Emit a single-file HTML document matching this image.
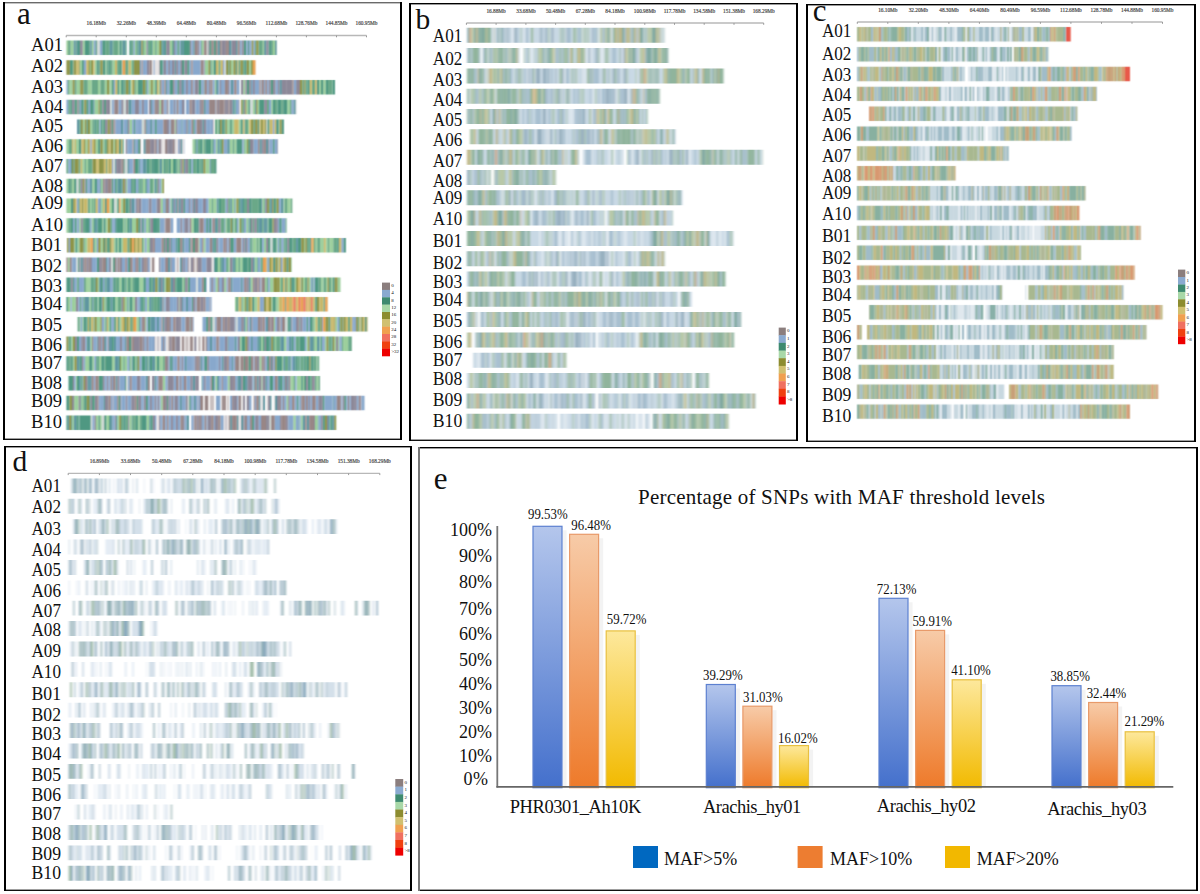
<!DOCTYPE html>
<html><head><meta charset="utf-8"><style>
html,body{margin:0;padding:0;background:#fff;width:1200px;height:894px;overflow:hidden}
svg{display:block}
text{font-family:"Liberation Serif",serif;fill:#111}
</style></head><body>
<svg width="1200" height="894" viewBox="0 0 1200 894">
<rect width="1200" height="894" fill="#fff"/>
<defs><filter id="bl" x="-1%" y="-5%" width="102%" height="110%"><feConvolveMatrix order="3 3" kernelMatrix="0.02 0.06 0.02 0.2 0.4 0.2 0.02 0.06 0.02" preserveAlpha="false"/></filter><filter id="bl2" x="-1%" y="-5%" width="102%" height="110%"><feGaussianBlur stdDeviation="0.85 0.3"/></filter><filter id="bl4" x="-1%" y="-5%" width="102%" height="110%"><feConvolveMatrix order="3 3" kernelMatrix="0.02 0.06 0.02 0.2 0.4 0.2 0.02 0.06 0.02" preserveAlpha="false"/></filter><filter id="bl3" x="-1%" y="-5%" width="102%" height="110%"><feGaussianBlur stdDeviation="0.8 0.3"/></filter><linearGradient id="gb" x1="0" y1="0" x2="0" y2="1"><stop offset="0" stop-color="#b4c6ec"/><stop offset="1" stop-color="#4470cc"/></linearGradient><linearGradient id="go" x1="0" y1="0" x2="0" y2="1"><stop offset="0" stop-color="#f7cba8"/><stop offset="1" stop-color="#ee7a2a"/></linearGradient><linearGradient id="gy" x1="0" y1="0" x2="0" y2="1"><stop offset="0" stop-color="#fde89c"/><stop offset="1" stop-color="#f2ba00"/></linearGradient></defs><g filter="url(#bl)"><path fill="#9ccf9c" d="M66.4 40.5h1.7v14.5h-1.7zM70.6 40.5h1.8v14.5h-1.8zM72.4 40.5h1.3v14.5h-1.3zM82.7 40.5h2v14.5h-2zM91.9 40.5h1.8v14.5h-1.8zM118.3 40.5h1.1v14.5h-1.1zM134.9 40.5h1.2v14.5h-1.2zM144 40.5h2.4v14.5h-2.4zM152.6 40.5h1.1v14.5h-1.1zM153.7 40.5h1.4v14.5h-1.4zM156.7 40.5h2.5v14.5h-2.5zM169.8 40.5h2.4v14.5h-2.4zM201.7 40.5h2.1v14.5h-2.1zM262.8 40.5h1.2v14.5h-1.2zM273 40.5h2v14.5h-2zM79.9 60.2h2v14.5h-2zM90 60.2h1v14.5h-1zM94.6 60.2h2.1v14.5h-2.1zM105.3 60.2h1.2v14.5h-1.2zM112.5 60.2h2.5v14.5h-2.5zM130.9 60.2h1.1v14.5h-1.1zM205 60.2h1.8v14.5h-1.8zM206.8 60.2h1.6v14.5h-1.6zM211.6 60.2h2v14.5h-2zM231.1 60.2h2.3v14.5h-2.3zM249.1 60.2h1.9v14.5h-1.9zM69.2 80h1.5v14.5h-1.5zM70.8 80h1.8v14.5h-1.8zM76.7 80h1.3v14.5h-1.3zM78 80h2.2v14.5h-2.2zM87.8 80h2v14.5h-2zM89.8 80h2v14.5h-2zM98 80h2.3v14.5h-2.3zM104.8 80h2.2v14.5h-2.2zM109.2 80h1.5v14.5h-1.5zM110.8 80h1v14.5h-1zM119.3 80h1.9v14.5h-1.9zM130.4 80h1.4v14.5h-1.4zM135.9 80h1.9v14.5h-1.9zM148.2 80h1.3v14.5h-1.3zM149.5 80h1.3v14.5h-1.3zM152.8 80h2.5v14.5h-2.5zM158.7 80h1.3v14.5h-1.3zM214.7 80h1.4v14.5h-1.4zM243.3 80h2v14.5h-2zM319.2 80h1.8v14.5h-1.8zM323.2 80h2.5v14.5h-2.5zM94.6 99.7h1.5v14.5h-1.5zM96.1 99.7h2.3v14.5h-2.3zM159.2 99.7h1.7v14.5h-1.7zM246.5 99.7h1.9v14.5h-1.9zM252.7 99.7h2.3v14.5h-2.3zM257.7 99.7h1.4v14.5h-1.4zM271.1 99.7h1.6v14.5h-1.6zM287.3 99.7h2.5v14.5h-2.5zM82.9 119.5h1.8v14.5h-1.8zM90.1 119.5h2.2v14.5h-2.2zM129.6 119.5h2.5v14.5h-2.5zM174.7 119.5h1.1v14.5h-1.1zM217.3 119.5h1.4v14.5h-1.4zM226.9 119.5h1v14.5h-1zM228 119.5h1.7v14.5h-1.7zM232.2 119.5h1.9v14.5h-1.9zM238.7 119.5h2v14.5h-2zM248.1 119.5h1.1v14.5h-1.1zM278.6 119.5h1.1v14.5h-1.1zM66.4 139.2h2.4v14.5h-2.4zM73.4 139.2h1.3v14.5h-1.3zM76 139.2h1.3v14.5h-1.3zM77.3 139.2h1.5v14.5h-1.5zM85.4 139.2h2.1v14.5h-2.1zM95.6 139.2h2.5v14.5h-2.5zM102.7 139.2h1.5v14.5h-1.5zM113.4 139.2h1.5v14.5h-1.5zM192.6 139.2h2v14.5h-2zM202.6 139.2h1.2v14.5h-1.2zM211.2 139.2h1v14.5h-1zM215.7 139.2h1.9v14.5h-1.9zM229.7 139.2h1.3v14.5h-1.3zM230.9 139.2h1.8v14.5h-1.8zM234.3 139.2h2.2v14.5h-2.2zM244.7 139.2h2.2v14.5h-2.2zM82.2 158.9h2.3v14.5h-2.3zM85.9 158.9h2v14.5h-2zM161.9 158.9h1.6v14.5h-1.6zM170.8 158.9h2.2v14.5h-2.2zM177.8 158.9h1v14.5h-1zM205.4 158.9h2.4v14.5h-2.4zM207.8 158.9h1.8v14.5h-1.8zM66.4 178.7h2v14.5h-2zM72.2 178.7h1.9v14.5h-1.9zM92.2 178.7h2.3v14.5h-2.3zM100.9 178.7h1.7v14.5h-1.7zM125.9 178.7h1.3v14.5h-1.3zM142.8 178.7h2.5v14.5h-2.5zM153.1 178.7h1.2v14.5h-1.2zM161.1 178.7h1.4v14.5h-1.4zM66.4 198.4h2.1v14.5h-2.1zM68.5 198.4h2.5v14.5h-2.5zM89.9 198.4h1.9v14.5h-1.9zM93 198.4h1.1v14.5h-1.1zM101.3 198.4h1.8v14.5h-1.8zM109.4 198.4h2.6v14.5h-2.6zM116.4 198.4h1.1v14.5h-1.1zM120.5 198.4h1.3v14.5h-1.3zM121.9 198.4h1.2v14.5h-1.2zM160.6 198.4h2.4v14.5h-2.4zM170.3 198.4h1.5v14.5h-1.5zM208.5 198.4h1.5v14.5h-1.5zM210 198.4h1.6v14.5h-1.6zM213.2 198.4h2v14.5h-2zM215.1 198.4h1.5v14.5h-1.5zM232 198.4h2.3v14.5h-2.3zM235.4 198.4h1.1v14.5h-1.1zM262.3 198.4h2.1v14.5h-2.1zM283.4 198.4h1.3v14.5h-1.3zM287.2 198.4h1.9v14.5h-1.9zM289.2 198.4h1.6v14.5h-1.6zM66.4 218.2h1.9v14.5h-1.9zM79.1 218.2h1.7v14.5h-1.7zM91.6 218.2h1.9v14.5h-1.9zM102.1 218.2h1.3v14.5h-1.3zM105.4 218.2h2.2v14.5h-2.2zM123.1 218.2h1.2v14.5h-1.2zM125.7 218.2h1.4v14.5h-1.4zM131.9 218.2h2v14.5h-2zM133.9 218.2h2.2v14.5h-2.2zM146 218.2h2.5v14.5h-2.5zM191.3 218.2h2.5v14.5h-2.5zM225.4 218.2h1.4v14.5h-1.4zM233.4 218.2h1.4v14.5h-1.4zM238.4 218.2h1.4v14.5h-1.4zM246.2 218.2h2.3v14.5h-2.3zM267.4 218.2h1v14.5h-1zM74.2 237.9h1.2v14.5h-1.2zM77.3 237.9h2.2v14.5h-2.2zM84.8 237.9h2.5v14.5h-2.5zM94.5 237.9h2.4v14.5h-2.4zM100.7 237.9h2.2v14.5h-2.2zM113.6 237.9h2v14.5h-2zM117.4 237.9h1.5v14.5h-1.5zM121.3 237.9h1.7v14.5h-1.7zM143.1 237.9h1.6v14.5h-1.6zM146.5 237.9h1.8v14.5h-1.8zM148.3 237.9h1v14.5h-1zM198.5 237.9h1.2v14.5h-1.2zM203.4 237.9h2.2v14.5h-2.2zM252.5 237.9h1.6v14.5h-1.6zM254.1 237.9h2.5v14.5h-2.5zM258.2 237.9h1.4v14.5h-1.4zM263.9 237.9h2.2v14.5h-2.2zM276.5 237.9h1.2v14.5h-1.2zM304.1 237.9h1.1v14.5h-1.1zM315.3 237.9h1.8v14.5h-1.8zM320.2 237.9h2.1v14.5h-2.1zM322.3 237.9h1.6v14.5h-1.6zM325.7 237.9h2v14.5h-2zM329.1 237.9h1.7v14.5h-1.7zM330.9 237.9h2.4v14.5h-2.4zM67.8 257.6h1.9v14.5h-1.9zM217.8 257.6h2.3v14.5h-2.3zM228.2 257.6h1.6v14.5h-1.6zM235.9 257.6h2.6v14.5h-2.6zM240.3 257.6h2.4v14.5h-2.4zM254.7 257.6h1.9v14.5h-1.9zM291 257.6h0.7v14.5h-0.7zM85.9 277.4h2.1v14.5h-2.1zM88.1 277.4h1.1v14.5h-1.1zM89.2 277.4h1.6v14.5h-1.6zM97.9 277.4h1.3v14.5h-1.3zM119.2 277.4h2.4v14.5h-2.4zM126.6 277.4h1.3v14.5h-1.3zM131 277.4h1.2v14.5h-1.2zM139.3 277.4h2.4v14.5h-2.4zM141.8 277.4h1.6v14.5h-1.6zM164.3 277.4h1.6v14.5h-1.6zM182.4 277.4h1.5v14.5h-1.5zM215.5 277.4h2.3v14.5h-2.3zM224.2 277.4h2.1v14.5h-2.1zM250.6 277.4h2.1v14.5h-2.1zM265 277.4h1.5v14.5h-1.5zM269.9 277.4h1.8v14.5h-1.8zM271.7 277.4h1.8v14.5h-1.8zM279.8 277.4h1.2v14.5h-1.2zM287.6 277.4h2.4v14.5h-2.4zM294.8 277.4h1.3v14.5h-1.3zM303 277.4h2v14.5h-2zM308.8 277.4h2v14.5h-2zM321.2 277.4h1.1v14.5h-1.1zM322.2 277.4h1.2v14.5h-1.2zM326 277.4h1.4v14.5h-1.4zM331.1 277.4h1.5v14.5h-1.5zM337.6 277.4h2.3v14.5h-2.3zM339.9 277.4h0.6v14.5h-0.6zM68 297.1h2.6v14.5h-2.6zM71.8 297.1h2v14.5h-2zM73.7 297.1h2.2v14.5h-2.2zM89.2 297.1h1.6v14.5h-1.6zM97.4 297.1h1.2v14.5h-1.2zM103.9 297.1h1.6v14.5h-1.6zM115.3 297.1h2.3v14.5h-2.3zM124.8 297.1h2.4v14.5h-2.4zM128.4 297.1h1.1v14.5h-1.1zM132.3 297.1h2.6v14.5h-2.6zM147.1 297.1h2.1v14.5h-2.1zM178.6 297.1h1v14.5h-1zM235 297.1h1.1v14.5h-1.1zM242.5 297.1h2.3v14.5h-2.3zM254.3 297.1h1.5v14.5h-1.5zM255.8 297.1h1.6v14.5h-1.6zM271.3 297.1h1.5v14.5h-1.5zM276.4 297.1h2.4v14.5h-2.4zM279.9 297.1h0.1v14.5h-0.1zM79.6 316.9h1.1v14.5h-1.1zM82.2 316.9h1.3v14.5h-1.3zM96.7 316.9h2.5v14.5h-2.5zM99.2 316.9h1.1v14.5h-1.1zM104.2 316.9h1.2v14.5h-1.2zM108.1 316.9h1.7v14.5h-1.7zM119.5 316.9h2v14.5h-2zM136.3 316.9h2.1v14.5h-2.1zM145.2 316.9h1.2v14.5h-1.2zM245.5 316.9h1.5v14.5h-1.5zM273.9 316.9h1.2v14.5h-1.2zM313.7 316.9h1.9v14.5h-1.9zM335.6 316.9h1.8v14.5h-1.8zM71.4 336.6h1.4v14.5h-1.4zM90.3 336.6h1.6v14.5h-1.6zM240 336.6h1.5v14.5h-1.5zM261.2 336.6h1.8v14.5h-1.8zM274.8 336.6h1.2v14.5h-1.2zM283.9 336.6h2.6v14.5h-2.6zM306.4 336.6h1.7v14.5h-1.7zM314.7 336.6h2.3v14.5h-2.3zM319.5 336.6h1v14.5h-1zM324.8 336.6h1.5v14.5h-1.5zM334.4 336.6h1.7v14.5h-1.7zM338.1 336.6h1.3v14.5h-1.3zM343.1 336.6h2.6v14.5h-2.6zM345.7 336.6h2.6v14.5h-2.6zM73.2 356.3h1.2v14.5h-1.2zM85.1 356.3h1.6v14.5h-1.6zM86.7 356.3h2.3v14.5h-2.3zM92.4 356.3h2v14.5h-2zM99 356.3h2.2v14.5h-2.2zM112.1 356.3h1.4v14.5h-1.4zM113.5 356.3h1.3v14.5h-1.3zM121 356.3h2.3v14.5h-2.3zM124.8 356.3h2.4v14.5h-2.4zM129.9 356.3h1.7v14.5h-1.7zM135 356.3h1.4v14.5h-1.4zM155.2 356.3h1.7v14.5h-1.7zM159.3 356.3h1.5v14.5h-1.5zM160.8 356.3h2.1v14.5h-2.1zM164.8 356.3h0.2v14.5h-0.2zM259.4 356.3h2.2v14.5h-2.2zM282.1 356.3h1.1v14.5h-1.1zM316.4 356.3h1v14.5h-1zM319.1 356.3h0.1v14.5h-0.1zM75.6 376.1h1.2v14.5h-1.2zM162.8 376.1h2.6v14.5h-2.6zM215.3 376.1h1.9v14.5h-1.9zM227.6 376.1h2.2v14.5h-2.2zM261.3 376.1h1.3v14.5h-1.3zM290.3 376.1h1v14.5h-1zM291.4 376.1h2.4v14.5h-2.4zM296.7 376.1h2v14.5h-2zM298.6 376.1h2.6v14.5h-2.6zM302.9 376.1h1.2v14.5h-1.2zM316.5 376.1h2v14.5h-2zM74.1 395.8h2.2v14.5h-2.2zM76.3 395.8h2.4v14.5h-2.4zM81.7 395.8h1.5v14.5h-1.5zM94.6 395.8h0.4v14.5h-0.4zM160.6 395.8h2.1v14.5h-2.1zM286.4 395.8h1.8v14.5h-1.8zM72.4 415.6h1.5v14.5h-1.5zM96 415.6h2.5v14.5h-2.5zM99.9 415.6h1.9v14.5h-1.9zM106.4 415.6h2.6v14.5h-2.6zM117.3 415.6h1.9v14.5h-1.9zM129.3 415.6h2.3v14.5h-2.3zM138.1 415.6h1.6v14.5h-1.6zM146.6 415.6h2.5v14.5h-2.5zM293.3 415.6h2.5v14.5h-2.5zM300.7 415.6h2v14.5h-2zM315 415.6h2.5v14.5h-2.5z"/><path fill="#6aa888" d="M68.1 40.5h2.5v14.5h-2.5zM75.7 40.5h1.2v14.5h-1.2zM89.1 40.5h1v14.5h-1zM105.2 40.5h2.2v14.5h-2.2zM107.4 40.5h2.4v14.5h-2.4zM113.3 40.5h2.5v14.5h-2.5zM115.7 40.5h2.6v14.5h-2.6zM121.7 40.5h1.1v14.5h-1.1zM131.7 40.5h1.9v14.5h-1.9zM136.1 40.5h1.2v14.5h-1.2zM142.7 40.5h1.3v14.5h-1.3zM148.9 40.5h2.2v14.5h-2.2zM155.1 40.5h1.6v14.5h-1.6zM177.7 40.5h2v14.5h-2zM254.9 40.5h1.3v14.5h-1.3zM258.5 40.5h2.4v14.5h-2.4zM260.9 40.5h1.9v14.5h-1.9zM271.7 40.5h1.3v14.5h-1.3zM276.6 40.5h0.4v14.5h-0.4zM72 60.2h1.5v14.5h-1.5zM98.7 60.2h1.6v14.5h-1.6zM106.5 60.2h2v14.5h-2zM110.1 60.2h2.4v14.5h-2.4zM117.1 60.2h2.2v14.5h-2.2zM121.2 60.2h1.3v14.5h-1.3zM125.1 60.2h1.9v14.5h-1.9zM127 60.2h1.5v14.5h-1.5zM132 60.2h1.9v14.5h-1.9zM218.4 60.2h2.2v14.5h-2.2zM238.3 60.2h2.1v14.5h-2.1zM243 60.2h1.8v14.5h-1.8zM67.5 80h1.7v14.5h-1.7zM74.5 80h2.1v14.5h-2.1zM83.3 80h2.4v14.5h-2.4zM85.7 80h2.1v14.5h-2.1zM91.8 80h2.6v14.5h-2.6zM94.4 80h1.4v14.5h-1.4zM95.8 80h2.2v14.5h-2.2zM100.3 80h2.4v14.5h-2.4zM102.7 80h2.1v14.5h-2.1zM123.7 80h2.1v14.5h-2.1zM134.5 80h1.4v14.5h-1.4zM145.2 80h2v14.5h-2zM302.3 80h1.9v14.5h-1.9zM305.3 80h2.2v14.5h-2.2zM311.9 80h1.4v14.5h-1.4zM313.2 80h1.8v14.5h-1.8zM328 80h2.4v14.5h-2.4zM330.3 80h2.3v14.5h-2.3zM68.2 99.7h2.3v14.5h-2.3zM76 99.7h1.3v14.5h-1.3zM78.8 99.7h1.1v14.5h-1.1zM83.3 99.7h1.1v14.5h-1.1zM99.8 99.7h2.5v14.5h-2.5zM242.5 99.7h1.6v14.5h-1.6zM266.9 99.7h2.1v14.5h-2.1zM275 99.7h1.3v14.5h-1.3zM276.3 99.7h1.2v14.5h-1.2zM281.2 99.7h1.9v14.5h-1.9zM289.8 99.7h1.8v14.5h-1.8zM79.3 119.5h1.7v14.5h-1.7zM92.3 119.5h2.2v14.5h-2.2zM96.4 119.5h1.2v14.5h-1.2zM97.6 119.5h1.8v14.5h-1.8zM102.4 119.5h1.5v14.5h-1.5zM215 119.5h2.3v14.5h-2.3zM223.7 119.5h1.9v14.5h-1.9zM229.7 119.5h1.4v14.5h-1.4zM231.1 119.5h1.1v14.5h-1.1zM242.1 119.5h1.1v14.5h-1.1zM245.8 119.5h2.3v14.5h-2.3zM253.3 119.5h1.8v14.5h-1.8zM68.8 139.2h1.6v14.5h-1.6zM70.4 139.2h1.6v14.5h-1.6zM104.3 139.2h1.1v14.5h-1.1zM105.4 139.2h1.5v14.5h-1.5zM194.6 139.2h1.7v14.5h-1.7zM197.7 139.2h2.4v14.5h-2.4zM203.8 139.2h1.5v14.5h-1.5zM219.4 139.2h2.6v14.5h-2.6zM232.7 139.2h1.6v14.5h-1.6zM243.5 139.2h1.2v14.5h-1.2zM66.4 158.9h2v14.5h-2zM78.7 158.9h1.9v14.5h-1.9zM84.5 158.9h1.5v14.5h-1.5zM87.9 158.9h2.6v14.5h-2.6zM90.5 158.9h2.1v14.5h-2.1zM105.9 158.9h1.4v14.5h-1.4zM149.2 158.9h2.5v14.5h-2.5zM158.2 158.9h1.6v14.5h-1.6zM165.1 158.9h2.4v14.5h-2.4zM167.5 158.9h1.2v14.5h-1.2zM176.3 158.9h1.6v14.5h-1.6zM178.9 158.9h1.6v14.5h-1.6zM188.1 158.9h1.4v14.5h-1.4zM193 158.9h2.5v14.5h-2.5zM195.5 158.9h1.3v14.5h-1.3zM199.4 158.9h2v14.5h-2zM210.8 158.9h2.1v14.5h-2.1zM212.9 158.9h2.1v14.5h-2.1zM70.2 178.7h2v14.5h-2zM78.4 178.7h2.2v14.5h-2.2zM116.6 178.7h1.1v14.5h-1.1zM132.7 178.7h1.5v14.5h-1.5zM139.5 178.7h2.1v14.5h-2.1zM149.5 178.7h2.2v14.5h-2.2zM151.6 178.7h1.5v14.5h-1.5zM156.1 178.7h1.7v14.5h-1.7zM87.6 198.4h2.3v14.5h-2.3zM91.8 198.4h1.2v14.5h-1.2zM128.5 198.4h1.4v14.5h-1.4zM129.9 198.4h0.1v14.5h-0.1zM211.6 198.4h1.6v14.5h-1.6zM221 198.4h2.3v14.5h-2.3zM223.2 198.4h2.4v14.5h-2.4zM228.2 198.4h2.3v14.5h-2.3zM244.8 198.4h2.2v14.5h-2.2zM251.5 198.4h2.3v14.5h-2.3zM253.8 198.4h2.2v14.5h-2.2zM256 198.4h1.7v14.5h-1.7zM257.7 198.4h1.2v14.5h-1.2zM268.9 198.4h1.3v14.5h-1.3zM275 198.4h1.7v14.5h-1.7zM284.7 198.4h1.3v14.5h-1.3zM286 198.4h1.3v14.5h-1.3zM290.8 198.4h1.5v14.5h-1.5zM68.3 218.2h2.6v14.5h-2.6zM82.7 218.2h2.5v14.5h-2.5zM110.1 218.2h2.1v14.5h-2.1zM124.3 218.2h1.4v14.5h-1.4zM143.1 218.2h1.4v14.5h-1.4zM148.5 218.2h1.9v14.5h-1.9zM159.4 218.2h0.6v14.5h-0.6zM220.5 218.2h2.3v14.5h-2.3zM222.8 218.2h1.5v14.5h-1.5zM226.8 218.2h1.8v14.5h-1.8zM228.6 218.2h2.1v14.5h-2.1zM234.8 218.2h2.3v14.5h-2.3zM242.5 218.2h1.5v14.5h-1.5zM252.6 218.2h1.6v14.5h-1.6zM262.1 218.2h1.6v14.5h-1.6zM285.3 218.2h1.3v14.5h-1.3zM83.3 237.9h1.5v14.5h-1.5zM106.6 237.9h1.4v14.5h-1.4zM127.2 237.9h2.5v14.5h-2.5zM250 237.9h1.4v14.5h-1.4zM256.6 237.9h1.7v14.5h-1.7zM279.2 237.9h2.2v14.5h-2.2zM283.5 237.9h2.1v14.5h-2.1zM292.7 237.9h2.1v14.5h-2.1zM294.8 237.9h1.2v14.5h-1.2zM307 237.9h2.5v14.5h-2.5zM314 237.9h1.4v14.5h-1.4zM317.2 237.9h1.6v14.5h-1.6zM318.8 237.9h1.4v14.5h-1.4zM327.7 237.9h1.5v14.5h-1.5zM333.3 237.9h1.6v14.5h-1.6zM334.9 237.9h2.6v14.5h-2.6zM226.1 257.6h2.2v14.5h-2.2zM238.4 257.6h1.8v14.5h-1.8zM247.8 257.6h1.2v14.5h-1.2zM256.6 257.6h1.3v14.5h-1.3zM260.3 257.6h1.3v14.5h-1.3zM261.7 257.6h1.3v14.5h-1.3zM266.5 257.6h1.1v14.5h-1.1zM277.6 257.6h1.1v14.5h-1.1zM77.6 277.4h1.4v14.5h-1.4zM83.9 277.4h2v14.5h-2zM91.8 277.4h2.6v14.5h-2.6zM115.7 277.4h2.4v14.5h-2.4zM124.1 277.4h1.2v14.5h-1.2zM129.1 277.4h1.9v14.5h-1.9zM132.2 277.4h1.8v14.5h-1.8zM151.5 277.4h1.5v14.5h-1.5zM157.3 277.4h1.3v14.5h-1.3zM175 277.4h1.2v14.5h-1.2zM183.9 277.4h1.3v14.5h-1.3zM187.6 277.4h1.4v14.5h-1.4zM266.5 277.4h1.8v14.5h-1.8zM281 277.4h2v14.5h-2zM284.7 277.4h1.6v14.5h-1.6zM300.6 277.4h1.2v14.5h-1.2zM305 277.4h2.4v14.5h-2.4zM318.7 277.4h2.4v14.5h-2.4zM323.5 277.4h2.5v14.5h-2.5zM328.9 277.4h2.2v14.5h-2.2zM80 297.1h1.6v14.5h-1.6zM83.2 297.1h1.6v14.5h-1.6zM90.8 297.1h1.4v14.5h-1.4zM93.4 297.1h2.5v14.5h-2.5zM105.4 297.1h1.3v14.5h-1.3zM117.6 297.1h1v14.5h-1zM118.6 297.1h2v14.5h-2zM120.6 297.1h1.1v14.5h-1.1zM143.4 297.1h1.8v14.5h-1.8zM153.7 297.1h2.5v14.5h-2.5zM156.2 297.1h1.7v14.5h-1.7zM159.8 297.1h0.2v14.5h-0.2zM236.1 297.1h2.5v14.5h-2.5zM246.1 297.1h1v14.5h-1zM275.1 297.1h1.3v14.5h-1.3zM284.8 297.1h1.4v14.5h-1.4zM314.8 297.1h2.3v14.5h-2.3zM323.4 297.1h1.8v14.5h-1.8zM77.6 316.9h2v14.5h-2zM86.5 316.9h1.5v14.5h-1.5zM89 316.9h2.2v14.5h-2.2zM113.9 316.9h2.5v14.5h-2.5zM130.1 316.9h2.3v14.5h-2.3zM138.5 316.9h1.5v14.5h-1.5zM312.2 316.9h1.5v14.5h-1.5zM317.4 316.9h1.5v14.5h-1.5zM318.9 316.9h1.6v14.5h-1.6zM339 316.9h1.5v14.5h-1.5zM347.9 316.9h2.1v14.5h-2.1zM357.7 316.9h1.6v14.5h-1.6zM360.4 316.9h1.1v14.5h-1.1zM68.3 336.6h1.7v14.5h-1.7zM70 336.6h1.4v14.5h-1.4zM273 336.6h1.9v14.5h-1.9zM276.1 336.6h1.8v14.5h-1.8zM277.9 336.6h1.3v14.5h-1.3zM279.2 336.6h1.2v14.5h-1.2zM295.5 336.6h2.2v14.5h-2.2zM297.7 336.6h2v14.5h-2zM313.1 336.6h1.6v14.5h-1.6zM328.3 336.6h1.4v14.5h-1.4zM329.7 336.6h1.8v14.5h-1.8zM341.5 336.6h1.6v14.5h-1.6zM348.2 336.6h2v14.5h-2zM350.2 336.6h1.6v14.5h-1.6zM68.1 356.3h2.5v14.5h-2.5zM71.9 356.3h1.3v14.5h-1.3zM95.9 356.3h1.7v14.5h-1.7zM104.5 356.3h1.5v14.5h-1.5zM123.3 356.3h1.5v14.5h-1.5zM147.1 356.3h1.5v14.5h-1.5zM163 356.3h1.8v14.5h-1.8zM284.8 356.3h1.3v14.5h-1.3zM286.1 356.3h2v14.5h-2zM290.3 356.3h1.2v14.5h-1.2zM297.7 356.3h1.7v14.5h-1.7zM300.6 356.3h1.5v14.5h-1.5zM302.1 356.3h1.4v14.5h-1.4zM304.8 356.3h2.1v14.5h-2.1zM313.6 356.3h1.6v14.5h-1.6zM315.2 356.3h1.3v14.5h-1.3zM317.5 356.3h1.6v14.5h-1.6zM80.9 376.1h1.5v14.5h-1.5zM293.7 376.1h1.6v14.5h-1.6zM310.4 376.1h1.7v14.5h-1.7zM314.7 376.1h1.8v14.5h-1.8zM318.5 376.1h1.5v14.5h-1.5zM80.3 395.8h1.4v14.5h-1.4zM83.2 395.8h1.7v14.5h-1.7zM78.6 415.6h1v14.5h-1zM121 415.6h2.3v14.5h-2.3zM125.7 415.6h1.6v14.5h-1.6zM127.3 415.6h1.1v14.5h-1.1zM132.7 415.6h2.2v14.5h-2.2zM135 415.6h1.2v14.5h-1.2zM139.7 415.6h2.2v14.5h-2.2zM317.5 415.6h1v14.5h-1zM329.7 415.6h1v14.5h-1z"/><path fill="#5e96a0" d="M73.7 40.5h2v14.5h-2zM76.9 40.5h1.1v14.5h-1.1zM90.2 40.5h1.7v14.5h-1.7zM109.7 40.5h2.5v14.5h-2.5zM122.8 40.5h2.5v14.5h-2.5zM138.6 40.5h2.6v14.5h-2.6zM162.4 40.5h2.5v14.5h-2.5zM176.3 40.5h1.4v14.5h-1.4zM182.1 40.5h1.9v14.5h-1.9zM193.2 40.5h1.6v14.5h-1.6zM217.5 40.5h2.4v14.5h-2.4zM229 40.5h2.6v14.5h-2.6zM235.9 40.5h1.7v14.5h-1.7zM264.1 40.5h2.3v14.5h-2.3zM275 40.5h1.5v14.5h-1.5zM162.4 60.2h1.3v14.5h-1.3zM174.5 60.2h1.6v14.5h-1.6zM165.6 80h1.6v14.5h-1.6zM181.3 80h2.6v14.5h-2.6zM203.4 80h1.2v14.5h-1.2zM216.1 80h2.5v14.5h-2.5zM230.9 80h2.2v14.5h-2.2zM250.7 80h1.2v14.5h-1.2zM279.4 80h2.5v14.5h-2.5zM93.3 99.7h1.3v14.5h-1.3zM128.3 99.7h1v14.5h-1zM129.3 99.7h2.4v14.5h-2.4zM150.9 99.7h1.3v14.5h-1.3zM203.6 99.7h2.2v14.5h-2.2zM232.3 99.7h2.1v14.5h-2.1zM255 99.7h1.2v14.5h-1.2zM293.5 99.7h2.2v14.5h-2.2zM77 119.5h2.3v14.5h-2.3zM109.8 119.5h0.2v14.5h-0.2zM121 119.5h2.4v14.5h-2.4zM127.1 119.5h1v14.5h-1zM145.6 119.5h1.3v14.5h-1.3zM150.1 119.5h2.4v14.5h-2.4zM181.3 119.5h1.4v14.5h-1.4zM187.5 119.5h1.3v14.5h-1.3zM202.3 119.5h1.8v14.5h-1.8zM133.6 139.2h1.9v14.5h-1.9zM143.6 139.2h2.1v14.5h-2.1zM180.6 139.2h2v14.5h-2zM196.3 139.2h1.4v14.5h-1.4zM217.5 139.2h1.9v14.5h-1.9zM227.2 139.2h2.5v14.5h-2.5zM259.5 139.2h2.3v14.5h-2.3zM265.9 139.2h2.3v14.5h-2.3zM114.9 158.9h1.3v14.5h-1.3zM127.3 158.9h1.7v14.5h-1.7zM138.6 158.9h1.8v14.5h-1.8zM142.7 158.9h1.6v14.5h-1.6zM144.3 158.9h2.3v14.5h-2.3zM159.9 158.9h2.1v14.5h-2.1zM183.7 158.9h1.5v14.5h-1.5zM209.6 158.9h1.2v14.5h-1.2zM89.7 178.7h2.5v14.5h-2.5zM99.5 178.7h1.4v14.5h-1.4zM117.6 178.7h2.4v14.5h-2.4zM121.2 178.7h1.6v14.5h-1.6zM154.4 178.7h1.7v14.5h-1.7zM163.9 178.7h0.1v14.5h-0.1zM131.2 198.4h1v14.5h-1zM132.2 198.4h2.5v14.5h-2.5zM164.6 198.4h1.2v14.5h-1.2zM171.8 198.4h2v14.5h-2zM178.8 198.4h2v14.5h-2zM194 198.4h1.1v14.5h-1.1zM216.7 198.4h1.8v14.5h-1.8zM230.5 198.4h1.5v14.5h-1.5zM234.3 198.4h1.1v14.5h-1.1zM240.4 198.4h2.5v14.5h-2.5zM261.1 198.4h1.2v14.5h-1.2zM270.2 198.4h1.9v14.5h-1.9zM280.6 198.4h1.6v14.5h-1.6zM282.2 198.4h1.2v14.5h-1.2zM76.4 218.2h1.1v14.5h-1.1zM89.1 218.2h1.5v14.5h-1.5zM95.1 218.2h2.5v14.5h-2.5zM114.7 218.2h1.5v14.5h-1.5zM129.6 218.2h2.4v14.5h-2.4zM141.5 218.2h1.6v14.5h-1.6zM215 218.2h2.2v14.5h-2.2zM224.4 218.2h1v14.5h-1zM248.4 218.2h1.1v14.5h-1.1zM258.3 218.2h2.3v14.5h-2.3zM260.6 218.2h1.5v14.5h-1.5zM263.7 218.2h1.9v14.5h-1.9zM265.7 218.2h1.8v14.5h-1.8zM170.7 237.9h1.5v14.5h-1.5zM175.3 237.9h2.3v14.5h-2.3zM182.3 237.9h2.1v14.5h-2.1zM212.2 237.9h2.3v14.5h-2.3zM244.8 237.9h1.1v14.5h-1.1zM296 237.9h1.9v14.5h-1.9zM80.5 257.6h2.3v14.5h-2.3zM106 257.6h1.5v14.5h-1.5zM138.4 257.6h2.3v14.5h-2.3zM168 257.6h2.4v14.5h-2.4zM179.9 257.6h2v14.5h-2zM213.7 257.6h1.3v14.5h-1.3zM221.6 257.6h2.4v14.5h-2.4zM232.3 257.6h2.5v14.5h-2.5zM253 257.6h1.7v14.5h-1.7zM99.2 277.4h1.8v14.5h-1.8zM104.2 277.4h1.1v14.5h-1.1zM106.4 277.4h1.7v14.5h-1.7zM108.1 277.4h2v14.5h-2zM112.3 277.4h1.1v14.5h-1.1zM153 277.4h2.2v14.5h-2.2zM158.6 277.4h2.4v14.5h-2.4zM162.2 277.4h2.2v14.5h-2.2zM170.4 277.4h2.6v14.5h-2.6zM230.7 277.4h1.9v14.5h-1.9zM240.7 277.4h2v14.5h-2zM248.7 277.4h1.9v14.5h-1.9zM84.7 297.1h2.4v14.5h-2.4zM87.1 297.1h2.1v14.5h-2.1zM92.2 297.1h1.2v14.5h-1.2zM101.1 297.1h1.4v14.5h-1.4zM110.6 297.1h2v14.5h-2zM127.2 297.1h1.2v14.5h-1.2zM139.6 297.1h1.8v14.5h-1.8zM149.2 297.1h2.3v14.5h-2.3zM160 297.1h2.4v14.5h-2.4zM163.4 297.1h1.1v14.5h-1.1zM182 297.1h1.3v14.5h-1.3zM185.8 297.1h2.2v14.5h-2.2zM150.3 316.9h2.5v14.5h-2.5zM152.8 316.9h2.4v14.5h-2.4zM157 316.9h2.2v14.5h-2.2zM162.6 316.9h1.8v14.5h-1.8zM189.7 316.9h1v14.5h-1zM243.8 316.9h1.7v14.5h-1.7zM249.7 316.9h1.5v14.5h-1.5zM265.8 316.9h2.2v14.5h-2.2zM289.9 316.9h1.4v14.5h-1.4zM299.2 316.9h1.1v14.5h-1.1zM87.9 336.6h2.4v14.5h-2.4zM96.7 336.6h1.1v14.5h-1.1zM104.1 336.6h2.3v14.5h-2.3zM108.9 336.6h1v14.5h-1zM109.9 336.6h2.1v14.5h-2.1zM113.8 336.6h2.3v14.5h-2.3zM124.8 336.6h1.7v14.5h-1.7zM210 336.6h2.1v14.5h-2.1zM227.5 336.6h1.3v14.5h-1.3zM234.3 336.6h2.4v14.5h-2.4zM250.8 336.6h2.1v14.5h-2.1zM257.2 336.6h2.3v14.5h-2.3zM269.7 336.6h1.5v14.5h-1.5zM280.4 336.6h2.2v14.5h-2.2zM282.6 336.6h1.4v14.5h-1.4zM288.9 336.6h1.6v14.5h-1.6zM290.4 336.6h1.4v14.5h-1.4zM309.4 336.6h1.1v14.5h-1.1zM310.6 336.6h2.6v14.5h-2.6zM317 336.6h2.6v14.5h-2.6zM76.8 356.3h2.6v14.5h-2.6zM114.8 356.3h1.4v14.5h-1.4zM116.2 356.3h2.6v14.5h-2.6zM128.6 356.3h1.3v14.5h-1.3zM131.6 356.3h1v14.5h-1zM145.5 356.3h1.6v14.5h-1.6zM148.7 356.3h1.1v14.5h-1.1zM152.1 356.3h1.6v14.5h-1.6zM153.7 356.3h1.5v14.5h-1.5zM171.7 356.3h1.6v14.5h-1.6zM185 356.3h1.8v14.5h-1.8zM200.4 356.3h1.7v14.5h-1.7zM203.7 356.3h1.1v14.5h-1.1zM221.8 356.3h1.9v14.5h-1.9zM232 356.3h1.4v14.5h-1.4zM270.9 356.3h1.1v14.5h-1.1zM283.2 356.3h1.7v14.5h-1.7zM288.2 356.3h2.1v14.5h-2.1zM293 356.3h2.6v14.5h-2.6zM79 376.1h1.8v14.5h-1.8zM82.4 376.1h1.1v14.5h-1.1zM87.3 376.1h2.2v14.5h-2.2zM89.6 376.1h2.1v14.5h-2.1zM115.6 376.1h1.8v14.5h-1.8zM145.6 376.1h2.3v14.5h-2.3zM154.4 376.1h2.1v14.5h-2.1zM192.7 376.1h2.5v14.5h-2.5zM201.6 376.1h1.2v14.5h-1.2zM217.1 376.1h2.1v14.5h-2.1zM237.3 376.1h2.2v14.5h-2.2zM239.5 376.1h1.6v14.5h-1.6zM245.1 376.1h2.6v14.5h-2.6zM253.6 376.1h1.2v14.5h-1.2zM256.7 376.1h1.9v14.5h-1.9zM265.3 376.1h1.8v14.5h-1.8zM277.6 376.1h2.5v14.5h-2.5zM287.1 376.1h1.2v14.5h-1.2zM103.3 395.8h1.8v14.5h-1.8zM179.7 395.8h2.2v14.5h-2.2zM193.6 395.8h2.3v14.5h-2.3zM258.7 395.8h1.8v14.5h-1.8zM262.6 395.8h2.4v14.5h-2.4zM269.9 395.8h1.5v14.5h-1.5zM274.8 395.8h2.2v14.5h-2.2zM332.8 395.8h1v14.5h-1zM67.8 415.6h1.3v14.5h-1.3zM73.9 415.6h2.3v14.5h-2.3zM110.1 415.6h2.5v14.5h-2.5zM115.8 415.6h1.5v14.5h-1.5zM149.1 415.6h1.3v14.5h-1.3zM186.4 415.6h2.6v14.5h-2.6zM230.2 415.6h1.9v14.5h-1.9zM236.7 415.6h2v14.5h-2zM240.9 415.6h2.4v14.5h-2.4zM244.7 415.6h0.3v14.5h-0.3zM298.3 415.6h1.3v14.5h-1.3zM302.7 415.6h2.5v14.5h-2.5zM306.7 415.6h2.5v14.5h-2.5zM328 415.6h1.7v14.5h-1.7zM332.2 415.6h2.1v14.5h-2.1z"/><path fill="#4f9882" d="M78 40.5h2.1v14.5h-2.1zM84.7 40.5h1.3v14.5h-1.3zM86 40.5h1.8v14.5h-1.8zM87.8 40.5h1.3v14.5h-1.3zM95.5 40.5h1.7v14.5h-1.7zM102.2 40.5h1.5v14.5h-1.5zM103.7 40.5h1.5v14.5h-1.5zM112.3 40.5h1v14.5h-1zM119.4 40.5h2.2v14.5h-2.2zM125.3 40.5h1.2v14.5h-1.2zM126.5 40.5h0.1v14.5h-0.1zM129.4 40.5h2.3v14.5h-2.3zM137.3 40.5h1.3v14.5h-1.3zM147.5 40.5h1.3v14.5h-1.3zM151.1 40.5h1.5v14.5h-1.5zM161.1 40.5h1.3v14.5h-1.3zM164.9 40.5h1.4v14.5h-1.4zM172.2 40.5h1.7v14.5h-1.7zM181 40.5h1.1v14.5h-1.1zM184 40.5h2v14.5h-2zM186 40.5h2.5v14.5h-2.5zM188.4 40.5h1v14.5h-1zM189.5 40.5h0.5v14.5h-0.5zM200.7 40.5h1v14.5h-1zM209.3 40.5h2.2v14.5h-2.2zM213.6 40.5h2.3v14.5h-2.3zM243.7 40.5h1.3v14.5h-1.3zM245 40.5h1.4v14.5h-1.4zM247.9 40.5h1.3v14.5h-1.3zM268.5 40.5h1.4v14.5h-1.4zM270 40.5h1.7v14.5h-1.7zM69.9 60.2h2.1v14.5h-2.1zM81.9 60.2h2v14.5h-2zM96.7 60.2h2v14.5h-2zM102.8 60.2h2.5v14.5h-2.5zM108.5 60.2h1.6v14.5h-1.6zM119.2 60.2h2v14.5h-2zM160 60.2h2.4v14.5h-2.4zM182 60.2h2.5v14.5h-2.5zM187.2 60.2h2.3v14.5h-2.3zM210.3 60.2h1.3v14.5h-1.3zM213.6 60.2h2.4v14.5h-2.4zM228.3 60.2h1.4v14.5h-1.4zM235.7 60.2h1.6v14.5h-1.6zM244.8 60.2h1.8v14.5h-1.8zM111.8 80h2v14.5h-2zM117.2 80h2.1v14.5h-2.1zM121.1 80h2.6v14.5h-2.6zM128.4 80h2v14.5h-2zM137.8 80h2.5v14.5h-2.5zM140.3 80h2.6v14.5h-2.6zM155.3 80h1.8v14.5h-1.8zM169.4 80h2.6v14.5h-2.6zM172 80h1.1v14.5h-1.1zM177.3 80h1.8v14.5h-1.8zM198.6 80h2.6v14.5h-2.6zM246.9 80h2.2v14.5h-2.2zM270.6 80h2.5v14.5h-2.5zM307.5 80h1.1v14.5h-1.1zM308.6 80h1.2v14.5h-1.2zM316.7 80h2.5v14.5h-2.5zM321 80h2.2v14.5h-2.2zM325.7 80h2.3v14.5h-2.3zM332.7 80h2.3v14.5h-2.3zM70.5 99.7h1.7v14.5h-1.7zM74.4 99.7h1.6v14.5h-1.6zM81.1 99.7h2.2v14.5h-2.2zM86.3 99.7h1.1v14.5h-1.1zM87.4 99.7h1.3v14.5h-1.3zM90.1 99.7h2v14.5h-2zM92 99.7h1.3v14.5h-1.3zM104.1 99.7h0.9v14.5h-0.9zM105 99.7h1.1v14.5h-1.1zM234.5 99.7h1.3v14.5h-1.3zM248.4 99.7h1.9v14.5h-1.9zM259.1 99.7h2.3v14.5h-2.3zM261.4 99.7h1.9v14.5h-1.9zM263.3 99.7h1.1v14.5h-1.1zM272.7 99.7h2.3v14.5h-2.3zM277.5 99.7h1.9v14.5h-1.9zM279.4 99.7h1.8v14.5h-1.8zM283.2 99.7h2v14.5h-2zM285.2 99.7h2.1v14.5h-2.1zM86.4 119.5h1.5v14.5h-1.5zM94.5 119.5h1.9v14.5h-1.9zM100.5 119.5h1.8v14.5h-1.8zM103.9 119.5h1.4v14.5h-1.4zM111.4 119.5h1.9v14.5h-1.9zM133.8 119.5h1.5v14.5h-1.5zM154.7 119.5h2.1v14.5h-2.1zM193.2 119.5h1.6v14.5h-1.6zM218.6 119.5h1.4v14.5h-1.4zM221.8 119.5h2v14.5h-2zM240.7 119.5h1.4v14.5h-1.4zM244.5 119.5h1.3v14.5h-1.3zM257.7 119.5h1.7v14.5h-1.7zM267.3 119.5h2.2v14.5h-2.2zM276.1 119.5h2.6v14.5h-2.6zM281.7 119.5h1.5v14.5h-1.5zM283.3 119.5h0.7v14.5h-0.7zM78.8 139.2h2.6v14.5h-2.6zM98.1 139.2h2.2v14.5h-2.2zM118.9 139.2h2.2v14.5h-2.2zM122.3 139.2h1.4v14.5h-1.4zM138.1 139.2h2.1v14.5h-2.1zM200.1 139.2h2.5v14.5h-2.5zM205.3 139.2h2.6v14.5h-2.6zM207.8 139.2h1.3v14.5h-1.3zM209.1 139.2h2.1v14.5h-2.1zM212.2 139.2h1.6v14.5h-1.6zM236.5 139.2h1.4v14.5h-1.4zM237.9 139.2h1.5v14.5h-1.5zM239.4 139.2h1.8v14.5h-1.8zM241.2 139.2h1.1v14.5h-1.1zM248.2 139.2h1.8v14.5h-1.8zM272.8 139.2h1.9v14.5h-1.9zM70.9 158.9h1.1v14.5h-1.1zM73.2 158.9h1.5v14.5h-1.5zM123.4 158.9h1.4v14.5h-1.4zM135 158.9h1v14.5h-1zM136 158.9h2.5v14.5h-2.5zM146.6 158.9h2.6v14.5h-2.6zM151.7 158.9h2.1v14.5h-2.1zM153.9 158.9h2.5v14.5h-2.5zM156.3 158.9h1.9v14.5h-1.9zM163.5 158.9h1.6v14.5h-1.6zM168.7 158.9h2.2v14.5h-2.2zM173 158.9h2.1v14.5h-2.1zM175.1 158.9h1.2v14.5h-1.2zM189.4 158.9h2.1v14.5h-2.1zM196.8 158.9h2.6v14.5h-2.6zM201.4 158.9h2v14.5h-2zM214.9 158.9h1.5v14.5h-1.5zM68.4 178.7h1.8v14.5h-1.8zM74.1 178.7h2.5v14.5h-2.5zM85.6 178.7h1.8v14.5h-1.8zM94.5 178.7h2.6v14.5h-2.6zM102.6 178.7h0.4v14.5h-0.4zM111.6 178.7h1.9v14.5h-1.9zM115 178.7h1.6v14.5h-1.6zM120 178.7h1.2v14.5h-1.2zM131 178.7h1.7v14.5h-1.7zM134.2 178.7h2v14.5h-2zM138.2 178.7h1.3v14.5h-1.3zM141.6 178.7h1.2v14.5h-1.2zM145.3 178.7h1.6v14.5h-1.6zM71 198.4h2.2v14.5h-2.2zM78.3 198.4h1.5v14.5h-1.5zM94.1 198.4h1.6v14.5h-1.6zM100.2 198.4h1v14.5h-1zM104.8 198.4h2.1v14.5h-2.1zM112 198.4h2.3v14.5h-2.3zM117.5 198.4h1.6v14.5h-1.6zM125.3 198.4h1.3v14.5h-1.3zM126.5 198.4h2v14.5h-2zM176.1 198.4h1.2v14.5h-1.2zM183.3 198.4h1.8v14.5h-1.8zM218.5 198.4h1.1v14.5h-1.1zM219.6 198.4h1.4v14.5h-1.4zM238.4 198.4h2v14.5h-2zM242.9 198.4h1.9v14.5h-1.9zM249.1 198.4h2.5v14.5h-2.5zM258.9 198.4h2.2v14.5h-2.2zM264.3 198.4h1.2v14.5h-1.2zM273.3 198.4h1.8v14.5h-1.8zM70.9 218.2h2.1v14.5h-2.1zM74.4 218.2h1.9v14.5h-1.9zM85.1 218.2h1.8v14.5h-1.8zM86.9 218.2h2.2v14.5h-2.2zM93.5 218.2h1.5v14.5h-1.5zM97.6 218.2h2.3v14.5h-2.3zM99.9 218.2h2.3v14.5h-2.3zM103.5 218.2h2v14.5h-2zM116.2 218.2h2.2v14.5h-2.2zM118.4 218.2h1.4v14.5h-1.4zM119.8 218.2h1.9v14.5h-1.9zM121.6 218.2h1.5v14.5h-1.5zM127.2 218.2h2.4v14.5h-2.4zM138.2 218.2h2.2v14.5h-2.2zM153 218.2h2.1v14.5h-2.1zM155 218.2h2.4v14.5h-2.4zM157.5 218.2h1.9v14.5h-1.9zM193.8 218.2h2.5v14.5h-2.5zM196.4 218.2h2.4v14.5h-2.4zM206.2 218.2h1.8v14.5h-1.8zM209.1 218.2h2.4v14.5h-2.4zM217.2 218.2h1v14.5h-1zM232.1 218.2h1.3v14.5h-1.3zM241.2 218.2h1.3v14.5h-1.3zM249.6 218.2h1.4v14.5h-1.4zM256.7 218.2h1.6v14.5h-1.6zM268.4 218.2h1.6v14.5h-1.6zM270 218.2h2.5v14.5h-2.5zM279.2 218.2h2.5v14.5h-2.5zM75.4 237.9h1.9v14.5h-1.9zM92.8 237.9h1.7v14.5h-1.7zM104 237.9h1.3v14.5h-1.3zM108 237.9h1.8v14.5h-1.8zM115.6 237.9h1.8v14.5h-1.8zM118.9 237.9h2.4v14.5h-2.4zM141.9 237.9h1.2v14.5h-1.2zM149.3 237.9h0.7v14.5h-0.7zM163.8 237.9h1.4v14.5h-1.4zM167 237.9h1.9v14.5h-1.9zM177.6 237.9h2.6v14.5h-2.6zM189 237.9h1.4v14.5h-1.4zM193 237.9h2v14.5h-2zM214.4 237.9h1.9v14.5h-1.9zM230.2 237.9h2.1v14.5h-2.1zM232.3 237.9h1.5v14.5h-1.5zM251.4 237.9h1.1v14.5h-1.1zM259.6 237.9h2.5v14.5h-2.5zM268.1 237.9h2.4v14.5h-2.4zM272.4 237.9h1.8v14.5h-1.8zM274.3 237.9h2.2v14.5h-2.2zM285.7 237.9h1.7v14.5h-1.7zM289.1 237.9h2.4v14.5h-2.4zM291.5 237.9h1.1v14.5h-1.1zM298 237.9h2.1v14.5h-2.1zM300.1 237.9h1.1v14.5h-1.1zM309.5 237.9h1.8v14.5h-1.8zM337.4 237.9h1.6v14.5h-1.6zM343.4 237.9h2v14.5h-2zM345.5 237.9h0.5v14.5h-0.5zM78 257.6h1.3v14.5h-1.3zM96.9 257.6h2.2v14.5h-2.2zM113 257.6h1.9v14.5h-1.9zM128.1 257.6h1.9v14.5h-1.9zM215 257.6h1.4v14.5h-1.4zM216.4 257.6h1.5v14.5h-1.5zM220.1 257.6h1.5v14.5h-1.5zM234.8 257.6h1.1v14.5h-1.1zM242.6 257.6h2.6v14.5h-2.6zM245.2 257.6h2.6v14.5h-2.6zM249 257.6h2v14.5h-2zM273.1 257.6h2.3v14.5h-2.3zM286.5 257.6h2v14.5h-2zM66.4 277.4h2.3v14.5h-2.3zM68.7 277.4h2.1v14.5h-2.1zM72.7 277.4h1.4v14.5h-1.4zM76.5 277.4h1.1v14.5h-1.1zM90.8 277.4h1.1v14.5h-1.1zM94.4 277.4h1.5v14.5h-1.5zM101 277.4h1.9v14.5h-1.9zM105.3 277.4h1.1v14.5h-1.1zM113.4 277.4h1.2v14.5h-1.2zM114.6 277.4h1.1v14.5h-1.1zM118.1 277.4h1.1v14.5h-1.1zM121.6 277.4h2.5v14.5h-2.5zM125.3 277.4h1.3v14.5h-1.3zM127.9 277.4h1.3v14.5h-1.3zM134.1 277.4h1.8v14.5h-1.8zM135.8 277.4h2v14.5h-2zM137.8 277.4h1.5v14.5h-1.5zM143.4 277.4h2.5v14.5h-2.5zM149.1 277.4h2.5v14.5h-2.5zM176.3 277.4h1.9v14.5h-1.9zM178.2 277.4h2.2v14.5h-2.2zM180.4 277.4h2v14.5h-2zM189 277.4h1v14.5h-1zM203.6 277.4h2.4v14.5h-2.4zM291.2 277.4h2.4v14.5h-2.4zM293.7 277.4h1.1v14.5h-1.1zM312.2 277.4h1.3v14.5h-1.3zM314.7 277.4h2.5v14.5h-2.5zM317.2 277.4h1.5v14.5h-1.5zM332.6 277.4h2.1v14.5h-2.1zM66.4 297.1h1.6v14.5h-1.6zM95.8 297.1h1.6v14.5h-1.6zM98.7 297.1h2.4v14.5h-2.4zM106.8 297.1h1.7v14.5h-1.7zM108.4 297.1h2.2v14.5h-2.2zM112.6 297.1h1.5v14.5h-1.5zM114.1 297.1h1.2v14.5h-1.2zM129.5 297.1h1.2v14.5h-1.2zM130.7 297.1h1.7v14.5h-1.7zM141.3 297.1h2.1v14.5h-2.1zM151.4 297.1h1.1v14.5h-1.1zM152.6 297.1h1.1v14.5h-1.1zM157.9 297.1h1.9v14.5h-1.9zM191.7 297.1h1.4v14.5h-1.4zM241.3 297.1h1.2v14.5h-1.2zM247.1 297.1h1.4v14.5h-1.4zM252.1 297.1h2.2v14.5h-2.2zM272.7 297.1h2.3v14.5h-2.3zM83.5 316.9h1.2v14.5h-1.2zM84.7 316.9h1.8v14.5h-1.8zM93.4 316.9h1.1v14.5h-1.1zM105.4 316.9h1.4v14.5h-1.4zM109.7 316.9h1.7v14.5h-1.7zM117.7 316.9h1.7v14.5h-1.7zM125.1 316.9h1.3v14.5h-1.3zM147.7 316.9h2.5v14.5h-2.5zM206.1 316.9h2.1v14.5h-2.1zM210.3 316.9h2.3v14.5h-2.3zM287.4 316.9h2.4v14.5h-2.4zM306.4 316.9h1.8v14.5h-1.8zM310 316.9h2.2v14.5h-2.2zM328.5 316.9h2v14.5h-2zM342.3 316.9h1v14.5h-1zM364.6 316.9h1.7v14.5h-1.7zM76.9 336.6h2.1v14.5h-2.1zM86.7 336.6h1.2v14.5h-1.2zM112 336.6h1.8v14.5h-1.8zM129 336.6h2.4v14.5h-2.4zM241.5 336.6h1.5v14.5h-1.5zM243 336.6h2.5v14.5h-2.5zM259.4 336.6h1.8v14.5h-1.8zM263 336.6h1.8v14.5h-1.8zM266 336.6h1.5v14.5h-1.5zM267.5 336.6h2.2v14.5h-2.2zM291.9 336.6h1.9v14.5h-1.9zM299.7 336.6h1v14.5h-1zM300.7 336.6h2.3v14.5h-2.3zM303 336.6h1.9v14.5h-1.9zM320.6 336.6h1.7v14.5h-1.7zM331.5 336.6h1.3v14.5h-1.3zM66.4 356.3h1.7v14.5h-1.7zM70.5 356.3h1.4v14.5h-1.4zM79.4 356.3h2.5v14.5h-2.5zM89.1 356.3h2.2v14.5h-2.2zM91.2 356.3h1.2v14.5h-1.2zM97.6 356.3h1.4v14.5h-1.4zM101.2 356.3h1.4v14.5h-1.4zM102.5 356.3h2v14.5h-2zM106 356.3h1.2v14.5h-1.2zM107.2 356.3h2.5v14.5h-2.5zM109.7 356.3h2.4v14.5h-2.4zM118.8 356.3h1.2v14.5h-1.2zM132.6 356.3h2.4v14.5h-2.4zM136.3 356.3h1.4v14.5h-1.4zM141.5 356.3h1.4v14.5h-1.4zM142.9 356.3h2.6v14.5h-2.6zM149.8 356.3h2.4v14.5h-2.4zM156.9 356.3h2.4v14.5h-2.4zM169.8 356.3h1.9v14.5h-1.9zM204.8 356.3h2.4v14.5h-2.4zM243.8 356.3h1.2v14.5h-1.2zM248.4 356.3h2.5v14.5h-2.5zM267.1 356.3h1.9v14.5h-1.9zM276.4 356.3h1.8v14.5h-1.8zM278.2 356.3h2v14.5h-2zM280.2 356.3h1.9v14.5h-1.9zM295.6 356.3h2.1v14.5h-2.1zM299.4 356.3h1.1v14.5h-1.1zM303.5 356.3h1.4v14.5h-1.4zM306.9 356.3h2.3v14.5h-2.3zM310.4 356.3h1.3v14.5h-1.3zM311.8 356.3h1.8v14.5h-1.8zM68.5 376.1h2.3v14.5h-2.3zM70.8 376.1h2.2v14.5h-2.2zM76.8 376.1h2.2v14.5h-2.2zM98.6 376.1h2.2v14.5h-2.2zM100.8 376.1h2.1v14.5h-2.1zM125 376.1h1.2v14.5h-1.2zM212 376.1h2.1v14.5h-2.1zM242.7 376.1h2.3v14.5h-2.3zM269.4 376.1h1.7v14.5h-1.7zM271.1 376.1h2.1v14.5h-2.1zM280.1 376.1h2.6v14.5h-2.6zM284.2 376.1h0.8v14.5h-0.8zM301.2 376.1h1.7v14.5h-1.7zM304.1 376.1h1.9v14.5h-1.9zM307.8 376.1h2.6v14.5h-2.6zM66.4 395.8h1.5v14.5h-1.5zM67.9 395.8h1.6v14.5h-1.6zM84.9 395.8h1.9v14.5h-1.9zM89.1 395.8h1.5v14.5h-1.5zM92.1 395.8h2.6v14.5h-2.6zM118.4 395.8h1.9v14.5h-1.9zM136.6 395.8h1.6v14.5h-1.6zM145.8 395.8h2.1v14.5h-2.1zM166.8 395.8h1.4v14.5h-1.4zM189.1 395.8h1.7v14.5h-1.7zM296.6 395.8h1.8v14.5h-1.8zM299.5 395.8h0.5v14.5h-0.5zM322.5 395.8h2v14.5h-2zM344.3 395.8h2v14.5h-2zM66.4 415.6h1.4v14.5h-1.4zM71.2 415.6h1.2v14.5h-1.2zM76.2 415.6h2.4v14.5h-2.4zM79.6 415.6h1.7v14.5h-1.7zM81.3 415.6h1.6v14.5h-1.6zM82.9 415.6h2.4v14.5h-2.4zM85.3 415.6h1.5v14.5h-1.5zM86.8 415.6h2.4v14.5h-2.4zM89.1 415.6h1.7v14.5h-1.7zM98.5 415.6h1.4v14.5h-1.4zM104.1 415.6h2.3v14.5h-2.3zM109 415.6h1.1v14.5h-1.1zM123.3 415.6h2.4v14.5h-2.4zM131.6 415.6h1.1v14.5h-1.1zM136.1 415.6h1.9v14.5h-1.9zM141.8 415.6h2.6v14.5h-2.6zM144.4 415.6h2.2v14.5h-2.2zM150.4 415.6h2.4v14.5h-2.4zM252.1 415.6h2v14.5h-2zM322.7 415.6h2.2v14.5h-2.2zM330.7 415.6h1.5v14.5h-1.5z"/><path fill="#8c8898" d="M80.1 40.5h2.6v14.5h-2.6zM146.4 40.5h1.2v14.5h-1.2zM166.3 40.5h2.2v14.5h-2.2zM168.5 40.5h1.3v14.5h-1.3zM173.9 40.5h1.1v14.5h-1.1zM190 40.5h1.3v14.5h-1.3zM197.3 40.5h2.1v14.5h-2.1zM208.1 40.5h1.1v14.5h-1.1zM221.6 40.5h2.4v14.5h-2.4zM223.9 40.5h2v14.5h-2zM231.6 40.5h2.2v14.5h-2.2zM233.8 40.5h2.2v14.5h-2.2zM241.6 40.5h2.1v14.5h-2.1zM266.4 40.5h2.1v14.5h-2.1zM146.9 60.2h2.5v14.5h-2.5zM159.2 60.2h0.8v14.5h-0.8zM163.7 60.2h2.5v14.5h-2.5zM168.2 60.2h1.9v14.5h-1.9zM172 60.2h2.6v14.5h-2.6zM176.2 60.2h1.9v14.5h-1.9zM180.2 60.2h1.9v14.5h-1.9zM184.6 60.2h1.4v14.5h-1.4zM186 60.2h1.2v14.5h-1.2zM203.5 60.2h1.2v14.5h-1.2zM173.1 80h1.7v14.5h-1.7zM179.2 80h2.2v14.5h-2.2zM185.9 80h2v14.5h-2zM194.5 80h1.9v14.5h-1.9zM196.4 80h2.2v14.5h-2.2zM208.4 80h2.1v14.5h-2.1zM219.6 80h1.4v14.5h-1.4zM227.9 80h1.6v14.5h-1.6zM241 80h2.3v14.5h-2.3zM245.3 80h1.5v14.5h-1.5zM249.1 80h1.7v14.5h-1.7zM253 80h1.9v14.5h-1.9zM268.5 80h2.1v14.5h-2.1zM273.1 80h2.5v14.5h-2.5zM277.9 80h1.5v14.5h-1.5zM281.9 80h1.4v14.5h-1.4zM283.3 80h1.6v14.5h-1.6zM284.8 80h1.6v14.5h-1.6zM286.5 80h1.3v14.5h-1.3zM287.8 80h2.3v14.5h-2.3zM290.1 80h2.3v14.5h-2.3zM296.1 80h1v14.5h-1zM297.1 80h1.9v14.5h-1.9zM72.2 99.7h2.2v14.5h-2.2zM77.3 99.7h1.5v14.5h-1.5zM102.3 99.7h1.9v14.5h-1.9zM106.1 99.7h2.3v14.5h-2.3zM108.4 99.7h1.8v14.5h-1.8zM113.7 99.7h1v14.5h-1zM121.2 99.7h2.4v14.5h-2.4zM125.6 99.7h1.4v14.5h-1.4zM134.9 99.7h1.8v14.5h-1.8zM136.7 99.7h2.5v14.5h-2.5zM141.6 99.7h2.3v14.5h-2.3zM149 99.7h1.9v14.5h-1.9zM158.1 99.7h1.2v14.5h-1.2zM163.3 99.7h1v14.5h-1zM166.5 99.7h1.9v14.5h-1.9zM173.6 99.7h1.6v14.5h-1.6zM181.9 99.7h2.5v14.5h-2.5zM191.6 99.7h1.3v14.5h-1.3zM192.9 99.7h2.3v14.5h-2.3zM199.3 99.7h2.5v14.5h-2.5zM217.9 99.7h1.2v14.5h-1.2zM224.5 99.7h2.4v14.5h-2.4zM227 99.7h1.6v14.5h-1.6zM229.7 99.7h2.6v14.5h-2.6zM244.1 99.7h1.2v14.5h-1.2zM264.3 99.7h2.6v14.5h-2.6zM105.2 119.5h2.5v14.5h-2.5zM114.4 119.5h1.2v14.5h-1.2zM128.1 119.5h1.5v14.5h-1.5zM167 119.5h2.4v14.5h-2.4zM175.8 119.5h1.7v14.5h-1.7zM186.1 119.5h1.4v14.5h-1.4zM200 119.5h2.3v14.5h-2.3zM204.1 119.5h2.1v14.5h-2.1zM125.7 139.2h1.6v14.5h-1.6zM150.1 139.2h1.7v14.5h-1.7zM151.8 139.2h1.1v14.5h-1.1zM152.8 139.2h1.5v14.5h-1.5zM155.8 139.2h1.6v14.5h-1.6zM160.1 139.2h1.5v14.5h-1.5zM167.1 139.2h1.6v14.5h-1.6zM168.8 139.2h1.1v14.5h-1.1zM169.9 139.2h1.1v14.5h-1.1zM171 139.2h1.9v14.5h-1.9zM174.4 139.2h1v14.5h-1zM179.3 139.2h1.3v14.5h-1.3zM250 139.2h1.4v14.5h-1.4zM251.4 139.2h2.3v14.5h-2.3zM261.9 139.2h1.9v14.5h-1.9zM268.2 139.2h1.2v14.5h-1.2zM277.3 139.2h0.7v14.5h-0.7zM116.2 158.9h1.8v14.5h-1.8zM118 158.9h2.3v14.5h-2.3zM120.3 158.9h1.1v14.5h-1.1zM134.9 158.9h0.1v14.5h-0.1zM180.5 158.9h1.9v14.5h-1.9zM185.2 158.9h1.2v14.5h-1.2zM186.4 158.9h1.7v14.5h-1.7zM80.6 178.7h2.2v14.5h-2.2zM84.4 178.7h1.2v14.5h-1.2zM104.4 178.7h1.1v14.5h-1.1zM105.6 178.7h2.3v14.5h-2.3zM124.8 178.7h1.1v14.5h-1.1zM157.7 178.7h1.8v14.5h-1.8zM130 198.4h1.2v14.5h-1.2zM135.8 198.4h1.9v14.5h-1.9zM138.8 198.4h1.5v14.5h-1.5zM140.3 198.4h1.2v14.5h-1.2zM148.4 198.4h1.3v14.5h-1.3zM149.8 198.4h1.9v14.5h-1.9zM156.4 198.4h2.6v14.5h-2.6zM168 198.4h1.3v14.5h-1.3zM173.9 198.4h1.1v14.5h-1.1zM177.2 198.4h1.5v14.5h-1.5zM180.8 198.4h2.5v14.5h-2.5zM188.9 198.4h1.6v14.5h-1.6zM192.3 198.4h1.7v14.5h-1.7zM195.1 198.4h1.1v14.5h-1.1zM196.2 198.4h1.9v14.5h-1.9zM202.8 198.4h2.2v14.5h-2.2zM205 198.4h1v14.5h-1zM227.1 198.4h1.1v14.5h-1.1zM247 198.4h2.1v14.5h-2.1zM265.5 198.4h1.5v14.5h-1.5zM80.8 218.2h1.9v14.5h-1.9zM140.4 218.2h1.1v14.5h-1.1zM150.4 218.2h1.4v14.5h-1.4zM151.8 218.2h1.2v14.5h-1.2zM164.5 218.2h1v14.5h-1zM180.3 218.2h2.1v14.5h-2.1zM184.2 218.2h1.8v14.5h-1.8zM186 218.2h2.6v14.5h-2.6zM198.7 218.2h1v14.5h-1zM214.8 218.2h0.2v14.5h-0.2zM218.2 218.2h2.3v14.5h-2.3zM251 218.2h1.7v14.5h-1.7zM254.2 218.2h2.5v14.5h-2.5zM273.8 218.2h2.5v14.5h-2.5zM276.4 218.2h1.5v14.5h-1.5zM150 237.9h2v14.5h-2zM152 237.9h1.1v14.5h-1.1zM165.2 237.9h1.8v14.5h-1.8zM168.9 237.9h1.8v14.5h-1.8zM190.4 237.9h1v14.5h-1zM216.3 237.9h2v14.5h-2zM225.3 237.9h2.1v14.5h-2.1zM242.9 237.9h1.8v14.5h-1.8zM245.8 237.9h1.9v14.5h-1.9zM249.9 237.9h0.1v14.5h-0.1zM266.1 237.9h2v14.5h-2zM287.4 237.9h1.8v14.5h-1.8zM71.2 257.6h1v14.5h-1zM79.4 257.6h1.1v14.5h-1.1zM82.8 257.6h1.6v14.5h-1.6zM86.5 257.6h2.2v14.5h-2.2zM90.1 257.6h1.9v14.5h-1.9zM99 257.6h1.4v14.5h-1.4zM100.5 257.6h1.8v14.5h-1.8zM109.1 257.6h2v14.5h-2zM119.7 257.6h2.3v14.5h-2.3zM134.9 257.6h1.4v14.5h-1.4zM142 257.6h2.1v14.5h-2.1zM146.6 257.6h1.8v14.5h-1.8zM158.9 257.6h1.5v14.5h-1.5zM164.6 257.6h1.3v14.5h-1.3zM170.5 257.6h1.4v14.5h-1.4zM184 257.6h1.3v14.5h-1.3zM187.4 257.6h1.5v14.5h-1.5zM190.4 257.6h1.6v14.5h-1.6zM191.9 257.6h1.4v14.5h-1.4zM197.7 257.6h2.4v14.5h-2.4zM200 257.6h1.8v14.5h-1.8zM206.3 257.6h2.1v14.5h-2.1zM208.4 257.6h1.7v14.5h-1.7zM210 257.6h1.8v14.5h-1.8zM229.9 257.6h2.4v14.5h-2.4zM251.1 257.6h1.9v14.5h-1.9zM70.9 277.4h1.8v14.5h-1.8zM161 277.4h1.2v14.5h-1.2zM173 277.4h2v14.5h-2zM185.2 277.4h2.4v14.5h-2.4zM211.2 277.4h2.2v14.5h-2.2zM222 277.4h2.2v14.5h-2.2zM227.4 277.4h1.1v14.5h-1.1zM246.3 277.4h2.4v14.5h-2.4zM254.2 277.4h2v14.5h-2zM256.2 277.4h1v14.5h-1zM258.6 277.4h1.8v14.5h-1.8zM75.9 297.1h2.4v14.5h-2.4zM121.6 297.1h1.6v14.5h-1.6zM134.9 297.1h2.4v14.5h-2.4zM162.4 297.1h1v14.5h-1zM165.6 297.1h2.2v14.5h-2.2zM167.8 297.1h2.1v14.5h-2.1zM176.8 297.1h1.9v14.5h-1.9zM179.6 297.1h2.3v14.5h-2.3zM193.1 297.1h2.5v14.5h-2.5zM200.3 297.1h1.7v14.5h-1.7zM202 297.1h1.7v14.5h-1.7zM209.5 297.1h1.1v14.5h-1.1zM164.4 316.9h2.6v14.5h-2.6zM169.1 316.9h2.1v14.5h-2.1zM175.7 316.9h2.3v14.5h-2.3zM177.9 316.9h1.3v14.5h-1.3zM179.3 316.9h2.1v14.5h-2.1zM224.9 316.9h2.6v14.5h-2.6zM229.8 316.9h2.6v14.5h-2.6zM232.4 316.9h2.4v14.5h-2.4zM241.1 316.9h1.5v14.5h-1.5zM242.6 316.9h1.2v14.5h-1.2zM247.1 316.9h1.3v14.5h-1.3zM251.2 316.9h1.5v14.5h-1.5zM260.2 316.9h2.1v14.5h-2.1zM270.6 316.9h1.3v14.5h-1.3zM276.9 316.9h2.6v14.5h-2.6zM291.3 316.9h1.1v14.5h-1.1zM296 316.9h2.1v14.5h-2.1zM300.3 316.9h2.3v14.5h-2.3zM75 336.6h1.9v14.5h-1.9zM81.1 336.6h1.3v14.5h-1.3zM82.5 336.6h1.5v14.5h-1.5zM97.8 336.6h2v14.5h-2zM107.6 336.6h1.2v14.5h-1.2zM120 336.6h2.2v14.5h-2.2zM134 336.6h2.5v14.5h-2.5zM136.5 336.6h1.2v14.5h-1.2zM137.7 336.6h1.1v14.5h-1.1zM138.8 336.6h1.1v14.5h-1.1zM142.3 336.6h2.4v14.5h-2.4zM146.3 336.6h2.3v14.5h-2.3zM157.4 336.6h1.3v14.5h-1.3zM169.7 336.6h1.9v14.5h-1.9zM176 336.6h4.1v14.5h-4.1zM194.3 336.6h2.1v14.5h-2.1zM218.3 336.6h1.3v14.5h-1.3zM224.9 336.6h2.6v14.5h-2.6zM237.8 336.6h2.2v14.5h-2.2zM247.1 336.6h1.8v14.5h-1.8zM264.8 336.6h1.2v14.5h-1.2zM336.1 336.6h2v14.5h-2zM81.9 356.3h1.7v14.5h-1.7zM167 356.3h1.7v14.5h-1.7zM181.4 356.3h1.9v14.5h-1.9zM194.5 356.3h2.3v14.5h-2.3zM198.4 356.3h1.9v14.5h-1.9zM207.3 356.3h1.8v14.5h-1.8zM218.8 356.3h1.2v14.5h-1.2zM223.8 356.3h1v14.5h-1zM224.8 356.3h2.4v14.5h-2.4zM256.9 356.3h2.5v14.5h-2.5zM263.6 356.3h1.9v14.5h-1.9zM272 356.3h1.6v14.5h-1.6zM72.9 376.1h1.1v14.5h-1.1zM102.9 376.1h1.8v14.5h-1.8zM106.7 376.1h1.7v14.5h-1.7zM117.4 376.1h2.1v14.5h-2.1zM136.9 376.1h1.7v14.5h-1.7zM138.6 376.1h2.1v14.5h-2.1zM152 376.1h2.4v14.5h-2.4zM167.6 376.1h1.8v14.5h-1.8zM169.4 376.1h2.2v14.5h-2.2zM171.6 376.1h2.2v14.5h-2.2zM179.6 376.1h2v14.5h-2zM190.2 376.1h2.5v14.5h-2.5zM195.2 376.1h2.1v14.5h-2.1zM197.3 376.1h1.5v14.5h-1.5zM204 376.1h1.7v14.5h-1.7zM229.8 376.1h2.2v14.5h-2.2zM231.9 376.1h2v14.5h-2zM241.1 376.1h1.6v14.5h-1.6zM247.6 376.1h2.2v14.5h-2.2zM249.8 376.1h1.4v14.5h-1.4zM251.2 376.1h1.3v14.5h-1.3zM258.6 376.1h1.7v14.5h-1.7zM260.3 376.1h1v14.5h-1zM262.6 376.1h1.5v14.5h-1.5zM264.1 376.1h1.2v14.5h-1.2zM285 376.1h2.1v14.5h-2.1zM288.3 376.1h2v14.5h-2zM306 376.1h1.8v14.5h-1.8zM312.1 376.1h2.6v14.5h-2.6zM72 395.8h2.1v14.5h-2.1zM78.7 395.8h1.6v14.5h-1.6zM90.6 395.8h1.5v14.5h-1.5zM95 395.8h2.2v14.5h-2.2zM105 395.8h2v14.5h-2zM107 395.8h1.6v14.5h-1.6zM112.4 395.8h1.1v14.5h-1.1zM120.2 395.8h1v14.5h-1zM125.5 395.8h1.9v14.5h-1.9zM131.2 395.8h1.5v14.5h-1.5zM132.7 395.8h2.1v14.5h-2.1zM138.2 395.8h1.8v14.5h-1.8zM140 395.8h1.2v14.5h-1.2zM143.8 395.8h2v14.5h-2zM149.9 395.8h2v14.5h-2zM154.4 395.8h2v14.5h-2zM157.4 395.8h2v14.5h-2zM165 395.8h1.9v14.5h-1.9zM168.3 395.8h1.6v14.5h-1.6zM174.3 395.8h1.7v14.5h-1.7zM176 395.8h1.9v14.5h-1.9zM185.6 395.8h2.2v14.5h-2.2zM197.6 395.8h1v14.5h-1zM233.1 395.8h2v14.5h-2zM235.1 395.8h2.1v14.5h-2.1zM242.9 395.8h2v14.5h-2zM246.7 395.8h2.4v14.5h-2.4zM267.7 395.8h2.2v14.5h-2.2zM277 395.8h2.2v14.5h-2.2zM280 395.8h1.4v14.5h-1.4zM288.2 395.8h1.6v14.5h-1.6zM309 395.8h1.5v14.5h-1.5zM318.2 395.8h2v14.5h-2zM320.2 395.8h2.4v14.5h-2.4zM340.2 395.8h1.2v14.5h-1.2zM342.6 395.8h1.7v14.5h-1.7zM350.8 395.8h1.3v14.5h-1.3zM352.1 395.8h2.3v14.5h-2.3zM354.5 395.8h2.3v14.5h-2.3zM360.3 395.8h1.1v14.5h-1.1zM94.4 415.6h1.6v14.5h-1.6zM114.8 415.6h1v14.5h-1zM128.3 415.6h1v14.5h-1zM152.8 415.6h2.2v14.5h-2.2zM158.7 415.6h1.6v14.5h-1.6zM170.8 415.6h2.1v14.5h-2.1zM175.8 415.6h2.1v14.5h-2.1zM182.9 415.6h1.7v14.5h-1.7zM193.5 415.6h1.1v14.5h-1.1zM196.4 415.6h2.4v14.5h-2.4zM200.2 415.6h1.9v14.5h-1.9zM207.4 415.6h2v14.5h-2zM209.4 415.6h1.8v14.5h-1.8zM215 415.6h1.5v14.5h-1.5zM216.5 415.6h1.7v14.5h-1.7zM225.4 415.6h1.2v14.5h-1.2zM243.3 415.6h1.4v14.5h-1.4zM255.1 415.6h1.2v14.5h-1.2zM256.3 415.6h2.5v14.5h-2.5zM266 415.6h1v14.5h-1zM267.1 415.6h2.6v14.5h-2.6zM280 415.6h1.2v14.5h-1.2zM285.8 415.6h1.3v14.5h-1.3zM287.2 415.6h1v14.5h-1zM314 415.6h1v14.5h-1zM320.9 415.6h1.8v14.5h-1.8zM327 415.6h1v14.5h-1z"/><path fill="#88a8cc" d="M93.7 40.5h1.8v14.5h-1.8zM99.9 40.5h2.3v14.5h-2.3zM133.6 40.5h1.3v14.5h-1.3zM174.9 40.5h1.4v14.5h-1.4zM179.7 40.5h1.3v14.5h-1.3zM191.3 40.5h1.9v14.5h-1.9zM199.5 40.5h1.2v14.5h-1.2zM239.8 40.5h1.8v14.5h-1.8zM246.4 40.5h1.5v14.5h-1.5zM249.2 40.5h2.4v14.5h-2.4zM253.4 40.5h1.5v14.5h-1.5zM83.9 60.2h2.3v14.5h-2.3zM140 60.2h1.5v14.5h-1.5zM142.8 60.2h1.8v14.5h-1.8zM144.6 60.2h2.3v14.5h-2.3zM153.3 60.2h1.5v14.5h-1.5zM166.2 60.2h1.9v14.5h-1.9zM170 60.2h2v14.5h-2zM178.1 60.2h2.1v14.5h-2.1zM189.5 60.2h1.8v14.5h-1.8zM192.6 60.2h2.5v14.5h-2.5zM195.1 60.2h2.2v14.5h-2.2zM197.3 60.2h1.3v14.5h-1.3zM198.6 60.2h2.1v14.5h-2.1zM204.6 60.2h0.4v14.5h-0.4zM223 60.2h1.5v14.5h-1.5zM66.4 80h1.1v14.5h-1.1zM113.8 80h1.4v14.5h-1.4zM147.2 80h1.1v14.5h-1.1zM161.5 80h1.5v14.5h-1.5zM162.9 80h1.4v14.5h-1.4zM167.2 80h2.2v14.5h-2.2zM174.8 80h2.6v14.5h-2.6zM183.9 80h2v14.5h-2zM187.9 80h1.3v14.5h-1.3zM189.2 80h1.8v14.5h-1.8zM192.7 80h1.7v14.5h-1.7zM201.2 80h2.2v14.5h-2.2zM206.9 80h1.6v14.5h-1.6zM212.5 80h2.2v14.5h-2.2zM218.5 80h1.1v14.5h-1.1zM221 80h2v14.5h-2zM223 80h1.9v14.5h-1.9zM229.5 80h1.3v14.5h-1.3zM233 80h1.1v14.5h-1.1zM236.5 80h2.2v14.5h-2.2zM238.7 80h0.8v14.5h-0.8zM251.9 80h1.1v14.5h-1.1zM254.9 80h2.1v14.5h-2.1zM257 80h2.2v14.5h-2.2zM260.6 80h1.1v14.5h-1.1zM263.9 80h1.5v14.5h-1.5zM266.9 80h1.6v14.5h-1.6zM275.6 80h2.3v14.5h-2.3zM293.7 80h2.4v14.5h-2.4zM66.4 99.7h1.8v14.5h-1.8zM79.9 99.7h1.2v14.5h-1.2zM88.7 99.7h1.4v14.5h-1.4zM111.6 99.7h2.1v14.5h-2.1zM118.5 99.7h1.3v14.5h-1.3zM119.7 99.7h1.5v14.5h-1.5zM131.7 99.7h1.1v14.5h-1.1zM132.8 99.7h2.1v14.5h-2.1zM139.2 99.7h2.4v14.5h-2.4zM143.9 99.7h2.5v14.5h-2.5zM146.3 99.7h1.7v14.5h-1.7zM152.1 99.7h1.5v14.5h-1.5zM153.6 99.7h1.1v14.5h-1.1zM164.3 99.7h2.1v14.5h-2.1zM169.4 99.7h2.3v14.5h-2.3zM171.7 99.7h2v14.5h-2zM175.2 99.7h1.5v14.5h-1.5zM178.3 99.7h1.4v14.5h-1.4zM179.8 99.7h2.2v14.5h-2.2zM184.4 99.7h0.6v14.5h-0.6zM186 99.7h2.3v14.5h-2.3zM188.3 99.7h1.2v14.5h-1.2zM195.3 99.7h1.1v14.5h-1.1zM196.4 99.7h1.3v14.5h-1.3zM197.7 99.7h1.7v14.5h-1.7zM205.8 99.7h1.6v14.5h-1.6zM207.4 99.7h1.7v14.5h-1.7zM215.4 99.7h1v14.5h-1zM235.8 99.7h2v14.5h-2zM237.8 99.7h1.1v14.5h-1.1zM269 99.7h2.1v14.5h-2.1zM291.5 99.7h2v14.5h-2zM99.4 119.5h1.1v14.5h-1.1zM115.6 119.5h2.5v14.5h-2.5zM118.1 119.5h1.4v14.5h-1.4zM119.5 119.5h1.5v14.5h-1.5zM123.5 119.5h1.6v14.5h-1.6zM125.1 119.5h1.9v14.5h-1.9zM132.1 119.5h1.8v14.5h-1.8zM135.3 119.5h2.4v14.5h-2.4zM137.8 119.5h2.3v14.5h-2.3zM140.1 119.5h1.8v14.5h-1.8zM146.9 119.5h1.1v14.5h-1.1zM148 119.5h2.2v14.5h-2.2zM152.6 119.5h2.1v14.5h-2.1zM156.8 119.5h1.7v14.5h-1.7zM158.5 119.5h1.4v14.5h-1.4zM159.9 119.5h2.1v14.5h-2.1zM162 119.5h1.3v14.5h-1.3zM169.4 119.5h1.4v14.5h-1.4zM177.5 119.5h1.8v14.5h-1.8zM179.4 119.5h2v14.5h-2zM182.7 119.5h1.1v14.5h-1.1zM183.9 119.5h2.2v14.5h-2.2zM188.8 119.5h2.6v14.5h-2.6zM194.8 119.5h1.8v14.5h-1.8zM206.2 119.5h2.5v14.5h-2.5zM208.7 119.5h2.2v14.5h-2.2zM211 119.5h2v14.5h-2zM272.8 119.5h1.7v14.5h-1.7zM90.2 139.2h1.6v14.5h-1.6zM127.3 139.2h2.4v14.5h-2.4zM129.7 139.2h1.5v14.5h-1.5zM131.2 139.2h1.3v14.5h-1.3zM135.5 139.2h2.6v14.5h-2.6zM157.5 139.2h1.3v14.5h-1.3zM177.9 139.2h1.4v14.5h-1.4zM184.2 139.2h0.4v14.5h-0.4zM213.9 139.2h1.8v14.5h-1.8zM223.5 139.2h1.5v14.5h-1.5zM225 139.2h2.1v14.5h-2.1zM242.3 139.2h1.2v14.5h-1.2zM253.7 139.2h2.1v14.5h-2.1zM255.8 139.2h2.1v14.5h-2.1zM269.4 139.2h2.1v14.5h-2.1zM271.5 139.2h1.3v14.5h-1.3zM274.7 139.2h2.6v14.5h-2.6zM68.4 158.9h2.5v14.5h-2.5zM112 158.9h1.1v14.5h-1.1zM129 158.9h2.2v14.5h-2.2zM131.1 158.9h1v14.5h-1zM132.2 158.9h1.2v14.5h-1.2zM140.4 158.9h2.3v14.5h-2.3zM191.5 158.9h1.4v14.5h-1.4zM87.4 178.7h2.3v14.5h-2.3zM97.1 178.7h2.4v14.5h-2.4zM113.5 178.7h1.5v14.5h-1.5zM127.3 178.7h2.4v14.5h-2.4zM129.7 178.7h1.3v14.5h-1.3zM136.2 178.7h2v14.5h-2zM146.9 178.7h2.6v14.5h-2.6zM159.5 178.7h1.6v14.5h-1.6zM76.6 198.4h1.7v14.5h-1.7zM97.8 198.4h2.4v14.5h-2.4zM134.7 198.4h1v14.5h-1zM141.5 198.4h1.2v14.5h-1.2zM142.7 198.4h1.8v14.5h-1.8zM144.5 198.4h2.2v14.5h-2.2zM146.8 198.4h1.7v14.5h-1.7zM151.7 198.4h2.4v14.5h-2.4zM154 198.4h2.4v14.5h-2.4zM163 198.4h1.7v14.5h-1.7zM169.3 198.4h1v14.5h-1zM174.9 198.4h1.1v14.5h-1.1zM185.1 198.4h1.6v14.5h-1.6zM186.8 198.4h2.2v14.5h-2.2zM190.5 198.4h1.8v14.5h-1.8zM198 198.4h1.4v14.5h-1.4zM199.4 198.4h1.6v14.5h-1.6zM201 198.4h1.8v14.5h-1.8zM206 198.4h2.5v14.5h-2.5zM225.6 198.4h1.5v14.5h-1.5zM278.8 198.4h1.8v14.5h-1.8zM73 218.2h1.4v14.5h-1.4zM77.5 218.2h1.6v14.5h-1.6zM90.6 218.2h1.1v14.5h-1.1zM112.2 218.2h2.5v14.5h-2.5zM144.4 218.2h1.6v14.5h-1.6zM160 218.2h2.4v14.5h-2.4zM162.4 218.2h2.1v14.5h-2.1zM170.5 218.2h1.8v14.5h-1.8zM172.3 218.2h1v14.5h-1zM176.7 218.2h1.8v14.5h-1.8zM178.5 218.2h1.8v14.5h-1.8zM182.5 218.2h1.8v14.5h-1.8zM188.6 218.2h1.2v14.5h-1.2zM203.7 218.2h2.5v14.5h-2.5zM208 218.2h1.1v14.5h-1.1zM211.5 218.2h1v14.5h-1zM237 218.2h1.4v14.5h-1.4zM244 218.2h2.2v14.5h-2.2zM277.9 218.2h1.2v14.5h-1.2zM281.7 218.2h1.2v14.5h-1.2zM282.9 218.2h2.4v14.5h-2.4zM68.6 237.9h1.4v14.5h-1.4zM96.8 237.9h1.3v14.5h-1.3zM144.7 237.9h1.8v14.5h-1.8zM154.9 237.9h2.6v14.5h-2.6zM157.5 237.9h1.7v14.5h-1.7zM159.2 237.9h2.3v14.5h-2.3zM172.1 237.9h1.8v14.5h-1.8zM173.9 237.9h1.3v14.5h-1.3zM184.4 237.9h2.3v14.5h-2.3zM186.7 237.9h2.3v14.5h-2.3zM199.7 237.9h2.4v14.5h-2.4zM205.6 237.9h2v14.5h-2zM207.6 237.9h2.2v14.5h-2.2zM218.3 237.9h1.6v14.5h-1.6zM220 237.9h1v14.5h-1zM221 237.9h2.3v14.5h-2.3zM227.4 237.9h1.5v14.5h-1.5zM233.9 237.9h2.5v14.5h-2.5zM241.4 237.9h1.5v14.5h-1.5zM247.7 237.9h2.2v14.5h-2.2zM262.2 237.9h1.7v14.5h-1.7zM277.7 237.9h1.4v14.5h-1.4zM281.3 237.9h2.2v14.5h-2.2zM297.9 237.9h0.1v14.5h-0.1zM341.3 237.9h2.2v14.5h-2.2zM72.2 257.6h2.2v14.5h-2.2zM74.4 257.6h2v14.5h-2zM92 257.6h2.6v14.5h-2.6zM94.6 257.6h2.2v14.5h-2.2zM107.5 257.6h1.7v14.5h-1.7zM116.4 257.6h1.1v14.5h-1.1zM122 257.6h1.4v14.5h-1.4zM123.4 257.6h1.9v14.5h-1.9zM126.9 257.6h1.2v14.5h-1.2zM132.6 257.6h2.3v14.5h-2.3zM140.7 257.6h1.3v14.5h-1.3zM148.3 257.6h1.7v14.5h-1.7zM160.5 257.6h1.7v14.5h-1.7zM162.2 257.6h2.5v14.5h-2.5zM171.8 257.6h1.4v14.5h-1.4zM173.2 257.6h1.1v14.5h-1.1zM174.3 257.6h1.1v14.5h-1.1zM183 257.6h1v14.5h-1zM185.3 257.6h2.1v14.5h-2.1zM201.9 257.6h2.4v14.5h-2.4zM204.3 257.6h2v14.5h-2zM224 257.6h2.1v14.5h-2.1zM257.9 257.6h2.4v14.5h-2.4zM267.6 257.6h1.5v14.5h-1.5zM280.9 257.6h1.8v14.5h-1.8zM74 277.4h2.5v14.5h-2.5zM79 277.4h2.4v14.5h-2.4zM81.3 277.4h2.6v14.5h-2.6zM102.9 277.4h1.3v14.5h-1.3zM110.1 277.4h2.2v14.5h-2.2zM145.9 277.4h1.6v14.5h-1.6zM147.5 277.4h1.6v14.5h-1.6zM190 277.4h2.4v14.5h-2.4zM192.4 277.4h1.9v14.5h-1.9zM194.2 277.4h1v14.5h-1zM195.3 277.4h1v14.5h-1zM197.7 277.4h2v14.5h-2zM199.7 277.4h2.1v14.5h-2.1zM206 277.4h0.7v14.5h-0.7zM209.6 277.4h1.6v14.5h-1.6zM213.4 277.4h2.1v14.5h-2.1zM219.1 277.4h1.3v14.5h-1.3zM220.4 277.4h1.7v14.5h-1.7zM226.3 277.4h1.1v14.5h-1.1zM232.6 277.4h1.6v14.5h-1.6zM234.2 277.4h2v14.5h-2zM236.2 277.4h1.4v14.5h-1.4zM237.6 277.4h1.3v14.5h-1.3zM238.9 277.4h1.9v14.5h-1.9zM242.7 277.4h1.6v14.5h-1.6zM260.5 277.4h1.1v14.5h-1.1zM268.3 277.4h1.6v14.5h-1.6zM310.8 277.4h1.5v14.5h-1.5zM313.6 277.4h1.1v14.5h-1.1zM70.5 297.1h1.2v14.5h-1.2zM78.3 297.1h1.7v14.5h-1.7zM81.6 297.1h1.6v14.5h-1.6zM137.4 297.1h2.2v14.5h-2.2zM145.2 297.1h1.8v14.5h-1.8zM164.5 297.1h1.1v14.5h-1.1zM169.9 297.1h1.8v14.5h-1.8zM171.7 297.1h1.7v14.5h-1.7zM173.5 297.1h2.1v14.5h-2.1zM175.6 297.1h1.2v14.5h-1.2zM183.2 297.1h2.6v14.5h-2.6zM188 297.1h2.5v14.5h-2.5zM190.5 297.1h1.2v14.5h-1.2zM195.5 297.1h1.2v14.5h-1.2zM205.4 297.1h2.1v14.5h-2.1zM207.6 297.1h1.9v14.5h-1.9zM210.6 297.1h1v14.5h-1zM259.6 297.1h2.3v14.5h-2.3zM261.9 297.1h2v14.5h-2zM80.6 316.9h1.6v14.5h-1.6zM101.8 316.9h2.4v14.5h-2.4zM111.4 316.9h2.5v14.5h-2.5zM140 316.9h1.8v14.5h-1.8zM146.4 316.9h1.3v14.5h-1.3zM155.1 316.9h1.9v14.5h-1.9zM159.2 316.9h2.3v14.5h-2.3zM171.2 316.9h2v14.5h-2zM181.4 316.9h1.2v14.5h-1.2zM182.5 316.9h1.6v14.5h-1.6zM184.2 316.9h1.4v14.5h-1.4zM192.7 316.9h1v14.5h-1zM202.5 316.9h1.5v14.5h-1.5zM204 316.9h2.1v14.5h-2.1zM214.9 316.9h1.7v14.5h-1.7zM221 316.9h1.6v14.5h-1.6zM234.8 316.9h1v14.5h-1zM237.4 316.9h1.6v14.5h-1.6zM239 316.9h2.1v14.5h-2.1zM248.4 316.9h1.4v14.5h-1.4zM252.7 316.9h1.8v14.5h-1.8zM254.5 316.9h1.9v14.5h-1.9zM256.4 316.9h1.6v14.5h-1.6zM264.7 316.9h1.1v14.5h-1.1zM275.1 316.9h1.8v14.5h-1.8zM280.6 316.9h1.4v14.5h-1.4zM292.4 316.9h1.1v14.5h-1.1zM293.5 316.9h2.5v14.5h-2.5zM302.6 316.9h1.7v14.5h-1.7zM304.3 316.9h2.1v14.5h-2.1zM308.3 316.9h1.7v14.5h-1.7zM322.1 316.9h1v14.5h-1zM337.4 316.9h1.6v14.5h-1.6zM352.1 316.9h1.2v14.5h-1.2zM353.4 316.9h2.5v14.5h-2.5zM79 336.6h2.1v14.5h-2.1zM85.1 336.6h1.7v14.5h-1.7zM93.2 336.6h2.5v14.5h-2.5zM95.7 336.6h1v14.5h-1zM101 336.6h1.2v14.5h-1.2zM106.4 336.6h1.2v14.5h-1.2zM116.1 336.6h2.3v14.5h-2.3zM118.4 336.6h1.6v14.5h-1.6zM122.2 336.6h2.6v14.5h-2.6zM144.6 336.6h1.7v14.5h-1.7zM148.6 336.6h1.7v14.5h-1.7zM150.2 336.6h1.7v14.5h-1.7zM152 336.6h1.2v14.5h-1.2zM153.2 336.6h1.7v14.5h-1.7zM161 336.6h2v14.5h-2zM164.1 336.6h1.7v14.5h-1.7zM175.4 336.6h0.6v14.5h-0.6zM207 336.6h1.9v14.5h-1.9zM208.9 336.6h1.1v14.5h-1.1zM212.1 336.6h1.7v14.5h-1.7zM213.9 336.6h2.4v14.5h-2.4zM219.6 336.6h1.4v14.5h-1.4zM220.9 336.6h2v14.5h-2zM222.9 336.6h2v14.5h-2zM228.8 336.6h2.1v14.5h-2.1zM230.8 336.6h1.2v14.5h-1.2zM232 336.6h2.3v14.5h-2.3zM236.7 336.6h1.1v14.5h-1.1zM248.9 336.6h2v14.5h-2zM252.9 336.6h1v14.5h-1zM253.9 336.6h1.3v14.5h-1.3zM255.2 336.6h1.9v14.5h-1.9zM286.5 336.6h2.3v14.5h-2.3zM293.7 336.6h1.8v14.5h-1.8zM304.9 336.6h1.5v14.5h-1.5zM322.2 336.6h2.6v14.5h-2.6zM339.4 336.6h2.1v14.5h-2.1zM83.6 356.3h1.5v14.5h-1.5zM94.4 356.3h1.6v14.5h-1.6zM127.2 356.3h1.4v14.5h-1.4zM139.3 356.3h2.2v14.5h-2.2zM168.7 356.3h1.1v14.5h-1.1zM173.3 356.3h2.2v14.5h-2.2zM175.5 356.3h1.9v14.5h-1.9zM179.6 356.3h1.8v14.5h-1.8zM183.3 356.3h1.7v14.5h-1.7zM186.8 356.3h1.7v14.5h-1.7zM188.5 356.3h1.9v14.5h-1.9zM190.4 356.3h1.8v14.5h-1.8zM192.3 356.3h2.2v14.5h-2.2zM202.1 356.3h1.6v14.5h-1.6zM209.1 356.3h1.1v14.5h-1.1zM210.2 356.3h2v14.5h-2zM212.2 356.3h1.7v14.5h-1.7zM213.9 356.3h2.4v14.5h-2.4zM216.4 356.3h2.4v14.5h-2.4zM220 356.3h1.8v14.5h-1.8zM228.9 356.3h1.8v14.5h-1.8zM230.7 356.3h1.3v14.5h-1.3zM233.4 356.3h1.7v14.5h-1.7zM253.4 356.3h1.4v14.5h-1.4zM265.5 356.3h1.6v14.5h-1.6zM273.6 356.3h1.4v14.5h-1.4zM291.5 356.3h1.5v14.5h-1.5zM74.1 376.1h1.5v14.5h-1.5zM93.7 376.1h1.6v14.5h-1.6zM104.6 376.1h2.1v14.5h-2.1zM108.4 376.1h2.1v14.5h-2.1zM112 376.1h1.1v14.5h-1.1zM119.5 376.1h2.4v14.5h-2.4zM121.9 376.1h1.7v14.5h-1.7zM123.6 376.1h1.4v14.5h-1.4zM127.9 376.1h1.9v14.5h-1.9zM131.7 376.1h1.6v14.5h-1.6zM133.3 376.1h1.4v14.5h-1.4zM134.7 376.1h2.2v14.5h-2.2zM140.8 376.1h2.3v14.5h-2.3zM143 376.1h2.6v14.5h-2.6zM149.8 376.1h0.2v14.5h-0.2zM156.5 376.1h1.8v14.5h-1.8zM165.4 376.1h2.2v14.5h-2.2zM173.9 376.1h2.1v14.5h-2.1zM178.4 376.1h1.2v14.5h-1.2zM181.6 376.1h2.4v14.5h-2.4zM186.3 376.1h1.5v14.5h-1.5zM187.8 376.1h2.4v14.5h-2.4zM202.8 376.1h1.3v14.5h-1.3zM205.8 376.1h2.4v14.5h-2.4zM208.2 376.1h2.4v14.5h-2.4zM214 376.1h1.2v14.5h-1.2zM219.2 376.1h2.5v14.5h-2.5zM222.9 376.1h1.1v14.5h-1.1zM224 376.1h1.5v14.5h-1.5zM225.5 376.1h2.1v14.5h-2.1zM235.1 376.1h2.1v14.5h-2.1zM252.4 376.1h1.1v14.5h-1.1zM267.1 376.1h2.2v14.5h-2.2zM273.2 376.1h1.8v14.5h-1.8zM282.7 376.1h1.5v14.5h-1.5zM295.3 376.1h1.3v14.5h-1.3zM98.4 395.8h2.2v14.5h-2.2zM100.7 395.8h1.5v14.5h-1.5zM102.2 395.8h1.1v14.5h-1.1zM110.8 395.8h1.6v14.5h-1.6zM113.5 395.8h1.7v14.5h-1.7zM115.2 395.8h1.9v14.5h-1.9zM121.3 395.8h2.2v14.5h-2.2zM123.5 395.8h2v14.5h-2zM127.4 395.8h1.6v14.5h-1.6zM129 395.8h2.2v14.5h-2.2zM141.2 395.8h2.5v14.5h-2.5zM147.9 395.8h2v14.5h-2zM151.9 395.8h2.5v14.5h-2.5zM156.4 395.8h1v14.5h-1zM159.4 395.8h1.2v14.5h-1.2zM169.9 395.8h1.4v14.5h-1.4zM173.1 395.8h1.2v14.5h-1.2zM178 395.8h1.7v14.5h-1.7zM181.9 395.8h1.8v14.5h-1.8zM183.7 395.8h2v14.5h-2zM190.8 395.8h1.5v14.5h-1.5zM192.4 395.8h1.2v14.5h-1.2zM195.9 395.8h1.7v14.5h-1.7zM198.6 395.8h1.4v14.5h-1.4zM216 395.8h4.3v14.5h-4.3zM230 395.8h2.1v14.5h-2.1zM237.2 395.8h1.2v14.5h-1.2zM249.1 395.8h2.3v14.5h-2.3zM254.8 395.8h1.4v14.5h-1.4zM281.4 395.8h1.5v14.5h-1.5zM284.1 395.8h2.3v14.5h-2.3zM289.8 395.8h2.3v14.5h-2.3zM294.5 395.8h2.2v14.5h-2.2zM298.4 395.8h1.1v14.5h-1.1zM300 395.8h1.2v14.5h-1.2zM304.9 395.8h1.1v14.5h-1.1zM307.9 395.8h1.1v14.5h-1.1zM310.5 395.8h1.5v14.5h-1.5zM315.7 395.8h2.5v14.5h-2.5zM324.5 395.8h2.5v14.5h-2.5zM327 395.8h1.7v14.5h-1.7zM328.7 395.8h1.9v14.5h-1.9zM330.6 395.8h2.1v14.5h-2.1zM333.8 395.8h1.2v14.5h-1.2zM335 395.8h1.8v14.5h-1.8zM341.4 395.8h1.1v14.5h-1.1zM346.4 395.8h1.5v14.5h-1.5zM349.2 395.8h1.6v14.5h-1.6zM356.8 395.8h1.9v14.5h-1.9zM361.5 395.8h1.4v14.5h-1.4zM362.9 395.8h1.5v14.5h-1.5zM364.4 395.8h0.1v14.5h-0.1zM92.2 415.6h2.1v14.5h-2.1zM112.6 415.6h2.2v14.5h-2.2zM155 415.6h1.6v14.5h-1.6zM160.3 415.6h2.3v14.5h-2.3zM165.2 415.6h1.9v14.5h-1.9zM168.4 415.6h2.4v14.5h-2.4zM173 415.6h1.7v14.5h-1.7zM174.7 415.6h1.1v14.5h-1.1zM178 415.6h2.5v14.5h-2.5zM184.6 415.6h1.8v14.5h-1.8zM191.3 415.6h2.2v14.5h-2.2zM202.1 415.6h2.5v14.5h-2.5zM206.3 415.6h1.1v14.5h-1.1zM213.6 415.6h1.4v14.5h-1.4zM220.4 415.6h1.9v14.5h-1.9zM222.3 415.6h1.5v14.5h-1.5zM247 415.6h1.5v14.5h-1.5zM248.6 415.6h1.5v14.5h-1.5zM254.1 415.6h1v14.5h-1zM258.7 415.6h2.3v14.5h-2.3zM274.8 415.6h1.6v14.5h-1.6zM276.4 415.6h1.5v14.5h-1.5zM277.9 415.6h2.1v14.5h-2.1zM288.2 415.6h1.1v14.5h-1.1zM289.3 415.6h1.2v14.5h-1.2zM290.4 415.6h1.8v14.5h-1.8zM292.2 415.6h1.1v14.5h-1.1zM295.8 415.6h2.5v14.5h-2.5zM299.6 415.6h1v14.5h-1zM318.5 415.6h2.4v14.5h-2.4z"/><path fill="#cfd9d6" d="M97.3 40.5h2.6v14.5h-2.6zM206.6 40.5h1.5v14.5h-1.5zM224.5 60.2h1.3v14.5h-1.3zM110.2 99.7h1.4v14.5h-1.4zM123.6 99.7h2v14.5h-2zM168.4 99.7h1v14.5h-1zM250.3 99.7h2.5v14.5h-2.5zM295.8 99.7h0.7v14.5h-0.7zM141.9 119.5h2.4v14.5h-2.4zM266.2 119.5h1.1v14.5h-1.1zM113.1 158.9h1.8v14.5h-1.8zM124.9 158.9h2.4v14.5h-2.4zM76.6 178.7h1.7v14.5h-1.7zM114.3 198.4h2.1v14.5h-2.1zM270.5 237.9h1.9v14.5h-1.9zM76.4 257.6h1.6v14.5h-1.6zM111.1 257.6h1.8v14.5h-1.8zM196.3 277.4h1.4v14.5h-1.4zM212.6 316.9h2.3v14.5h-2.3zM235.8 316.9h1.6v14.5h-1.6zM285 316.9h2.4v14.5h-2.4zM239.2 356.3h1.1v14.5h-1.1zM126.2 376.1h1.7v14.5h-1.7zM187.8 395.8h1.3v14.5h-1.3zM90.9 415.6h1.4v14.5h-1.4zM101.7 415.6h2.4v14.5h-2.4zM269.6 415.6h1.4v14.5h-1.4z"/><path fill="#8e9448" d="M141.2 40.5h1.5v14.5h-1.5zM159.2 40.5h1.9v14.5h-1.9zM251.7 40.5h1.7v14.5h-1.7zM256.2 40.5h2.3v14.5h-2.3zM66.4 60.2h1.1v14.5h-1.1zM67.5 60.2h2.4v14.5h-2.4zM73.5 60.2h1v14.5h-1zM74.6 60.2h1.7v14.5h-1.7zM78.6 60.2h1.2v14.5h-1.2zM88.3 60.2h1.8v14.5h-1.8zM91 60.2h2.1v14.5h-2.1zM100.3 60.2h2.4v14.5h-2.4zM133.9 60.2h1.8v14.5h-1.8zM135.7 60.2h2.3v14.5h-2.3zM138 60.2h2v14.5h-2zM208.4 60.2h1.8v14.5h-1.8zM225.9 60.2h2.4v14.5h-2.4zM229.7 60.2h1.4v14.5h-1.4zM233.4 60.2h2.3v14.5h-2.3zM240.4 60.2h2.5v14.5h-2.5zM246.6 60.2h1.3v14.5h-1.3zM247.9 60.2h1.2v14.5h-1.2zM251 60.2h1.9v14.5h-1.9zM72.6 80h2v14.5h-2zM80.1 80h1.3v14.5h-1.3zM81.5 80h1.8v14.5h-1.8zM107 80h2.2v14.5h-2.2zM125.9 80h2.6v14.5h-2.6zM132.9 80h1.6v14.5h-1.6zM142.9 80h2.3v14.5h-2.3zM150.8 80h2v14.5h-2zM300 80h2.3v14.5h-2.3zM304.2 80h1.1v14.5h-1.1zM84.4 99.7h1.9v14.5h-1.9zM98.4 99.7h1.4v14.5h-1.4zM241 99.7h1.5v14.5h-1.5zM245.3 99.7h1.2v14.5h-1.2zM256.2 99.7h1.5v14.5h-1.5zM81 119.5h1.9v14.5h-1.9zM84.7 119.5h1.7v14.5h-1.7zM87.9 119.5h2.2v14.5h-2.2zM107.7 119.5h2.1v14.5h-2.1zM220 119.5h1.8v14.5h-1.8zM225.7 119.5h1.3v14.5h-1.3zM250.8 119.5h2.6v14.5h-2.6zM255.1 119.5h2.6v14.5h-2.6zM260.5 119.5h2.4v14.5h-2.4zM264.5 119.5h1.7v14.5h-1.7zM279.7 119.5h2v14.5h-2zM83.8 139.2h1.6v14.5h-1.6zM87.5 139.2h1.4v14.5h-1.4zM94 139.2h1.6v14.5h-1.6zM100.3 139.2h2.5v14.5h-2.5zM106.9 139.2h1.8v14.5h-1.8zM110.4 139.2h1.1v14.5h-1.1zM111.4 139.2h2v14.5h-2zM114.9 139.2h1.9v14.5h-1.9zM222 139.2h1.6v14.5h-1.6zM246.9 139.2h1.3v14.5h-1.3zM72 158.9h1.2v14.5h-1.2zM74.6 158.9h2.6v14.5h-2.6zM77.2 158.9h1.5v14.5h-1.5zM92.6 158.9h2.3v14.5h-2.3zM94.9 158.9h1.3v14.5h-1.3zM98.7 158.9h1.8v14.5h-1.8zM100.5 158.9h1.5v14.5h-1.5zM102 158.9h1.9v14.5h-1.9zM108.8 158.9h1.1v14.5h-1.1zM182.4 158.9h1.3v14.5h-1.3zM203.4 158.9h2v14.5h-2zM82.7 178.7h1.6v14.5h-1.6zM122.8 178.7h2v14.5h-2zM162.5 178.7h1.5v14.5h-1.5zM73.2 198.4h1.7v14.5h-1.7zM81.8 198.4h1.7v14.5h-1.7zM123.1 198.4h2.2v14.5h-2.2zM236.5 198.4h1.9v14.5h-1.9zM267 198.4h1.9v14.5h-1.9zM272.1 198.4h1.2v14.5h-1.2zM276.7 198.4h2.1v14.5h-2.1zM107.7 218.2h2.4v14.5h-2.4zM136.1 218.2h2.1v14.5h-2.1zM230.7 218.2h1.4v14.5h-1.4zM239.8 218.2h1.4v14.5h-1.4zM272.5 218.2h1.3v14.5h-1.3zM67 237.9h1.6v14.5h-1.6zM70 237.9h1.1v14.5h-1.1zM71.1 237.9h1.6v14.5h-1.6zM72.7 237.9h1.5v14.5h-1.5zM79.5 237.9h2.5v14.5h-2.5zM82 237.9h1.4v14.5h-1.4zM98.1 237.9h2.6v14.5h-2.6zM102.9 237.9h1.1v14.5h-1.1zM105.3 237.9h1.3v14.5h-1.3zM109.8 237.9h1.7v14.5h-1.7zM129.6 237.9h2.4v14.5h-2.4zM133.9 237.9h1.5v14.5h-1.5zM137.5 237.9h1.9v14.5h-1.9zM301.2 237.9h1.2v14.5h-1.2zM302.4 237.9h1.8v14.5h-1.8zM305.2 237.9h1.7v14.5h-1.7zM269.2 257.6h1.9v14.5h-1.9zM275.4 257.6h2.2v14.5h-2.2zM279.9 257.6h1v14.5h-1zM284.2 257.6h2.3v14.5h-2.3zM288.5 257.6h2.5v14.5h-2.5zM95.9 277.4h1.9v14.5h-1.9zM155.2 277.4h2.1v14.5h-2.1zM165.9 277.4h2.5v14.5h-2.5zM168.5 277.4h1.9v14.5h-1.9zM273.4 277.4h2.6v14.5h-2.6zM276 277.4h1.6v14.5h-1.6zM277.7 277.4h2.1v14.5h-2.1zM286.3 277.4h1.3v14.5h-1.3zM290 277.4h1.2v14.5h-1.2zM296.1 277.4h2v14.5h-2zM301.8 277.4h1.2v14.5h-1.2zM307.5 277.4h1.3v14.5h-1.3zM327.4 277.4h1.5v14.5h-1.5zM334.7 277.4h1.7v14.5h-1.7zM336.5 277.4h1.2v14.5h-1.2zM102.5 297.1h1.4v14.5h-1.4zM123.2 297.1h1.6v14.5h-1.6zM244.8 297.1h1.3v14.5h-1.3zM248.5 297.1h2.3v14.5h-2.3zM263.9 297.1h2.5v14.5h-2.5zM269 297.1h2.3v14.5h-2.3zM317 297.1h2.4v14.5h-2.4zM327.6 297.1h0.1v14.5h-0.1zM94.6 316.9h2.2v14.5h-2.2zM100.3 316.9h1.5v14.5h-1.5zM124 316.9h1v14.5h-1zM126.4 316.9h2.3v14.5h-2.3zM132.4 316.9h1.4v14.5h-1.4zM320.5 316.9h1.6v14.5h-1.6zM325.3 316.9h1.9v14.5h-1.9zM327.2 316.9h1.3v14.5h-1.3zM334.3 316.9h1.2v14.5h-1.2zM340.5 316.9h1.9v14.5h-1.9zM343.4 316.9h2.4v14.5h-2.4zM355.9 316.9h1.9v14.5h-1.9zM361.5 316.9h1.6v14.5h-1.6zM366.3 316.9h1.1v14.5h-1.1zM66.4 336.6h1.9v14.5h-1.9zM72.8 336.6h2.2v14.5h-2.2zM245.5 336.6h1.6v14.5h-1.6zM271.2 336.6h1.8v14.5h-1.8zM308.1 336.6h1.3v14.5h-1.3zM326.4 336.6h1.9v14.5h-1.9zM332.8 336.6h1.6v14.5h-1.6zM74.4 356.3h2.4v14.5h-2.4zM120 356.3h1v14.5h-1zM137.7 356.3h1.6v14.5h-1.6zM275 356.3h1.4v14.5h-1.4zM309.2 356.3h1.3v14.5h-1.3zM83.5 376.1h1.5v14.5h-1.5zM69.5 395.8h2.6v14.5h-2.6zM86.8 395.8h2.4v14.5h-2.4zM69.1 415.6h2.1v14.5h-2.1zM119.2 415.6h1.8v14.5h-1.8zM324.9 415.6h2.1v14.5h-2.1zM334.3 415.6h1.9v14.5h-1.9z"/><path fill="#988686" d="M194.8 40.5h2.6v14.5h-2.6zM203.8 40.5h1v14.5h-1zM204.9 40.5h1.8v14.5h-1.8zM211.4 40.5h2.2v14.5h-2.2zM215.9 40.5h1.6v14.5h-1.6zM219.9 40.5h1.7v14.5h-1.7zM225.9 40.5h1.9v14.5h-1.9zM227.9 40.5h1.1v14.5h-1.1zM237.6 40.5h1.1v14.5h-1.1zM238.8 40.5h1v14.5h-1zM141.5 60.2h1.2v14.5h-1.2zM149.4 60.2h2.5v14.5h-2.5zM191.3 60.2h1.3v14.5h-1.3zM200.7 60.2h1.6v14.5h-1.6zM202.3 60.2h1.2v14.5h-1.2zM160 80h1.5v14.5h-1.5zM164.3 80h1.3v14.5h-1.3zM191 80h1.7v14.5h-1.7zM204.6 80h2.3v14.5h-2.3zM210.5 80h1.9v14.5h-1.9zM224.9 80h1.1v14.5h-1.1zM226 80h1.9v14.5h-1.9zM234.2 80h2.3v14.5h-2.3zM259.3 80h1.3v14.5h-1.3zM261.7 80h2.2v14.5h-2.2zM265.3 80h1.6v14.5h-1.6zM292.4 80h1.3v14.5h-1.3zM299 80h1v14.5h-1zM114.7 99.7h1.6v14.5h-1.6zM116.3 99.7h2.1v14.5h-2.1zM127.1 99.7h1.2v14.5h-1.2zM154.7 99.7h1.7v14.5h-1.7zM156.5 99.7h1.6v14.5h-1.6zM161 99.7h2.3v14.5h-2.3zM176.7 99.7h1.6v14.5h-1.6zM189.5 99.7h2.1v14.5h-2.1zM201.8 99.7h1.8v14.5h-1.8zM209.1 99.7h1.6v14.5h-1.6zM210.7 99.7h2.6v14.5h-2.6zM213.3 99.7h2.1v14.5h-2.1zM216.4 99.7h1.5v14.5h-1.5zM219.1 99.7h1.8v14.5h-1.8zM220.9 99.7h2.3v14.5h-2.3zM223.3 99.7h1.3v14.5h-1.3zM228.5 99.7h1.2v14.5h-1.2zM238.9 99.7h0.6v14.5h-0.6zM110 119.5h1.4v14.5h-1.4zM113.3 119.5h1.2v14.5h-1.2zM144.3 119.5h1.3v14.5h-1.3zM163.3 119.5h2.1v14.5h-2.1zM165.4 119.5h1.6v14.5h-1.6zM170.8 119.5h2.5v14.5h-2.5zM173.2 119.5h1.4v14.5h-1.4zM191.4 119.5h1.7v14.5h-1.7zM196.6 119.5h1.9v14.5h-1.9zM198.5 119.5h1.6v14.5h-1.6zM212.9 119.5h0.6v14.5h-0.6zM132.5 139.2h1v14.5h-1zM140.1 139.2h0.6v14.5h-0.6zM145.7 139.2h2.4v14.5h-2.4zM148.1 139.2h2v14.5h-2zM154.4 139.2h1.4v14.5h-1.4zM158.7 139.2h1.4v14.5h-1.4zM165 139.2h2.1v14.5h-2.1zM172.9 139.2h1.5v14.5h-1.5zM258 139.2h1.5v14.5h-1.5zM263.8 139.2h2.1v14.5h-2.1zM121.4 158.9h2.1v14.5h-2.1zM133.4 158.9h1.6v14.5h-1.6zM103 178.7h1.4v14.5h-1.4zM107.8 178.7h1.4v14.5h-1.4zM109.2 178.7h2.4v14.5h-2.4zM137.6 198.4h1.2v14.5h-1.2zM158.9 198.4h1.7v14.5h-1.7zM165.9 198.4h2.2v14.5h-2.2zM165.5 218.2h2.6v14.5h-2.6zM168.1 218.2h2.4v14.5h-2.4zM189.8 218.2h1.5v14.5h-1.5zM199.8 218.2h1.9v14.5h-1.9zM201.7 218.2h2v14.5h-2zM212.5 218.2h2.3v14.5h-2.3zM153.2 237.9h1.8v14.5h-1.8zM161.5 237.9h2.3v14.5h-2.3zM180.2 237.9h2.1v14.5h-2.1zM191.4 237.9h1.5v14.5h-1.5zM194.9 237.9h2.5v14.5h-2.5zM197.4 237.9h1.1v14.5h-1.1zM202.1 237.9h1.3v14.5h-1.3zM209.8 237.9h2.4v14.5h-2.4zM223.3 237.9h2v14.5h-2zM228.9 237.9h1.3v14.5h-1.3zM236.3 237.9h2.5v14.5h-2.5zM238.8 237.9h2.5v14.5h-2.5zM66.4 257.6h1.4v14.5h-1.4zM69.6 257.6h1.5v14.5h-1.5zM84.4 257.6h2.1v14.5h-2.1zM88.7 257.6h1.4v14.5h-1.4zM102.3 257.6h1.3v14.5h-1.3zM103.6 257.6h2.4v14.5h-2.4zM114.9 257.6h1.6v14.5h-1.6zM117.5 257.6h2.1v14.5h-2.1zM125.3 257.6h1.6v14.5h-1.6zM130 257.6h1.4v14.5h-1.4zM131.4 257.6h1.2v14.5h-1.2zM136.3 257.6h2.1v14.5h-2.1zM144.2 257.6h2.4v14.5h-2.4zM151.9 257.6h2.6v14.5h-2.6zM165.9 257.6h2.1v14.5h-2.1zM177.2 257.6h1.2v14.5h-1.2zM181.9 257.6h1.1v14.5h-1.1zM193.3 257.6h1.4v14.5h-1.4zM196.3 257.6h1.4v14.5h-1.4zM201.9 277.4h1.8v14.5h-1.8zM217.8 277.4h1.3v14.5h-1.3zM228.4 277.4h2.3v14.5h-2.3zM244.2 277.4h2.1v14.5h-2.1zM252.7 277.4h1.5v14.5h-1.5zM257.2 277.4h1.4v14.5h-1.4zM261.6 277.4h2v14.5h-2zM263.5 277.4h1.5v14.5h-1.5zM196.7 297.1h1.4v14.5h-1.4zM198.1 297.1h2.2v14.5h-2.2zM203.7 297.1h1.7v14.5h-1.7zM141.8 316.9h1.8v14.5h-1.8zM143.7 316.9h1.5v14.5h-1.5zM161.5 316.9h1.1v14.5h-1.1zM167 316.9h2.1v14.5h-2.1zM173.2 316.9h2.4v14.5h-2.4zM185.5 316.9h1.7v14.5h-1.7zM187.2 316.9h2.5v14.5h-2.5zM190.7 316.9h2v14.5h-2zM208.2 316.9h2.1v14.5h-2.1zM216.6 316.9h2v14.5h-2zM218.6 316.9h2.4v14.5h-2.4zM222.5 316.9h2.3v14.5h-2.3zM227.4 316.9h2.4v14.5h-2.4zM257.9 316.9h2.3v14.5h-2.3zM262.4 316.9h2.4v14.5h-2.4zM268 316.9h2.6v14.5h-2.6zM271.9 316.9h2v14.5h-2zM279.5 316.9h1.1v14.5h-1.1zM282 316.9h1.5v14.5h-1.5zM283.5 316.9h1.5v14.5h-1.5zM298.2 316.9h1v14.5h-1zM83.9 336.6h1.1v14.5h-1.1zM91.9 336.6h1.3v14.5h-1.3zM99.8 336.6h1.2v14.5h-1.2zM102.2 336.6h2v14.5h-2zM126.5 336.6h2.6v14.5h-2.6zM131.4 336.6h1.4v14.5h-1.4zM132.9 336.6h1.1v14.5h-1.1zM139.9 336.6h2.3v14.5h-2.3zM154.8 336.6h0.2v14.5h-0.2zM163 336.6h1.1v14.5h-1.1zM168.3 336.6h1.4v14.5h-1.4zM171.6 336.6h2.5v14.5h-2.5zM174.1 336.6h1.3v14.5h-1.3zM202.3 336.6h2.3v14.5h-2.3zM205.7 336.6h1.3v14.5h-1.3zM216.3 336.6h2v14.5h-2zM165 356.3h2v14.5h-2zM177.4 356.3h2.2v14.5h-2.2zM196.8 356.3h1.7v14.5h-1.7zM227.2 356.3h1.7v14.5h-1.7zM235.1 356.3h2.3v14.5h-2.3zM237.4 356.3h1.9v14.5h-1.9zM240.4 356.3h1.1v14.5h-1.1zM241.5 356.3h2.3v14.5h-2.3zM245 356.3h1.6v14.5h-1.6zM246.6 356.3h1.8v14.5h-1.8zM250.9 356.3h2.4v14.5h-2.4zM254.7 356.3h2.2v14.5h-2.2zM261.6 356.3h2v14.5h-2zM269.1 356.3h1.8v14.5h-1.8zM85 376.1h2.3v14.5h-2.3zM91.7 376.1h2v14.5h-2zM95.3 376.1h1.7v14.5h-1.7zM97 376.1h1.6v14.5h-1.6zM110.5 376.1h1.5v14.5h-1.5zM113 376.1h2.5v14.5h-2.5zM129.8 376.1h1.9v14.5h-1.9zM147.9 376.1h1.9v14.5h-1.9zM158.3 376.1h2.3v14.5h-2.3zM160.6 376.1h2.2v14.5h-2.2zM176 376.1h2.4v14.5h-2.4zM184 376.1h2.3v14.5h-2.3zM210.6 376.1h1.3v14.5h-1.3zM221.8 376.1h1.1v14.5h-1.1zM233.9 376.1h1.2v14.5h-1.2zM254.8 376.1h1.9v14.5h-1.9zM275 376.1h2.6v14.5h-2.6zM97.2 395.8h1.3v14.5h-1.3zM108.6 395.8h2.2v14.5h-2.2zM117.1 395.8h1.2v14.5h-1.2zM134.8 395.8h1.8v14.5h-1.8zM162.7 395.8h2.3v14.5h-2.3zM171.3 395.8h1.7v14.5h-1.7zM200 395.8h3.1v14.5h-3.1zM204.7 395.8h3.6v14.5h-3.6zM232.1 395.8h1v14.5h-1zM238.4 395.8h2.6v14.5h-2.6zM253.7 395.8h1.1v14.5h-1.1zM256.2 395.8h2.5v14.5h-2.5zM279.1 395.8h0.9v14.5h-0.9zM282.9 395.8h1.1v14.5h-1.1zM292.1 395.8h2.4v14.5h-2.4zM301.2 395.8h1.7v14.5h-1.7zM303 395.8h1.9v14.5h-1.9zM306 395.8h1.9v14.5h-1.9zM312.1 395.8h1.1v14.5h-1.1zM313.2 395.8h2.5v14.5h-2.5zM336.8 395.8h2.2v14.5h-2.2zM339 395.8h1.2v14.5h-1.2zM347.9 395.8h1.3v14.5h-1.3zM358.7 395.8h1.7v14.5h-1.7zM162.6 415.6h2.5v14.5h-2.5zM167.1 415.6h1.3v14.5h-1.3zM180.5 415.6h2.4v14.5h-2.4zM194.6 415.6h1.8v14.5h-1.8zM198.9 415.6h1.4v14.5h-1.4zM204.6 415.6h1.7v14.5h-1.7zM211.2 415.6h2.5v14.5h-2.5zM218.2 415.6h2.2v14.5h-2.2zM228.5 415.6h1.7v14.5h-1.7zM232.1 415.6h1.4v14.5h-1.4zM233.5 415.6h2v14.5h-2zM235.5 415.6h1.2v14.5h-1.2zM245 415.6h2v14.5h-2zM250.1 415.6h2v14.5h-2zM261 415.6h1.6v14.5h-1.6zM262.6 415.6h1.5v14.5h-1.5zM264.1 415.6h2v14.5h-2zM271.1 415.6h1.9v14.5h-1.9zM273 415.6h1.8v14.5h-1.8zM281.2 415.6h2.6v14.5h-2.6zM283.8 415.6h2.1v14.5h-2.1zM305.2 415.6h1.5v14.5h-1.5zM309.2 415.6h2.6v14.5h-2.6zM311.7 415.6h2.3v14.5h-2.3z"/><path fill="#c8b86a" d="M76.3 60.2h2.3v14.5h-2.3zM86.2 60.2h2.1v14.5h-2.1zM93.2 60.2h1.4v14.5h-1.4zM115 60.2h2v14.5h-2zM128.5 60.2h2.4v14.5h-2.4zM216 60.2h2.4v14.5h-2.4zM220.6 60.2h2.4v14.5h-2.4zM237.3 60.2h1v14.5h-1zM252.9 60.2h0.1v14.5h-0.1zM115.2 80h2.1v14.5h-2.1zM131.8 80h1.1v14.5h-1.1zM157.1 80h1.6v14.5h-1.6zM309.8 80h2v14.5h-2zM315.1 80h1.6v14.5h-1.6zM234.1 119.5h2.3v14.5h-2.3zM236.4 119.5h1.2v14.5h-1.2zM237.6 119.5h1.1v14.5h-1.1zM243.2 119.5h1.3v14.5h-1.3zM249.2 119.5h1.6v14.5h-1.6zM259.4 119.5h1.1v14.5h-1.1zM262.9 119.5h1.6v14.5h-1.6zM269.5 119.5h1.4v14.5h-1.4zM270.9 119.5h1.9v14.5h-1.9zM274.5 119.5h1.6v14.5h-1.6zM72.1 139.2h1.3v14.5h-1.3zM74.7 139.2h1.3v14.5h-1.3zM81.4 139.2h2.4v14.5h-2.4zM88.9 139.2h1.3v14.5h-1.3zM91.8 139.2h2.1v14.5h-2.1zM108.7 139.2h1.6v14.5h-1.6zM116.8 139.2h2.1v14.5h-2.1zM121 139.2h1.2v14.5h-1.2zM80.6 158.9h1.6v14.5h-1.6zM96.2 158.9h2.5v14.5h-2.5zM103.9 158.9h2v14.5h-2zM107.2 158.9h1.6v14.5h-1.6zM109.9 158.9h2.1v14.5h-2.1zM74.9 198.4h1.7v14.5h-1.7zM79.7 198.4h2.1v14.5h-2.1zM83.5 198.4h2.4v14.5h-2.4zM85.9 198.4h1.7v14.5h-1.7zM95.7 198.4h2.1v14.5h-2.1zM103 198.4h1.7v14.5h-1.7zM87.3 237.9h1.3v14.5h-1.3zM88.6 237.9h1.9v14.5h-1.9zM111.5 237.9h1v14.5h-1zM112.6 237.9h1.1v14.5h-1.1zM123 237.9h1.7v14.5h-1.7zM124.7 237.9h2.5v14.5h-2.5zM135.3 237.9h2.2v14.5h-2.2zM139.4 237.9h2.5v14.5h-2.5zM312.8 237.9h1.2v14.5h-1.2zM323.9 237.9h1.7v14.5h-1.7zM339.1 237.9h2.2v14.5h-2.2zM271 257.6h2v14.5h-2zM278.6 257.6h1.2v14.5h-1.2zM282.7 257.6h1.5v14.5h-1.5zM283 277.4h1.7v14.5h-1.7zM298.1 277.4h2.5v14.5h-2.5zM238.6 297.1h1v14.5h-1zM239.7 297.1h1.6v14.5h-1.6zM250.8 297.1h1.3v14.5h-1.3zM257.4 297.1h2.3v14.5h-2.3zM266.4 297.1h2.6v14.5h-2.6zM278.8 297.1h1.1v14.5h-1.1zM280 297.1h2.5v14.5h-2.5zM288.9 297.1h1.7v14.5h-1.7zM290.5 297.1h1.6v14.5h-1.6zM295.7 297.1h1.8v14.5h-1.8zM305.8 297.1h1.7v14.5h-1.7zM308.5 297.1h2.3v14.5h-2.3zM312.5 297.1h2.2v14.5h-2.2zM319.4 297.1h2.1v14.5h-2.1zM321.5 297.1h1.9v14.5h-1.9zM88 316.9h1v14.5h-1zM91.2 316.9h2.2v14.5h-2.2zM106.9 316.9h1.2v14.5h-1.2zM116.4 316.9h1.4v14.5h-1.4zM121.4 316.9h2.6v14.5h-2.6zM128.7 316.9h1.4v14.5h-1.4zM315.6 316.9h1.8v14.5h-1.8zM330.4 316.9h2.5v14.5h-2.5zM333 316.9h1.4v14.5h-1.4zM345.8 316.9h2.1v14.5h-2.1zM350 316.9h2.2v14.5h-2.2zM359.3 316.9h1.1v14.5h-1.1zM363.1 316.9h1.6v14.5h-1.6z"/><path fill="#e8a050" d="M122.6 60.2h2.6v14.5h-2.6zM253 60.2h2.3v14.5h-2.3zM255.3 60.2h0.2v14.5h-0.2zM106.8 198.4h2.6v14.5h-2.6zM119.2 198.4h1.3v14.5h-1.3zM90.5 237.9h2.3v14.5h-2.3zM132.1 237.9h1.8v14.5h-1.8zM311.3 237.9h1.5v14.5h-1.5zM263 257.6h1.9v14.5h-1.9zM264.9 257.6h1v14.5h-1zM266 257.6h0.5v14.5h-0.5zM282.5 297.1h2.3v14.5h-2.3zM286.2 297.1h1.5v14.5h-1.5zM287.8 297.1h1.1v14.5h-1.1zM292.2 297.1h1.5v14.5h-1.5zM297.5 297.1h1.4v14.5h-1.4zM300.4 297.1h1.2v14.5h-1.2zM301.6 297.1h1.8v14.5h-1.8zM307.5 297.1h1v14.5h-1zM325.2 297.1h2.4v14.5h-2.4zM133.8 316.9h2.5v14.5h-2.5zM323.1 316.9h2.2v14.5h-2.2z"/><path fill="#e8e4e4" d="M152 60.2h1.4v14.5h-1.4zM154.8 60.2h2v14.5h-2zM156.8 60.2h2.3v14.5h-2.3zM161.7 139.2h1.2v14.5h-1.2zM162.9 139.2h2.1v14.5h-2.1zM175.5 139.2h2.4v14.5h-2.4zM182.6 139.2h1.6v14.5h-1.6zM150 257.6h1.9v14.5h-1.9zM154.5 257.6h0.5v14.5h-0.5zM175.4 257.6h1.9v14.5h-1.9zM188.9 257.6h1.5v14.5h-1.5zM194.8 257.6h1.5v14.5h-1.5zM211.8 257.6h1.8v14.5h-1.8zM155 336.6h2.4v14.5h-2.4zM158.6 336.6h2.3v14.5h-2.3zM165.8 336.6h2.5v14.5h-2.5zM241 395.8h2v14.5h-2zM260.5 395.8h2.2v14.5h-2.2zM266.2 395.8h1.5v14.5h-1.5zM273.6 395.8h1.2v14.5h-1.2zM156.6 415.6h2.2v14.5h-2.2zM223.8 415.6h1.6v14.5h-1.6zM226.6 415.6h1.9v14.5h-1.9zM238.7 415.6h2.2v14.5h-2.2z"/><path fill="#e87860" d="M293.6 297.1h2.1v14.5h-2.1zM298.9 297.1h1.5v14.5h-1.5zM303.3 297.1h2.4v14.5h-2.4zM310.8 297.1h1.8v14.5h-1.8z"/><path fill="#a09090" d="M181.7 336.6h2.6v14.5h-2.6zM189.8 336.6h3.3v14.5h-3.3zM221.7 395.8h4.3v14.5h-4.3z"/><path fill="#c8c0c0" d="M185.3 336.6h3.3v14.5h-3.3zM198.2 336.6h2.5v14.5h-2.5zM209.9 395.8h4.3v14.5h-4.3zM227.1 395.8h1.7v14.5h-1.7z"/></g><g filter="url(#bl2)"><path fill="#a8c0cc" d="M467 27.8h1v15h-1zM496.3 27.8h1.6v15h-1.6zM502.1 27.8h2.4v15h-2.4zM504.5 27.8h0.5v15h-0.5zM602.2 27.8h1.7v15h-1.7zM603.9 27.8h1.1v15h-1.1zM624.4 27.8h1.6v15h-1.6zM630.2 27.8h1.1v15h-1.1zM631.3 27.8h1.2v15h-1.2zM636.2 27.8h2.1v15h-2.1zM645.4 27.8h1.8v15h-1.8zM467 48.1h1.9v15h-1.9zM470.3 48.1h2.4v15h-2.4zM478.8 48.1h1.6v15h-1.6zM482.7 48.1h2.4v15h-2.4zM490 48.1h1.2v15h-1.2zM491.2 48.1h1.7v15h-1.7zM503.3 48.1h1.3v15h-1.3zM506.1 48.1h2.3v15h-2.3zM510.1 48.1h1v15h-1zM543.6 48.1h1.9v15h-1.9zM546.7 48.1h1.4v15h-1.4zM555.1 48.1h1.8v15h-1.8zM556.9 48.1h2.5v15h-2.5zM561.4 48.1h2.1v15h-2.1zM575.4 48.1h0.8v15h-0.8zM635.4 48.1h2.4v15h-2.4zM644.9 48.1h1.2v15h-1.2zM651.6 48.1h1v15h-1zM474.3 68.4h1v15h-1zM475.3 68.4h2.4v15h-2.4zM483.7 68.4h1.7v15h-1.7zM503.7 68.4h1.3v15h-1.3zM507.1 68.4h1.5v15h-1.5zM647.9 68.4h0.9v15h-0.9zM650.2 68.4h1.4v15h-1.4zM655.9 68.4h1.6v15h-1.6zM683 68.4h1.1v15h-1.1zM692 68.4h1.8v15h-1.8zM475.7 88.7h1.9v15h-1.9zM477.6 88.7h1.3v15h-1.3zM481.7 88.7h1.9v15h-1.9zM488.7 88.7h0.8v15h-0.8zM510.6 88.7h0.8v15h-0.8zM516.7 88.7h2v15h-2zM522.7 88.7h1.8v15h-1.8zM525.5 88.7h1.9v15h-1.9zM527.4 88.7h2.5v15h-2.5zM630 88.7h2v15h-2zM637.9 88.7h1.4v15h-1.4zM644.3 88.7h1.1v15h-1.1zM645.3 88.7h1.7v15h-1.7zM468.1 109h2v15h-2zM472.1 109h1.9v15h-1.9zM491.6 109h1.4v15h-1.4zM496.3 109h2.5v15h-2.5zM500.6 109h2v15h-2zM504 109h1.9v15h-1.9zM518.3 109h1.7v15h-1.7zM593 109h2.3v15h-2.3zM595.2 109h1.4v15h-1.4zM620.8 109h2.3v15h-2.3zM623.9 109h2.4v15h-2.4zM639 109h1.2v15h-1.2zM645.1 109h1.2v15h-1.2zM494.8 129.3h1.1v15h-1.1zM497.7 129.3h1.3v15h-1.3zM505.6 129.3h1.9v15h-1.9zM512.7 129.3h2.5v15h-2.5zM515.1 129.3h0.8v15h-0.8zM522.7 129.3h1.8v15h-1.8zM524.5 129.3h0.5v15h-0.5zM615.1 129.3h1.5v15h-1.5zM631.2 129.3h1.8v15h-1.8zM637.5 129.3h1.6v15h-1.6zM641.1 129.3h1.3v15h-1.3zM655.9 129.3h2.4v15h-2.4zM662.3 129.3h1.6v15h-1.6zM669.3 129.3h1.2v15h-1.2zM673.7 129.3h1.6v15h-1.6zM490.4 149.7h1.1v15h-1.1zM493.6 149.7h1.5v15h-1.5zM497.1 149.7h1.9v15h-1.9zM505 149.7h1.7v15h-1.7zM519.7 149.7h1.9v15h-1.9zM544.8 149.7h1.8v15h-1.8zM558.1 149.7h2.5v15h-2.5zM560.6 149.7h1.8v15h-1.8zM577.6 149.7h1.4v15h-1.4zM711.4 149.7h1.2v15h-1.2zM723.3 149.7h2.2v15h-2.2zM726.5 149.7h1.3v15h-1.3zM730.4 149.7h2.3v15h-2.3zM741.8 149.7h1.9v15h-1.9zM743.7 149.7h1.4v15h-1.4zM745.1 149.7h2.5v15h-2.5zM756.3 149.7h1.4v15h-1.4zM494.8 170h2.4v15h-2.4zM505.1 170h1.7v15h-1.7zM511.9 170h1.2v15h-1.2zM519.5 170h2.1v15h-2.1zM524.1 170h1.6v15h-1.6zM528.6 170h1.9v15h-1.9zM530.5 170h2.3v15h-2.3zM534.3 170h2.2v15h-2.2zM543.7 170h1.2v15h-1.2zM546.8 170h1.2v15h-1.2zM474.1 190.3h1.7v15h-1.7zM475.8 190.3h1.8v15h-1.8zM484.7 190.3h2.3v15h-2.3zM495.8 190.3h2.4v15h-2.4zM498.3 190.3h2.2v15h-2.2zM507.9 190.3h1.1v15h-1.1zM640 190.3h1.3v15h-1.3zM641.3 190.3h1.4v15h-1.4zM646.6 190.3h1.8v15h-1.8zM648.4 190.3h2v15h-2zM662 190.3h2.3v15h-2.3zM677.4 190.3h1.8v15h-1.8zM475 210.6h1.1v15h-1.1zM481.1 210.6h1.1v15h-1.1zM487.5 210.6h1v15h-1zM489.8 210.6h1.1v15h-1.1zM490.9 210.6h0.9v15h-0.9zM502.3 210.6h1.5v15h-1.5zM514.1 210.6h1.5v15h-1.5zM519.4 210.6h1.3v15h-1.3zM615.1 210.6h1.3v15h-1.3zM616.4 210.6h1.3v15h-1.3zM618.8 210.6h1.7v15h-1.7zM633.7 210.6h2.3v15h-2.3zM636 210.6h1.8v15h-1.8zM650.1 210.6h1.8v15h-1.8zM661.1 210.6h1.8v15h-1.8zM662.9 210.6h1.2v15h-1.2zM668 210.6h1.4v15h-1.4zM480.6 230.9h2.1v15h-2.1zM492 230.9h1.5v15h-1.5zM495.6 230.9h1.2v15h-1.2zM524.2 230.9h1.1v15h-1.1zM526.4 230.9h1.4v15h-1.4zM650 230.9h0.8v15h-0.8zM650.8 230.9h2.1v15h-2.1zM658.9 230.9h0.9v15h-0.9zM663.2 230.9h2.1v15h-2.1zM665.3 230.9h1.9v15h-1.9zM670.3 230.9h2.3v15h-2.3zM673.9 230.9h1.5v15h-1.5zM675.4 230.9h1v15h-1zM680.3 230.9h1.6v15h-1.6zM682 230.9h1.9v15h-1.9zM694.8 230.9h1v15h-1zM698.9 230.9h0.9v15h-0.9zM709.3 230.9h0.7v15h-0.7zM468.2 251.2h1v15h-1zM471.4 251.2h2v15h-2zM478.8 251.2h1.4v15h-1.4zM487 251.2h2.3v15h-2.3zM490.6 251.2h1.5v15h-1.5zM498.9 251.2h2.2v15h-2.2zM506.9 251.2h2.4v15h-2.4zM523.5 251.2h1.5v15h-1.5zM529.4 251.2h2.2v15h-2.2zM659.3 251.2h0.8v15h-0.8zM468 271.5h1.5v15h-1.5zM474.3 271.5h2v15h-2zM478.3 271.5h1.1v15h-1.1zM483 271.5h1.2v15h-1.2zM509.3 271.5h1.1v15h-1.1zM624.9 271.5h2.4v15h-2.4zM629.2 271.5h1.6v15h-1.6zM638.8 271.5h1.7v15h-1.7zM642.3 271.5h1.4v15h-1.4zM645.9 271.5h2v15h-2zM670.8 271.5h1v15h-1zM672.7 271.5h1.8v15h-1.8zM677.3 271.5h0.9v15h-0.9zM683.5 271.5h1.6v15h-1.6zM686.4 271.5h0.9v15h-0.9zM688.9 271.5h2.4v15h-2.4zM696.2 271.5h2.2v15h-2.2zM720.1 271.5h1.8v15h-1.8zM478.1 291.8h1.6v15h-1.6zM488.1 291.8h2.3v15h-2.3zM497.2 291.8h1.7v15h-1.7zM508.6 291.8h1.1v15h-1.1zM511.1 291.8h1.3v15h-1.3zM514.7 291.8h1v15h-1zM521.1 291.8h1.3v15h-1.3zM526.3 291.8h1.4v15h-1.4zM527.8 291.8h1.5v15h-1.5zM539.1 291.8h1v15h-1zM542 291.8h0.9v15h-0.9zM546.6 291.8h1.7v15h-1.7zM551.3 291.8h1.9v15h-1.9zM561 291.8h1.9v15h-1.9zM564.6 291.8h2.3v15h-2.3zM593.2 291.8h1.2v15h-1.2zM610.8 291.8h1v15h-1zM615.8 291.8h1v15h-1zM680.4 291.8h1.4v15h-1.4zM686.2 291.8h0.8v15h-0.8zM691.4 291.8h0.3v15h-0.3zM467 312.1h2.4v15h-2.4zM480.4 312.1h2v15h-2zM482.4 312.1h1.8v15h-1.8zM489.9 312.1h2.3v15h-2.3zM497.4 312.1h1v15h-1zM500 312.1h1.5v15h-1.5zM508.6 312.1h2.4v15h-2.4zM511 312.1h0.9v15h-0.9zM699.9 312.1h2.1v15h-2.1zM703.7 312.1h2v15h-2zM710.4 312.1h2.1v15h-2.1zM716.8 312.1h1.1v15h-1.1zM722.6 312.1h1.3v15h-1.3zM723.9 312.1h2.5v15h-2.5zM737.2 312.1h2.4v15h-2.4zM477.6 332.4h2.4v15h-2.4zM487.1 332.4h1.3v15h-1.3zM495.9 332.4h1.9v15h-1.9zM498.7 332.4h0.9v15h-0.9zM507.7 332.4h1.3v15h-1.3zM515.6 332.4h1.4v15h-1.4zM521.8 332.4h1.5v15h-1.5zM532.2 332.4h1.7v15h-1.7zM545.9 332.4h1.1v15h-1.1zM648.4 332.4h2v15h-2zM650.4 332.4h1.1v15h-1.1zM657.5 332.4h0.9v15h-0.9zM664.9 332.4h2.5v15h-2.5zM670.2 332.4h1.7v15h-1.7zM674.3 332.4h2.4v15h-2.4zM678.1 332.4h1v15h-1zM684.6 332.4h1.2v15h-1.2zM690.5 332.4h2.5v15h-2.5zM704.7 332.4h1.6v15h-1.6zM707.4 332.4h1.2v15h-1.2zM708.7 332.4h2.4v15h-2.4zM730.4 332.4h1v15h-1zM500 352.8h1.5v15h-1.5zM516.2 352.8h1.2v15h-1.2zM536.4 352.8h0.9v15h-0.9zM537.3 352.8h1.4v15h-1.4zM538.7 352.8h1.1v15h-1.1zM551.9 352.8h1.4v15h-1.4zM561.4 352.8h1.8v15h-1.8zM468.8 373.1h0.8v15h-0.8zM476.4 373.1h1.9v15h-1.9zM483.1 373.1h1.1v15h-1.1zM486.3 373.1h1.5v15h-1.5zM497.1 373.1h1.4v15h-1.4zM498.5 373.1h1.4v15h-1.4zM501.9 373.1h1.1v15h-1.1zM600 373.1h1.9v15h-1.9zM611.4 373.1h1.2v15h-1.2zM617.6 373.1h1.2v15h-1.2zM618.8 373.1h1.2v15h-1.2zM621.6 373.1h2.1v15h-2.1zM631.5 373.1h1.3v15h-1.3zM632.8 373.1h1.2v15h-1.2zM656.1 373.1h1.8v15h-1.8zM657.9 373.1h1.1v15h-1.1zM670.6 373.1h1.6v15h-1.6zM672.3 373.1h2.4v15h-2.4zM682.5 373.1h2.4v15h-2.4zM699.3 373.1h2.2v15h-2.2zM708.6 373.1h0.1v15h-0.1zM470.9 393.4h2.4v15h-2.4zM481.7 393.4h1.1v15h-1.1zM489.7 393.4h1.3v15h-1.3zM499.3 393.4h0.9v15h-0.9zM500.2 393.4h1.3v15h-1.3zM503.8 393.4h2.4v15h-2.4zM515 393.4h1v15h-1zM516 393.4h1.8v15h-1.8zM527.8 393.4h0.9v15h-0.9zM528.8 393.4h1.4v15h-1.4zM530.2 393.4h0.9v15h-0.9zM538.3 393.4h0.9v15h-0.9zM680 393.4h1.1v15h-1.1zM682.2 393.4h1.3v15h-1.3zM693.2 393.4h1.3v15h-1.3zM695.6 393.4h1v15h-1zM701.4 393.4h2.3v15h-2.3zM703.8 393.4h2.4v15h-2.4zM707.7 393.4h1v15h-1zM710.7 393.4h0.8v15h-0.8zM711.5 393.4h2.2v15h-2.2zM717.1 393.4h2.1v15h-2.1zM726.4 393.4h1.3v15h-1.3zM729.1 393.4h2.1v15h-2.1zM736.2 393.4h2v15h-2zM746.5 393.4h1.3v15h-1.3zM470.1 413.7h2.3v15h-2.3zM482 413.7h1.6v15h-1.6zM483.6 413.7h2.3v15h-2.3zM485.9 413.7h1.1v15h-1.1zM486.9 413.7h0.9v15h-0.9zM490.7 413.7h0.8v15h-0.8zM493.7 413.7h2.4v15h-2.4zM504.1 413.7h2.4v15h-2.4zM509.2 413.7h0.9v15h-0.9zM525.1 413.7h0.8v15h-0.8zM654.9 413.7h0.9v15h-0.9zM677.6 413.7h1.5v15h-1.5zM681.5 413.7h1.7v15h-1.7zM687.4 413.7h1.6v15h-1.6zM721.2 413.7h2v15h-2z"/><path fill="#80a8a0" d="M468 27.8h1.5v15h-1.5zM473.8 27.8h2.1v15h-2.1zM477.6 27.8h2.3v15h-2.3zM480.9 27.8h2v15h-2zM482.9 27.8h1.1v15h-1.1zM497.9 27.8h1.2v15h-1.2zM500.4 27.8h0.9v15h-0.9zM501.3 27.8h0.8v15h-0.8zM607.2 27.8h2.5v15h-2.5zM617.4 27.8h1.4v15h-1.4zM622 27.8h2.4v15h-2.4zM632.5 27.8h1.8v15h-1.8zM639.8 27.8h1.2v15h-1.2zM641 27.8h2.4v15h-2.4zM651.8 27.8h2.1v15h-2.1zM653.9 27.8h2v15h-2zM497.5 48.1h1.8v15h-1.8zM512.1 48.1h2v15h-2zM537.2 48.1h1.2v15h-1.2zM542.1 48.1h1.5v15h-1.5zM548 48.1h1.7v15h-1.7zM560.2 48.1h1.2v15h-1.2zM567 48.1h1.7v15h-1.7zM628.9 48.1h1.9v15h-1.9zM632.1 48.1h1.8v15h-1.8zM633.8 48.1h1.6v15h-1.6zM646.1 48.1h0.8v15h-0.8zM647 48.1h2.2v15h-2.2zM649.2 48.1h2.5v15h-2.5zM655 48.1h2.3v15h-2.3zM661.2 48.1h1.1v15h-1.1zM665.5 48.1h2.3v15h-2.3zM469.4 68.4h1.9v15h-1.9zM473.1 68.4h1.2v15h-1.2zM478.7 68.4h1.4v15h-1.4zM480.1 68.4h1.4v15h-1.4zM497.3 68.4h2.1v15h-2.1zM502.1 68.4h1.5v15h-1.5zM668.3 68.4h1.6v15h-1.6zM684.1 68.4h1.1v15h-1.1zM697.3 68.4h2v15h-2zM706.1 68.4h1.1v15h-1.1zM712.1 68.4h1.1v15h-1.1zM713.2 68.4h1.3v15h-1.3zM715.9 68.4h2v15h-2zM474.7 88.7h1v15h-1zM500.3 88.7h2v15h-2zM504.1 88.7h0.9v15h-0.9zM507.3 88.7h2.4v15h-2.4zM509.6 88.7h1v15h-1zM521 88.7h1.6v15h-1.6zM524.4 88.7h1.1v15h-1.1zM539.1 88.7h2.1v15h-2.1zM639.4 88.7h1.3v15h-1.3zM649.1 88.7h2.2v15h-2.2zM653.2 88.7h1v15h-1zM656.6 88.7h1.9v15h-1.9zM481.2 109h0.9v15h-0.9zM488.9 109h1.4v15h-1.4zM493 109h2.2v15h-2.2zM510.1 109h2.3v15h-2.3zM515 109h2.5v15h-2.5zM604 109h2v15h-2zM619.1 109h1.6v15h-1.6zM623 109h0.8v15h-0.8zM634.4 109h1.7v15h-1.7zM484.7 129.3h1.2v15h-1.2zM488 129.3h1.7v15h-1.7zM500.6 129.3h0.9v15h-0.9zM603.3 129.3h1.9v15h-1.9zM619.1 129.3h1.1v15h-1.1zM635.3 129.3h1.3v15h-1.3zM651.2 129.3h0.9v15h-0.9zM660 129.3h2.4v15h-2.4zM672.5 129.3h1.1v15h-1.1zM472.1 149.7h0.9v15h-0.9zM476.6 149.7h2.5v15h-2.5zM481.3 149.7h2.3v15h-2.3zM489.3 149.7h1.1v15h-1.1zM491.5 149.7h2.1v15h-2.1zM500.1 149.7h1.8v15h-1.8zM502 149.7h1.2v15h-1.2zM507.5 149.7h1.9v15h-1.9zM511.9 149.7h1.1v15h-1.1zM523.4 149.7h1.2v15h-1.2zM527.6 149.7h2.4v15h-2.4zM533.1 149.7h1.7v15h-1.7zM535.6 149.7h0.9v15h-0.9zM539.6 149.7h2.2v15h-2.2zM546.6 149.7h1.4v15h-1.4zM550 149.7h2.4v15h-2.4zM553.3 149.7h1.6v15h-1.6zM557.3 149.7h0.8v15h-0.8zM701.3 149.7h0.9v15h-0.9zM702.2 149.7h1v15h-1zM703.2 149.7h2.3v15h-2.3zM709.3 149.7h2.1v15h-2.1zM715.5 149.7h1.8v15h-1.8zM719.7 149.7h0.9v15h-0.9zM720.6 149.7h1.1v15h-1.1zM734.7 149.7h1.8v15h-1.8zM515.8 170h1.2v15h-1.2zM517 170h1v15h-1zM527.6 170h1.1v15h-1.1zM532.8 170h1.6v15h-1.6zM542.1 170h1.6v15h-1.6zM544.9 170h1.9v15h-1.9zM551.3 170h1.2v15h-1.2zM467 190.3h1.7v15h-1.7zM472.4 190.3h1.8v15h-1.8zM477.6 190.3h1.9v15h-1.9zM479.6 190.3h2.2v15h-2.2zM492.5 190.3h1.4v15h-1.4zM655 190.3h2.1v15h-2.1zM666.2 190.3h2v15h-2zM668.2 190.3h2v15h-2zM671.4 190.3h2.2v15h-2.2zM679.2 190.3h1.7v15h-1.7zM470.6 210.6h0.9v15h-0.9zM471.5 210.6h2.5v15h-2.5zM478.3 210.6h0.8v15h-0.8zM491.9 210.6h0.9v15h-0.9zM498.2 210.6h1.1v15h-1.1zM499.3 210.6h0.9v15h-0.9zM500.2 210.6h2.1v15h-2.1zM506.9 210.6h1.5v15h-1.5zM529.1 210.6h0.9v15h-0.9zM620.5 210.6h2.2v15h-2.2zM671.3 210.6h1.2v15h-1.2zM471.1 230.9h2v15h-2zM488.8 230.9h1.9v15h-1.9zM502.9 230.9h1.3v15h-1.3zM504.2 230.9h0.9v15h-0.9zM507.3 230.9h1.3v15h-1.3zM521.3 230.9h1.1v15h-1.1zM522.5 230.9h1.8v15h-1.8zM652.9 230.9h2.1v15h-2.1zM655 230.9h2.4v15h-2.4zM659.8 230.9h1.2v15h-1.2zM676.4 230.9h2.4v15h-2.4zM683.8 230.9h1.9v15h-1.9zM688.7 230.9h2.3v15h-2.3zM706.9 230.9h2.4v15h-2.4zM467 251.2h1.2v15h-1.2zM526.3 251.2h1.6v15h-1.6zM528 251.2h1.4v15h-1.4zM640.8 251.2h1.4v15h-1.4zM651.6 251.2h2v15h-2zM656.6 251.2h0.9v15h-0.9zM663.5 251.2h1v15h-1zM472.7 271.5h1.7v15h-1.7zM476.4 271.5h2v15h-2zM489.1 271.5h2v15h-2zM494.7 271.5h2.2v15h-2.2zM627.3 271.5h1.9v15h-1.9zM635.1 271.5h2.2v15h-2.2zM640.4 271.5h1.9v15h-1.9zM643.7 271.5h2.2v15h-2.2zM650.3 271.5h2.5v15h-2.5zM659.1 271.5h2.4v15h-2.4zM667.1 271.5h1.5v15h-1.5zM674.5 271.5h1.2v15h-1.2zM678.2 271.5h1.6v15h-1.6zM700.7 271.5h1.5v15h-1.5zM702.2 271.5h1.4v15h-1.4zM709.2 271.5h1.2v15h-1.2zM718.9 271.5h1.1v15h-1.1zM468.2 291.8h0.9v15h-0.9zM469.1 291.8h1.3v15h-1.3zM479.6 291.8h1.7v15h-1.7zM481.3 291.8h2.1v15h-2.1zM484.3 291.8h1.5v15h-1.5zM495.1 291.8h2.1v15h-2.1zM498.9 291.8h1.9v15h-1.9zM502.8 291.8h1.1v15h-1.1zM503.9 291.8h1.8v15h-1.8zM512.4 291.8h2.4v15h-2.4zM517.9 291.8h2v15h-2zM524.4 291.8h1.1v15h-1.1zM556.7 291.8h2v15h-2zM576.1 291.8h1.8v15h-1.8zM583.2 291.8h2v15h-2zM588 291.8h1.8v15h-1.8zM589.9 291.8h1.4v15h-1.4zM594.4 291.8h2.3v15h-2.3zM598.4 291.8h1.6v15h-1.6zM607.7 291.8h1.3v15h-1.3zM611.9 291.8h1.6v15h-1.6zM683.7 291.8h2.5v15h-2.5zM469.4 312.1h2.1v15h-2.1zM472.3 312.1h1.4v15h-1.4zM477.1 312.1h0.5v15h-0.5zM498.3 312.1h1.7v15h-1.7zM503.9 312.1h1.2v15h-1.2zM522.1 312.1h2.4v15h-2.4zM690 312.1h2v15h-2zM712.5 312.1h2.4v15h-2.4zM727.7 312.1h1.9v15h-1.9zM733.9 312.1h1v15h-1zM734.9 312.1h2.4v15h-2.4zM739.6 312.1h1.4v15h-1.4zM480 332.4h2.2v15h-2.2zM485.6 332.4h1.5v15h-1.5zM494.6 332.4h1.2v15h-1.2zM517 332.4h1.3v15h-1.3zM519.8 332.4h2v15h-2zM533.9 332.4h1.3v15h-1.3zM539.5 332.4h1.6v15h-1.6zM542.9 332.4h2.2v15h-2.2zM547 332.4h0.9v15h-0.9zM549.5 332.4h2.2v15h-2.2zM643.4 332.4h1.8v15h-1.8zM645.2 332.4h1.3v15h-1.3zM651.5 332.4h0.9v15h-0.9zM653.2 332.4h2.5v15h-2.5zM660 332.4h2v15h-2zM663.5 332.4h1.4v15h-1.4zM667.4 332.4h0.8v15h-0.8zM694.9 332.4h1.2v15h-1.2zM699 332.4h2v15h-2zM712.4 332.4h1.8v15h-1.8zM716.3 332.4h1.5v15h-1.5zM723.6 332.4h1.2v15h-1.2zM509.4 352.8h2.3v15h-2.3zM514.4 352.8h1.9v15h-1.9zM526.2 352.8h2.5v15h-2.5zM530.9 352.8h2.2v15h-2.2zM547.6 352.8h1.1v15h-1.1zM474.3 373.1h1.1v15h-1.1zM484.2 373.1h2.1v15h-2.1zM493.2 373.1h2.3v15h-2.3zM614.4 373.1h1.7v15h-1.7zM616.1 373.1h1.5v15h-1.5zM623.7 373.1h1.3v15h-1.3zM646.6 373.1h2.2v15h-2.2zM654 373.1h2.1v15h-2.1zM661.4 373.1h2.3v15h-2.3zM686.4 373.1h2.3v15h-2.3zM701.5 373.1h1.2v15h-1.2zM467 393.4h2.2v15h-2.2zM479.6 393.4h2.1v15h-2.1zM491 393.4h1.5v15h-1.5zM495.6 393.4h1.5v15h-1.5zM508.3 393.4h2.1v15h-2.1zM520.9 393.4h1.4v15h-1.4zM533.1 393.4h2.3v15h-2.3zM539.2 393.4h0.8v15h-0.8zM681.1 393.4h1.1v15h-1.1zM688.9 393.4h1.2v15h-1.2zM694.6 393.4h1.1v15h-1.1zM697.7 393.4h2v15h-2zM706.2 393.4h1.5v15h-1.5zM719.2 393.4h1.6v15h-1.6zM720.8 393.4h2.2v15h-2.2zM727.7 393.4h1.5v15h-1.5zM731.2 393.4h2.1v15h-2.1zM738.3 393.4h1.5v15h-1.5zM745.6 393.4h0.9v15h-0.9zM754 393.4h1.2v15h-1.2zM468 413.7h1.3v15h-1.3zM489.1 413.7h1.6v15h-1.6zM510.1 413.7h1.9v15h-1.9zM653 413.7h1.9v15h-1.9zM655.8 413.7h1.9v15h-1.9zM666.5 413.7h2.5v15h-2.5zM690.7 413.7h2.2v15h-2.2zM704.4 413.7h2.4v15h-2.4zM713.4 413.7h1.8v15h-1.8zM716.3 413.7h1v15h-1zM719.7 413.7h1.6v15h-1.6zM723.2 413.7h2.4v15h-2.4zM728.2 413.7h0.4v15h-0.4z"/><path fill="#d0a880" d="M469.5 27.8h2.1v15h-2.1zM643.5 68.4h2.3v15h-2.3zM533.3 88.7h1.2v15h-1.2zM632 88.7h0.8v15h-0.8zM633.7 88.7h1.8v15h-1.8zM618.3 109h0.9v15h-0.9zM495.1 149.7h2v15h-2zM520.6 210.6h0.9v15h-0.9zM694.6 271.5h1.6v15h-1.6zM523.3 332.4h1.8v15h-1.8zM528.2 332.4h1v15h-1zM541 332.4h1.8v15h-1.8zM548.7 352.8h2.4v15h-2.4zM659 373.1h2.4v15h-2.4zM476.6 393.4h2.1v15h-2.1zM753.1 393.4h0.9v15h-0.9z"/><path fill="#b8c8a8" d="M471.5 27.8h2.3v15h-2.3zM600 27.8h2.2v15h-2.2zM604.9 27.8h2.2v15h-2.2zM609.6 27.8h1.7v15h-1.7zM628 27.8h1v15h-1zM647.3 27.8h1.1v15h-1.1zM648.4 27.8h1.7v15h-1.7zM650.1 27.8h1.7v15h-1.7zM661.2 27.8h1.3v15h-1.3zM492.9 48.1h1.3v15h-1.3zM495.8 48.1h1.7v15h-1.7zM508.3 48.1h1.7v15h-1.7zM511.1 48.1h1v15h-1zM538.4 48.1h0.9v15h-0.9zM539.3 48.1h1.3v15h-1.3zM540.6 48.1h1.5v15h-1.5zM552.1 48.1h1.3v15h-1.3zM554.3 48.1h0.9v15h-0.9zM565.8 48.1h1.2v15h-1.2zM583 48.1h0.8v15h-0.8zM583.8 48.1h1.2v15h-1.2zM626.2 48.1h1.4v15h-1.4zM627.7 48.1h1.3v15h-1.3zM630.8 48.1h1.2v15h-1.2zM639.3 48.1h1.8v15h-1.8zM641.1 48.1h2.1v15h-2.1zM660.3 48.1h0.9v15h-0.9zM486.5 68.4h1.4v15h-1.4zM492.3 68.4h1.6v15h-1.6zM495 68.4h2.2v15h-2.2zM499.3 68.4h1.5v15h-1.5zM640 68.4h2v15h-2zM645.8 68.4h2v15h-2zM663 68.4h2.2v15h-2.2zM678.9 68.4h2.3v15h-2.3zM685.2 68.4h1.4v15h-1.4zM693.7 68.4h1.9v15h-1.9zM714.5 68.4h1.4v15h-1.4zM470.2 88.7h1.6v15h-1.6zM472.6 88.7h1v15h-1zM478.9 88.7h1.7v15h-1.7zM486.5 88.7h2.3v15h-2.3zM493.6 88.7h1.7v15h-1.7zM518.7 88.7h2.4v15h-2.4zM541.2 88.7h1.6v15h-1.6zM474 109h1.5v15h-1.5zM486.4 109h2.5v15h-2.5zM590 109h1.4v15h-1.4zM598.6 109h1.9v15h-1.9zM628.2 109h2.4v15h-2.4zM636.1 109h1.7v15h-1.7zM470 129.3h1v15h-1zM472.2 129.3h2.2v15h-2.2zM485.9 129.3h2.1v15h-2.1zM519 129.3h2.4v15h-2.4zM521.4 129.3h1.3v15h-1.3zM612.6 129.3h2.5v15h-2.5zM636.6 129.3h0.9v15h-0.9zM639.1 129.3h1.1v15h-1.1zM643.6 129.3h1.5v15h-1.5zM646.9 129.3h2.4v15h-2.4zM649.3 129.3h2v15h-2zM653.9 129.3h2.1v15h-2.1zM667.5 129.3h1.8v15h-1.8zM470.1 149.7h2v15h-2zM503.2 149.7h1.8v15h-1.8zM506.7 149.7h0.8v15h-0.8zM517.8 149.7h1.9v15h-1.9zM532 149.7h1.1v15h-1.1zM536.6 149.7h1v15h-1zM543.1 149.7h1.7v15h-1.7zM552.3 149.7h1v15h-1zM565.8 149.7h1.4v15h-1.4zM576.7 149.7h0.9v15h-0.9zM700 149.7h1.3v15h-1.3zM727.8 149.7h1.6v15h-1.6zM494 170h0.8v15h-0.8zM498.7 170h2.3v15h-2.3zM501 170h1.8v15h-1.8zM502.8 170h2.3v15h-2.3zM508.2 170h1.9v15h-1.9zM511 170h0.9v15h-0.9zM539.1 170h1.3v15h-1.3zM540.3 170h1.8v15h-1.8zM552.5 170h2.3v15h-2.3zM487.9 190.3h0.9v15h-0.9zM502.4 190.3h0.9v15h-0.9zM506.9 190.3h1v15h-1zM645.2 190.3h1.4v15h-1.4zM658.5 190.3h1v15h-1zM659.5 190.3h2.5v15h-2.5zM664.3 190.3h1.9v15h-1.9zM673.5 190.3h1.1v15h-1.1zM467 210.6h1.9v15h-1.9zM484.3 210.6h1.1v15h-1.1zM492.7 210.6h1v15h-1zM524.4 210.6h1.8v15h-1.8zM526.2 210.6h1.6v15h-1.6zM608.9 210.6h2.1v15h-2.1zM611 210.6h2.4v15h-2.4zM646.6 210.6h1.2v15h-1.2zM647.8 210.6h2.3v15h-2.3zM478.9 230.9h1.8v15h-1.8zM483.8 230.9h2.1v15h-2.1zM508.6 230.9h2.4v15h-2.4zM511 230.9h1.9v15h-1.9zM515.2 230.9h1.9v15h-1.9zM517.2 230.9h1v15h-1zM657.4 230.9h1.5v15h-1.5zM667.2 230.9h0.8v15h-0.8zM668 230.9h2.3v15h-2.3zM687 230.9h1.8v15h-1.8zM691 230.9h1.6v15h-1.6zM692.6 230.9h2.1v15h-2.1zM476.8 251.2h1v15h-1zM480.1 251.2h0.9v15h-0.9zM482.8 251.2h2v15h-2zM509.3 251.2h1.6v15h-1.6zM512 251.2h1.7v15h-1.7zM534 251.2h1v15h-1zM640 251.2h0.8v15h-0.8zM647.9 251.2h1.2v15h-1.2zM484.3 271.5h2.3v15h-2.3zM486.5 271.5h1.3v15h-1.3zM496.9 271.5h2.3v15h-2.3zM502.4 271.5h0.9v15h-0.9zM503.3 271.5h0.9v15h-0.9zM507.4 271.5h1.9v15h-1.9zM622.3 271.5h1.6v15h-1.6zM623.9 271.5h1v15h-1zM655.8 271.5h1v15h-1zM668.6 271.5h1.2v15h-1.2zM675.7 271.5h1.6v15h-1.6zM706 271.5h2.3v15h-2.3zM710.5 271.5h2.3v15h-2.3zM483.4 291.8h0.9v15h-0.9zM490.4 291.8h0.9v15h-0.9zM493 291.8h2.2v15h-2.2zM500.8 291.8h2v15h-2zM507.3 291.8h1.2v15h-1.2zM525.5 291.8h0.9v15h-0.9zM540.1 291.8h1.9v15h-1.9zM542.9 291.8h1.4v15h-1.4zM558.7 291.8h2.3v15h-2.3zM574.1 291.8h1.1v15h-1.1zM586.3 291.8h1.7v15h-1.7zM596.7 291.8h1.7v15h-1.7zM600.9 291.8h1.7v15h-1.7zM606.5 291.8h1.2v15h-1.2zM613.4 291.8h2.4v15h-2.4zM471.5 312.1h0.8v15h-0.8zM474.6 312.1h0.8v15h-0.8zM488.2 312.1h1.7v15h-1.7zM493.7 312.1h1.8v15h-1.8zM506.5 312.1h2.2v15h-2.2zM524.6 312.1h1.8v15h-1.8zM692 312.1h2.3v15h-2.3zM705.6 312.1h1.4v15h-1.4zM708.8 312.1h1.6v15h-1.6zM714.9 312.1h1.9v15h-1.9zM717.9 312.1h1.3v15h-1.3zM726.4 312.1h1.3v15h-1.3zM467 332.4h2.2v15h-2.2zM484.3 332.4h1.4v15h-1.4zM490.6 332.4h2.1v15h-2.1zM504 332.4h1.1v15h-1.1zM512.7 332.4h0.8v15h-0.8zM526 332.4h2.2v15h-2.2zM535.2 332.4h2.3v15h-2.3zM545 332.4h0.9v15h-0.9zM547.9 332.4h1.6v15h-1.6zM553.9 332.4h1v15h-1zM671.9 332.4h2.5v15h-2.5zM676.7 332.4h1.4v15h-1.4zM680.4 332.4h2.2v15h-2.2zM682.6 332.4h2v15h-2zM696.1 332.4h1.4v15h-1.4zM697.4 332.4h1.6v15h-1.6zM702.4 332.4h2.3v15h-2.3zM706.3 332.4h1.1v15h-1.1zM724.8 332.4h2v15h-2zM503.3 352.8h1.1v15h-1.1zM512.7 352.8h1.6v15h-1.6zM555.8 352.8h0.9v15h-0.9zM563.2 352.8h1.8v15h-1.8zM469.6 373.1h1.5v15h-1.5zM471.1 373.1h2.2v15h-2.2zM504.1 373.1h1.8v15h-1.8zM508.8 373.1h1.2v15h-1.2zM634 373.1h1.2v15h-1.2zM635.2 373.1h1.3v15h-1.3zM641.1 373.1h2.2v15h-2.2zM650.2 373.1h0.8v15h-0.8zM663.7 373.1h0.8v15h-0.8zM664.5 373.1h2.5v15h-2.5zM667 373.1h1.9v15h-1.9zM678.7 373.1h1.2v15h-1.2zM469.2 393.4h1.7v15h-1.7zM473.3 393.4h2.4v15h-2.4zM482.7 393.4h1.8v15h-1.8zM484.6 393.4h1.5v15h-1.5zM493.5 393.4h2.2v15h-2.2zM497.2 393.4h2.2v15h-2.2zM518.8 393.4h0.9v15h-0.9zM519.6 393.4h1.3v15h-1.3zM523.9 393.4h2.1v15h-2.1zM683.5 393.4h1v15h-1zM685.8 393.4h1.5v15h-1.5zM690.2 393.4h1.1v15h-1.1zM699.7 393.4h1.7v15h-1.7zM708.6 393.4h2v15h-2zM724.1 393.4h2.3v15h-2.3zM743.3 393.4h2.4v15h-2.4zM751.5 393.4h1.6v15h-1.6zM479.7 413.7h2.3v15h-2.3zM491.5 413.7h2.2v15h-2.2zM498.4 413.7h1.7v15h-1.7zM501.7 413.7h2.4v15h-2.4zM661.8 413.7h2.2v15h-2.2zM670.9 413.7h2.4v15h-2.4zM679.1 413.7h2.4v15h-2.4zM689 413.7h1.7v15h-1.7zM696.6 413.7h2.1v15h-2.1zM699.9 413.7h1v15h-1zM725.6 413.7h0.9v15h-0.9zM726.5 413.7h1.7v15h-1.7z"/><path fill="#c0b888" d="M475.9 27.8h1.7v15h-1.7zM486.1 27.8h1.1v15h-1.1zM493.6 27.8h1v15h-1zM615.1 27.8h2.3v15h-2.3zM618.8 27.8h1.5v15h-1.5zM620.3 27.8h1.7v15h-1.7zM626 27.8h2v15h-2zM629 27.8h1.3v15h-1.3zM634.3 27.8h1.9v15h-1.9zM638.3 27.8h1.5v15h-1.5zM655.9 27.8h1.6v15h-1.6zM658.5 27.8h1.6v15h-1.6zM516.6 48.1h1.6v15h-1.6zM553.4 48.1h0.8v15h-0.8zM570 48.1h1.9v15h-1.9zM577.6 48.1h2.1v15h-2.1zM579.7 48.1h1v15h-1zM625 48.1h1.2v15h-1.2zM643.2 48.1h1.7v15h-1.7zM658.3 48.1h2v15h-2zM477.7 68.4h1.1v15h-1.1zM488.8 68.4h2.5v15h-2.5zM491.2 68.4h1v15h-1zM500.8 68.4h1.3v15h-1.3zM665.2 68.4h1.7v15h-1.7zM677 68.4h1.8v15h-1.8zM695.6 68.4h1.6v15h-1.6zM701.7 68.4h2.2v15h-2.2zM717.9 68.4h1.2v15h-1.2zM531.9 88.7h1.4v15h-1.4zM534.6 88.7h2.5v15h-2.5zM643.1 88.7h1.1v15h-1.1zM480.1 109h1.1v15h-1.1zM484.4 109h2v15h-2zM495.2 109h1.1v15h-1.1zM498.8 109h1.7v15h-1.7zM596.6 109h1.9v15h-1.9zM602.4 109h1.6v15h-1.6zM607.2 109h2.4v15h-2.4zM630.6 109h2.5v15h-2.5zM474.3 129.3h1.8v15h-1.8zM495.9 129.3h1.8v15h-1.8zM503.3 129.3h1.5v15h-1.5zM509.2 129.3h1.8v15h-1.8zM600 129.3h2.4v15h-2.4zM610.8 129.3h1.8v15h-1.8zM642.3 129.3h1.2v15h-1.2zM645.1 129.3h1.8v15h-1.8zM665.9 129.3h1.6v15h-1.6zM467 149.7h1v15h-1zM468 149.7h2.1v15h-2.1zM509.4 149.7h2.5v15h-2.5zM534.8 149.7h0.9v15h-0.9zM541.8 149.7h1.3v15h-1.3zM562.4 149.7h1.5v15h-1.5zM575.1 149.7h1.6v15h-1.6zM712.5 149.7h1v15h-1zM510.1 170h1v15h-1zM482.7 190.3h1.9v15h-1.9zM651.5 190.3h1.2v15h-1.2zM670.2 190.3h1.2v15h-1.2zM473.9 210.6h1.1v15h-1.1zM479.1 210.6h2v15h-2zM493.8 210.6h1v15h-1zM494.8 210.6h2.5v15h-2.5zM503.8 210.6h1.4v15h-1.4zM505.2 210.6h1.6v15h-1.6zM625.1 210.6h1v15h-1zM637.7 210.6h1.5v15h-1.5zM641.6 210.6h1.5v15h-1.5zM643.2 210.6h2.1v15h-2.1zM654 210.6h1.6v15h-1.6zM664.1 210.6h2.1v15h-2.1zM476.7 230.9h2.2v15h-2.2zM496.9 230.9h2.3v15h-2.3zM500.1 230.9h0.9v15h-0.9zM505.1 230.9h2.2v15h-2.2zM518.2 230.9h1.5v15h-1.5zM661.1 230.9h2.1v15h-2.1zM695.8 230.9h1v15h-1zM696.8 230.9h2.1v15h-2.1zM699.8 230.9h0.8v15h-0.8zM705.8 230.9h1.2v15h-1.2zM489.2 251.2h1.4v15h-1.4zM493.3 251.2h1v15h-1zM513.7 251.2h2.3v15h-2.3zM525 251.2h1.3v15h-1.3zM642.2 251.2h2.1v15h-2.1zM646.1 251.2h1.8v15h-1.8zM649.1 251.2h0.9v15h-0.9zM657.5 251.2h1.8v15h-1.8zM661 251.2h2.5v15h-2.5zM479.5 271.5h1.8v15h-1.8zM656.8 271.5h2.3v15h-2.3zM669.8 271.5h1v15h-1zM685.1 271.5h1.3v15h-1.3zM703.6 271.5h2.4v15h-2.4zM708.3 271.5h0.9v15h-0.9zM714.8 271.5h1.8v15h-1.8zM467 291.8h1.2v15h-1.2zM531.4 291.8h1.8v15h-1.8zM575.2 291.8h0.9v15h-0.9zM577.9 291.8h1.4v15h-1.4zM579.3 291.8h1.4v15h-1.4zM600 291.8h0.8v15h-0.8zM473.7 312.1h0.9v15h-0.9zM492.2 312.1h1.5v15h-1.5zM526.4 312.1h1.6v15h-1.6zM694.3 312.1h2.2v15h-2.2zM698.6 312.1h1.2v15h-1.2zM701.9 312.1h1.7v15h-1.7zM469.2 332.4h2.1v15h-2.1zM482.2 332.4h2.1v15h-2.1zM492.7 332.4h2v15h-2zM505 332.4h1.4v15h-1.4zM506.5 332.4h1.2v15h-1.2zM525.1 332.4h0.9v15h-0.9zM537.6 332.4h1.9v15h-1.9zM640 332.4h2.3v15h-2.3zM685.8 332.4h1.1v15h-1.1zM701 332.4h1.4v15h-1.4zM711 332.4h1.4v15h-1.4zM729.1 332.4h1.3v15h-1.3zM517.4 352.8h1.7v15h-1.7zM521.2 352.8h1.1v15h-1.1zM487.8 373.1h1.2v15h-1.2zM489 373.1h1.4v15h-1.4zM505.8 373.1h1.3v15h-1.3zM668.9 373.1h1.8v15h-1.8zM680.7 373.1h1.8v15h-1.8zM506.3 393.4h2v15h-2zM510.4 393.4h1.2v15h-1.2zM684.5 393.4h1.3v15h-1.3zM696.6 393.4h1.1v15h-1.1zM472.4 413.7h1.5v15h-1.5zM515.3 413.7h1v15h-1zM525.9 413.7h1.5v15h-1.5zM528.9 413.7h1.1v15h-1.1zM657.7 413.7h1v15h-1zM706.9 413.7h1.2v15h-1.2z"/><path fill="#90b49c" d="M479.8 27.8h1.1v15h-1.1zM484 27.8h2.1v15h-2.1zM487.1 27.8h1.9v15h-1.9zM489 27.8h2.3v15h-2.3zM612.9 27.8h2.2v15h-2.2zM644.2 27.8h1.2v15h-1.2zM657.5 27.8h1v15h-1zM664.1 27.8h0.4v15h-0.4zM468.9 48.1h1.4v15h-1.4zM472.6 48.1h1.8v15h-1.8zM474.4 48.1h2.4v15h-2.4zM476.8 48.1h2v15h-2zM485.1 48.1h2.2v15h-2.2zM488.5 48.1h1.4v15h-1.4zM494.2 48.1h1.6v15h-1.6zM499.3 48.1h1.6v15h-1.6zM500.9 48.1h2.4v15h-2.4zM504.6 48.1h1.5v15h-1.5zM514.2 48.1h2.4v15h-2.4zM545.5 48.1h1.1v15h-1.1zM549.7 48.1h2.5v15h-2.5zM559.4 48.1h0.8v15h-0.8zM563.5 48.1h2.3v15h-2.3zM571.9 48.1h1.8v15h-1.8zM576.2 48.1h1.3v15h-1.3zM580.7 48.1h2.3v15h-2.3zM652.6 48.1h2.4v15h-2.4zM657.3 48.1h1.1v15h-1.1zM662.3 48.1h1.7v15h-1.7zM664 48.1h1.5v15h-1.5zM667.8 48.1h0.4v15h-0.4zM467 68.4h2.4v15h-2.4zM471.3 68.4h1.8v15h-1.8zM481.5 68.4h2.2v15h-2.2zM493.8 68.4h1.2v15h-1.2zM505 68.4h0.9v15h-0.9zM505.9 68.4h1.2v15h-1.2zM508.6 68.4h1.4v15h-1.4zM642 68.4h1.5v15h-1.5zM648.8 68.4h1.4v15h-1.4zM651.6 68.4h1.5v15h-1.5zM654.1 68.4h1.7v15h-1.7zM657.4 68.4h1.6v15h-1.6zM666.9 68.4h1.4v15h-1.4zM669.9 68.4h1.9v15h-1.9zM671.8 68.4h2.2v15h-2.2zM674 68.4h1.7v15h-1.7zM675.7 68.4h1.3v15h-1.3zM681.2 68.4h0.9v15h-0.9zM682.1 68.4h0.9v15h-0.9zM686.6 68.4h2.1v15h-2.1zM688.7 68.4h1.7v15h-1.7zM703.9 68.4h2.2v15h-2.2zM707.2 68.4h1.5v15h-1.5zM708.7 68.4h2.1v15h-2.1zM719 68.4h1.1v15h-1.1zM720.1 68.4h2.1v15h-2.1zM722.2 68.4h1.3v15h-1.3zM467 88.7h1.8v15h-1.8zM471.8 88.7h0.9v15h-0.9zM473.6 88.7h1.1v15h-1.1zM480.7 88.7h1v15h-1zM483.6 88.7h1.9v15h-1.9zM485.5 88.7h1v15h-1zM489.6 88.7h1.9v15h-1.9zM491.4 88.7h2.2v15h-2.2zM496.5 88.7h1.7v15h-1.7zM498.2 88.7h2.1v15h-2.1zM502.2 88.7h1.9v15h-1.9zM505 88.7h2.2v15h-2.2zM511.4 88.7h1.2v15h-1.2zM512.6 88.7h1.6v15h-1.6zM514.3 88.7h2.4v15h-2.4zM529.9 88.7h2.1v15h-2.1zM537.1 88.7h2v15h-2zM542.8 88.7h1.9v15h-1.9zM544.7 88.7h0.3v15h-0.3zM632.8 88.7h0.9v15h-0.9zM635.6 88.7h1.6v15h-1.6zM637.1 88.7h0.8v15h-0.8zM647 88.7h2.1v15h-2.1zM651.3 88.7h1.9v15h-1.9zM654.2 88.7h2.4v15h-2.4zM658.5 88.7h1.2v15h-1.2zM467 109h1.1v15h-1.1zM470.1 109h2v15h-2zM475.5 109h2.4v15h-2.4zM478 109h2.1v15h-2.1zM482.1 109h2.3v15h-2.3zM502.6 109h1.4v15h-1.4zM505.9 109h2.1v15h-2.1zM508 109h2.1v15h-2.1zM512.4 109h1.4v15h-1.4zM513.8 109h1.2v15h-1.2zM517.4 109h0.8v15h-0.8zM600.4 109h1.9v15h-1.9zM609.6 109h2.2v15h-2.2zM611.8 109h1.1v15h-1.1zM616.1 109h2.2v15h-2.2zM626.2 109h1.9v15h-1.9zM633 109h1.4v15h-1.4zM637.8 109h1.2v15h-1.2zM641.8 109h1.3v15h-1.3zM646.3 109h1.2v15h-1.2zM471 129.3h1.2v15h-1.2zM478.2 129.3h2.4v15h-2.4zM480.6 129.3h2.1v15h-2.1zM482.7 129.3h1v15h-1zM483.7 129.3h1v15h-1zM489.8 129.3h1.8v15h-1.8zM491.6 129.3h1.6v15h-1.6zM504.7 129.3h0.8v15h-0.8zM510.9 129.3h1.8v15h-1.8zM516 129.3h1.5v15h-1.5zM517.5 129.3h1.5v15h-1.5zM605.2 129.3h2.1v15h-2.1zM607.3 129.3h1.3v15h-1.3zM616.6 129.3h2.5v15h-2.5zM620.2 129.3h0.8v15h-0.8zM621.1 129.3h1.7v15h-1.7zM622.8 129.3h1.5v15h-1.5zM624.2 129.3h1.9v15h-1.9zM626.2 129.3h1.3v15h-1.3zM627.5 129.3h2v15h-2zM629.4 129.3h1.7v15h-1.7zM632.9 129.3h2.3v15h-2.3zM640.2 129.3h0.8v15h-0.8zM652.2 129.3h1.7v15h-1.7zM671.7 129.3h0.8v15h-0.8zM472.9 149.7h2.3v15h-2.3zM479.1 149.7h2.2v15h-2.2zM487 149.7h2.3v15h-2.3zM498.9 149.7h1.2v15h-1.2zM514.5 149.7h2.4v15h-2.4zM516.9 149.7h0.9v15h-0.9zM521.6 149.7h1.8v15h-1.8zM524.5 149.7h1.2v15h-1.2zM530 149.7h2v15h-2zM555 149.7h2.3v15h-2.3zM570.5 149.7h2.4v15h-2.4zM573 149.7h2.1v15h-2.1zM705.5 149.7h2.1v15h-2.1zM707.5 149.7h1.8v15h-1.8zM713.5 149.7h2v15h-2zM718.4 149.7h1.3v15h-1.3zM721.7 149.7h1.5v15h-1.5zM725.5 149.7h1v15h-1zM729.5 149.7h0.9v15h-0.9zM736.5 149.7h1.2v15h-1.2zM739.4 149.7h2.5v15h-2.5zM747.6 149.7h1.6v15h-1.6zM749.2 149.7h2.2v15h-2.2zM751.5 149.7h2.2v15h-2.2zM753.7 149.7h1.2v15h-1.2zM757.7 149.7h2.1v15h-2.1zM761.8 149.7h0.7v15h-0.7zM497.2 170h1.4v15h-1.4zM513.1 170h1.2v15h-1.2zM514.3 170h1.5v15h-1.5zM518 170h1.5v15h-1.5zM521.6 170h1.4v15h-1.4zM525.8 170h1.8v15h-1.8zM536.6 170h2.5v15h-2.5zM548.1 170h1.6v15h-1.6zM554.8 170h0.9v15h-0.9zM468.7 190.3h1.4v15h-1.4zM470.2 190.3h2.2v15h-2.2zM481.7 190.3h1v15h-1zM487 190.3h0.9v15h-0.9zM488.8 190.3h1.4v15h-1.4zM490.1 190.3h2.3v15h-2.3zM493.9 190.3h2v15h-2zM505.1 190.3h1.8v15h-1.8zM509 190.3h1v15h-1zM642.7 190.3h2.4v15h-2.4zM652.6 190.3h2.4v15h-2.4zM675.5 190.3h1.9v15h-1.9zM468.9 210.6h1.7v15h-1.7zM482.2 210.6h2.1v15h-2.1zM485.3 210.6h1.1v15h-1.1zM486.4 210.6h1.1v15h-1.1zM488.5 210.6h1.4v15h-1.4zM497.2 210.6h0.9v15h-0.9zM508.4 210.6h1.8v15h-1.8zM510.2 210.6h1.5v15h-1.5zM511.7 210.6h2.4v15h-2.4zM515.6 210.6h1.8v15h-1.8zM517.4 210.6h1.9v15h-1.9zM527.8 210.6h1.4v15h-1.4zM613.4 210.6h1.7v15h-1.7zM617.7 210.6h1.1v15h-1.1zM626.1 210.6h2.4v15h-2.4zM628.4 210.6h1v15h-1zM630.6 210.6h2.3v15h-2.3zM632.9 210.6h0.8v15h-0.8zM639.2 210.6h2.4v15h-2.4zM645.3 210.6h1.3v15h-1.3zM655.6 210.6h1.7v15h-1.7zM657.3 210.6h2.3v15h-2.3zM467 230.9h2.2v15h-2.2zM469.2 230.9h1.9v15h-1.9zM473.1 230.9h2.2v15h-2.2zM475.2 230.9h1.4v15h-1.4zM485.9 230.9h1.8v15h-1.8zM487.6 230.9h1.2v15h-1.2zM490.8 230.9h1.2v15h-1.2zM493.5 230.9h2.1v15h-2.1zM499.1 230.9h1v15h-1zM501 230.9h1.9v15h-1.9zM519.7 230.9h1.6v15h-1.6zM525.4 230.9h1v15h-1zM527.8 230.9h2.2v15h-2.2zM672.7 230.9h1.2v15h-1.2zM678.8 230.9h1.5v15h-1.5zM685.7 230.9h1.3v15h-1.3zM700.6 230.9h2.1v15h-2.1zM702.7 230.9h2v15h-2zM469.1 251.2h2.2v15h-2.2zM474.6 251.2h2.3v15h-2.3zM481 251.2h1.8v15h-1.8zM492.1 251.2h1.2v15h-1.2zM496.7 251.2h1.3v15h-1.3zM497.9 251.2h0.9v15h-0.9zM501.1 251.2h1.4v15h-1.4zM502.5 251.2h2v15h-2zM504.5 251.2h2.4v15h-2.4zM516 251.2h2.2v15h-2.2zM518.2 251.2h1.3v15h-1.3zM519.5 251.2h1.7v15h-1.7zM521.2 251.2h2.3v15h-2.3zM644.3 251.2h1.8v15h-1.8zM650.1 251.2h1.5v15h-1.5zM653.6 251.2h1.2v15h-1.2zM469.5 271.5h0.8v15h-0.8zM470.3 271.5h2.4v15h-2.4zM481.3 271.5h1.8v15h-1.8zM491.1 271.5h1.5v15h-1.5zM492.5 271.5h2.1v15h-2.1zM499.2 271.5h1.9v15h-1.9zM501.1 271.5h1.3v15h-1.3zM504.2 271.5h1.1v15h-1.1zM510.4 271.5h2.3v15h-2.3zM512.7 271.5h1.4v15h-1.4zM514.1 271.5h0.9v15h-0.9zM630.8 271.5h2v15h-2zM632.8 271.5h1.4v15h-1.4zM634.2 271.5h0.9v15h-0.9zM637.3 271.5h1.5v15h-1.5zM647.9 271.5h2.4v15h-2.4zM652.8 271.5h0.9v15h-0.9zM661.4 271.5h1.1v15h-1.1zM662.5 271.5h2.3v15h-2.3zM679.8 271.5h1.1v15h-1.1zM680.9 271.5h1.7v15h-1.7zM682.6 271.5h0.9v15h-0.9zM687.3 271.5h1.6v15h-1.6zM692.9 271.5h1.7v15h-1.7zM699.3 271.5h1.3v15h-1.3zM712.8 271.5h2v15h-2zM716.6 271.5h2.4v15h-2.4zM721.9 271.5h2.5v15h-2.5zM724.4 271.5h1v15h-1zM470.4 291.8h1.8v15h-1.8zM474.4 291.8h2.1v15h-2.1zM476.5 291.8h1.6v15h-1.6zM485.8 291.8h2.3v15h-2.3zM505.7 291.8h1.6v15h-1.6zM509.6 291.8h1.5v15h-1.5zM515.7 291.8h2.2v15h-2.2zM519.9 291.8h1.2v15h-1.2zM522.5 291.8h1.9v15h-1.9zM533.2 291.8h2.2v15h-2.2zM535.4 291.8h1.6v15h-1.6zM544.2 291.8h2.3v15h-2.3zM548.3 291.8h1.5v15h-1.5zM549.7 291.8h1.6v15h-1.6zM553.3 291.8h2.3v15h-2.3zM555.5 291.8h1.2v15h-1.2zM562.9 291.8h1.7v15h-1.7zM566.9 291.8h1.6v15h-1.6zM568.5 291.8h1.7v15h-1.7zM570.2 291.8h2.5v15h-2.5zM572.7 291.8h1.4v15h-1.4zM580.7 291.8h2.5v15h-2.5zM585.1 291.8h1.2v15h-1.2zM591.2 291.8h2v15h-2zM602.5 291.8h2.3v15h-2.3zM609 291.8h1.9v15h-1.9zM616.8 291.8h2.4v15h-2.4zM619.2 291.8h0.8v15h-0.8zM681.8 291.8h1.9v15h-1.9zM687 291.8h2v15h-2zM486.3 312.1h1.9v15h-1.9zM495.5 312.1h1.8v15h-1.8zM505.1 312.1h1.4v15h-1.4zM511.9 312.1h2v15h-2zM513.8 312.1h1.9v15h-1.9zM515.8 312.1h1.9v15h-1.9zM517.7 312.1h2v15h-2zM521.2 312.1h1v15h-1zM527.9 312.1h2.1v15h-2.1zM696.5 312.1h0.9v15h-0.9zM697.4 312.1h1.2v15h-1.2zM707 312.1h1.8v15h-1.8zM719.2 312.1h0.9v15h-0.9zM720.1 312.1h2.5v15h-2.5zM729.6 312.1h2v15h-2zM476.2 332.4h1.5v15h-1.5zM488.4 332.4h2.1v15h-2.1zM497.7 332.4h1v15h-1zM499.6 332.4h1v15h-1zM500.6 332.4h0.9v15h-0.9zM501.5 332.4h1.2v15h-1.2zM502.6 332.4h1.3v15h-1.3zM508.9 332.4h1.2v15h-1.2zM510.2 332.4h2.5v15h-2.5zM513.5 332.4h0.9v15h-0.9zM514.4 332.4h1.2v15h-1.2zM530.6 332.4h1.6v15h-1.6zM551.7 332.4h2.3v15h-2.3zM642.3 332.4h1.1v15h-1.1zM646.5 332.4h1.9v15h-1.9zM658.4 332.4h1.6v15h-1.6zM662 332.4h1.6v15h-1.6zM668.2 332.4h2v15h-2zM679.1 332.4h1.3v15h-1.3zM686.9 332.4h1.3v15h-1.3zM688.3 332.4h2.2v15h-2.2zM714.2 332.4h1v15h-1zM715.3 332.4h1.1v15h-1.1zM717.8 332.4h2.2v15h-2.2zM720 332.4h2v15h-2zM722 332.4h1.6v15h-1.6zM726.8 332.4h2.3v15h-2.3zM731.5 332.4h1.5v15h-1.5zM733 332.4h1v15h-1zM501.5 352.8h1.7v15h-1.7zM506.5 352.8h1.5v15h-1.5zM508.1 352.8h1.3v15h-1.3zM519.1 352.8h2v15h-2zM528.7 352.8h2.2v15h-2.2zM533 352.8h1.1v15h-1.1zM534.1 352.8h2.3v15h-2.3zM539.8 352.8h2.2v15h-2.2zM543.7 352.8h2.2v15h-2.2zM545.9 352.8h1.8v15h-1.8zM551 352.8h0.8v15h-0.8zM557.7 352.8h2.3v15h-2.3zM565 352.8h1.2v15h-1.2zM475.4 373.1h1v15h-1zM478.3 373.1h2.2v15h-2.2zM480.6 373.1h1v15h-1zM481.5 373.1h1.6v15h-1.6zM490.5 373.1h1v15h-1zM491.5 373.1h1.7v15h-1.7zM495.5 373.1h1.5v15h-1.5zM499.9 373.1h1v15h-1zM500.9 373.1h0.9v15h-0.9zM503 373.1h1v15h-1zM507.1 373.1h1.7v15h-1.7zM601.9 373.1h1.4v15h-1.4zM603.4 373.1h2.2v15h-2.2zM605.6 373.1h2.4v15h-2.4zM608 373.1h1.5v15h-1.5zM609.5 373.1h0.9v15h-0.9zM610.4 373.1h1v15h-1zM626.8 373.1h2.4v15h-2.4zM629.2 373.1h2.3v15h-2.3zM636.5 373.1h2.5v15h-2.5zM638.9 373.1h1v15h-1zM643.3 373.1h2.5v15h-2.5zM645.8 373.1h0.9v15h-0.9zM676.6 373.1h1.3v15h-1.3zM677.9 373.1h0.8v15h-0.8zM690 373.1h0.8v15h-0.8zM690.9 373.1h0.8v15h-0.8zM695.6 373.1h1.4v15h-1.4zM697 373.1h2.3v15h-2.3zM703.9 373.1h0.9v15h-0.9zM705.9 373.1h1.3v15h-1.3zM707.2 373.1h1.4v15h-1.4zM475.7 393.4h0.9v15h-0.9zM478.7 393.4h0.8v15h-0.8zM501.5 393.4h2.3v15h-2.3zM513 393.4h1v15h-1zM514 393.4h1v15h-1zM517.8 393.4h0.9v15h-0.9zM522.3 393.4h1.6v15h-1.6zM535.4 393.4h1.1v15h-1.1zM691.3 393.4h2v15h-2zM713.7 393.4h1.4v15h-1.4zM715.1 393.4h2.1v15h-2.1zM723 393.4h1.1v15h-1.1zM733.3 393.4h1.3v15h-1.3zM734.6 393.4h1.7v15h-1.7zM739.8 393.4h1.2v15h-1.2zM741 393.4h2.3v15h-2.3zM747.8 393.4h2.3v15h-2.3zM467 413.7h1v15h-1zM473.9 413.7h1.8v15h-1.8zM475.7 413.7h1.5v15h-1.5zM477.2 413.7h2.5v15h-2.5zM496.1 413.7h2.3v15h-2.3zM512 413.7h0.8v15h-0.8zM512.8 413.7h0.8v15h-0.8zM513.7 413.7h1.7v15h-1.7zM522 413.7h2.3v15h-2.3zM524.3 413.7h0.8v15h-0.8zM527.5 413.7h1.5v15h-1.5zM663.9 413.7h1.3v15h-1.3zM665.3 413.7h1.3v15h-1.3zM669 413.7h1.9v15h-1.9zM673.3 413.7h1.9v15h-1.9zM675.2 413.7h2.4v15h-2.4zM683.2 413.7h1.9v15h-1.9zM692.8 413.7h1.4v15h-1.4zM694.2 413.7h2.4v15h-2.4zM698.7 413.7h1.2v15h-1.2zM701 413.7h1.7v15h-1.7zM702.7 413.7h1.7v15h-1.7zM708.1 413.7h1.5v15h-1.5zM715.3 413.7h1v15h-1zM717.3 413.7h2.3v15h-2.3z"/><path fill="#c8d8e4" d="M491.4 27.8h2.2v15h-2.2zM494.6 27.8h1.7v15h-1.7zM499.1 27.8h1.3v15h-1.3zM510.4 27.8h1.4v15h-1.4zM518.7 27.8h1.6v15h-1.6zM521.8 27.8h2v15h-2zM528.5 27.8h2.4v15h-2.4zM533.2 27.8h2v15h-2zM535.2 27.8h2.1v15h-2.1zM537.3 27.8h2.4v15h-2.4zM543.4 27.8h1.8v15h-1.8zM547.1 27.8h1.2v15h-1.2zM549.5 27.8h1.6v15h-1.6zM553.6 27.8h2.3v15h-2.3zM555.9 27.8h1v15h-1zM556.9 27.8h0.9v15h-0.9zM557.8 27.8h1.6v15h-1.6zM564.9 27.8h1.5v15h-1.5zM571.3 27.8h1.8v15h-1.8zM585.4 27.8h0.8v15h-0.8zM589.5 27.8h2.4v15h-2.4zM611.3 27.8h1.5v15h-1.5zM643.3 27.8h0.9v15h-0.9zM660 27.8h1.2v15h-1.2zM662.5 27.8h1.6v15h-1.6zM487.3 48.1h1.2v15h-1.2zM518.1 48.1h1.4v15h-1.4zM535 48.1h2.2v15h-2.2zM568.7 48.1h1.3v15h-1.3zM573.7 48.1h1.8v15h-1.8zM585 48.1h1.7v15h-1.7zM591.8 48.1h2.1v15h-2.1zM593.9 48.1h1.3v15h-1.3zM609.3 48.1h1.4v15h-1.4zM610.7 48.1h1.3v15h-1.3zM616.6 48.1h2.3v15h-2.3zM637.8 48.1h1.5v15h-1.5zM485.5 68.4h1v15h-1zM487.9 68.4h0.9v15h-0.9zM512.5 68.4h2.2v15h-2.2zM523 68.4h1.3v15h-1.3zM529.7 68.4h1.7v15h-1.7zM540.3 68.4h2.3v15h-2.3zM549.6 68.4h1.1v15h-1.1zM552.9 68.4h2.3v15h-2.3zM556.6 68.4h1.8v15h-1.8zM558.4 68.4h1.1v15h-1.1zM569.1 68.4h1.7v15h-1.7zM577.5 68.4h0.9v15h-0.9zM578.4 68.4h2.2v15h-2.2zM584.1 68.4h1.5v15h-1.5zM599.3 68.4h1.9v15h-1.9zM601.3 68.4h0.9v15h-0.9zM606.7 68.4h1.4v15h-1.4zM610.1 68.4h1v15h-1zM611.1 68.4h1.3v15h-1.3zM619.4 68.4h2v15h-2zM621.5 68.4h2v15h-2zM628.1 68.4h2.4v15h-2.4zM630.4 68.4h2.4v15h-2.4zM632.9 68.4h2.4v15h-2.4zM653.1 68.4h1v15h-1zM659.1 68.4h2.1v15h-2.1zM661.1 68.4h1.9v15h-1.9zM690.4 68.4h1.6v15h-1.6zM699.3 68.4h2.5v15h-2.5zM710.8 68.4h1.3v15h-1.3zM468.8 88.7h1.4v15h-1.4zM495.3 88.7h1.1v15h-1.1zM548.9 88.7h1.1v15h-1.1zM561.6 88.7h1.3v15h-1.3zM563.7 88.7h1.9v15h-1.9zM569.8 88.7h2v15h-2zM571.8 88.7h1v15h-1zM575.8 88.7h1.1v15h-1.1zM581.8 88.7h0.9v15h-0.9zM584 88.7h1.5v15h-1.5zM585.6 88.7h1.4v15h-1.4zM586.9 88.7h1.1v15h-1.1zM588 88.7h2v15h-2zM591.2 88.7h2.1v15h-2.1zM616.2 88.7h1.3v15h-1.3zM640.6 88.7h2.5v15h-2.5zM490.3 109h1.3v15h-1.3zM524 109h2.4v15h-2.4zM532.7 109h2.3v15h-2.3zM541.2 109h1.3v15h-1.3zM545.9 109h0.9v15h-0.9zM546.8 109h1.3v15h-1.3zM555.1 109h1.6v15h-1.6zM564.6 109h1.4v15h-1.4zM567.4 109h0.8v15h-0.8zM568.2 109h1v15h-1zM573.2 109h1.6v15h-1.6zM585.2 109h1.7v15h-1.7zM586.9 109h2.2v15h-2.2zM591.4 109h1.5v15h-1.5zM606 109h1.2v15h-1.2zM613 109h1.7v15h-1.7zM614.7 109h1.4v15h-1.4zM640.2 109h1.6v15h-1.6zM643.1 109h2.1v15h-2.1zM476.1 129.3h2.1v15h-2.1zM493.2 129.3h1.6v15h-1.6zM499 129.3h1.6v15h-1.6zM501.5 129.3h1.7v15h-1.7zM507.5 129.3h1.7v15h-1.7zM542.2 129.3h1.1v15h-1.1zM552.3 129.3h1.8v15h-1.8zM557 129.3h1.7v15h-1.7zM565.4 129.3h0.9v15h-0.9zM566.4 129.3h0.9v15h-0.9zM567.3 129.3h2.1v15h-2.1zM569.4 129.3h2.3v15h-2.3zM590.6 129.3h1.2v15h-1.2zM594.6 129.3h2.3v15h-2.3zM602.4 129.3h0.9v15h-0.9zM608.7 129.3h2.2v15h-2.2zM658.4 129.3h1.6v15h-1.6zM663.9 129.3h2.1v15h-2.1zM670.4 129.3h1.2v15h-1.2zM475.2 149.7h1.5v15h-1.5zM483.6 149.7h1.1v15h-1.1zM484.8 149.7h2.2v15h-2.2zM513 149.7h1.5v15h-1.5zM525.7 149.7h1.9v15h-1.9zM537.5 149.7h2.1v15h-2.1zM548.1 149.7h1.9v15h-1.9zM563.9 149.7h2v15h-2zM567.3 149.7h1.6v15h-1.6zM568.8 149.7h1.7v15h-1.7zM584.1 149.7h1.1v15h-1.1zM593 149.7h1.3v15h-1.3zM594.3 149.7h2.4v15h-2.4zM599.5 149.7h0.8v15h-0.8zM604 149.7h2.2v15h-2.2zM606.2 149.7h2.5v15h-2.5zM610.3 149.7h0.8v15h-0.8zM615 149.7h2.1v15h-2.1zM617.1 149.7h1.8v15h-1.8zM621.3 149.7h0.8v15h-0.8zM622.1 149.7h1.3v15h-1.3zM627.9 149.7h1.2v15h-1.2zM632.6 149.7h2.4v15h-2.4zM640.3 149.7h1.1v15h-1.1zM649.6 149.7h1.1v15h-1.1zM663.1 149.7h2.1v15h-2.1zM684.1 149.7h1.9v15h-1.9zM690.7 149.7h1.8v15h-1.8zM692.5 149.7h1.7v15h-1.7zM696.5 149.7h2.5v15h-2.5zM717.3 149.7h1.1v15h-1.1zM732.7 149.7h2v15h-2zM737.7 149.7h1.7v15h-1.7zM754.9 149.7h1.4v15h-1.4zM759.7 149.7h2.1v15h-2.1zM472.3 170h1.8v15h-1.8zM506.8 170h1.4v15h-1.4zM523 170h1.1v15h-1.1zM549.7 170h1.7v15h-1.7zM500.5 190.3h1.9v15h-1.9zM503.3 190.3h1.8v15h-1.8zM518 190.3h1.4v15h-1.4zM532 190.3h1.1v15h-1.1zM535.6 190.3h1.2v15h-1.2zM536.8 190.3h1v15h-1zM547.4 190.3h1.7v15h-1.7zM552.9 190.3h0.9v15h-0.9zM567.5 190.3h1.1v15h-1.1zM569.5 190.3h2.5v15h-2.5zM573.5 190.3h2.2v15h-2.2zM579.3 190.3h2.4v15h-2.4zM581.8 190.3h2.5v15h-2.5zM590.3 190.3h2.1v15h-2.1zM594.4 190.3h2.1v15h-2.1zM597.9 190.3h1.6v15h-1.6zM604.4 190.3h1.2v15h-1.2zM605.6 190.3h2.1v15h-2.1zM608.6 190.3h2v15h-2zM613 190.3h1.3v15h-1.3zM614.3 190.3h1.4v15h-1.4zM615.7 190.3h1v15h-1zM616.7 190.3h2.1v15h-2.1zM621.2 190.3h1.4v15h-1.4zM629.9 190.3h2.3v15h-2.3zM633.3 190.3h1.3v15h-1.3zM638.1 190.3h1.9v15h-1.9zM650.4 190.3h1.1v15h-1.1zM657.1 190.3h1.4v15h-1.4zM674.6 190.3h0.8v15h-0.8zM680.9 190.3h1.5v15h-1.5zM476.2 210.6h2.1v15h-2.1zM521.6 210.6h0.9v15h-0.9zM522.5 210.6h2v15h-2zM538.3 210.6h1.4v15h-1.4zM539.7 210.6h2.3v15h-2.3zM547.9 210.6h1.2v15h-1.2zM550.7 210.6h1.8v15h-1.8zM572.4 210.6h0.8v15h-0.8zM578 210.6h1.9v15h-1.9zM584.1 210.6h2.3v15h-2.3zM596.4 210.6h1.9v15h-1.9zM598.3 210.6h1.6v15h-1.6zM600.9 210.6h2v15h-2zM606.7 210.6h2.2v15h-2.2zM622.7 210.6h2.4v15h-2.4zM629.5 210.6h1.1v15h-1.1zM651.9 210.6h2.1v15h-2.1zM659.6 210.6h1.5v15h-1.5zM666.1 210.6h1.9v15h-1.9zM669.4 210.6h1.9v15h-1.9zM482.7 230.9h1.1v15h-1.1zM512.9 230.9h2.4v15h-2.4zM530 230.9h1.7v15h-1.7zM531.7 230.9h2.3v15h-2.3zM534 230.9h2.3v15h-2.3zM536.2 230.9h1.4v15h-1.4zM537.6 230.9h1.9v15h-1.9zM542.7 230.9h2v15h-2zM549.2 230.9h1.4v15h-1.4zM552.1 230.9h2v15h-2zM564.3 230.9h1.1v15h-1.1zM567.2 230.9h1.3v15h-1.3zM570 230.9h1.5v15h-1.5zM573 230.9h0.8v15h-0.8zM575.5 230.9h2v15h-2zM580.5 230.9h1.8v15h-1.8zM585.3 230.9h1.7v15h-1.7zM586.9 230.9h2.4v15h-2.4zM594.8 230.9h1.6v15h-1.6zM596.4 230.9h1.2v15h-1.2zM597.6 230.9h0.8v15h-0.8zM600.7 230.9h2.2v15h-2.2zM615.8 230.9h2.2v15h-2.2zM619.9 230.9h2.1v15h-2.1zM622 230.9h1.8v15h-1.8zM626.7 230.9h1.7v15h-1.7zM628.4 230.9h1.7v15h-1.7zM630.1 230.9h2v15h-2zM632.1 230.9h1.6v15h-1.6zM640.4 230.9h1.6v15h-1.6zM644.6 230.9h1.5v15h-1.5zM646.2 230.9h1.7v15h-1.7zM647.9 230.9h1.8v15h-1.8zM704.7 230.9h1v15h-1zM710 230.9h1.5v15h-1.5zM715.7 230.9h1.2v15h-1.2zM722 230.9h1.4v15h-1.4zM723.4 230.9h1.3v15h-1.3zM732.9 230.9h0.5v15h-0.5zM473.4 251.2h1.2v15h-1.2zM477.8 251.2h0.9v15h-0.9zM484.8 251.2h2.2v15h-2.2zM494.3 251.2h2.4v15h-2.4zM510.8 251.2h1.2v15h-1.2zM531.6 251.2h2.4v15h-2.4zM537.3 251.2h2.3v15h-2.3zM539.6 251.2h2.2v15h-2.2zM553.2 251.2h2.4v15h-2.4zM564.3 251.2h2.2v15h-2.2zM567.9 251.2h1.3v15h-1.3zM571.7 251.2h1v15h-1zM581.6 251.2h1.6v15h-1.6zM585.7 251.2h1.6v15h-1.6zM587.4 251.2h1.8v15h-1.8zM596.2 251.2h1.3v15h-1.3zM605.6 251.2h1.2v15h-1.2zM617.4 251.2h1.2v15h-1.2zM618.5 251.2h2.4v15h-2.4zM621 251.2h2.2v15h-2.2zM632.7 251.2h1.7v15h-1.7zM637.5 251.2h1.5v15h-1.5zM654.8 251.2h1.8v15h-1.8zM660.2 251.2h0.9v15h-0.9zM467 271.5h1v15h-1zM487.8 271.5h1.3v15h-1.3zM505.2 271.5h2.2v15h-2.2zM515 271.5h2v15h-2zM517 271.5h2.5v15h-2.5zM519.5 271.5h2v15h-2zM526.1 271.5h2.1v15h-2.1zM537.8 271.5h0.8v15h-0.8zM539.8 271.5h1.3v15h-1.3zM542.2 271.5h1v15h-1zM543.2 271.5h2.1v15h-2.1zM549.8 271.5h0.9v15h-0.9zM587.9 271.5h1.2v15h-1.2zM604.7 271.5h2.4v15h-2.4zM618.2 271.5h1.4v15h-1.4zM619.5 271.5h0.5v15h-0.5zM620 271.5h2.3v15h-2.3zM653.7 271.5h2.2v15h-2.2zM664.9 271.5h2.3v15h-2.3zM671.8 271.5h0.8v15h-0.8zM691.3 271.5h1.6v15h-1.6zM698.4 271.5h0.9v15h-0.9zM472.2 291.8h2.1v15h-2.1zM491.2 291.8h1.7v15h-1.7zM529.3 291.8h2.2v15h-2.2zM537 291.8h2.1v15h-2.1zM604.8 291.8h1.7v15h-1.7zM622.8 291.8h1.7v15h-1.7zM628.6 291.8h0.8v15h-0.8zM629.5 291.8h1.2v15h-1.2zM633.1 291.8h1.2v15h-1.2zM636.1 291.8h1.1v15h-1.1zM639.1 291.8h1.8v15h-1.8zM644.1 291.8h0.9v15h-0.9zM657.9 291.8h0.8v15h-0.8zM664.4 291.8h2.4v15h-2.4zM666.8 291.8h1.8v15h-1.8zM668.6 291.8h2.3v15h-2.3zM672.5 291.8h1.4v15h-1.4zM674.9 291.8h1.7v15h-1.7zM676.6 291.8h1.1v15h-1.1zM689.1 291.8h2.3v15h-2.3zM475.4 312.1h1.6v15h-1.6zM484.2 312.1h2.1v15h-2.1zM501.5 312.1h2.4v15h-2.4zM519.7 312.1h1.5v15h-1.5zM530 312.1h1.4v15h-1.4zM534.4 312.1h2.2v15h-2.2zM541.1 312.1h2.1v15h-2.1zM548 312.1h1.2v15h-1.2zM553.8 312.1h0.8v15h-0.8zM585.9 312.1h1.3v15h-1.3zM598.2 312.1h2.4v15h-2.4zM600.7 312.1h2.3v15h-2.3zM606.6 312.1h1.3v15h-1.3zM614.2 312.1h1.2v15h-1.2zM624.7 312.1h2.3v15h-2.3zM639.1 312.1h2.2v15h-2.2zM651.8 312.1h0.8v15h-0.8zM652.6 312.1h2.4v15h-2.4zM669.2 312.1h2.3v15h-2.3zM671.5 312.1h1.7v15h-1.7zM673.2 312.1h1.7v15h-1.7zM685.6 312.1h2.4v15h-2.4zM688 312.1h1.1v15h-1.1zM689.1 312.1h0.9v15h-0.9zM731.5 312.1h2.3v15h-2.3zM474.7 332.4h1.5v15h-1.5zM518.3 332.4h1.4v15h-1.4zM529.2 332.4h1.4v15h-1.4zM554.9 332.4h0.1v15h-0.1zM573 332.4h1.6v15h-1.6zM585.6 332.4h1v15h-1zM589.2 332.4h2.1v15h-2.1zM598.2 332.4h2.3v15h-2.3zM602.8 332.4h0.8v15h-0.8zM603.6 332.4h1.3v15h-1.3zM612.7 332.4h1.8v15h-1.8zM615.5 332.4h1.4v15h-1.4zM618.6 332.4h1.8v15h-1.8zM624.9 332.4h1.9v15h-1.9zM633.2 332.4h1.7v15h-1.7zM634.9 332.4h1.5v15h-1.5zM639.4 332.4h0.6v15h-0.6zM652.4 332.4h0.9v15h-0.9zM655.7 332.4h1.8v15h-1.8zM692.9 332.4h1.9v15h-1.9zM473.3 352.8h1.7v15h-1.7zM475 352.8h1.8v15h-1.8zM504.4 352.8h2.2v15h-2.2zM511.7 352.8h1v15h-1zM522.3 352.8h1.5v15h-1.5zM523.8 352.8h2.4v15h-2.4zM542.1 352.8h1.6v15h-1.6zM553.2 352.8h1v15h-1zM554.2 352.8h1.6v15h-1.6zM556.7 352.8h1v15h-1zM560 352.8h1.4v15h-1.4zM467 373.1h1.8v15h-1.8zM473.4 373.1h0.9v15h-0.9zM510 373.1h1v15h-1zM511 373.1h0.9v15h-0.9zM511.9 373.1h2.3v15h-2.3zM517.4 373.1h2.3v15h-2.3zM527.2 373.1h2.3v15h-2.3zM533.1 373.1h2.2v15h-2.2zM535.3 373.1h2.4v15h-2.4zM552.6 373.1h0.8v15h-0.8zM559.8 373.1h1.1v15h-1.1zM562.1 373.1h1.6v15h-1.6zM563.7 373.1h2.5v15h-2.5zM576 373.1h2.1v15h-2.1zM586.4 373.1h1.7v15h-1.7zM597.5 373.1h2.4v15h-2.4zM612.6 373.1h1.7v15h-1.7zM619.9 373.1h1.6v15h-1.6zM624.9 373.1h1.9v15h-1.9zM639.9 373.1h1.2v15h-1.2zM648.8 373.1h1.4v15h-1.4zM674.7 373.1h1.9v15h-1.9zM679.9 373.1h0.8v15h-0.8zM684.9 373.1h1.5v15h-1.5zM688.8 373.1h1.3v15h-1.3zM694.6 373.1h1v15h-1zM702.7 373.1h1.2v15h-1.2zM704.9 373.1h1v15h-1zM486 393.4h2.4v15h-2.4zM488.4 393.4h1.3v15h-1.3zM492.6 393.4h0.9v15h-0.9zM511.6 393.4h1.4v15h-1.4zM526 393.4h1.8v15h-1.8zM531 393.4h2.1v15h-2.1zM536.5 393.4h1.8v15h-1.8zM570.1 393.4h2.4v15h-2.4zM578.5 393.4h1.8v15h-1.8zM584.3 393.4h1.6v15h-1.6zM585.8 393.4h0.9v15h-0.9zM594.8 393.4h0.6v15h-0.6zM610.8 393.4h1.7v15h-1.7zM613.6 393.4h1.5v15h-1.5zM616.9 393.4h1.2v15h-1.2zM631.1 393.4h1.9v15h-1.9zM641.1 393.4h1.6v15h-1.6zM647.7 393.4h1.7v15h-1.7zM649.4 393.4h2v15h-2zM652.5 393.4h1.3v15h-1.3zM653.7 393.4h2.1v15h-2.1zM655.9 393.4h1v15h-1zM667.6 393.4h1v15h-1zM668.6 393.4h2.3v15h-2.3zM670.9 393.4h1.8v15h-1.8zM675.5 393.4h1.2v15h-1.2zM687.2 393.4h1.7v15h-1.7zM750.1 393.4h1.4v15h-1.4zM469.2 413.7h0.9v15h-0.9zM487.9 413.7h1.2v15h-1.2zM500.1 413.7h1.6v15h-1.6zM506.5 413.7h1.4v15h-1.4zM507.9 413.7h1.3v15h-1.3zM516.3 413.7h1v15h-1zM517.4 413.7h2.3v15h-2.3zM519.6 413.7h2.4v15h-2.4zM530 413.7h1.8v15h-1.8zM536.6 413.7h1.3v15h-1.3zM539.1 413.7h2.1v15h-2.1zM547.5 413.7h1.5v15h-1.5zM549 413.7h2.2v15h-2.2zM554.5 413.7h1v15h-1zM555.5 413.7h1.2v15h-1.2zM560.2 413.7h1.2v15h-1.2zM561.4 413.7h1.5v15h-1.5zM566.8 413.7h1.2v15h-1.2zM569 413.7h1.6v15h-1.6zM570.6 413.7h1.5v15h-1.5zM574.1 413.7h1.5v15h-1.5zM578.9 413.7h2.2v15h-2.2zM583.5 413.7h1.1v15h-1.1zM593.4 413.7h1.2v15h-1.2zM594.6 413.7h2.4v15h-2.4zM605.8 413.7h1.9v15h-1.9zM612.2 413.7h1.9v15h-1.9zM614.1 413.7h2.1v15h-2.1zM618.1 413.7h1.1v15h-1.1zM620.2 413.7h1.7v15h-1.7zM623.8 413.7h1.1v15h-1.1zM629.3 413.7h1.8v15h-1.8zM632.7 413.7h1.6v15h-1.6zM634.4 413.7h1.4v15h-1.4zM639.2 413.7h0.9v15h-0.9zM646.8 413.7h1.7v15h-1.7zM658.7 413.7h1.4v15h-1.4zM660.1 413.7h1.7v15h-1.7zM685.1 413.7h2.3v15h-2.3zM709.6 413.7h1.9v15h-1.9zM711.4 413.7h2v15h-2z"/><path fill="#dce6ee" d="M505 27.8h0.9v15h-0.9zM511.9 27.8h2.2v15h-2.2zM523.8 27.8h1.7v15h-1.7zM582.4 27.8h1.3v15h-1.3zM598.4 27.8h1.6v15h-1.6zM525.3 48.1h0.9v15h-0.9zM529.9 48.1h2.1v15h-2.1zM532 48.1h2v15h-2zM586.7 48.1h1.8v15h-1.8zM590.2 48.1h1.6v15h-1.6zM600.2 48.1h1.3v15h-1.3zM601.4 48.1h1.6v15h-1.6zM603.1 48.1h1.2v15h-1.2zM621.5 48.1h1.3v15h-1.3zM526.6 68.4h1.5v15h-1.5zM534.9 68.4h1v15h-1zM563.8 68.4h2v15h-2zM581.7 68.4h2.4v15h-2.4zM585.6 68.4h1.4v15h-1.4zM636.9 68.4h1.7v15h-1.7zM593.3 88.7h1.3v15h-1.3zM597 88.7h0.9v15h-0.9zM600 88.7h1.3v15h-1.3zM615.4 88.7h0.9v15h-0.9zM627.5 88.7h2.5v15h-2.5zM520 109h1.7v15h-1.7zM569.2 109h1.7v15h-1.7zM570.9 109h2.3v15h-2.3zM534.8 129.3h1.9v15h-1.9zM545.1 129.3h1.8v15h-1.8zM547.8 129.3h2v15h-2zM582.4 149.7h1.7v15h-1.7zM591.5 149.7h1.5v15h-1.5zM608.7 149.7h1.6v15h-1.6zM620.2 149.7h1.2v15h-1.2zM623.4 149.7h0.3v15h-0.3zM631.2 149.7h1.4v15h-1.4zM639.1 149.7h1.2v15h-1.2zM666.9 149.7h1.5v15h-1.5zM688.4 149.7h2.4v15h-2.4zM486.7 170h1.4v15h-1.4zM511.1 190.3h1.7v15h-1.7zM534 190.3h1.6v15h-1.6zM545.7 190.3h0.8v15h-0.8zM550.9 190.3h2.1v15h-2.1zM627.7 190.3h0.9v15h-0.9zM530 210.6h2.5v15h-2.5zM570.5 210.6h1.8v15h-1.8zM573.2 210.6h1v15h-1zM589.2 210.6h1.6v15h-1.6zM539.5 230.9h1.9v15h-1.9zM557.8 230.9h2.3v15h-2.3zM560 230.9h2.1v15h-2.1zM565.4 230.9h1.8v15h-1.8zM573.8 230.9h1.7v15h-1.7zM582.3 230.9h1.1v15h-1.1zM583.3 230.9h2v15h-2zM590.8 230.9h2.4v15h-2.4zM604.3 230.9h0.9v15h-0.9zM613.4 230.9h1.2v15h-1.2zM623.8 230.9h1.5v15h-1.5zM625.3 230.9h1.4v15h-1.4zM635.8 230.9h2.1v15h-2.1zM639.5 230.9h0.9v15h-0.9zM642 230.9h1.6v15h-1.6zM711.5 230.9h2.1v15h-2.1zM713.6 230.9h2.1v15h-2.1zM717.9 230.9h1.7v15h-1.7zM719.6 230.9h2.5v15h-2.5zM724.7 230.9h1.7v15h-1.7zM541.8 251.2h2.4v15h-2.4zM547.5 251.2h1.3v15h-1.3zM559.6 251.2h2v15h-2zM578 251.2h0.9v15h-0.9zM608.6 251.2h2.5v15h-2.5zM613.2 251.2h2v15h-2zM623.2 251.2h2v15h-2zM631.7 251.2h1v15h-1zM635.5 251.2h2v15h-2zM534.8 271.5h0.9v15h-0.9zM538.6 271.5h1.1v15h-1.1zM550.7 271.5h0.8v15h-0.8zM557 271.5h1.8v15h-1.8zM567.8 271.5h2.5v15h-2.5zM577 271.5h0.8v15h-0.8zM582.3 271.5h2.2v15h-2.2zM589.1 271.5h2.4v15h-2.4zM596.7 271.5h2.3v15h-2.3zM602.3 271.5h2.3v15h-2.3zM607.1 271.5h2v15h-2zM613.5 271.5h2.4v15h-2.4zM656.5 291.8h1.4v15h-1.4zM559.3 312.1h0.9v15h-0.9zM566.3 312.1h1.3v15h-1.3zM567.6 312.1h1.6v15h-1.6zM575.1 312.1h1v15h-1zM577.7 312.1h1.3v15h-1.3zM596.3 312.1h1.9v15h-1.9zM633.1 312.1h1v15h-1zM643.1 312.1h2.2v15h-2.2zM663.8 312.1h2.3v15h-2.3zM678 312.1h1.6v15h-1.6zM684.5 312.1h1.1v15h-1.1zM581.9 332.4h1.3v15h-1.3zM591.2 332.4h1.7v15h-1.7zM600.5 332.4h0.9v15h-0.9zM609.8 332.4h1.1v15h-1.1zM629.5 332.4h1.2v15h-1.2zM476.8 352.8h2v15h-2zM478.8 352.8h1.8v15h-1.8zM489.6 352.8h2v15h-2zM515.9 373.1h1.5v15h-1.5zM537.7 373.1h1.2v15h-1.2zM544.8 373.1h2.5v15h-2.5zM547.3 373.1h1.4v15h-1.4zM581.4 373.1h1.8v15h-1.8zM584.4 373.1h2v15h-2zM596.5 373.1h1v15h-1zM544.3 393.4h2v15h-2zM547.6 393.4h2.2v15h-2.2zM552 393.4h1.6v15h-1.6zM558.7 393.4h1.5v15h-1.5zM582.4 393.4h1.9v15h-1.9zM600.5 393.4h1.9v15h-1.9zM609.9 393.4h0.9v15h-0.9zM619 393.4h2.2v15h-2.2zM629.4 393.4h1.7v15h-1.7zM633 393.4h0.8v15h-0.8zM635.4 393.4h1.8v15h-1.8zM660.9 393.4h1.6v15h-1.6zM672.7 393.4h1.6v15h-1.6zM533.3 413.7h1.1v15h-1.1zM541.1 413.7h1.4v15h-1.4zM542.5 413.7h1.6v15h-1.6zM544.1 413.7h0.9v15h-0.9zM551.2 413.7h1.2v15h-1.2zM553.7 413.7h0.9v15h-0.9zM556.7 413.7h1v15h-1zM562.9 413.7h2.1v15h-2.1zM564.9 413.7h1.9v15h-1.9zM568 413.7h1.1v15h-1.1zM577.4 413.7h1.5v15h-1.5zM591.1 413.7h2.3v15h-2.3zM597 413.7h1.3v15h-1.3zM603.5 413.7h2.3v15h-2.3zM607.7 413.7h1.3v15h-1.3zM616.3 413.7h0.9v15h-0.9zM619.2 413.7h0.9v15h-0.9zM624.9 413.7h1.1v15h-1.1zM626 413.7h1.5v15h-1.5zM631.1 413.7h1.7v15h-1.7zM637.6 413.7h1.6v15h-1.6zM640.1 413.7h1.2v15h-1.2zM641.3 413.7h1.9v15h-1.9zM648.5 413.7h1v15h-1zM649.5 413.7h0.9v15h-0.9z"/><path fill="#98b0c0" d="M505.9 27.8h1.6v15h-1.6zM508.4 27.8h1.2v15h-1.2zM514.1 27.8h1.2v15h-1.2zM515.3 27.8h1.4v15h-1.4zM539.7 27.8h1.9v15h-1.9zM545.2 27.8h2v15h-2zM551.2 27.8h2.4v15h-2.4zM566.4 27.8h1.5v15h-1.5zM591.9 27.8h1.4v15h-1.4zM588.4 48.1h1.8v15h-1.8zM595.3 48.1h2.5v15h-2.5zM620.2 48.1h1.3v15h-1.3zM623.7 48.1h1.3v15h-1.3zM517.3 68.4h1v15h-1zM520.4 68.4h1.2v15h-1.2zM528.1 68.4h1.6v15h-1.6zM531.4 68.4h2v15h-2zM535.8 68.4h2v15h-2zM537.8 68.4h1.6v15h-1.6zM539.4 68.4h0.9v15h-0.9zM542.6 68.4h2.1v15h-2.1zM544.7 68.4h1.7v15h-1.7zM547.9 68.4h1.7v15h-1.7zM555.2 68.4h1.4v15h-1.4zM561.8 68.4h2v15h-2zM589.4 68.4h2.3v15h-2.3zM592.6 68.4h1.1v15h-1.1zM602.2 68.4h1.3v15h-1.3zM608.1 68.4h1.2v15h-1.2zM612.4 68.4h2.4v15h-2.4zM617.6 68.4h1.9v15h-1.9zM623.5 68.4h2.4v15h-2.4zM545 88.7h1.7v15h-1.7zM551.1 88.7h1.6v15h-1.6zM555.3 88.7h1.1v15h-1.1zM558.2 88.7h2.4v15h-2.4zM562.8 88.7h0.9v15h-0.9zM566.9 88.7h1.7v15h-1.7zM605.4 88.7h1.1v15h-1.1zM606.5 88.7h2.5v15h-2.5zM609.8 88.7h1.2v15h-1.2zM613.4 88.7h1.9v15h-1.9zM623.4 88.7h2.2v15h-2.2zM625.6 88.7h1.9v15h-1.9zM542.5 109h1.6v15h-1.6zM544.1 109h1.8v15h-1.8zM550.6 109h0.9v15h-0.9zM561.4 109h1.6v15h-1.6zM578.4 109h2.2v15h-2.2zM583 109h2.2v15h-2.2zM525 129.3h2.4v15h-2.4zM536.7 129.3h2v15h-2zM538.7 129.3h1.7v15h-1.7zM540.4 129.3h1.7v15h-1.7zM546.8 129.3h0.9v15h-0.9zM549.8 129.3h2.4v15h-2.4zM555.6 129.3h1.4v15h-1.4zM558.7 129.3h1.7v15h-1.7zM560.4 129.3h2.2v15h-2.2zM575.3 129.3h1.3v15h-1.3zM580.3 129.3h1.8v15h-1.8zM582.1 129.3h2.5v15h-2.5zM588.1 129.3h2.4v15h-2.4zM591.8 129.3h1.3v15h-1.3zM596.9 129.3h1.1v15h-1.1zM629.2 149.7h0.9v15h-0.9zM636.8 149.7h2.3v15h-2.3zM645.2 149.7h1v15h-1zM650.8 149.7h2.1v15h-2.1zM655.6 149.7h1.9v15h-1.9zM669.2 149.7h1.7v15h-1.7zM670.9 149.7h2v15h-2zM678.9 149.7h1.6v15h-1.6zM686 149.7h2.3v15h-2.3zM467 170h2.1v15h-2.1zM471.3 170h1v15h-1zM476.2 170h1.4v15h-1.4zM510 190.3h1.1v15h-1.1zM512.8 190.3h1.4v15h-1.4zM523 190.3h1.9v15h-1.9zM528.7 190.3h1.3v15h-1.3zM541.2 190.3h1.3v15h-1.3zM546.6 190.3h0.9v15h-0.9zM556 190.3h1v15h-1zM586.2 190.3h1.5v15h-1.5zM592.4 190.3h2v15h-2zM599.4 190.3h1.8v15h-1.8zM628.5 190.3h1.4v15h-1.4zM632.2 190.3h1.1v15h-1.1zM536 210.6h2.3v15h-2.3zM542.1 210.6h0.9v15h-0.9zM557 210.6h2.2v15h-2.2zM559.2 210.6h2v15h-2zM563.1 210.6h2.4v15h-2.4zM576.4 210.6h1.6v15h-1.6zM586.4 210.6h0.8v15h-0.8zM587.3 210.6h1.9v15h-1.9zM550.3 251.2h1.2v15h-1.2zM555.6 251.2h1v15h-1zM556.6 251.2h1.5v15h-1.5zM570.4 251.2h1.3v15h-1.3zM574.6 251.2h2.2v15h-2.2zM579.8 251.2h1.8v15h-1.8zM583.2 251.2h1.6v15h-1.6zM599.8 251.2h1.7v15h-1.7zM601.5 251.2h1.6v15h-1.6zM603.1 251.2h2.5v15h-2.5zM606.9 251.2h1.7v15h-1.7zM529 271.5h1v15h-1zM532.9 271.5h1.9v15h-1.9zM535.7 271.5h2.2v15h-2.2zM541.1 271.5h1.2v15h-1.2zM546.5 271.5h1.1v15h-1.1zM565.3 271.5h2.5v15h-2.5zM571.6 271.5h2v15h-2zM573.6 271.5h1.5v15h-1.5zM575.1 271.5h1.9v15h-1.9zM611.3 271.5h2.2v15h-2.2zM630.6 291.8h1.2v15h-1.2zM637.2 291.8h1.9v15h-1.9zM650.8 291.8h1.5v15h-1.5zM654.4 291.8h2.1v15h-2.1zM658.7 291.8h1.1v15h-1.1zM662.3 291.8h2.1v15h-2.1zM670.9 291.8h1.6v15h-1.6zM554.6 312.1h1.5v15h-1.5zM570.6 312.1h1.9v15h-1.9zM574.1 312.1h0.9v15h-0.9zM576.1 312.1h1.6v15h-1.6zM580.1 312.1h0.9v15h-0.9zM582.4 312.1h1.8v15h-1.8zM584.2 312.1h1.7v15h-1.7zM592.4 312.1h1.5v15h-1.5zM607.9 312.1h0.8v15h-0.8zM609.5 312.1h2.3v15h-2.3zM660.4 312.1h1.6v15h-1.6zM675.8 312.1h2.3v15h-2.3zM681.9 312.1h1v15h-1zM682.9 312.1h1.6v15h-1.6zM559.7 332.4h1.2v15h-1.2zM562.4 332.4h0.9v15h-0.9zM563.3 332.4h2.2v15h-2.2zM574.7 332.4h2.1v15h-2.1zM576.7 332.4h2.2v15h-2.2zM580.2 332.4h1.7v15h-1.7zM484.6 352.8h0.9v15h-0.9zM522.2 373.1h1v15h-1zM529.5 373.1h2.2v15h-2.2zM531.7 373.1h1.4v15h-1.4zM553.5 373.1h1.7v15h-1.7zM579.6 373.1h1.8v15h-1.8zM583.2 373.1h1.2v15h-1.2zM588.1 373.1h1.5v15h-1.5zM540 393.4h2.2v15h-2.2zM550.7 393.4h1.3v15h-1.3zM557.7 393.4h1v15h-1zM560.2 393.4h2.4v15h-2.4zM565.5 393.4h1.7v15h-1.7zM580.3 393.4h2.1v15h-2.1zM593.5 393.4h1.2v15h-1.2zM598.8 393.4h1.7v15h-1.7zM637.2 393.4h0.9v15h-0.9zM642.7 393.4h1.3v15h-1.3zM651.4 393.4h1.1v15h-1.1zM663.5 393.4h1.3v15h-1.3zM679.1 393.4h0.9v15h-0.9z"/><path fill="#a8c0d0" d="M507.6 27.8h0.9v15h-0.9zM509.6 27.8h0.8v15h-0.8zM516.7 27.8h1.9v15h-1.9zM525.5 27.8h2v15h-2zM527.5 27.8h1v15h-1zM541.6 27.8h1.9v15h-1.9zM561.9 27.8h1.1v15h-1.1zM567.9 27.8h1.8v15h-1.8zM569.7 27.8h1.6v15h-1.6zM577.3 27.8h1.7v15h-1.7zM578.9 27.8h2v15h-2zM593.3 27.8h1.7v15h-1.7zM595.1 27.8h2.4v15h-2.4zM526.3 48.1h2v15h-2zM612 48.1h1.2v15h-1.2zM613.3 48.1h1.4v15h-1.4zM614.7 48.1h1.9v15h-1.9zM622.8 48.1h0.9v15h-0.9zM510 68.4h2.5v15h-2.5zM515.9 68.4h1.4v15h-1.4zM524.2 68.4h2.4v15h-2.4zM546.3 68.4h1.6v15h-1.6zM550.7 68.4h2.2v15h-2.2zM565.7 68.4h1.1v15h-1.1zM566.8 68.4h2.2v15h-2.2zM573.1 68.4h1.2v15h-1.2zM580.6 68.4h1.1v15h-1.1zM593.7 68.4h1.4v15h-1.4zM595.1 68.4h1.9v15h-1.9zM597 68.4h2.3v15h-2.3zM605.6 68.4h1.1v15h-1.1zM616.3 68.4h1.2v15h-1.2zM638.7 68.4h1.3v15h-1.3zM546.7 88.7h2.3v15h-2.3zM550 88.7h1.1v15h-1.1zM552.7 88.7h1v15h-1zM572.8 88.7h0.8v15h-0.8zM573.7 88.7h2.1v15h-2.1zM576.9 88.7h2.4v15h-2.4zM590 88.7h1.2v15h-1.2zM597.9 88.7h2.1v15h-2.1zM601.3 88.7h1.6v15h-1.6zM602.9 88.7h2.5v15h-2.5zM609 88.7h0.8v15h-0.8zM611 88.7h2.4v15h-2.4zM619.7 88.7h1.9v15h-1.9zM621.6 88.7h1.9v15h-1.9zM521.7 109h2.2v15h-2.2zM526.4 109h1.6v15h-1.6zM528 109h1.2v15h-1.2zM530.5 109h1.2v15h-1.2zM531.7 109h1v15h-1zM535.1 109h1.6v15h-1.6zM536.6 109h2.5v15h-2.5zM539.1 109h2.1v15h-2.1zM548.1 109h1.5v15h-1.5zM549.6 109h1v15h-1zM556.7 109h2.2v15h-2.2zM558.9 109h1.3v15h-1.3zM563 109h1.6v15h-1.6zM574.7 109h2.2v15h-2.2zM577 109h1.4v15h-1.4zM580.6 109h2.4v15h-2.4zM527.4 129.3h2v15h-2zM531.3 129.3h2.2v15h-2.2zM533.5 129.3h1.3v15h-1.3zM543.2 129.3h1.9v15h-1.9zM562.6 129.3h2v15h-2zM564.6 129.3h0.8v15h-0.8zM571.7 129.3h1.6v15h-1.6zM574.3 129.3h1v15h-1zM576.6 129.3h2.5v15h-2.5zM585.8 129.3h2.3v15h-2.3zM593.1 129.3h1.5v15h-1.5zM599 129.3h1v15h-1zM585.2 149.7h2.4v15h-2.4zM587.6 149.7h1.7v15h-1.7zM589.3 149.7h2.2v15h-2.2zM596.7 149.7h1.4v15h-1.4zM600.3 149.7h1.6v15h-1.6zM618.9 149.7h1.3v15h-1.3zM630.1 149.7h1.1v15h-1.1zM635 149.7h1.8v15h-1.8zM643.9 149.7h1.2v15h-1.2zM647.7 149.7h1.9v15h-1.9zM661 149.7h2.1v15h-2.1zM665.2 149.7h1.7v15h-1.7zM668.4 149.7h0.9v15h-0.9zM676 149.7h1.3v15h-1.3zM680.5 149.7h1.9v15h-1.9zM694.2 149.7h2.3v15h-2.3zM474 170h2.1v15h-2.1zM479.9 170h2.3v15h-2.3zM483.7 170h1.6v15h-1.6zM515.7 190.3h2.4v15h-2.4zM521.1 190.3h2v15h-2zM524.9 190.3h1.5v15h-1.5zM527.7 190.3h1v15h-1zM539.8 190.3h1.3v15h-1.3zM543.5 190.3h2.2v15h-2.2zM549.1 190.3h1.8v15h-1.8zM553.8 190.3h2.2v15h-2.2zM559.6 190.3h1.1v15h-1.1zM560.7 190.3h0.8v15h-0.8zM562.9 190.3h2.1v15h-2.1zM566.4 190.3h1.1v15h-1.1zM584.2 190.3h1.9v15h-1.9zM601.2 190.3h1v15h-1zM607.7 190.3h0.9v15h-0.9zM610.6 190.3h2.4v15h-2.4zM622.6 190.3h1.3v15h-1.3zM625.5 190.3h2.2v15h-2.2zM635.4 190.3h1.5v15h-1.5zM532.5 210.6h1.8v15h-1.8zM534.3 210.6h1.7v15h-1.7zM543 210.6h1.5v15h-1.5zM544.5 210.6h2.3v15h-2.3zM554.7 210.6h2.4v15h-2.4zM561.2 210.6h1.9v15h-1.9zM566.7 210.6h1.1v15h-1.1zM567.9 210.6h1.9v15h-1.9zM574.2 210.6h2.2v15h-2.2zM579.9 210.6h1.7v15h-1.7zM581.6 210.6h0.9v15h-0.9zM582.5 210.6h1.7v15h-1.7zM592.7 210.6h2.2v15h-2.2zM594.9 210.6h1.5v15h-1.5zM541.4 230.9h1.3v15h-1.3zM554.1 230.9h2.1v15h-2.1zM556.2 230.9h1.6v15h-1.6zM562.2 230.9h2.1v15h-2.1zM571.5 230.9h1.4v15h-1.4zM578.4 230.9h2.1v15h-2.1zM589.4 230.9h1.5v15h-1.5zM593.2 230.9h1.6v15h-1.6zM598.4 230.9h2.3v15h-2.3zM605.2 230.9h1.4v15h-1.4zM608.6 230.9h2.4v15h-2.4zM611 230.9h2.4v15h-2.4zM618 230.9h1.9v15h-1.9zM637.9 230.9h1.6v15h-1.6zM643.6 230.9h1v15h-1zM649.6 230.9h0.4v15h-0.4zM716.9 230.9h1v15h-1zM726.4 230.9h1.6v15h-1.6zM728 230.9h1.4v15h-1.4zM535 251.2h2.3v15h-2.3zM544.2 251.2h1.4v15h-1.4zM551.5 251.2h1.7v15h-1.7zM561.7 251.2h1.1v15h-1.1zM562.7 251.2h1.6v15h-1.6zM566.5 251.2h1.4v15h-1.4zM569.2 251.2h1.3v15h-1.3zM572.7 251.2h1.9v15h-1.9zM576.8 251.2h1.2v15h-1.2zM584.8 251.2h1v15h-1zM589.2 251.2h2.4v15h-2.4zM591.7 251.2h2.4v15h-2.4zM594 251.2h2.2v15h-2.2zM597.5 251.2h2.3v15h-2.3zM615.2 251.2h2.2v15h-2.2zM627.7 251.2h1.8v15h-1.8zM629.5 251.2h2.2v15h-2.2zM639 251.2h1v15h-1zM521.5 271.5h2.1v15h-2.1zM523.6 271.5h2.5v15h-2.5zM530 271.5h1.2v15h-1.2zM547.6 271.5h2.2v15h-2.2zM558.9 271.5h1.3v15h-1.3zM560.2 271.5h1.6v15h-1.6zM570.3 271.5h1.4v15h-1.4zM577.8 271.5h2.3v15h-2.3zM580.1 271.5h2.2v15h-2.2zM584.6 271.5h2.2v15h-2.2zM591.5 271.5h1.1v15h-1.1zM595.6 271.5h1.1v15h-1.1zM615.9 271.5h2.3v15h-2.3zM620 291.8h1.9v15h-1.9zM621.9 291.8h0.9v15h-0.9zM624.5 291.8h2.2v15h-2.2zM634.2 291.8h1.9v15h-1.9zM642.7 291.8h1.4v15h-1.4zM647.4 291.8h2v15h-2zM649.4 291.8h1.4v15h-1.4zM661.4 291.8h0.9v15h-0.9zM677.6 291.8h0.4v15h-0.4zM531.4 312.1h1.1v15h-1.1zM540.1 312.1h0.9v15h-0.9zM543.1 312.1h1.9v15h-1.9zM547 312.1h1v15h-1zM551 312.1h1.1v15h-1.1zM552.1 312.1h1.7v15h-1.7zM556.1 312.1h1.7v15h-1.7zM557.8 312.1h1.5v15h-1.5zM569.2 312.1h1.4v15h-1.4zM572.5 312.1h1.6v15h-1.6zM587.2 312.1h1.9v15h-1.9zM589.1 312.1h1.3v15h-1.3zM590.4 312.1h1.1v15h-1.1zM602.9 312.1h1.6v15h-1.6zM604.5 312.1h2.1v15h-2.1zM608.7 312.1h0.8v15h-0.8zM611.9 312.1h0.8v15h-0.8zM612.7 312.1h1.5v15h-1.5zM615.4 312.1h2.5v15h-2.5zM617.9 312.1h2v15h-2zM619.9 312.1h1.9v15h-1.9zM627 312.1h1.6v15h-1.6zM628.6 312.1h1.1v15h-1.1zM629.7 312.1h1.4v15h-1.4zM631.1 312.1h0.9v15h-0.9zM632 312.1h1.1v15h-1.1zM634.2 312.1h1.5v15h-1.5zM635.7 312.1h2.3v15h-2.3zM637.9 312.1h1.2v15h-1.2zM647.6 312.1h2v15h-2zM657.6 312.1h1.4v15h-1.4zM662 312.1h1.8v15h-1.8zM666.2 312.1h1v15h-1zM667.2 312.1h2v15h-2zM679.6 312.1h0.9v15h-0.9zM680.5 312.1h1.4v15h-1.4zM555 332.4h1.4v15h-1.4zM556.4 332.4h1.2v15h-1.2zM560.9 332.4h1.5v15h-1.5zM567.9 332.4h0.8v15h-0.8zM570.4 332.4h1.4v15h-1.4zM578.9 332.4h1.3v15h-1.3zM583.1 332.4h1v15h-1zM584.1 332.4h1.5v15h-1.5zM587.4 332.4h1.7v15h-1.7zM593 332.4h1.7v15h-1.7zM594.6 332.4h0.8v15h-0.8zM601.4 332.4h1.4v15h-1.4zM606.6 332.4h2.4v15h-2.4zM609 332.4h0.8v15h-0.8zM614.5 332.4h0.9v15h-0.9zM616.9 332.4h1.7v15h-1.7zM620.4 332.4h2.2v15h-2.2zM622.6 332.4h2.3v15h-2.3zM630.8 332.4h2.4v15h-2.4zM480.7 352.8h1.6v15h-1.6zM482.3 352.8h2.3v15h-2.3zM486.5 352.8h1.5v15h-1.5zM488 352.8h1.6v15h-1.6zM494.5 352.8h2.4v15h-2.4zM497 352.8h1.8v15h-1.8zM498.8 352.8h1.2v15h-1.2zM514.2 373.1h1.6v15h-1.6zM524.5 373.1h1.6v15h-1.6zM538.9 373.1h2.2v15h-2.2zM541 373.1h1.7v15h-1.7zM542.7 373.1h2.1v15h-2.1zM550.3 373.1h2.3v15h-2.3zM555.2 373.1h1.1v15h-1.1zM556.3 373.1h0.8v15h-0.8zM558.3 373.1h1.5v15h-1.5zM560.9 373.1h1.2v15h-1.2zM566.1 373.1h0.9v15h-0.9zM570.8 373.1h1.3v15h-1.3zM578 373.1h1.6v15h-1.6zM599.8 373.1h0.2v15h-0.2zM542.2 393.4h2.1v15h-2.1zM546.3 393.4h1.3v15h-1.3zM553.6 393.4h2.2v15h-2.2zM555.8 393.4h1.8v15h-1.8zM562.5 393.4h1.6v15h-1.6zM564.1 393.4h1.4v15h-1.4zM568.8 393.4h1.3v15h-1.3zM574.1 393.4h2.5v15h-2.5zM576.6 393.4h1.9v15h-1.9zM586.8 393.4h2.1v15h-2.1zM591.5 393.4h2v15h-2zM608.2 393.4h1.7v15h-1.7zM612.5 393.4h1.1v15h-1.1zM615 393.4h1.9v15h-1.9zM621.2 393.4h1.9v15h-1.9zM625.5 393.4h2.2v15h-2.2zM627.6 393.4h0.9v15h-0.9zM633.8 393.4h1.6v15h-1.6zM638.1 393.4h1.8v15h-1.8zM639.9 393.4h1.2v15h-1.2zM644 393.4h2.2v15h-2.2zM646.2 393.4h1.5v15h-1.5zM657.9 393.4h0.8v15h-0.8zM662.5 393.4h1v15h-1zM664.7 393.4h1.5v15h-1.5zM666.2 393.4h1.4v15h-1.4zM674.4 393.4h1.1v15h-1.1zM676.7 393.4h1.3v15h-1.3zM531.8 413.7h1.5v15h-1.5zM534.4 413.7h2.1v15h-2.1zM537.9 413.7h1.2v15h-1.2zM546.7 413.7h0.8v15h-0.8zM552.3 413.7h1.3v15h-1.3zM575.7 413.7h1.8v15h-1.8zM581.2 413.7h1.4v15h-1.4zM582.6 413.7h0.9v15h-0.9zM584.6 413.7h2.2v15h-2.2zM586.8 413.7h1.5v15h-1.5zM588.3 413.7h1.1v15h-1.1zM601.1 413.7h1.6v15h-1.6zM602.7 413.7h0.8v15h-0.8zM645.4 413.7h1.4v15h-1.4z"/><path fill="#b0c8c0" d="M520.3 27.8h1.6v15h-1.6zM559.4 27.8h2.5v15h-2.5zM562.9 27.8h2v15h-2zM575.2 27.8h2.1v15h-2.1zM581 27.8h1.4v15h-1.4zM586.2 27.8h1.3v15h-1.3zM587.6 27.8h1.9v15h-1.9zM597.4 27.8h0.9v15h-0.9zM523.7 48.1h1.6v15h-1.6zM528.2 48.1h1.6v15h-1.6zM534 48.1h1v15h-1zM597.7 48.1h0.9v15h-0.9zM598.6 48.1h1.5v15h-1.5zM604.3 48.1h1.7v15h-1.7zM607.6 48.1h1.8v15h-1.8zM618.9 48.1h1.3v15h-1.3zM514.7 68.4h1.2v15h-1.2zM521.6 68.4h1.4v15h-1.4zM570.7 68.4h2.4v15h-2.4zM574.3 68.4h1.6v15h-1.6zM575.9 68.4h1.6v15h-1.6zM609.3 68.4h0.8v15h-0.8zM625.9 68.4h2.2v15h-2.2zM635.3 68.4h1.7v15h-1.7zM553.7 88.7h1.6v15h-1.6zM560.6 88.7h1v15h-1zM579.4 88.7h1.5v15h-1.5zM580.9 88.7h0.9v15h-0.9zM594.6 88.7h2.4v15h-2.4zM617.6 88.7h2.1v15h-2.1zM529.2 109h1.3v15h-1.3zM551.5 109h2.4v15h-2.4zM553.9 109h1.1v15h-1.1zM566 109h1.3v15h-1.3zM554.1 129.3h1.5v15h-1.5zM573.3 129.3h1v15h-1zM598 129.3h1v15h-1zM598.2 149.7h1.3v15h-1.3zM601.9 149.7h2.1v15h-2.1zM611.1 149.7h2.5v15h-2.5zM641.4 149.7h1.3v15h-1.3zM642.7 149.7h1.2v15h-1.2zM646.2 149.7h1.6v15h-1.6zM652.8 149.7h1.6v15h-1.6zM657.5 149.7h1.4v15h-1.4zM659 149.7h2v15h-2zM672.9 149.7h2v15h-2zM674.9 149.7h1.1v15h-1.1zM699 149.7h1v15h-1zM469.1 170h2.2v15h-2.2zM482.2 170h1.5v15h-1.5zM488.2 170h2.3v15h-2.3zM519.5 190.3h1.6v15h-1.6zM526.4 190.3h1.2v15h-1.2zM530 190.3h2.1v15h-2.1zM537.8 190.3h2v15h-2zM565 190.3h1.5v15h-1.5zM571.9 190.3h1.5v15h-1.5zM578.1 190.3h1.3v15h-1.3zM588.8 190.3h1.5v15h-1.5zM596.5 190.3h1.4v15h-1.4zM602.3 190.3h1v15h-1zM618.7 190.3h2.5v15h-2.5zM623.9 190.3h1.6v15h-1.6zM634.6 190.3h0.8v15h-0.8zM546.8 210.6h1.1v15h-1.1zM565.5 210.6h1.2v15h-1.2zM569.7 210.6h0.8v15h-0.8zM599.8 210.6h1.1v15h-1.1zM603 210.6h1v15h-1zM604 210.6h0.5v15h-0.5zM544.7 230.9h2.4v15h-2.4zM547.1 230.9h2.2v15h-2.2zM550.6 230.9h1.5v15h-1.5zM577.5 230.9h0.9v15h-0.9zM602.9 230.9h1.4v15h-1.4zM614.5 230.9h1.3v15h-1.3zM633.7 230.9h2.1v15h-2.1zM729.4 230.9h1.7v15h-1.7zM731 230.9h1.8v15h-1.8zM545.6 251.2h1.9v15h-1.9zM548.8 251.2h1.5v15h-1.5zM558.1 251.2h1.5v15h-1.5zM578.9 251.2h0.9v15h-0.9zM611.1 251.2h2.1v15h-2.1zM625.2 251.2h2.5v15h-2.5zM528.2 271.5h0.8v15h-0.8zM531.2 271.5h1.7v15h-1.7zM545.3 271.5h1.2v15h-1.2zM551.5 271.5h2.4v15h-2.4zM553.9 271.5h1.7v15h-1.7zM555.6 271.5h1.4v15h-1.4zM561.7 271.5h1.3v15h-1.3zM563.1 271.5h2.3v15h-2.3zM586.8 271.5h1.1v15h-1.1zM592.6 271.5h2.1v15h-2.1zM599 271.5h1v15h-1zM609.1 271.5h2.2v15h-2.2zM652.4 291.8h0.9v15h-0.9zM653.2 291.8h1.2v15h-1.2zM659.8 291.8h1.6v15h-1.6zM537.9 312.1h2.2v15h-2.2zM545.1 312.1h2v15h-2zM562.6 312.1h2v15h-2zM564.6 312.1h1.7v15h-1.7zM591.5 312.1h0.8v15h-0.8zM593.9 312.1h2.4v15h-2.4zM641.4 312.1h1.8v15h-1.8zM645.4 312.1h2.2v15h-2.2zM649.5 312.1h2.3v15h-2.3zM656.1 312.1h1.5v15h-1.5zM674.9 312.1h0.8v15h-0.8zM557.6 332.4h2.1v15h-2.1zM568.7 332.4h1.7v15h-1.7zM586.6 332.4h0.8v15h-0.8zM605 332.4h1.7v15h-1.7zM610.9 332.4h1.9v15h-1.9zM626.8 332.4h1.4v15h-1.4zM628.2 332.4h1.3v15h-1.3zM638.1 332.4h1.2v15h-1.2zM485.5 352.8h1v15h-1zM491.6 352.8h1.5v15h-1.5zM493.1 352.8h1.5v15h-1.5zM523.2 373.1h1.2v15h-1.2zM548.7 373.1h1.6v15h-1.6zM567 373.1h2v15h-2zM573.6 373.1h2.3v15h-2.3zM592.9 373.1h1.5v15h-1.5zM549.9 393.4h0.8v15h-0.8zM603.9 393.4h1.9v15h-1.9zM605.8 393.4h2.4v15h-2.4zM618.1 393.4h0.9v15h-0.9zM623.1 393.4h2.3v15h-2.3zM628.5 393.4h0.8v15h-0.8zM656.9 393.4h1v15h-1zM658.7 393.4h2.2v15h-2.2zM677.9 393.4h1.1v15h-1.1zM545 413.7h1.7v15h-1.7zM572.2 413.7h2v15h-2zM589.4 413.7h1.8v15h-1.8zM598.3 413.7h0.9v15h-0.9zM599.2 413.7h2v15h-2zM609 413.7h2.1v15h-2.1zM611.1 413.7h1.1v15h-1.1zM617.1 413.7h1v15h-1zM621.8 413.7h2v15h-2zM627.6 413.7h1.7v15h-1.7z"/><path fill="#98b8a0" d="M530.9 27.8h2.3v15h-2.3zM548.3 27.8h1.2v15h-1.2zM573.1 27.8h2.1v15h-2.1zM583.7 27.8h1.7v15h-1.7zM606 48.1h1.5v15h-1.5zM518.3 68.4h2v15h-2zM533.4 68.4h1.4v15h-1.4zM559.4 68.4h2.3v15h-2.3zM587 68.4h2.3v15h-2.3zM591.6 68.4h1v15h-1zM603.5 68.4h2.1v15h-2.1zM614.8 68.4h1.5v15h-1.5zM556.4 88.7h1.8v15h-1.8zM565.7 88.7h1.2v15h-1.2zM568.6 88.7h1.2v15h-1.2zM582.7 88.7h1.3v15h-1.3zM560.2 109h1.2v15h-1.2zM589.1 109h0.9v15h-0.9zM529.3 129.3h2v15h-2zM579.1 129.3h1.2v15h-1.2zM584.6 129.3h1.2v15h-1.2zM627 149.7h0.9v15h-0.9zM654.4 149.7h1.2v15h-1.2zM677.3 149.7h1.7v15h-1.7zM682.4 149.7h1.7v15h-1.7zM477.6 170h2.3v15h-2.3zM485.3 170h1.4v15h-1.4zM490.5 170h0.5v15h-0.5zM514.2 190.3h1.5v15h-1.5zM533.1 190.3h0.9v15h-0.9zM542.4 190.3h1.1v15h-1.1zM557.1 190.3h2.5v15h-2.5zM561.5 190.3h1.4v15h-1.4zM568.6 190.3h0.9v15h-0.9zM575.7 190.3h2.4v15h-2.4zM587.7 190.3h1.1v15h-1.1zM603.3 190.3h1.2v15h-1.2zM637 190.3h1.1v15h-1.1zM549.1 210.6h1.6v15h-1.6zM552.5 210.6h2.2v15h-2.2zM590.8 210.6h1.9v15h-1.9zM634.4 251.2h1.1v15h-1.1zM594.7 271.5h0.8v15h-0.8zM599.9 271.5h2.4v15h-2.4zM626.7 291.8h1.9v15h-1.9zM631.8 291.8h1.2v15h-1.2zM640.9 291.8h1.8v15h-1.8zM645 291.8h2.4v15h-2.4zM673.9 291.8h1v15h-1zM532.5 312.1h1.9v15h-1.9zM536.6 312.1h1.4v15h-1.4zM549.2 312.1h1.7v15h-1.7zM560.2 312.1h2.3v15h-2.3zM578.9 312.1h1.2v15h-1.2zM581.1 312.1h1.3v15h-1.3zM621.7 312.1h2.1v15h-2.1zM623.8 312.1h0.9v15h-0.9zM655.1 312.1h1v15h-1zM659 312.1h1.3v15h-1.3zM565.5 332.4h2.4v15h-2.4zM571.8 332.4h1.3v15h-1.3zM519.8 373.1h2.5v15h-2.5zM526.1 373.1h1.1v15h-1.1zM557.1 373.1h1.2v15h-1.2zM569 373.1h1.8v15h-1.8zM572.1 373.1h1.5v15h-1.5zM589.6 373.1h1.3v15h-1.3zM590.9 373.1h2v15h-2zM594.4 373.1h2.1v15h-2.1zM567.2 393.4h0.9v15h-0.9zM568 393.4h0.8v15h-0.8zM572.5 393.4h1.6v15h-1.6zM588.8 393.4h1.3v15h-1.3zM590.1 393.4h1.4v15h-1.4zM602.4 393.4h1.5v15h-1.5z"/></g><g filter="url(#bl4)"><path fill="#a8b890" d="M857 27.1h2.1v14.4h-2.1zM861.5 27.1h2.1v14.4h-2.1zM867.5 27.1h2v14.4h-2zM869.5 27.1h1.5v14.4h-1.5zM875.3 27.1h0.8v14.4h-0.8zM877.4 27.1h1.3v14.4h-1.3zM883.7 27.1h2.1v14.4h-2.1zM885.7 27.1h2v14.4h-2zM897.1 27.1h1.7v14.4h-1.7zM901 27.1h1.3v14.4h-1.3zM902.3 27.1h2.3v14.4h-2.3zM963.3 27.1h2.3v14.4h-2.3zM967.1 27.1h1.9v14.4h-1.9zM973.1 27.1h1.7v14.4h-1.7zM1008 27.1h1.1v14.4h-1.1zM1015.2 27.1h1.5v14.4h-1.5zM1022.1 27.1h2.2v14.4h-2.2zM1039.3 27.1h2.1v14.4h-2.1zM1056.1 27.1h1.8v14.4h-1.8zM1058 27.1h1.1v14.4h-1.1zM1059.1 27.1h1.6v14.4h-1.6zM1060.7 27.1h2.3v14.4h-2.3zM858.6 47h2v14.4h-2zM864.1 47h1.2v14.4h-1.2zM867.7 47h1.2v14.4h-1.2zM874.1 47h2.4v14.4h-2.4zM883.9 47h1v14.4h-1zM887.3 47h1.2v14.4h-1.2zM900.2 47h1.3v14.4h-1.3zM904.6 47h1.9v14.4h-1.9zM911.2 47h2.3v14.4h-2.3zM918.1 47h1.9v14.4h-1.9zM922.5 47h0.9v14.4h-0.9zM923.3 47h2.3v14.4h-2.3zM929.4 47h2.4v14.4h-2.4zM931.8 47h2.4v14.4h-2.4zM938.3 47h0.8v14.4h-0.8zM939.1 47h1.7v14.4h-1.7zM963.9 47h1v14.4h-1zM977.2 47h0.8v14.4h-0.8zM991.7 47h1.2v14.4h-1.2zM1016.2 47h2.4v14.4h-2.4zM1023.4 47h2.1v14.4h-2.1zM1025.5 47h2.3v14.4h-2.3zM1038.8 47h1.4v14.4h-1.4zM1044.4 47h1.4v14.4h-1.4zM858.7 66.8h2v14.4h-2zM862.7 66.8h1v14.4h-1zM865.6 66.8h1.9v14.4h-1.9zM869.7 66.8h1.8v14.4h-1.8zM873.7 66.8h1.4v14.4h-1.4zM878.2 66.8h1.3v14.4h-1.3zM884.2 66.8h1.5v14.4h-1.5zM885.7 66.8h1.3v14.4h-1.3zM888.5 66.8h2.4v14.4h-2.4zM890.9 66.8h1.6v14.4h-1.6zM912.1 66.8h1.9v14.4h-1.9zM914 66.8h2v14.4h-2zM916 66.8h2.2v14.4h-2.2zM935 66.8h1.1v14.4h-1.1zM952.7 66.8h1.6v14.4h-1.6zM1040 66.8h1.5v14.4h-1.5zM1060.7 66.8h1.7v14.4h-1.7zM1070.7 66.8h2.1v14.4h-2.1zM1079.7 66.8h1.4v14.4h-1.4zM1081.1 66.8h2.3v14.4h-2.3zM1088.6 66.8h1.8v14.4h-1.8zM1101.5 66.8h1v14.4h-1zM1116.2 66.8h1.6v14.4h-1.6zM857 86.7h1.2v14.4h-1.2zM858.2 86.7h1.5v14.4h-1.5zM862 86.7h1.5v14.4h-1.5zM863.5 86.7h1.1v14.4h-1.1zM867.2 86.7h1.8v14.4h-1.8zM876.7 86.7h1v14.4h-1zM882.1 86.7h0.9v14.4h-0.9zM883 86.7h1.9v14.4h-1.9zM885.8 86.7h2v14.4h-2zM889.4 86.7h1v14.4h-1zM910.4 86.7h2.1v14.4h-2.1zM918.1 86.7h1.3v14.4h-1.3zM920.9 86.7h1.8v14.4h-1.8zM927.6 86.7h2.5v14.4h-2.5zM931.4 86.7h2.1v14.4h-2.1zM938.2 86.7h0.9v14.4h-0.9zM1010 86.7h1.3v14.4h-1.3zM1014.9 86.7h2.1v14.4h-2.1zM1017 86.7h1.6v14.4h-1.6zM1020 86.7h0.9v14.4h-0.9zM1023.4 86.7h2.4v14.4h-2.4zM1025.8 86.7h1.2v14.4h-1.2zM1027.1 86.7h2.1v14.4h-2.1zM1040.6 86.7h1.9v14.4h-1.9zM1051 86.7h1.2v14.4h-1.2zM1052.2 86.7h1.4v14.4h-1.4zM1053.6 86.7h1.9v14.4h-1.9zM1055.6 86.7h2.2v14.4h-2.2zM1069.8 86.7h1.5v14.4h-1.5zM1074.5 86.7h2.2v14.4h-2.2zM1076.7 86.7h1.3v14.4h-1.3zM874.3 106.5h2.5v14.4h-2.5zM879.5 106.5h2.5v14.4h-2.5zM882 106.5h1v14.4h-1zM884.5 106.5h0.5v14.4h-0.5zM902.9 106.5h1.6v14.4h-1.6zM909 106.5h1.8v14.4h-1.8zM926.5 106.5h2v14.4h-2zM928.5 106.5h2.3v14.4h-2.3zM942.6 106.5h1.9v14.4h-1.9zM975.3 106.5h0.9v14.4h-0.9zM982.9 106.5h1.8v14.4h-1.8zM1006.3 106.5h1.2v14.4h-1.2zM1009 106.5h1v14.4h-1zM1018.2 106.5h1.1v14.4h-1.1zM1021.6 106.5h2v14.4h-2zM1024.6 106.5h0.8v14.4h-0.8zM1031.2 106.5h1.8v14.4h-1.8zM1035.3 106.5h0.9v14.4h-0.9zM1038.1 106.5h1.4v14.4h-1.4zM1039.6 106.5h0.8v14.4h-0.8zM1040.4 106.5h1.8v14.4h-1.8zM1042.2 106.5h1.4v14.4h-1.4zM1047.6 106.5h2.5v14.4h-2.5zM1054.8 106.5h1.2v14.4h-1.2zM1056 106.5h2v14.4h-2zM1057.9 106.5h1.8v14.4h-1.8zM1059.7 106.5h1.1v14.4h-1.1zM1060.8 106.5h2.3v14.4h-2.3zM1067.2 106.5h1.9v14.4h-1.9zM877.2 126.4h1.2v14.4h-1.2zM881.5 126.4h2.2v14.4h-2.2zM886 126.4h2.2v14.4h-2.2zM897.4 126.4h1.1v14.4h-1.1zM905 126.4h1.8v14.4h-1.8zM1008.6 126.4h1.1v14.4h-1.1zM1009.7 126.4h1v14.4h-1zM1014.2 126.4h1.1v14.4h-1.1zM1017.4 126.4h2.1v14.4h-2.1zM1029 126.4h0.8v14.4h-0.8zM1031.2 126.4h2v14.4h-2zM1042.2 126.4h1.1v14.4h-1.1zM1044.7 126.4h1.4v14.4h-1.4zM1046.1 126.4h1.6v14.4h-1.6zM1049.6 126.4h0.8v14.4h-0.8zM1051.3 126.4h1.6v14.4h-1.6zM1058.6 126.4h1.2v14.4h-1.2zM1066.8 126.4h1v14.4h-1zM1067.9 126.4h2v14.4h-2zM859.5 146.3h1.7v14.4h-1.7zM861.1 146.3h2.3v14.4h-2.3zM864.4 146.3h2.4v14.4h-2.4zM877.7 146.3h2.5v14.4h-2.5zM880.2 146.3h1.7v14.4h-1.7zM884.1 146.3h1.6v14.4h-1.6zM895.9 146.3h1.6v14.4h-1.6zM905.9 146.3h1.4v14.4h-1.4zM907.3 146.3h1.4v14.4h-1.4zM908.7 146.3h1v14.4h-1zM940.6 146.3h1.1v14.4h-1.1zM943.1 146.3h1.2v14.4h-1.2zM951.6 146.3h1.3v14.4h-1.3zM952.9 146.3h1.8v14.4h-1.8zM956.4 146.3h1.3v14.4h-1.3zM957.7 146.3h1.5v14.4h-1.5zM959.2 146.3h2v14.4h-2zM968.1 146.3h1.8v14.4h-1.8zM969.9 146.3h1.4v14.4h-1.4zM971.3 146.3h2.1v14.4h-2.1zM973.5 146.3h2v14.4h-2zM975.5 146.3h2.3v14.4h-2.3zM978.7 146.3h1.1v14.4h-1.1zM986.2 146.3h2.3v14.4h-2.3zM995.5 146.3h1.4v14.4h-1.4zM998.7 146.3h1.9v14.4h-1.9zM1001.5 146.3h2v14.4h-2zM1005.6 146.3h0.8v14.4h-0.8zM1008.8 146.3h0.2v14.4h-0.2zM861.6 166.1h1.9v14.4h-1.9zM887.1 166.1h1.6v14.4h-1.6zM902.6 166.1h2.3v14.4h-2.3zM905 166.1h1.7v14.4h-1.7zM914.3 166.1h2.2v14.4h-2.2zM916.6 166.1h1.6v14.4h-1.6zM922.4 166.1h2v14.4h-2zM924.4 166.1h1.3v14.4h-1.3zM934 166.1h1.7v14.4h-1.7zM938.7 166.1h1.5v14.4h-1.5zM858.2 186h1v14.4h-1zM862.7 186h1.4v14.4h-1.4zM878.4 186h1.7v14.4h-1.7zM881.4 186h0.9v14.4h-0.9zM886.6 186h2.2v14.4h-2.2zM888.9 186h1.8v14.4h-1.8zM893.3 186h2.4v14.4h-2.4zM898.3 186h0.9v14.4h-0.9zM899.9 186h2.5v14.4h-2.5zM902.4 186h1.2v14.4h-1.2zM910.2 186h1.7v14.4h-1.7zM923.7 186h1.6v14.4h-1.6zM987.9 186h1.7v14.4h-1.7zM997.9 186h1v14.4h-1zM1025 186h2v14.4h-2zM1030.2 186h1.9v14.4h-1.9zM1036.7 186h1.7v14.4h-1.7zM1045.3 186h2.2v14.4h-2.2zM1048.5 186h0.9v14.4h-0.9zM1052.7 186h1.7v14.4h-1.7zM1056.8 186h2.1v14.4h-2.1zM1058.9 186h1.3v14.4h-1.3zM1076.3 186h1.9v14.4h-1.9zM1080.1 186h1.5v14.4h-1.5zM860.8 205.8h2.1v14.4h-2.1zM864.8 205.8h1.9v14.4h-1.9zM868.3 205.8h2.3v14.4h-2.3zM872.7 205.8h2.2v14.4h-2.2zM887 205.8h1.5v14.4h-1.5zM889.9 205.8h2.4v14.4h-2.4zM892.3 205.8h1.8v14.4h-1.8zM894.1 205.8h1.1v14.4h-1.1zM897.6 205.8h2.5v14.4h-2.5zM904.6 205.8h1.1v14.4h-1.1zM918.6 205.8h1.7v14.4h-1.7zM920.3 205.8h2.1v14.4h-2.1zM923.8 205.8h1.5v14.4h-1.5zM929.1 205.8h0.9v14.4h-0.9zM997.6 205.8h1.1v14.4h-1.1zM1020.2 205.8h2.4v14.4h-2.4zM1022.7 205.8h0.9v14.4h-0.9zM1044.9 205.8h1.8v14.4h-1.8zM1050 205.8h2.5v14.4h-2.5zM1052.5 205.8h1.3v14.4h-1.3zM1059.1 205.8h0.9v14.4h-0.9zM1061.8 205.8h2.5v14.4h-2.5zM857 225.7h2.3v14.4h-2.3zM861.2 225.7h1.6v14.4h-1.6zM862.8 225.7h1.8v14.4h-1.8zM864.6 225.7h1.8v14.4h-1.8zM881.8 225.7h1.1v14.4h-1.1zM882.9 225.7h1.6v14.4h-1.6zM884.5 225.7h0.8v14.4h-0.8zM892.5 225.7h1.2v14.4h-1.2zM904 225.7h1.6v14.4h-1.6zM905.6 225.7h0.8v14.4h-0.8zM906.4 225.7h0.9v14.4h-0.9zM909.7 225.7h2.5v14.4h-2.5zM912.1 225.7h1.2v14.4h-1.2zM915.2 225.7h2.3v14.4h-2.3zM921.1 225.7h2v14.4h-2zM924.2 225.7h2.3v14.4h-2.3zM926.5 225.7h1.1v14.4h-1.1zM929.4 225.7h1.5v14.4h-1.5zM930.9 225.7h1.3v14.4h-1.3zM941.1 225.7h1.8v14.4h-1.8zM942.9 225.7h2v14.4h-2zM968.2 225.7h1.3v14.4h-1.3zM986.1 225.7h2.3v14.4h-2.3zM1047.3 225.7h2.5v14.4h-2.5zM1065.9 225.7h1v14.4h-1zM1066.9 225.7h2.1v14.4h-2.1zM1085.9 225.7h2.1v14.4h-2.1zM1088 225.7h1v14.4h-1zM1089 225.7h2.3v14.4h-2.3zM1091.3 225.7h1.5v14.4h-1.5zM1092.9 225.7h2.2v14.4h-2.2zM1096.3 225.7h2v14.4h-2zM1114.6 225.7h2.5v14.4h-2.5zM1117.1 225.7h2v14.4h-2zM1122.6 225.7h2.5v14.4h-2.5zM1128.6 225.7h1v14.4h-1zM1133.5 225.7h1v14.4h-1zM1138.6 225.7h1.2v14.4h-1.2zM857 245.6h2.1v14.4h-2.1zM862.4 245.6h1.3v14.4h-1.3zM863.6 245.6h2.2v14.4h-2.2zM872.7 245.6h1.1v14.4h-1.1zM875.9 245.6h2.4v14.4h-2.4zM878.3 245.6h2.4v14.4h-2.4zM886.1 245.6h2.1v14.4h-2.1zM888.2 245.6h1.7v14.4h-1.7zM892 245.6h1.7v14.4h-1.7zM896.9 245.6h1v14.4h-1zM897.9 245.6h1.9v14.4h-1.9zM901.2 245.6h1.9v14.4h-1.9zM905.1 245.6h1.1v14.4h-1.1zM906.2 245.6h0.9v14.4h-0.9zM907.1 245.6h1.6v14.4h-1.6zM916.5 245.6h2.1v14.4h-2.1zM985 245.6h1.4v14.4h-1.4zM996 245.6h2.5v14.4h-2.5zM1000 245.6h2.4v14.4h-2.4zM1002.3 245.6h1.5v14.4h-1.5zM1009.1 245.6h1.9v14.4h-1.9zM1011 245.6h1.4v14.4h-1.4zM1012.4 245.6h1.5v14.4h-1.5zM1020.8 245.6h2.2v14.4h-2.2zM1023 245.6h2.5v14.4h-2.5zM1025.5 245.6h1.3v14.4h-1.3zM1030.8 245.6h2.5v14.4h-2.5zM1038.6 245.6h1v14.4h-1zM1039.6 245.6h0.9v14.4h-0.9zM1045.4 245.6h2.5v14.4h-2.5zM1049.4 245.6h1.2v14.4h-1.2zM1055.8 245.6h1.7v14.4h-1.7zM1057.5 245.6h0.9v14.4h-0.9zM1058.3 245.6h2.5v14.4h-2.5zM1060.8 245.6h0.9v14.4h-0.9zM1072.6 245.6h1.8v14.4h-1.8zM1076.5 245.6h1v14.4h-1zM1079.5 245.6h1.5v14.4h-1.5zM860.8 265.4h1.4v14.4h-1.4zM862.2 265.4h2.2v14.4h-2.2zM886.3 265.4h1.7v14.4h-1.7zM891.2 265.4h1.8v14.4h-1.8zM893.1 265.4h2.2v14.4h-2.2zM902 265.4h1.3v14.4h-1.3zM905.1 265.4h2.3v14.4h-2.3zM909 265.4h1.6v14.4h-1.6zM910.6 265.4h1.5v14.4h-1.5zM912.1 265.4h0.8v14.4h-0.8zM923.1 265.4h1.7v14.4h-1.7zM924.8 265.4h2.2v14.4h-2.2zM927 265.4h2v14.4h-2zM929 265.4h1.6v14.4h-1.6zM930.5 265.4h1.1v14.4h-1.1zM935 265.4h1.1v14.4h-1.1zM936.1 265.4h2.2v14.4h-2.2zM938.3 265.4h2.3v14.4h-2.3zM944.5 265.4h1.9v14.4h-1.9zM947.8 265.4h2.5v14.4h-2.5zM950.3 265.4h2.3v14.4h-2.3zM962.7 265.4h1.3v14.4h-1.3zM1050 265.4h1.2v14.4h-1.2zM1059.2 265.4h1.1v14.4h-1.1zM1060.3 265.4h1.7v14.4h-1.7zM1064.9 265.4h1.6v14.4h-1.6zM1066.5 265.4h1v14.4h-1zM1078.3 265.4h2.4v14.4h-2.4zM1083 265.4h1.9v14.4h-1.9zM1089 265.4h1.8v14.4h-1.8zM1098.1 265.4h1.4v14.4h-1.4zM1101 265.4h1v14.4h-1zM1104.2 265.4h1.5v14.4h-1.5zM1105.7 265.4h1.7v14.4h-1.7zM1109.9 265.4h0.1v14.4h-0.1zM1110 265.4h2.3v14.4h-2.3zM1112.3 265.4h1v14.4h-1zM1113.3 265.4h2v14.4h-2zM1124 265.4h1.7v14.4h-1.7zM857 285.3h1.5v14.4h-1.5zM860.2 285.3h2.2v14.4h-2.2zM862.5 285.3h1.6v14.4h-1.6zM864 285.3h1.8v14.4h-1.8zM871.1 285.3h2v14.4h-2zM883.9 285.3h1.6v14.4h-1.6zM888.6 285.3h2.4v14.4h-2.4zM891.1 285.3h0.9v14.4h-0.9zM901.1 285.3h0.9v14.4h-0.9zM902.1 285.3h1.1v14.4h-1.1zM903.1 285.3h1.1v14.4h-1.1zM908.3 285.3h0.8v14.4h-0.8zM910.8 285.3h2.4v14.4h-2.4zM917.1 285.3h0.9v14.4h-0.9zM918 285.3h2.4v14.4h-2.4zM922.9 285.3h1.6v14.4h-1.6zM924.5 285.3h2.3v14.4h-2.3zM926.8 285.3h1.2v14.4h-1.2zM929.4 285.3h2.3v14.4h-2.3zM931.7 285.3h2v14.4h-2zM933.7 285.3h1.3v14.4h-1.3zM950.4 285.3h1.3v14.4h-1.3zM951.6 285.3h2.2v14.4h-2.2zM955 285.3h1.3v14.4h-1.3zM999.9 285.3h2.2v14.4h-2.2zM1028.4 285.3h2.4v14.4h-2.4zM1030.8 285.3h0.9v14.4h-0.9zM1031.7 285.3h2.2v14.4h-2.2zM1033.9 285.3h1.2v14.4h-1.2zM1037.5 285.3h2v14.4h-2zM1039.5 285.3h1.3v14.4h-1.3zM1049.6 285.3h1.8v14.4h-1.8zM1062 285.3h1v14.4h-1zM1063 285.3h2.1v14.4h-2.1zM1065.1 285.3h2.4v14.4h-2.4zM1068.7 285.3h1.6v14.4h-1.6zM1072.2 285.3h1.9v14.4h-1.9zM1074.1 285.3h1.6v14.4h-1.6zM1075.7 285.3h1.1v14.4h-1.1zM1076.8 285.3h2.2v14.4h-2.2zM1079 285.3h0.9v14.4h-0.9zM1085.2 285.3h1.6v14.4h-1.6zM1086.7 285.3h0.8v14.4h-0.8zM1090.9 285.3h1.5v14.4h-1.5zM1097.2 285.3h1.5v14.4h-1.5zM1099.6 285.3h2.1v14.4h-2.1zM1103.7 285.3h2.4v14.4h-2.4zM1110.3 285.3h1.6v14.4h-1.6zM1111.8 285.3h1.9v14.4h-1.9zM869 305.1h0.9v14.4h-0.9zM874.6 305.1h2.2v14.4h-2.2zM879 305.1h0.8v14.4h-0.8zM885.3 305.1h2.3v14.4h-2.3zM888.5 305.1h1.8v14.4h-1.8zM895.4 305.1h0.9v14.4h-0.9zM901.7 305.1h2.4v14.4h-2.4zM907.1 305.1h0.9v14.4h-0.9zM908 305.1h1.5v14.4h-1.5zM911.4 305.1h1.2v14.4h-1.2zM914.4 305.1h2.2v14.4h-2.2zM917.9 305.1h0.9v14.4h-0.9zM922.9 305.1h1.5v14.4h-1.5zM927.6 305.1h1.7v14.4h-1.7zM929.3 305.1h1.5v14.4h-1.5zM1036.9 305.1h1.6v14.4h-1.6zM1048.6 305.1h1v14.4h-1zM1061.6 305.1h1.3v14.4h-1.3zM1085 305.1h1.1v14.4h-1.1zM1090.2 305.1h2v14.4h-2zM1092.1 305.1h1.2v14.4h-1.2zM1097.8 305.1h2v14.4h-2zM1101.1 305.1h2.4v14.4h-2.4zM1103.5 305.1h2.1v14.4h-2.1zM1107.2 305.1h1.1v14.4h-1.1zM1108.4 305.1h2.4v14.4h-2.4zM1114.4 305.1h0.8v14.4h-0.8zM1119 305.1h2.4v14.4h-2.4zM1125.1 305.1h1v14.4h-1zM1126.1 305.1h0.8v14.4h-0.8zM1126.9 305.1h1.8v14.4h-1.8zM1140.8 305.1h1.6v14.4h-1.6zM1146.2 305.1h1v14.4h-1zM1147.2 305.1h2v14.4h-2zM1154.8 305.1h0.2v14.4h-0.2zM859.5 325h1.9v14.4h-1.9zM872.3 325h0.8v14.4h-0.8zM873.1 325h1.8v14.4h-1.8zM876.6 325h1.7v14.4h-1.7zM881.3 325h2.3v14.4h-2.3zM887.6 325h2.2v14.4h-2.2zM889.9 325h2.2v14.4h-2.2zM895.2 325h2.3v14.4h-2.3zM897.5 325h2.3v14.4h-2.3zM905.5 325h2.3v14.4h-2.3zM910.8 325h0.8v14.4h-0.8zM917.1 325h1.9v14.4h-1.9zM921.2 325h1.1v14.4h-1.1zM926.4 325h2.2v14.4h-2.2zM928.6 325h0.9v14.4h-0.9zM934.3 325h0.7v14.4h-0.7zM1030 325h1.6v14.4h-1.6zM1031.6 325h1.6v14.4h-1.6zM1033.2 325h0.8v14.4h-0.8zM1034 325h1.6v14.4h-1.6zM1038.4 325h1.5v14.4h-1.5zM1041.8 325h1.9v14.4h-1.9zM1049.3 325h2.1v14.4h-2.1zM1053 325h2.5v14.4h-2.5zM1055.5 325h1.1v14.4h-1.1zM1056.6 325h1.3v14.4h-1.3zM1057.9 325h1.9v14.4h-1.9zM1064.2 325h1.5v14.4h-1.5zM1068 325h1.7v14.4h-1.7zM1075.4 325h2v14.4h-2zM1082.2 325h2.2v14.4h-2.2zM1085.3 325h2.4v14.4h-2.4zM1092.2 325h2v14.4h-2zM1101.7 325h2.1v14.4h-2.1zM1113.6 325h2.2v14.4h-2.2zM1115.8 325h1.3v14.4h-1.3zM1117.1 325h1.8v14.4h-1.8zM1129.1 325h2v14.4h-2zM1131.1 325h1.7v14.4h-1.7zM1134.5 325h1.3v14.4h-1.3zM1137.4 325h1.8v14.4h-1.8zM1142.4 325h1.8v14.4h-1.8zM857 344.9h1.4v14.4h-1.4zM858.4 344.9h1.8v14.4h-1.8zM861.1 344.9h1v14.4h-1zM869.2 344.9h1v14.4h-1zM870.2 344.9h1.8v14.4h-1.8zM873.2 344.9h2.1v14.4h-2.1zM880.7 344.9h1.8v14.4h-1.8zM888.4 344.9h1.4v14.4h-1.4zM889.8 344.9h1.5v14.4h-1.5zM894.1 344.9h2v14.4h-2zM896 344.9h1.4v14.4h-1.4zM899.4 344.9h0.6v14.4h-0.6zM900 344.9h1.6v14.4h-1.6zM901.6 344.9h1v14.4h-1zM902.6 344.9h2.4v14.4h-2.4zM905 344.9h2.2v14.4h-2.2zM910.8 344.9h1.5v14.4h-1.5zM915.4 344.9h1.3v14.4h-1.3zM917.8 344.9h0.9v14.4h-0.9zM923.2 344.9h1.2v14.4h-1.2zM928.3 344.9h1.1v14.4h-1.1zM929.4 344.9h1.1v14.4h-1.1zM930.5 344.9h1.2v14.4h-1.2zM933.9 344.9h1.1v14.4h-1.1zM935 344.9h1v14.4h-1zM998.5 344.9h1.5v14.4h-1.5zM1045 344.9h1v14.4h-1zM1046 344.9h1.1v14.4h-1.1zM1049.1 344.9h2.3v14.4h-2.3zM1051.4 344.9h2.4v14.4h-2.4zM1057.4 344.9h1.6v14.4h-1.6zM1067.3 344.9h1.6v14.4h-1.6zM1071.9 344.9h2.1v14.4h-2.1zM1077.3 344.9h1.3v14.4h-1.3zM1078.6 344.9h1.6v14.4h-1.6zM1081.8 344.9h1.7v14.4h-1.7zM1085.5 344.9h1.7v14.4h-1.7zM1088.5 344.9h2.1v14.4h-2.1zM1090.6 344.9h1.4v14.4h-1.4zM1104.9 344.9h2.5v14.4h-2.5zM1113 344.9h0.8v14.4h-0.8zM863.9 364.7h1.2v14.4h-1.2zM866.2 364.7h1.7v14.4h-1.7zM867.9 364.7h1.2v14.4h-1.2zM875.8 364.7h2.4v14.4h-2.4zM881 364.7h1.5v14.4h-1.5zM888.1 364.7h2.4v14.4h-2.4zM890.4 364.7h2.1v14.4h-2.1zM892.5 364.7h0.9v14.4h-0.9zM893.4 364.7h2v14.4h-2zM905.1 364.7h1.1v14.4h-1.1zM910.2 364.7h1.9v14.4h-1.9zM914.3 364.7h1v14.4h-1zM916.2 364.7h0.8v14.4h-0.8zM931.3 364.7h1.8v14.4h-1.8zM933.1 364.7h2.5v14.4h-2.5zM935.6 364.7h2.2v14.4h-2.2zM947.8 364.7h2v14.4h-2zM958 364.7h2v14.4h-2zM969.1 364.7h1.3v14.4h-1.3zM974.6 364.7h0.9v14.4h-0.9zM1040 364.7h2.1v14.4h-2.1zM1045.9 364.7h1.2v14.4h-1.2zM1051.2 364.7h1.4v14.4h-1.4zM1058.4 364.7h2.2v14.4h-2.2zM1064.4 364.7h1.9v14.4h-1.9zM1079.2 364.7h1.6v14.4h-1.6zM1095.5 364.7h1.2v14.4h-1.2zM1100.4 364.7h2v14.4h-2zM1102.4 364.7h1v14.4h-1zM1109.4 364.7h1.4v14.4h-1.4zM1113.2 364.7h0.6v14.4h-0.6zM862.3 384.6h2.3v14.4h-2.3zM866.9 384.6h2.4v14.4h-2.4zM870.5 384.6h2.3v14.4h-2.3zM874.5 384.6h2.3v14.4h-2.3zM882.5 384.6h1.4v14.4h-1.4zM884 384.6h2.1v14.4h-2.1zM888.6 384.6h1.2v14.4h-1.2zM892.1 384.6h2.1v14.4h-2.1zM894.3 384.6h1.3v14.4h-1.3zM899.3 384.6h1.4v14.4h-1.4zM901.8 384.6h2.4v14.4h-2.4zM917.5 384.6h1.5v14.4h-1.5zM919 384.6h1.5v14.4h-1.5zM926.8 384.6h1.9v14.4h-1.9zM937.8 384.6h1v14.4h-1zM940 384.6h2v14.4h-2zM943.7 384.6h1.2v14.4h-1.2zM968.9 384.6h1v14.4h-1zM972.3 384.6h1.2v14.4h-1.2zM973.4 384.6h2.2v14.4h-2.2zM978.6 384.6h2v14.4h-2zM1020.6 384.6h1.4v14.4h-1.4zM1022 384.6h2.3v14.4h-2.3zM1026.2 384.6h1.5v14.4h-1.5zM1032.8 384.6h1.4v14.4h-1.4zM1034.2 384.6h1.6v14.4h-1.6zM1037.6 384.6h2.4v14.4h-2.4zM1040 384.6h2.4v14.4h-2.4zM1051.5 384.6h2v14.4h-2zM1053.6 384.6h2.3v14.4h-2.3zM1068.2 384.6h1.4v14.4h-1.4zM1083 384.6h1.2v14.4h-1.2zM1089.3 384.6h0.9v14.4h-0.9zM1092.7 384.6h0.9v14.4h-0.9zM1099.4 384.6h1.5v14.4h-1.5zM1102.8 384.6h1.2v14.4h-1.2zM1104 384.6h2v14.4h-2zM1108.3 384.6h1.2v14.4h-1.2zM1114 384.6h1.3v14.4h-1.3zM1118.9 384.6h1.4v14.4h-1.4zM1120.3 384.6h1.8v14.4h-1.8zM1139.2 384.6h2.1v14.4h-2.1zM1146.7 384.6h1.2v14.4h-1.2zM870.8 404.4h2.1v14.4h-2.1zM885.4 404.4h1.1v14.4h-1.1zM889.9 404.4h1.2v14.4h-1.2zM900.6 404.4h2v14.4h-2zM906.9 404.4h1v14.4h-1zM909.1 404.4h1v14.4h-1zM910.1 404.4h1.6v14.4h-1.6zM914.8 404.4h1.4v14.4h-1.4zM916.1 404.4h1.7v14.4h-1.7zM926.2 404.4h1.1v14.4h-1.1zM927.3 404.4h1.6v14.4h-1.6zM930.8 404.4h1.2v14.4h-1.2zM1033.9 404.4h1.8v14.4h-1.8zM1044 404.4h2.3v14.4h-2.3zM1051.9 404.4h2.4v14.4h-2.4zM1086.1 404.4h1.9v14.4h-1.9zM1089.2 404.4h2.4v14.4h-2.4zM1093 404.4h1.9v14.4h-1.9zM1094.9 404.4h1.7v14.4h-1.7zM1099.1 404.4h1.5v14.4h-1.5zM1107 404.4h1v14.4h-1zM1108 404.4h1.5v14.4h-1.5zM1113.6 404.4h1.8v14.4h-1.8zM1115.4 404.4h2.1v14.4h-2.1zM1121.4 404.4h1.2v14.4h-1.2zM1124.1 404.4h2.4v14.4h-2.4z"/><path fill="#c0b880" d="M859.1 27.1h2.3v14.4h-2.3zM863.6 27.1h1.4v14.4h-1.4zM873.2 27.1h2.1v14.4h-2.1zM876.1 27.1h1.3v14.4h-1.3zM898.8 27.1h2.2v14.4h-2.2zM1035 27.1h1.9v14.4h-1.9zM1051.4 27.1h1.3v14.4h-1.3zM1052.6 27.1h1.1v14.4h-1.1zM1055.3 27.1h0.8v14.4h-0.8zM879.8 47h1.8v14.4h-1.8zM892 47h1.2v14.4h-1.2zM910 47h1.2v14.4h-1.2zM920 47h2.4v14.4h-2.4zM934.2 47h0.8v14.4h-0.8zM1031.1 47h1.1v14.4h-1.1zM1036.4 47h2.3v14.4h-2.3zM863.7 66.8h1.9v14.4h-1.9zM875.1 66.8h2.1v14.4h-2.1zM877.2 66.8h1v14.4h-1zM892.5 66.8h1.8v14.4h-1.8zM928.3 66.8h2.2v14.4h-2.2zM930.5 66.8h2.4v14.4h-2.4zM1047 66.8h1.5v14.4h-1.5zM1067.1 66.8h2.3v14.4h-2.3zM1085.3 66.8h2.2v14.4h-2.2zM1094 66.8h1.1v14.4h-1.1zM1095 66.8h2.4v14.4h-2.4zM1097.5 66.8h1v14.4h-1zM1102.6 66.8h1.8v14.4h-1.8zM1105 66.8h1.2v14.4h-1.2zM1113.2 66.8h1.6v14.4h-1.6zM1119 66.8h2.1v14.4h-2.1zM871.9 86.7h2.5v14.4h-2.5zM899.6 86.7h1.9v14.4h-1.9zM908.5 86.7h1.8v14.4h-1.8zM912.4 86.7h1v14.4h-1zM915 86.7h0.9v14.4h-0.9zM922.7 86.7h0.9v14.4h-0.9zM930 86.7h1.4v14.4h-1.4zM935.8 86.7h2.4v14.4h-2.4zM1029.1 86.7h1v14.4h-1zM1034.2 86.7h2v14.4h-2zM1037.3 86.7h0.8v14.4h-0.8zM1067.5 86.7h2.4v14.4h-2.4zM1085 86.7h1.8v14.4h-1.8zM1094 86.7h2.2v14.4h-2.2zM877 106.5h1v14.4h-1zM1025.5 106.5h1.8v14.4h-1.8zM1029 106.5h2.2v14.4h-2.2zM1063.1 106.5h1v14.4h-1zM1069.2 106.5h1.2v14.4h-1.2zM878.4 126.4h1v14.4h-1zM901.8 126.4h1.8v14.4h-1.8zM913.3 126.4h1.7v14.4h-1.7zM1006.3 126.4h2.3v14.4h-2.3zM1015.3 126.4h0.9v14.4h-0.9zM1019.5 126.4h1.2v14.4h-1.2zM1040.4 126.4h1.8v14.4h-1.8zM1043.3 126.4h1.4v14.4h-1.4zM1047.7 126.4h1.9v14.4h-1.9zM1050.5 126.4h0.8v14.4h-0.8zM857 146.3h2.5v14.4h-2.5zM866.9 146.3h1.1v14.4h-1.1zM867.9 146.3h1.2v14.4h-1.2zM869.1 146.3h1.9v14.4h-1.9zM871 146.3h1.8v14.4h-1.8zM872.8 146.3h2v14.4h-2zM874.8 146.3h1.3v14.4h-1.3zM885.7 146.3h1v14.4h-1zM897.5 146.3h1v14.4h-1zM899.7 146.3h2.2v14.4h-2.2zM903.9 146.3h2v14.4h-2zM937 146.3h1.5v14.4h-1.5zM966.7 146.3h1.4v14.4h-1.4zM979.7 146.3h2.2v14.4h-2.2zM981.9 146.3h2.2v14.4h-2.2zM988.5 146.3h2.3v14.4h-2.3zM996.9 146.3h1.8v14.4h-1.8zM857 166.1h1.1v14.4h-1.1zM863.5 166.1h0.9v14.4h-0.9zM867.8 166.1h2.1v14.4h-2.1zM872.7 166.1h1.9v14.4h-1.9zM882.1 166.1h0.9v14.4h-0.9zM890.5 166.1h1.3v14.4h-1.3zM927.7 166.1h2.4v14.4h-2.4zM935.7 166.1h0.8v14.4h-0.8zM948.4 166.1h2.1v14.4h-2.1zM954 166.1h1v14.4h-1zM859.2 186h2.2v14.4h-2.2zM868 186h1.4v14.4h-1.4zM896.6 186h1.7v14.4h-1.7zM913.5 186h2.2v14.4h-2.2zM1042.5 186h1.1v14.4h-1.1zM1063.7 186h1.5v14.4h-1.5zM1066.6 186h1.5v14.4h-1.5zM866.7 205.8h1.6v14.4h-1.6zM871.6 205.8h1.1v14.4h-1.1zM883.5 205.8h2v14.4h-2zM900.1 205.8h0.8v14.4h-0.8zM908.4 205.8h1.2v14.4h-1.2zM917.4 205.8h1.3v14.4h-1.3zM925.3 205.8h2v14.4h-2zM927.3 205.8h1.8v14.4h-1.8zM1072 205.8h1.3v14.4h-1.3zM1074.9 205.8h1.8v14.4h-1.8zM878.2 225.7h1.8v14.4h-1.8zM887.7 225.7h1.8v14.4h-1.8zM907.3 225.7h2.3v14.4h-2.3zM913.3 225.7h0.9v14.4h-0.9zM919.5 225.7h1.6v14.4h-1.6zM932.2 225.7h1v14.4h-1zM937.2 225.7h0.8v14.4h-0.8zM944.9 225.7h1.9v14.4h-1.9zM1045 225.7h1.3v14.4h-1.3zM1049.8 225.7h1.1v14.4h-1.1zM1059.5 225.7h1.9v14.4h-1.9zM1069 225.7h1.8v14.4h-1.8zM1073.1 225.7h2.1v14.4h-2.1zM1075.2 225.7h1v14.4h-1zM1076.2 225.7h1v14.4h-1zM1078.8 225.7h1.6v14.4h-1.6zM1121.1 225.7h1.5v14.4h-1.5zM1126.3 225.7h1.2v14.4h-1.2zM1135 225.7h1.5v14.4h-1.5zM873.8 245.6h2.1v14.4h-2.1zM889.9 245.6h2.2v14.4h-2.2zM895.1 245.6h1.9v14.4h-1.9zM924.5 245.6h1.6v14.4h-1.6zM930.4 245.6h2.3v14.4h-2.3zM944 245.6h1v14.4h-1zM994.9 245.6h1.1v14.4h-1.1zM1015 245.6h2.1v14.4h-2.1zM1017.2 245.6h2.3v14.4h-2.3zM1026.8 245.6h2.4v14.4h-2.4zM1047.9 245.6h1.5v14.4h-1.5zM1063.8 245.6h2.3v14.4h-2.3zM1070.1 245.6h2.5v14.4h-2.5zM1077.5 245.6h2v14.4h-2zM859.3 265.4h1.6v14.4h-1.6zM866.4 265.4h2v14.4h-2zM872 265.4h0.8v14.4h-0.8zM875.9 265.4h2v14.4h-2zM877.9 265.4h0.9v14.4h-0.9zM882.3 265.4h2.1v14.4h-2.1zM884.3 265.4h2v14.4h-2zM889 265.4h1.3v14.4h-1.3zM912.9 265.4h1v14.4h-1zM918.1 265.4h1.8v14.4h-1.8zM919.9 265.4h2.1v14.4h-2.1zM921.9 265.4h1.2v14.4h-1.2zM931.7 265.4h1.9v14.4h-1.9zM946.5 265.4h1.3v14.4h-1.3zM952.6 265.4h1.9v14.4h-1.9zM954.5 265.4h2.1v14.4h-2.1zM956.5 265.4h2v14.4h-2zM974.2 265.4h2.3v14.4h-2.3zM1052.4 265.4h1.8v14.4h-1.8zM1067.5 265.4h1.8v14.4h-1.8zM1070.4 265.4h2.3v14.4h-2.3zM1087.9 265.4h1.1v14.4h-1.1zM1117 265.4h2.3v14.4h-2.3zM1128.8 265.4h1.3v14.4h-1.3zM1133.4 265.4h0.8v14.4h-0.8zM858.5 285.3h1.7v14.4h-1.7zM873.2 285.3h1.5v14.4h-1.5zM881.8 285.3h2.1v14.4h-2.1zM887.1 285.3h1.5v14.4h-1.5zM913.2 285.3h1.9v14.4h-1.9zM915.1 285.3h2v14.4h-2zM1044.1 285.3h1.6v14.4h-1.6zM1045.7 285.3h1.6v14.4h-1.6zM1058.1 285.3h1.5v14.4h-1.5zM1070.3 285.3h1.9v14.4h-1.9zM1095.2 285.3h1.9v14.4h-1.9zM1098.7 285.3h0.9v14.4h-0.9zM1114.8 285.3h1.4v14.4h-1.4zM1116.2 285.3h2.2v14.4h-2.2zM1120.1 285.3h1.7v14.4h-1.7zM876.9 305.1h2.1v14.4h-2.1zM887.6 305.1h0.9v14.4h-0.9zM890.3 305.1h1v14.4h-1zM897.8 305.1h1.5v14.4h-1.5zM904.1 305.1h1.2v14.4h-1.2zM920.6 305.1h2.2v14.4h-2.2zM932.5 305.1h2v14.4h-2zM1115.2 305.1h2.2v14.4h-2.2zM1117.5 305.1h1.6v14.4h-1.6zM1142.4 305.1h2.3v14.4h-2.3zM1160.6 305.1h1.9v14.4h-1.9zM861.4 325h0.6v14.4h-0.6zM867 325h1.5v14.4h-1.5zM868.5 325h1.4v14.4h-1.4zM875 325h1.7v14.4h-1.7zM883.6 325h2.5v14.4h-2.5zM907.8 325h2.1v14.4h-2.1zM911.6 325h1v14.4h-1zM912.6 325h2.3v14.4h-2.3zM914.9 325h2.2v14.4h-2.2zM922.3 325h1.8v14.4h-1.8zM929.5 325h1.4v14.4h-1.4zM930.8 325h1.9v14.4h-1.9zM1077.5 325h2.4v14.4h-2.4zM1087.7 325h1.6v14.4h-1.6zM1090.4 325h1.8v14.4h-1.8zM1095.8 325h1.2v14.4h-1.2zM1097 325h2.5v14.4h-2.5zM1112 325h1.6v14.4h-1.6zM860.1 344.9h1v14.4h-1zM887.6 344.9h0.8v14.4h-0.8zM891.4 344.9h1.8v14.4h-1.8zM897.4 344.9h2v14.4h-2zM1053.8 344.9h1.3v14.4h-1.3zM1059 344.9h1.8v14.4h-1.8zM1093.8 344.9h2.4v14.4h-2.4zM1098 344.9h1.2v14.4h-1.2zM1107.3 344.9h1.1v14.4h-1.1zM861.6 364.7h2.3v14.4h-2.3zM865.1 364.7h1.1v14.4h-1.1zM874.9 364.7h0.9v14.4h-0.9zM880.1 364.7h0.9v14.4h-0.9zM882.5 364.7h1.8v14.4h-1.8zM885.9 364.7h1.1v14.4h-1.1zM898.1 364.7h1.3v14.4h-1.3zM900.5 364.7h2.3v14.4h-2.3zM920.1 364.7h2.5v14.4h-2.5zM937.9 364.7h1.6v14.4h-1.6zM1050.3 364.7h0.9v14.4h-0.9zM1052.6 364.7h1.9v14.4h-1.9zM1056.1 364.7h2.3v14.4h-2.3zM1070.3 364.7h1.9v14.4h-1.9zM1076.8 364.7h2.4v14.4h-2.4zM1099.1 364.7h1.3v14.4h-1.3zM1108.6 364.7h0.9v14.4h-0.9zM1110.8 364.7h2.4v14.4h-2.4zM864.6 384.6h2.2v14.4h-2.2zM879.4 384.6h1v14.4h-1zM912.7 384.6h2v14.4h-2zM915.6 384.6h1.8v14.4h-1.8zM928.7 384.6h2.4v14.4h-2.4zM931 384.6h2.5v14.4h-2.5zM935.4 384.6h1.3v14.4h-1.3zM942 384.6h1.7v14.4h-1.7zM950.9 384.6h2.2v14.4h-2.2zM954.7 384.6h2.2v14.4h-2.2zM956.9 384.6h1.2v14.4h-1.2zM958.1 384.6h1.7v14.4h-1.7zM969.9 384.6h2.4v14.4h-2.4zM975.6 384.6h1.1v14.4h-1.1zM1009 384.6h1.9v14.4h-1.9zM1015.5 384.6h1.5v14.4h-1.5zM1017 384.6h1.5v14.4h-1.5zM1024.2 384.6h1v14.4h-1zM1027.7 384.6h1.9v14.4h-1.9zM1065.3 384.6h1.3v14.4h-1.3zM1075.5 384.6h2.2v14.4h-2.2zM1077.7 384.6h2v14.4h-2zM1079.7 384.6h1.2v14.4h-1.2zM1084.2 384.6h1.2v14.4h-1.2zM1106.1 384.6h2.2v14.4h-2.2zM1111.8 384.6h2.2v14.4h-2.2zM1126.7 384.6h2.1v14.4h-2.1zM1129.9 384.6h1.4v14.4h-1.4zM1136.9 384.6h2.3v14.4h-2.3zM1141.3 384.6h1.7v14.4h-1.7zM1147.8 384.6h1.1v14.4h-1.1zM1150 384.6h1.5v14.4h-1.5zM1153.5 384.6h1.2v14.4h-1.2zM1154.7 384.6h1.1v14.4h-1.1zM861.1 404.4h2.4v14.4h-2.4zM875.8 404.4h2.4v14.4h-2.4zM902.5 404.4h1.1v14.4h-1.1zM905.1 404.4h1.8v14.4h-1.8zM932 404.4h1.5v14.4h-1.5zM1083.7 404.4h2.4v14.4h-2.4zM1091.6 404.4h1.4v14.4h-1.4zM1117.5 404.4h0.5v14.4h-0.5zM1118 404.4h1.3v14.4h-1.3zM1122.6 404.4h1.5v14.4h-1.5z"/><path fill="#b0b898" d="M865 27.1h2.5v14.4h-2.5zM884.9 47h1.1v14.4h-1.1zM893.2 47h1.9v14.4h-1.9zM901.5 47h1.1v14.4h-1.1zM902.6 47h2v14.4h-2zM908.3 47h1.7v14.4h-1.7zM916.3 47h1.8v14.4h-1.8zM1013.8 47h2.4v14.4h-2.4zM1029.5 47h1.6v14.4h-1.6zM1042.4 47h2v14.4h-2zM871.4 66.8h1.3v14.4h-1.3zM872.8 66.8h1v14.4h-1zM881.8 66.8h2.4v14.4h-2.4zM898 66.8h2.2v14.4h-2.2zM902.3 66.8h1.2v14.4h-1.2zM906.4 66.8h1.3v14.4h-1.3zM910 66.8h2v14.4h-2zM920.7 66.8h2.1v14.4h-2.1zM922.8 66.8h1.2v14.4h-1.2zM941.4 66.8h0.6v14.4h-0.6zM1089.5 86.7h1.3v14.4h-1.3zM1092 86.7h2v14.4h-2zM878 106.5h1.5v14.4h-1.5zM1023.6 106.5h1.1v14.4h-1.1zM1032.9 106.5h2.3v14.4h-2.3zM1043.6 106.5h1.7v14.4h-1.7zM1052 106.5h0.8v14.4h-0.8zM1052.8 106.5h2v14.4h-2zM1065.2 106.5h2.1v14.4h-2.1zM1075.4 106.5h2v14.4h-2zM883.7 126.4h1.3v14.4h-1.3zM885 126.4h1v14.4h-1zM888.2 126.4h2.2v14.4h-2.2zM892.2 126.4h1v14.4h-1zM1004 126.4h2.3v14.4h-2.3zM1020.8 126.4h2.3v14.4h-2.3zM1063.4 126.4h1.5v14.4h-1.5zM863.5 146.3h1v14.4h-1zM887.9 146.3h1.5v14.4h-1.5zM892.6 146.3h1.4v14.4h-1.4zM901.9 146.3h2v14.4h-2zM936.5 166.1h2.2v14.4h-2.2zM946.6 166.1h1.8v14.4h-1.8zM950.5 166.1h1.7v14.4h-1.7zM952.2 166.1h1.7v14.4h-1.7zM861.3 186h1.4v14.4h-1.4zM871.2 186h2v14.4h-2zM874.4 186h0.8v14.4h-0.8zM875.2 186h2.1v14.4h-2.1zM882.3 186h2.4v14.4h-2.4zM884.7 186h1.9v14.4h-1.9zM890.6 186h1.1v14.4h-1.1zM903.6 186h1.8v14.4h-1.8zM917.3 186h2.1v14.4h-2.1zM919.4 186h2.1v14.4h-2.1zM928.4 186h1.6v14.4h-1.6zM1035.7 186h1v14.4h-1zM1040.9 186h1.6v14.4h-1.6zM1043.6 186h1.7v14.4h-1.7zM1051.4 186h1.3v14.4h-1.3zM1054.4 186h2.4v14.4h-2.4zM1083.8 186h1.8v14.4h-1.8zM870.6 205.8h1v14.4h-1zM909.7 205.8h1.6v14.4h-1.6zM869.7 225.7h1.8v14.4h-1.8zM871.6 225.7h1.3v14.4h-1.3zM880.1 225.7h1.7v14.4h-1.7zM889.6 225.7h1.8v14.4h-1.8zM946.8 225.7h2.3v14.4h-2.3zM991.1 245.6h1.4v14.4h-1.4zM992.4 245.6h2.5v14.4h-2.5zM1007.5 245.6h1.6v14.4h-1.6zM1035 245.6h1.7v14.4h-1.7zM1040.5 245.6h1.6v14.4h-1.6zM1042 245.6h2.4v14.4h-2.4zM1044.5 245.6h0.9v14.4h-0.9zM1066.1 245.6h2.4v14.4h-2.4zM890.3 265.4h0.9v14.4h-0.9zM899.3 265.4h1.8v14.4h-1.8zM916.3 265.4h1.8v14.4h-1.8zM867.7 285.3h1.3v14.4h-1.3zM869 285.3h2.1v14.4h-2.1zM879.9 285.3h1.9v14.4h-1.9zM904.3 285.3h1.8v14.4h-1.8zM920.4 285.3h2.4v14.4h-2.4zM1048.2 285.3h1.3v14.4h-1.3zM1051.3 285.3h2.5v14.4h-2.5zM1055.6 285.3h2.5v14.4h-2.5zM1067.5 285.3h1.2v14.4h-1.2zM1089.5 285.3h1.4v14.4h-1.4zM1118.5 285.3h1.6v14.4h-1.6zM1123.3 285.3h0.2v14.4h-0.2zM879.8 305.1h1.6v14.4h-1.6zM881.3 305.1h2.4v14.4h-2.4zM891.3 305.1h1.7v14.4h-1.7zM893 305.1h2.4v14.4h-2.4zM899.4 305.1h2.4v14.4h-2.4zM924.4 305.1h2.3v14.4h-2.3zM926.7 305.1h0.9v14.4h-0.9zM1086.1 305.1h1.6v14.4h-1.6zM1087.7 305.1h1.3v14.4h-1.3zM1099.8 305.1h1.3v14.4h-1.3zM1121.4 305.1h1.7v14.4h-1.7zM1123.2 305.1h2v14.4h-2zM1137.1 305.1h1.4v14.4h-1.4zM1150.6 305.1h1.9v14.4h-1.9zM1152.5 305.1h2.3v14.4h-2.3zM879.6 325h1.6v14.4h-1.6zM886.1 325h1.6v14.4h-1.6zM925.1 325h1.3v14.4h-1.3zM1036.7 325h1.7v14.4h-1.7zM1048 325h1.3v14.4h-1.3zM1051.4 325h1.6v14.4h-1.6zM1106.2 325h1.2v14.4h-1.2zM1126.2 325h1.7v14.4h-1.7zM1144.2 325h2.3v14.4h-2.3zM867.5 344.9h1.7v14.4h-1.7zM876.9 344.9h1.5v14.4h-1.5zM882.5 344.9h1v14.4h-1zM893.1 344.9h0.9v14.4h-0.9zM918.6 344.9h0.9v14.4h-0.9zM1070.6 344.9h1.3v14.4h-1.3zM1075.5 344.9h1.8v14.4h-1.8zM1080.1 344.9h1.7v14.4h-1.7zM1099.1 344.9h1v14.4h-1zM1101 344.9h1.4v14.4h-1.4zM1102.4 344.9h2.5v14.4h-2.5zM1111.4 344.9h1.5v14.4h-1.5zM1054.5 364.7h1.7v14.4h-1.7zM1062.9 364.7h1.5v14.4h-1.5zM1083.7 364.7h2.2v14.4h-2.2zM1103.4 364.7h1.8v14.4h-1.8zM857 384.6h2.5v14.4h-2.5zM908.5 384.6h1.5v14.4h-1.5zM934.4 384.6h1v14.4h-1zM947.9 384.6h1.7v14.4h-1.7zM963.9 384.6h2.5v14.4h-2.5zM966.3 384.6h1.4v14.4h-1.4zM985.8 384.6h1.4v14.4h-1.4zM987.2 384.6h2.4v14.4h-2.4zM1030.5 384.6h2.3v14.4h-2.3zM1044.8 384.6h1.4v14.4h-1.4zM1066.6 384.6h1.6v14.4h-1.6zM1069.5 384.6h2.2v14.4h-2.2zM1087.8 384.6h1.5v14.4h-1.5zM1090.3 384.6h2.5v14.4h-2.5zM1116.5 384.6h1.2v14.4h-1.2zM1133.2 384.6h2.1v14.4h-2.1zM1143 384.6h1.4v14.4h-1.4zM1144.4 384.6h2.3v14.4h-2.3zM1149 384.6h1v14.4h-1zM859 404.4h2.1v14.4h-2.1zM863.5 404.4h0.9v14.4h-0.9zM864.5 404.4h1.9v14.4h-1.9zM869.6 404.4h1.2v14.4h-1.2zM873.9 404.4h0.9v14.4h-0.9zM880.5 404.4h1v14.4h-1zM886.4 404.4h1.2v14.4h-1.2zM891.9 404.4h2.4v14.4h-2.4zM897.5 404.4h1.3v14.4h-1.3zM1081.6 404.4h2.1v14.4h-2.1zM1100.6 404.4h1v14.4h-1zM1111.8 404.4h1.8v14.4h-1.8z"/><path fill="#a0bcc8" d="M871 27.1h2.2v14.4h-2.2zM881 27.1h1.4v14.4h-1.4zM889.3 27.1h1v14.4h-1zM907.1 27.1h2.2v14.4h-2.2zM914.4 27.1h2.2v14.4h-2.2zM921.1 27.1h2.1v14.4h-2.1zM924.7 27.1h2.4v14.4h-2.4zM931.5 27.1h1.8v14.4h-1.8zM938.5 27.1h2.4v14.4h-2.4zM940.9 27.1h1v14.4h-1zM950.1 27.1h2.3v14.4h-2.3zM956.7 27.1h1.1v14.4h-1.1zM957.9 27.1h2.2v14.4h-2.2zM960.1 27.1h1.8v14.4h-1.8zM969 27.1h1.9v14.4h-1.9zM978.9 27.1h1.4v14.4h-1.4zM980.3 27.1h2.2v14.4h-2.2zM982.6 27.1h1v14.4h-1zM985 27.1h2v14.4h-2zM987 27.1h2v14.4h-2zM991.9 27.1h1.3v14.4h-1.3zM993.2 27.1h0.9v14.4h-0.9zM1002.8 27.1h1.5v14.4h-1.5zM1011.5 27.1h1.3v14.4h-1.3zM1018.6 27.1h2v14.4h-2zM1020.6 27.1h1.5v14.4h-1.5zM1027.5 27.1h1.7v14.4h-1.7zM1029.2 27.1h1.7v14.4h-1.7zM1042.3 27.1h1.7v14.4h-1.7zM1044 27.1h1.4v14.4h-1.4zM1048.5 27.1h1.5v14.4h-1.5zM1065.2 27.1h0.8v14.4h-0.8zM857 47h1.6v14.4h-1.6zM868.9 47h2.4v14.4h-2.4zM871.3 47h1.6v14.4h-1.6zM872.9 47h1.1v14.4h-1.1zM876.5 47h1.3v14.4h-1.3zM889.8 47h2.1v14.4h-2.1zM895.1 47h1.9v14.4h-1.9zM896.9 47h1v14.4h-1zM925.6 47h0.9v14.4h-0.9zM942.5 47h2.5v14.4h-2.5zM947.1 47h0.9v14.4h-0.9zM948 47h1v14.4h-1zM949 47h1.2v14.4h-1.2zM955.6 47h2.5v14.4h-2.5zM966.9 47h1.3v14.4h-1.3zM971.6 47h1.3v14.4h-1.3zM975.3 47h2v14.4h-2zM985.5 47h1.9v14.4h-1.9zM989.5 47h1.4v14.4h-1.4zM996 47h1.3v14.4h-1.3zM1002 47h1.9v14.4h-1.9zM1004 47h1.8v14.4h-1.8zM1027.8 47h1.7v14.4h-1.7zM1045.8 47h2.1v14.4h-2.1zM857 66.8h1.7v14.4h-1.7zM867.5 66.8h2.1v14.4h-2.1zM879.6 66.8h1.4v14.4h-1.4zM903.4 66.8h1.8v14.4h-1.8zM905.3 66.8h1.2v14.4h-1.2zM942 66.8h2.2v14.4h-2.2zM950.5 66.8h1v14.4h-1zM951.5 66.8h1.2v14.4h-1.2zM960 66.8h1.9v14.4h-1.9zM970.5 66.8h1.9v14.4h-1.9zM977.5 66.8h1.7v14.4h-1.7zM979.1 66.8h1.7v14.4h-1.7zM980.8 66.8h1v14.4h-1zM981.9 66.8h1.2v14.4h-1.2zM987.7 66.8h1v14.4h-1zM988.8 66.8h2.2v14.4h-2.2zM990.9 66.8h1.1v14.4h-1.1zM999.4 66.8h0.9v14.4h-0.9zM1002.1 66.8h1.2v14.4h-1.2zM1005.5 66.8h1.2v14.4h-1.2zM1015.5 66.8h1.5v14.4h-1.5zM1020.7 66.8h1.7v14.4h-1.7zM1022.4 66.8h0.9v14.4h-0.9zM1027.4 66.8h1.6v14.4h-1.6zM1029 66.8h1.3v14.4h-1.3zM1032.4 66.8h2.1v14.4h-2.1zM1034.5 66.8h1.5v14.4h-1.5zM1041.5 66.8h1.3v14.4h-1.3zM1042.8 66.8h2.3v14.4h-2.3zM1045.1 66.8h2v14.4h-2zM1050.7 66.8h2.3v14.4h-2.3zM1054.8 66.8h2v14.4h-2zM1064.3 66.8h1.9v14.4h-1.9zM1069.5 66.8h1.3v14.4h-1.3zM1099.4 66.8h2.1v14.4h-2.1zM864.6 86.7h1.8v14.4h-1.8zM874.4 86.7h2.4v14.4h-2.4zM877.8 86.7h1v14.4h-1zM878.8 86.7h2.2v14.4h-2.2zM892.3 86.7h1.5v14.4h-1.5zM898.5 86.7h1v14.4h-1zM904.3 86.7h1.2v14.4h-1.2zM913.5 86.7h1.5v14.4h-1.5zM915.8 86.7h1.4v14.4h-1.4zM917.2 86.7h0.9v14.4h-0.9zM940 86.7h1.4v14.4h-1.4zM948.7 86.7h2.3v14.4h-2.3zM960.3 86.7h2.4v14.4h-2.4zM964.4 86.7h1v14.4h-1zM965.4 86.7h1.8v14.4h-1.8zM972.4 86.7h1.9v14.4h-1.9zM977 86.7h1.1v14.4h-1.1zM983 86.7h0.9v14.4h-0.9zM989.3 86.7h0.9v14.4h-0.9zM996.9 86.7h1.7v14.4h-1.7zM1001.8 86.7h1.5v14.4h-1.5zM1003.3 86.7h1.4v14.4h-1.4zM1007.7 86.7h1.1v14.4h-1.1zM1018.7 86.7h1.4v14.4h-1.4zM1036.2 86.7h1.1v14.4h-1.1zM1038.1 86.7h2.5v14.4h-2.5zM1042.5 86.7h2.3v14.4h-2.3zM1048.4 86.7h0.8v14.4h-0.8zM1050.1 86.7h0.9v14.4h-0.9zM1065.7 86.7h0.9v14.4h-0.9zM1081.4 86.7h2.4v14.4h-2.4zM1088 86.7h1.5v14.4h-1.5zM1090.9 86.7h1.1v14.4h-1.1zM1096.1 86.7h0.9v14.4h-0.9zM888.9 106.5h1.1v14.4h-1.1zM893.2 106.5h1.8v14.4h-1.8zM898 106.5h2v14.4h-2zM900 106.5h1.5v14.4h-1.5zM907.2 106.5h1.9v14.4h-1.9zM910.9 106.5h0.9v14.4h-0.9zM919.6 106.5h2.2v14.4h-2.2zM921.7 106.5h1.4v14.4h-1.4zM935 106.5h1.1v14.4h-1.1zM944.5 106.5h1.9v14.4h-1.9zM949.9 106.5h1.8v14.4h-1.8zM953.7 106.5h0.8v14.4h-0.8zM956.6 106.5h2.1v14.4h-2.1zM958.7 106.5h1v14.4h-1zM962.7 106.5h1v14.4h-1zM966.6 106.5h1.2v14.4h-1.2zM969.2 106.5h1.4v14.4h-1.4zM978.1 106.5h2v14.4h-2zM984.6 106.5h2.5v14.4h-2.5zM987.1 106.5h2v14.4h-2zM992.1 106.5h1.3v14.4h-1.3zM997.5 106.5h2.3v14.4h-2.3zM999.8 106.5h1.4v14.4h-1.4zM1001.2 106.5h1.4v14.4h-1.4zM1002.6 106.5h1.2v14.4h-1.2zM1019.3 106.5h2.3v14.4h-2.3zM1027.3 106.5h1.7v14.4h-1.7zM1036.2 106.5h1v14.4h-1zM1037.1 106.5h1v14.4h-1zM1045.3 106.5h2.3v14.4h-2.3zM1064 106.5h1.2v14.4h-1.2zM1070.4 106.5h1.3v14.4h-1.3zM1073.3 106.5h2.1v14.4h-2.1zM866.5 126.4h2.3v14.4h-2.3zM893.2 126.4h0.9v14.4h-0.9zM896.2 126.4h1.2v14.4h-1.2zM903.6 126.4h1.4v14.4h-1.4zM909.2 126.4h1.9v14.4h-1.9zM911.1 126.4h2.2v14.4h-2.2zM916.1 126.4h2.4v14.4h-2.4zM920.5 126.4h2.1v14.4h-2.1zM924.8 126.4h2.4v14.4h-2.4zM930.6 126.4h1.5v14.4h-1.5zM933.9 126.4h1.2v14.4h-1.2zM938 126.4h2.3v14.4h-2.3zM940.2 126.4h2.2v14.4h-2.2zM943.3 126.4h2v14.4h-2zM945.3 126.4h2.2v14.4h-2.2zM947.5 126.4h1.5v14.4h-1.5zM951.5 126.4h1.9v14.4h-1.9zM953.3 126.4h1.6v14.4h-1.6zM960.2 126.4h2.2v14.4h-2.2zM967.7 126.4h1v14.4h-1zM968.6 126.4h1.2v14.4h-1.2zM996.2 126.4h1.5v14.4h-1.5zM997.7 126.4h0.9v14.4h-0.9zM1000 126.4h1.6v14.4h-1.6zM1001.6 126.4h2.5v14.4h-2.5zM1037.3 126.4h1v14.4h-1zM1038.3 126.4h1.3v14.4h-1.3zM1054.6 126.4h1.6v14.4h-1.6zM1069.9 126.4h1.7v14.4h-1.7zM889.5 146.3h2.2v14.4h-2.2zM914 146.3h1.2v14.4h-1.2zM916.4 146.3h2.1v14.4h-2.1zM929.3 146.3h0.8v14.4h-0.8zM950.2 146.3h1.4v14.4h-1.4zM954.7 146.3h1.7v14.4h-1.7zM961.1 146.3h1v14.4h-1zM962.1 146.3h2.4v14.4h-2.4zM965.4 146.3h1.3v14.4h-1.3zM977.8 146.3h0.9v14.4h-0.9zM1003.4 146.3h2.1v14.4h-2.1zM1006.4 146.3h2.3v14.4h-2.3zM895.4 166.1h0.8v14.4h-0.8zM898.2 166.1h2v14.4h-2zM904.9 166.1h0.1v14.4h-0.1zM906.7 166.1h2v14.4h-2zM911 166.1h2.2v14.4h-2.2zM920 166.1h2.4v14.4h-2.4zM925.7 166.1h2v14.4h-2zM930.1 166.1h1.5v14.4h-1.5zM870.3 186h0.9v14.4h-0.9zM880.2 186h1.2v14.4h-1.2zM899.1 186h0.8v14.4h-0.8zM915.8 186h1.6v14.4h-1.6zM936.3 186h2.1v14.4h-2.1zM939.5 186h1.5v14.4h-1.5zM945.9 186h1.7v14.4h-1.7zM947.6 186h0.9v14.4h-0.9zM957.7 186h1.9v14.4h-1.9zM962.7 186h2.1v14.4h-2.1zM967.9 186h2.5v14.4h-2.5zM970.4 186h1.1v14.4h-1.1zM973 186h1.7v14.4h-1.7zM976.8 186h2.4v14.4h-2.4zM981.3 186h1.9v14.4h-1.9zM984.8 186h1.7v14.4h-1.7zM986.6 186h1.3v14.4h-1.3zM989.6 186h1.2v14.4h-1.2zM993.7 186h2.3v14.4h-2.3zM995.9 186h1.9v14.4h-1.9zM1007.2 186h2.1v14.4h-2.1zM1015.1 186h1.6v14.4h-1.6zM1016.7 186h1.3v14.4h-1.3zM1019 186h1.5v14.4h-1.5zM1024.1 186h0.9v14.4h-0.9zM1027 186h0.9v14.4h-0.9zM1038.4 186h1.3v14.4h-1.3zM1049.4 186h2.1v14.4h-2.1zM1060.2 186h2v14.4h-2zM857 205.8h1.7v14.4h-1.7zM881 205.8h1.3v14.4h-1.3zM906.9 205.8h1.5v14.4h-1.5zM915 205.8h2.4v14.4h-2.4zM931.5 205.8h1.3v14.4h-1.3zM936.9 205.8h1.4v14.4h-1.4zM943.8 205.8h1v14.4h-1zM944.8 205.8h1.3v14.4h-1.3zM960.3 205.8h1.7v14.4h-1.7zM966.7 205.8h1.7v14.4h-1.7zM980 205.8h2.4v14.4h-2.4zM987.3 205.8h2.1v14.4h-2.1zM994 205.8h1.2v14.4h-1.2zM995.2 205.8h2.4v14.4h-2.4zM998.7 205.8h1.5v14.4h-1.5zM1003.1 205.8h1v14.4h-1zM1004.1 205.8h2v14.4h-2zM1006 205.8h1.6v14.4h-1.6zM1007.6 205.8h1.9v14.4h-1.9zM1012.7 205.8h2v14.4h-2zM1017.3 205.8h1.1v14.4h-1.1zM1027 205.8h1.8v14.4h-1.8zM1032.8 205.8h2.1v14.4h-2.1zM1034.9 205.8h2.3v14.4h-2.3zM1038.4 205.8h0.9v14.4h-0.9zM1043.2 205.8h1.7v14.4h-1.7zM1046.7 205.8h1.2v14.4h-1.2zM1048.9 205.8h1.1v14.4h-1.1zM859.3 225.7h1.9v14.4h-1.9zM867.4 225.7h2.4v14.4h-2.4zM875 225.7h2.1v14.4h-2.1zM885.3 225.7h2.4v14.4h-2.4zM893.7 225.7h1.5v14.4h-1.5zM897.1 225.7h1.3v14.4h-1.3zM898.4 225.7h0.9v14.4h-0.9zM899.3 225.7h2.5v14.4h-2.5zM901.7 225.7h0.9v14.4h-0.9zM923.1 225.7h1.1v14.4h-1.1zM949.1 225.7h0.9v14.4h-0.9zM960.4 225.7h1.4v14.4h-1.4zM961.8 225.7h0.9v14.4h-0.9zM971.9 225.7h1.9v14.4h-1.9zM976.4 225.7h2.1v14.4h-2.1zM979.6 225.7h2.5v14.4h-2.5zM982.1 225.7h2.1v14.4h-2.1zM989.7 225.7h2.1v14.4h-2.1zM1002.2 225.7h0.8v14.4h-0.8zM1003 225.7h1.3v14.4h-1.3zM1008.6 225.7h1.7v14.4h-1.7zM1016.9 225.7h2.5v14.4h-2.5zM1044.4 225.7h0.6v14.4h-0.6zM1046.3 225.7h1.1v14.4h-1.1zM1050.8 225.7h1.8v14.4h-1.8zM1054.8 225.7h1.4v14.4h-1.4zM1057.9 225.7h1.6v14.4h-1.6zM1072.3 225.7h0.9v14.4h-0.9zM1080.4 225.7h1.4v14.4h-1.4zM1083.5 225.7h2.4v14.4h-2.4zM1095 225.7h1.3v14.4h-1.3zM1104.8 225.7h2.4v14.4h-2.4zM1134.5 225.7h0.5v14.4h-0.5zM865.8 245.6h2.2v14.4h-2.2zM868 245.6h2.1v14.4h-2.1zM870.1 245.6h1.1v14.4h-1.1zM882.6 245.6h1.4v14.4h-1.4zM899.8 245.6h1.4v14.4h-1.4zM915.5 245.6h1v14.4h-1zM918.6 245.6h1.9v14.4h-1.9zM922.2 245.6h2.3v14.4h-2.3zM926 245.6h2.5v14.4h-2.5zM928.5 245.6h1.9v14.4h-1.9zM945 245.6h0.9v14.4h-0.9zM961.2 245.6h1.7v14.4h-1.7zM963.8 245.6h1.7v14.4h-1.7zM984 245.6h1v14.4h-1zM1019.5 245.6h1.3v14.4h-1.3zM1053.3 245.6h2.4v14.4h-2.4zM1074.4 245.6h2.1v14.4h-2.1zM880 265.4h2.3v14.4h-2.3zM903.3 265.4h1.8v14.4h-1.8zM914 265.4h2.3v14.4h-2.3zM941.6 265.4h1.8v14.4h-1.8zM960.5 265.4h2.3v14.4h-2.3zM966.2 265.4h2.1v14.4h-2.1zM982.1 265.4h1.2v14.4h-1.2zM989.5 265.4h1.4v14.4h-1.4zM993.2 265.4h1.1v14.4h-1.1zM996.7 265.4h2.4v14.4h-2.4zM1006.2 265.4h2.1v14.4h-2.1zM1008.4 265.4h2.2v14.4h-2.2zM1012.4 265.4h2.1v14.4h-2.1zM1014.6 265.4h1.8v14.4h-1.8zM1024.1 265.4h1.9v14.4h-1.9zM1027.2 265.4h1.8v14.4h-1.8zM1032.5 265.4h2v14.4h-2zM1036.7 265.4h2.4v14.4h-2.4zM1039.1 265.4h1.6v14.4h-1.6zM1041.7 265.4h1.1v14.4h-1.1zM1044.6 265.4h1.1v14.4h-1.1zM1045.7 265.4h2.5v14.4h-2.5zM1054.2 265.4h2v14.4h-2zM1062 265.4h1.6v14.4h-1.6zM1072.6 265.4h2v14.4h-2zM1074.7 265.4h2.5v14.4h-2.5zM1080.7 265.4h2.3v14.4h-2.3zM1084.9 265.4h0.8v14.4h-0.8zM1090.8 265.4h2.1v14.4h-2.1zM1096.2 265.4h1.9v14.4h-1.9zM1108.3 265.4h1.6v14.4h-1.6zM865.8 285.3h1.9v14.4h-1.9zM874.6 285.3h2.1v14.4h-2.1zM876.7 285.3h2.4v14.4h-2.4zM893.9 285.3h2.3v14.4h-2.3zM935 285.3h2.3v14.4h-2.3zM937.3 285.3h1.2v14.4h-1.2zM947.3 285.3h1v14.4h-1zM948.4 285.3h2v14.4h-2zM956.3 285.3h2.1v14.4h-2.1zM963.3 285.3h2.5v14.4h-2.5zM969.7 285.3h1.3v14.4h-1.3zM971.1 285.3h1.2v14.4h-1.2zM972.3 285.3h0.9v14.4h-0.9zM975.3 285.3h1.3v14.4h-1.3zM980.8 285.3h1.1v14.4h-1.1zM985.4 285.3h2.2v14.4h-2.2zM991.8 285.3h2v14.4h-2zM995.7 285.3h2.3v14.4h-2.3zM1035.2 285.3h1.1v14.4h-1.1zM1036.3 285.3h1.2v14.4h-1.2zM1040.8 285.3h1.6v14.4h-1.6zM1081.4 285.3h2v14.4h-2zM1083.5 285.3h1.7v14.4h-1.7zM1094.2 285.3h1.1v14.4h-1.1zM1121.8 285.3h1.5v14.4h-1.5zM883.7 305.1h1.6v14.4h-1.6zM912.6 305.1h1.7v14.4h-1.7zM918.8 305.1h1.9v14.4h-1.9zM930.8 305.1h1.8v14.4h-1.8zM935 305.1h1.6v14.4h-1.6zM938.8 305.1h2.4v14.4h-2.4zM947 305.1h1.8v14.4h-1.8zM953.5 305.1h2v14.4h-2zM964.3 305.1h1.4v14.4h-1.4zM977.4 305.1h1.9v14.4h-1.9zM979.4 305.1h1.3v14.4h-1.3zM987.6 305.1h1.1v14.4h-1.1zM996.9 305.1h1.3v14.4h-1.3zM1001.6 305.1h1.7v14.4h-1.7zM1004.3 305.1h2v14.4h-2zM1022.8 305.1h1v14.4h-1zM1027.9 305.1h1.4v14.4h-1.4zM1029.4 305.1h2.1v14.4h-2.1zM1032.7 305.1h2.3v14.4h-2.3zM1040.4 305.1h1.3v14.4h-1.3zM1044.1 305.1h1.5v14.4h-1.5zM1047.3 305.1h1.3v14.4h-1.3zM1051.7 305.1h1.7v14.4h-1.7zM1054.8 305.1h2.3v14.4h-2.3zM1057 305.1h2.5v14.4h-2.5zM1067.4 305.1h2.3v14.4h-2.3zM1069.6 305.1h0.9v14.4h-0.9zM1070.5 305.1h1.1v14.4h-1.1zM1073.3 305.1h1v14.4h-1zM1089 305.1h1.2v14.4h-1.2zM1128.7 305.1h2.4v14.4h-2.4zM1133.5 305.1h1.2v14.4h-1.2zM869.8 325h2.5v14.4h-2.5zM892.1 325h2.2v14.4h-2.2zM919 325h1v14.4h-1zM940.5 325h1.8v14.4h-1.8zM945.9 325h1.9v14.4h-1.9zM947.8 325h0.8v14.4h-0.8zM961.9 325h2.2v14.4h-2.2zM967.7 325h1.5v14.4h-1.5zM969.2 325h2v14.4h-2zM975.3 325h1.2v14.4h-1.2zM978.9 325h2.3v14.4h-2.3zM983.9 325h0.8v14.4h-0.8zM987 325h2.4v14.4h-2.4zM991.9 325h2.1v14.4h-2.1zM994 325h1v14.4h-1zM998.4 325h1.2v14.4h-1.2zM1004.4 325h1.9v14.4h-1.9zM1008.7 325h1.5v14.4h-1.5zM1010.2 325h1v14.4h-1zM1011.2 325h2.1v14.4h-2.1zM1013.2 325h0.8v14.4h-0.8zM1014.1 325h1.7v14.4h-1.7zM1023.4 325h1.3v14.4h-1.3zM1027.2 325h1.3v14.4h-1.3zM1035.6 325h1.1v14.4h-1.1zM1059.8 325h2.1v14.4h-2.1zM1061.9 325h2.4v14.4h-2.4zM1074.6 325h0.8v14.4h-0.8zM1084.3 325h0.9v14.4h-0.9zM1104.9 325h1.4v14.4h-1.4zM1107.4 325h0.8v14.4h-0.8zM1108.3 325h2.5v14.4h-2.5zM1140.1 325h2.3v14.4h-2.3zM885.8 344.9h1.8v14.4h-1.8zM907.2 344.9h1.5v14.4h-1.5zM916.7 344.9h1v14.4h-1zM926.4 344.9h1.9v14.4h-1.9zM931.7 344.9h2.2v14.4h-2.2zM939.7 344.9h1.5v14.4h-1.5zM943.4 344.9h1.3v14.4h-1.3zM944.7 344.9h1.3v14.4h-1.3zM953.5 344.9h1.9v14.4h-1.9zM959.7 344.9h2v14.4h-2zM967.1 344.9h2.3v14.4h-2.3zM973.8 344.9h2.4v14.4h-2.4zM976.2 344.9h2.2v14.4h-2.2zM978.4 344.9h1.9v14.4h-1.9zM982.5 344.9h1.3v14.4h-1.3zM987.3 344.9h2.3v14.4h-2.3zM995.5 344.9h1.5v14.4h-1.5zM1005.2 344.9h1.1v14.4h-1.1zM1008.8 344.9h1.5v14.4h-1.5zM1014.2 344.9h0.9v14.4h-0.9zM1016.3 344.9h1.1v14.4h-1.1zM1018.6 344.9h1.1v14.4h-1.1zM1020.8 344.9h1.8v14.4h-1.8zM1026.6 344.9h2.1v14.4h-2.1zM1047.1 344.9h0.9v14.4h-0.9zM1048.1 344.9h1v14.4h-1zM1063.5 344.9h2.3v14.4h-2.3zM1065.8 344.9h1.4v14.4h-1.4zM1074 344.9h1.5v14.4h-1.5zM1087.2 344.9h1.3v14.4h-1.3zM1091.9 344.9h0.8v14.4h-0.8zM1100.1 344.9h0.9v14.4h-0.9zM878.2 364.7h1.9v14.4h-1.9zM902.8 364.7h1.2v14.4h-1.2zM909.4 364.7h0.8v14.4h-0.8zM915.3 364.7h0.9v14.4h-0.9zM917 364.7h2.1v14.4h-2.1zM922.5 364.7h1.6v14.4h-1.6zM926.5 364.7h1.7v14.4h-1.7zM942.4 364.7h1.9v14.4h-1.9zM945.4 364.7h2.4v14.4h-2.4zM954.4 364.7h2v14.4h-2zM962.8 364.7h1.6v14.4h-1.6zM964.3 364.7h2.3v14.4h-2.3zM966.7 364.7h1.1v14.4h-1.1zM970.4 364.7h2v14.4h-2zM981.3 364.7h1.1v14.4h-1.1zM982.3 364.7h1.9v14.4h-1.9zM989.9 364.7h0.1v14.4h-0.1zM990 364.7h2.4v14.4h-2.4zM994 364.7h1.1v14.4h-1.1zM998.1 364.7h1.3v14.4h-1.3zM999.4 364.7h1.1v14.4h-1.1zM1008.7 364.7h2.1v14.4h-2.1zM1010.8 364.7h2.4v14.4h-2.4zM1018.6 364.7h1.2v14.4h-1.2zM1019.8 364.7h2.3v14.4h-2.3zM1024.4 364.7h1v14.4h-1zM1025.4 364.7h2v14.4h-2zM1032.2 364.7h1.6v14.4h-1.6zM1039.3 364.7h0.7v14.4h-0.7zM1044 364.7h1v14.4h-1zM1073.8 364.7h2.2v14.4h-2.2zM1081.9 364.7h1.8v14.4h-1.8zM1093.6 364.7h0.9v14.4h-0.9zM1107.6 364.7h1v14.4h-1zM860.3 384.6h2v14.4h-2zM869.3 384.6h1.2v14.4h-1.2zM890.9 384.6h1.3v14.4h-1.3zM898.2 384.6h1.1v14.4h-1.1zM904.2 384.6h1.2v14.4h-1.2zM905.3 384.6h0.9v14.4h-0.9zM911.2 384.6h1.5v14.4h-1.5zM914.8 384.6h0.9v14.4h-0.9zM924 384.6h1.3v14.4h-1.3zM933.5 384.6h0.9v14.4h-0.9zM936.7 384.6h1.2v14.4h-1.2zM953.1 384.6h1.6v14.4h-1.6zM980.6 384.6h1v14.4h-1zM990 384.6h0.9v14.4h-0.9zM992.4 384.6h1.5v14.4h-1.5zM1018.5 384.6h2.2v14.4h-2.2zM1046.2 384.6h1.9v14.4h-1.9zM1055.8 384.6h1.5v14.4h-1.5zM1063.3 384.6h1.9v14.4h-1.9zM1073.6 384.6h1v14.4h-1zM1093.7 384.6h1.8v14.4h-1.8zM1097.3 384.6h2.1v14.4h-2.1zM1115.3 384.6h1.3v14.4h-1.3zM1122.1 384.6h2.4v14.4h-2.4zM1128.8 384.6h1.1v14.4h-1.1zM868.4 404.4h1.2v14.4h-1.2zM874.8 404.4h0.9v14.4h-0.9zM878.1 404.4h2.4v14.4h-2.4zM881.6 404.4h2v14.4h-2zM898.9 404.4h1.7v14.4h-1.7zM907.9 404.4h1.2v14.4h-1.2zM919.6 404.4h2.1v14.4h-2.1zM921.8 404.4h2v14.4h-2zM923.7 404.4h2.5v14.4h-2.5zM938.3 404.4h1.4v14.4h-1.4zM941.9 404.4h1.3v14.4h-1.3zM943.2 404.4h1v14.4h-1zM944.2 404.4h2.3v14.4h-2.3zM946.5 404.4h0.8v14.4h-0.8zM960.2 404.4h1.3v14.4h-1.3zM961.5 404.4h1.9v14.4h-1.9zM969.3 404.4h1.2v14.4h-1.2zM971.8 404.4h1.1v14.4h-1.1zM972.9 404.4h1.8v14.4h-1.8zM974.7 404.4h1.3v14.4h-1.3zM977.7 404.4h1.8v14.4h-1.8zM982.2 404.4h2.2v14.4h-2.2zM992.5 404.4h1.5v14.4h-1.5zM994 404.4h1.6v14.4h-1.6zM1003.1 404.4h1.7v14.4h-1.7zM1006.1 404.4h1.8v14.4h-1.8zM1007.9 404.4h1.9v14.4h-1.9zM1009.8 404.4h1.8v14.4h-1.8zM1012.6 404.4h2.2v14.4h-2.2zM1015.9 404.4h0.8v14.4h-0.8zM1020.8 404.4h2.1v14.4h-2.1zM1027.5 404.4h2.4v14.4h-2.4zM1031 404.4h1v14.4h-1zM1035.7 404.4h1.4v14.4h-1.4zM1049.8 404.4h2.2v14.4h-2.2zM1062.2 404.4h2.4v14.4h-2.4zM1069.7 404.4h1v14.4h-1zM1072.5 404.4h1.5v14.4h-1.5zM1074.1 404.4h2v14.4h-2zM1077.6 404.4h1.2v14.4h-1.2zM1078.9 404.4h1.1v14.4h-1.1zM1097.9 404.4h1.2v14.4h-1.2z"/><path fill="#c8a078" d="M878.7 27.1h2.3v14.4h-2.3zM1050 27.1h1.3v14.4h-1.3zM1053.8 27.1h1.5v14.4h-1.5zM888.5 47h1.3v14.4h-1.3zM1021 47h2.4v14.4h-2.4zM860.7 66.8h2v14.4h-2zM881 66.8h0.8v14.4h-0.8zM895.8 66.8h2.1v14.4h-2.1zM1106.2 66.8h1.7v14.4h-1.7zM1108 66.8h1.7v14.4h-1.7zM1109.6 66.8h2v14.4h-2zM1111.7 66.8h1.5v14.4h-1.5zM1114.7 66.8h1.5v14.4h-1.5zM1117.9 66.8h1.1v14.4h-1.1zM1121.1 66.8h0.8v14.4h-0.8zM859.7 86.7h2v14.4h-2zM861.7 86.7h0.3v14.4h-0.3zM870.2 106.5h2.3v14.4h-2.3zM876.7 106.5h0.3v14.4h-0.3zM883 106.5h1.5v14.4h-1.5zM1011 106.5h1.5v14.4h-1.5zM1016.3 106.5h1.9v14.4h-1.9zM860.6 126.4h2.4v14.4h-2.4zM1025.1 126.4h1.9v14.4h-1.9zM1027 126.4h2v14.4h-2zM1033.1 126.4h2.5v14.4h-2.5zM1056.2 126.4h2.4v14.4h-2.4zM898.5 146.3h1.2v14.4h-1.2zM858.1 166.1h2v14.4h-2zM860.1 166.1h1.5v14.4h-1.5zM881.1 166.1h1v14.4h-1zM883 166.1h2.2v14.4h-2.2zM888.7 166.1h1.8v14.4h-1.8zM891.7 166.1h1.3v14.4h-1.3zM913.2 166.1h1.1v14.4h-1.1zM954.9 166.1h0.6v14.4h-0.6zM905.4 186h2.3v14.4h-2.3zM911.8 186h1.7v14.4h-1.7zM1028 186h2.2v14.4h-2.2zM1039.8 186h1.2v14.4h-1.2zM1047.4 186h1.1v14.4h-1.1zM1062.2 186h1.5v14.4h-1.5zM1068.1 186h1.1v14.4h-1.1zM900.9 205.8h2.5v14.4h-2.5zM905.7 205.8h1.2v14.4h-1.2zM912.7 205.8h2.3v14.4h-2.3zM1053.8 205.8h1.6v14.4h-1.6zM1055.4 205.8h1.2v14.4h-1.2zM1060 205.8h1.8v14.4h-1.8zM1064.3 205.8h1.2v14.4h-1.2zM1065.5 205.8h1.3v14.4h-1.3zM1068.6 205.8h1.2v14.4h-1.2zM1069.8 205.8h2.2v14.4h-2.2zM1073.3 205.8h1.6v14.4h-1.6zM872.8 225.7h2.1v14.4h-2.1zM895.1 225.7h2v14.4h-2zM914.3 225.7h0.9v14.4h-0.9zM939.4 225.7h1.7v14.4h-1.7zM1139.8 225.7h0.9v14.4h-0.9zM988.7 245.6h2.4v14.4h-2.4zM1068.4 245.6h1.7v14.4h-1.7zM864.4 265.4h1.1v14.4h-1.1zM865.6 265.4h0.9v14.4h-0.9zM868.4 265.4h1.8v14.4h-1.8zM874.4 265.4h1.5v14.4h-1.5zM878.7 265.4h1.3v14.4h-1.3zM888 265.4h1v14.4h-1zM901.1 265.4h0.9v14.4h-0.9zM1120.5 265.4h1.1v14.4h-1.1zM1121.6 265.4h2.5v14.4h-2.5zM1127.2 265.4h1.6v14.4h-1.6zM896.2 285.3h2.4v14.4h-2.4zM1053.8 285.3h1.8v14.4h-1.8zM1059.7 285.3h2.3v14.4h-2.3zM1087.6 285.3h1.9v14.4h-1.9zM1092.4 285.3h1.7v14.4h-1.7zM1106.1 285.3h2.5v14.4h-2.5zM896.3 305.1h1.5v14.4h-1.5zM905.3 305.1h1.9v14.4h-1.9zM1144.6 305.1h1.5v14.4h-1.5zM1149.2 305.1h1.4v14.4h-1.4zM1158.8 305.1h1.7v14.4h-1.7zM857 325h2.5v14.4h-2.5zM1039.9 325h1.9v14.4h-1.9zM1069.7 325h1.4v14.4h-1.4zM1120.5 325h2.3v14.4h-2.3zM1132.8 325h1.7v14.4h-1.7zM1139.2 325h0.9v14.4h-0.9zM875.2 344.9h1.7v14.4h-1.7zM878.4 344.9h2.3v14.4h-2.3zM883.5 344.9h2.3v14.4h-2.3zM908.7 344.9h2.1v14.4h-2.1zM1096.2 344.9h1.7v14.4h-1.7zM1047.1 364.7h0.9v14.4h-0.9zM1066.3 364.7h1.9v14.4h-1.9zM1091.6 364.7h2v14.4h-2zM1096.7 364.7h2.4v14.4h-2.4zM1105.2 364.7h2.4v14.4h-2.4zM878.2 384.6h1.2v14.4h-1.2zM906.3 384.6h2.2v14.4h-2.2zM909.9 384.6h1.3v14.4h-1.3zM944.9 384.6h1.8v14.4h-1.8zM961.1 384.6h1.8v14.4h-1.8zM1010.9 384.6h2.3v14.4h-2.3zM1013.2 384.6h2.3v14.4h-2.3zM1029.6 384.6h1v14.4h-1zM1042.3 384.6h2.4v14.4h-2.4zM1085.4 384.6h1v14.4h-1zM1156.8 384.6h1.4v14.4h-1.4zM883.6 404.4h1.8v14.4h-1.8zM895.9 404.4h1.7v14.4h-1.7zM913.4 404.4h1.3v14.4h-1.3zM917.8 404.4h1.8v14.4h-1.8zM1080 404.4h1.6v14.4h-1.6zM1087.9 404.4h1.3v14.4h-1.3zM1119.3 404.4h2.1v14.4h-2.1zM1128.9 404.4h1.1v14.4h-1.1z"/><path fill="#88b0a0" d="M882.4 27.1h1.3v14.4h-1.3zM887.7 27.1h1.5v14.4h-1.5zM890.2 27.1h1.6v14.4h-1.6zM891.9 27.1h1.2v14.4h-1.2zM893.1 27.1h1.7v14.4h-1.7zM894.8 27.1h2.3v14.4h-2.3zM904.7 27.1h0.3v14.4h-0.3zM1036.9 27.1h2.4v14.4h-2.4zM1041.4 27.1h0.9v14.4h-0.9zM1045.4 27.1h1.2v14.4h-1.2zM1046.7 27.1h1.8v14.4h-1.8zM1063.1 27.1h2.1v14.4h-2.1zM860.5 47h2.5v14.4h-2.5zM863 47h1.1v14.4h-1.1zM865.3 47h2.4v14.4h-2.4zM877.8 47h2v14.4h-2zM881.6 47h2.2v14.4h-2.2zM886 47h1.3v14.4h-1.3zM897.9 47h2.2v14.4h-2.2zM906.5 47h1.8v14.4h-1.8zM913.5 47h1.5v14.4h-1.5zM915 47h1.3v14.4h-1.3zM926.5 47h2v14.4h-2zM928.4 47h1v14.4h-1zM1018.6 47h2.5v14.4h-2.5zM1032.2 47h2.3v14.4h-2.3zM1034.5 47h0.9v14.4h-0.9zM1035.4 47h1.1v14.4h-1.1zM1040.2 47h2.2v14.4h-2.2zM1047.9 47h0.4v14.4h-0.4zM887 66.8h1.4v14.4h-1.4zM894.3 66.8h1.6v14.4h-1.6zM900.2 66.8h2.1v14.4h-2.1zM907.7 66.8h2.3v14.4h-2.3zM918.2 66.8h2.4v14.4h-2.4zM923.9 66.8h2.2v14.4h-2.2zM926.2 66.8h2.2v14.4h-2.2zM932.9 66.8h2.1v14.4h-2.1zM936.2 66.8h2.3v14.4h-2.3zM938.5 66.8h1.3v14.4h-1.3zM939.8 66.8h1.6v14.4h-1.6zM1053 66.8h1.8v14.4h-1.8zM1056.8 66.8h2.5v14.4h-2.5zM1059.2 66.8h1.4v14.4h-1.4zM1062.3 66.8h2v14.4h-2zM1076 66.8h1.8v14.4h-1.8zM1083.4 66.8h2v14.4h-2zM1087.6 66.8h1v14.4h-1zM1090.3 66.8h2.2v14.4h-2.2zM1092.5 66.8h1.4v14.4h-1.4zM1098.4 66.8h1v14.4h-1zM1104.3 66.8h0.7v14.4h-0.7zM869 86.7h1.6v14.4h-1.6zM881 86.7h1.2v14.4h-1.2zM884.9 86.7h1v14.4h-1zM887.8 86.7h1.6v14.4h-1.6zM890.4 86.7h1.9v14.4h-1.9zM893.9 86.7h1.2v14.4h-1.2zM896.3 86.7h2.2v14.4h-2.2zM901.4 86.7h2v14.4h-2zM903.4 86.7h0.9v14.4h-0.9zM907.7 86.7h0.9v14.4h-0.9zM923.6 86.7h1.6v14.4h-1.6zM939.1 86.7h0.9v14.4h-0.9zM1011.3 86.7h1.6v14.4h-1.6zM1020.9 86.7h2.5v14.4h-2.5zM1030.1 86.7h2.1v14.4h-2.1zM1047.3 86.7h1.1v14.4h-1.1zM1049.2 86.7h0.9v14.4h-0.9zM1057.8 86.7h1.1v14.4h-1.1zM1061.3 86.7h1v14.4h-1zM1062.2 86.7h2v14.4h-2zM1071.4 86.7h1.7v14.4h-1.7zM1073 86.7h1.5v14.4h-1.5zM1078 86.7h1.5v14.4h-1.5zM1079.5 86.7h1.9v14.4h-1.9zM1086.8 86.7h1.2v14.4h-1.2zM1010 106.5h1v14.4h-1zM1012.4 106.5h1.5v14.4h-1.5zM1014 106.5h1.4v14.4h-1.4zM1015.4 106.5h1v14.4h-1zM1050.1 106.5h1.9v14.4h-1.9zM1071.7 106.5h1.6v14.4h-1.6zM857 126.4h1.3v14.4h-1.3zM858.3 126.4h2.3v14.4h-2.3zM863 126.4h2.4v14.4h-2.4zM865.3 126.4h1.1v14.4h-1.1zM868.8 126.4h2.4v14.4h-2.4zM871.2 126.4h1.8v14.4h-1.8zM873 126.4h2.4v14.4h-2.4zM875.4 126.4h1.7v14.4h-1.7zM879.4 126.4h2.1v14.4h-2.1zM890.4 126.4h1.8v14.4h-1.8zM894.1 126.4h2.1v14.4h-2.1zM898.5 126.4h2.1v14.4h-2.1zM900.6 126.4h1.2v14.4h-1.2zM906.8 126.4h2.4v14.4h-2.4zM1010.6 126.4h1.5v14.4h-1.5zM1012.2 126.4h2v14.4h-2zM1016.1 126.4h1.3v14.4h-1.3zM1023 126.4h2v14.4h-2zM1029.8 126.4h1.3v14.4h-1.3zM1035.6 126.4h1.7v14.4h-1.7zM1039.6 126.4h0.8v14.4h-0.8zM1052.9 126.4h1.8v14.4h-1.8zM1059.8 126.4h1.7v14.4h-1.7zM1061.5 126.4h1.8v14.4h-1.8zM1064.8 126.4h2v14.4h-2zM876.1 146.3h1.7v14.4h-1.7zM882 146.3h2.1v14.4h-2.1zM886.7 146.3h1.2v14.4h-1.2zM891.7 146.3h1v14.4h-1zM894.1 146.3h1.9v14.4h-1.9zM909.7 146.3h0.3v14.4h-0.3zM935 146.3h2v14.4h-2zM938.5 146.3h2.1v14.4h-2.1zM941.7 146.3h1.4v14.4h-1.4zM944.3 146.3h1.8v14.4h-1.8zM947.8 146.3h2.4v14.4h-2.4zM964.5 146.3h0.9v14.4h-0.9zM984.1 146.3h2.1v14.4h-2.1zM990.8 146.3h2.4v14.4h-2.4zM993.1 146.3h2.4v14.4h-2.4zM908.6 166.1h2.4v14.4h-2.4zM918.1 166.1h1.9v14.4h-1.9zM931.6 166.1h2.4v14.4h-2.4zM940.2 166.1h0.9v14.4h-0.9zM941 166.1h2.2v14.4h-2.2zM943.2 166.1h1.4v14.4h-1.4zM944.6 166.1h2v14.4h-2zM857 186h1.2v14.4h-1.2zM864.1 186h2.2v14.4h-2.2zM866.3 186h1.7v14.4h-1.7zM869.4 186h0.9v14.4h-0.9zM873.2 186h1.2v14.4h-1.2zM877.3 186h1.1v14.4h-1.1zM891.7 186h1.5v14.4h-1.5zM895.7 186h0.9v14.4h-0.9zM907.7 186h2.5v14.4h-2.5zM921.6 186h2.1v14.4h-2.1zM925.3 186h2.1v14.4h-2.1zM927.5 186h0.9v14.4h-0.9zM1032.1 186h1.8v14.4h-1.8zM1033.9 186h1.9v14.4h-1.9zM1065.2 186h1.4v14.4h-1.4zM1069.2 186h1.3v14.4h-1.3zM1070.5 186h2.3v14.4h-2.3zM1072.8 186h2v14.4h-2zM1074.8 186h1.5v14.4h-1.5zM1078.2 186h1.9v14.4h-1.9zM1081.6 186h2.3v14.4h-2.3zM858.7 205.8h2v14.4h-2zM862.9 205.8h1.9v14.4h-1.9zM875 205.8h2.4v14.4h-2.4zM877.3 205.8h1.7v14.4h-1.7zM879 205.8h1.9v14.4h-1.9zM882.2 205.8h1.2v14.4h-1.2zM885.5 205.8h1.5v14.4h-1.5zM888.5 205.8h1.4v14.4h-1.4zM895.2 205.8h2.4v14.4h-2.4zM903.4 205.8h1.2v14.4h-1.2zM911.3 205.8h1.5v14.4h-1.5zM922.4 205.8h1.4v14.4h-1.4zM866.4 225.7h1v14.4h-1zM877.1 225.7h1.2v14.4h-1.2zM891.3 225.7h1.1v14.4h-1.1zM902.7 225.7h1.3v14.4h-1.3zM917.5 225.7h2v14.4h-2zM927.6 225.7h1.8v14.4h-1.8zM933.3 225.7h2v14.4h-2zM935.2 225.7h2v14.4h-2zM938 225.7h1.4v14.4h-1.4zM1056.2 225.7h1.7v14.4h-1.7zM1061.4 225.7h2.2v14.4h-2.2zM1063.7 225.7h0.9v14.4h-0.9zM1064.6 225.7h1.3v14.4h-1.3zM1070.9 225.7h1.4v14.4h-1.4zM1077.2 225.7h1.6v14.4h-1.6zM1081.8 225.7h1.7v14.4h-1.7zM1100.1 225.7h2.2v14.4h-2.2zM1102.3 225.7h2.5v14.4h-2.5zM1107.2 225.7h1.8v14.4h-1.8zM1109 225.7h2.3v14.4h-2.3zM1111.3 225.7h2v14.4h-2zM1113.3 225.7h1.3v14.4h-1.3zM1119.1 225.7h2v14.4h-2zM1125.1 225.7h1.2v14.4h-1.2zM1129.6 225.7h1.6v14.4h-1.6zM1131.2 225.7h2.3v14.4h-2.3zM859.1 245.6h1.5v14.4h-1.5zM860.6 245.6h1.8v14.4h-1.8zM871.2 245.6h1.5v14.4h-1.5zM884 245.6h1v14.4h-1zM885.1 245.6h1v14.4h-1zM893.7 245.6h1.3v14.4h-1.3zM903.2 245.6h1.9v14.4h-1.9zM908.7 245.6h1.7v14.4h-1.7zM910.3 245.6h1v14.4h-1zM914.2 245.6h1.3v14.4h-1.3zM920.4 245.6h1.7v14.4h-1.7zM932.8 245.6h1.8v14.4h-1.8zM934.5 245.6h1.9v14.4h-1.9zM936.4 245.6h1.5v14.4h-1.5zM937.9 245.6h2.2v14.4h-2.2zM940.1 245.6h1.7v14.4h-1.7zM941.8 245.6h2.2v14.4h-2.2zM986.4 245.6h2.3v14.4h-2.3zM998.5 245.6h1.4v14.4h-1.4zM1003.8 245.6h2v14.4h-2zM1005.7 245.6h1.8v14.4h-1.8zM1014 245.6h1.1v14.4h-1.1zM1029.2 245.6h1.6v14.4h-1.6zM1033.3 245.6h1.6v14.4h-1.6zM1036.6 245.6h2v14.4h-2zM1050.6 245.6h1.1v14.4h-1.1zM1051.7 245.6h1.6v14.4h-1.6zM1061.7 245.6h2.1v14.4h-2.1zM895.2 265.4h1.9v14.4h-1.9zM897.1 265.4h2.2v14.4h-2.2zM907.4 265.4h1.6v14.4h-1.6zM933.5 265.4h1.5v14.4h-1.5zM940.7 265.4h1v14.4h-1zM943.5 265.4h1v14.4h-1zM958.5 265.4h1.9v14.4h-1.9zM972.5 265.4h1.7v14.4h-1.7zM976.4 265.4h2.4v14.4h-2.4zM1051.2 265.4h1.2v14.4h-1.2zM1056.2 265.4h1.9v14.4h-1.9zM1058.1 265.4h1.1v14.4h-1.1zM1069.3 265.4h1.1v14.4h-1.1zM1077.1 265.4h1.1v14.4h-1.1zM1085.7 265.4h2.2v14.4h-2.2zM1092.9 265.4h2v14.4h-2zM1094.9 265.4h1.3v14.4h-1.3zM1099.6 265.4h1.4v14.4h-1.4zM1101.9 265.4h2.3v14.4h-2.3zM1107.4 265.4h0.9v14.4h-0.9zM879.1 285.3h0.8v14.4h-0.8zM885.6 285.3h1.6v14.4h-1.6zM892 285.3h1.9v14.4h-1.9zM898.6 285.3h1.1v14.4h-1.1zM899.7 285.3h1.4v14.4h-1.4zM906.1 285.3h2.2v14.4h-2.2zM909.1 285.3h1.7v14.4h-1.7zM928 285.3h1.4v14.4h-1.4zM1042.3 285.3h1.7v14.4h-1.7zM1047.3 285.3h0.9v14.4h-0.9zM1080 285.3h1.5v14.4h-1.5zM1101.7 285.3h2v14.4h-2zM1108.6 285.3h1.7v14.4h-1.7zM1113.7 285.3h1.1v14.4h-1.1zM869.9 305.1h2.2v14.4h-2.2zM872.1 305.1h2.5v14.4h-2.5zM909.5 305.1h1.9v14.4h-1.9zM916.5 305.1h1.3v14.4h-1.3zM934.5 305.1h0.5v14.4h-0.5zM1093.3 305.1h2.4v14.4h-2.4zM1095.7 305.1h1.1v14.4h-1.1zM1096.8 305.1h1v14.4h-1zM1105.6 305.1h1.6v14.4h-1.6zM1110.8 305.1h1.3v14.4h-1.3zM1112.1 305.1h2.3v14.4h-2.3zM1131.2 305.1h2.3v14.4h-2.3zM1134.6 305.1h2.5v14.4h-2.5zM1138.4 305.1h2.4v14.4h-2.4zM878.3 325h1.3v14.4h-1.3zM894.2 325h0.9v14.4h-0.9zM899.8 325h1.8v14.4h-1.8zM901.6 325h1.6v14.4h-1.6zM903.2 325h2.3v14.4h-2.3zM909.9 325h0.9v14.4h-0.9zM920 325h1.2v14.4h-1.2zM924.1 325h1v14.4h-1zM932.7 325h1.6v14.4h-1.6zM1043.7 325h1.9v14.4h-1.9zM1045.6 325h1.4v14.4h-1.4zM1047.1 325h0.9v14.4h-0.9zM1065.7 325h2.3v14.4h-2.3zM1071.2 325h2v14.4h-2zM1073.2 325h1.4v14.4h-1.4zM1079.9 325h2.3v14.4h-2.3zM1089.3 325h1.1v14.4h-1.1zM1094.2 325h1.6v14.4h-1.6zM1099.5 325h2.2v14.4h-2.2zM1103.8 325h1v14.4h-1zM1110.8 325h1.3v14.4h-1.3zM1118.9 325h1.6v14.4h-1.6zM1122.8 325h2.4v14.4h-2.4zM1125.2 325h1v14.4h-1zM1127.9 325h1.2v14.4h-1.2zM1135.8 325h1.6v14.4h-1.6zM862.1 344.9h2.4v14.4h-2.4zM864.5 344.9h1.1v14.4h-1.1zM865.6 344.9h1.9v14.4h-1.9zM872 344.9h1.2v14.4h-1.2zM912.3 344.9h2.1v14.4h-2.1zM914.4 344.9h1v14.4h-1zM919.5 344.9h1.3v14.4h-1.3zM920.8 344.9h1.4v14.4h-1.4zM922.2 344.9h1v14.4h-1zM924.4 344.9h2v14.4h-2zM1055 344.9h2.4v14.4h-2.4zM1060.8 344.9h0.9v14.4h-0.9zM1061.8 344.9h1.7v14.4h-1.7zM1068.9 344.9h0.8v14.4h-0.8zM1069.7 344.9h0.8v14.4h-0.8zM1083.6 344.9h2v14.4h-2zM1092.7 344.9h1.1v14.4h-1.1zM1108.4 344.9h1.3v14.4h-1.3zM1109.7 344.9h1.7v14.4h-1.7zM858.7 364.7h1.6v14.4h-1.6zM860.3 364.7h1.2v14.4h-1.2zM869.1 364.7h1.8v14.4h-1.8zM871 364.7h2.1v14.4h-2.1zM873.1 364.7h1.9v14.4h-1.9zM895.3 364.7h1.7v14.4h-1.7zM897.1 364.7h1v14.4h-1zM899.4 364.7h1.1v14.4h-1.1zM906.2 364.7h1.6v14.4h-1.6zM907.8 364.7h1.5v14.4h-1.5zM912.1 364.7h2.2v14.4h-2.2zM919.1 364.7h1v14.4h-1zM924.1 364.7h2.4v14.4h-2.4zM929.6 364.7h1.7v14.4h-1.7zM939.5 364.7h0.5v14.4h-0.5zM1042.1 364.7h1.9v14.4h-1.9zM1045 364.7h0.9v14.4h-0.9zM1048 364.7h2.3v14.4h-2.3zM1060.5 364.7h2.3v14.4h-2.3zM1068.2 364.7h2.1v14.4h-2.1zM1072.3 364.7h1.5v14.4h-1.5zM1076 364.7h0.8v14.4h-0.8zM1080.8 364.7h1.1v14.4h-1.1zM1086 364.7h2.3v14.4h-2.3zM1088.3 364.7h1.3v14.4h-1.3zM1089.6 364.7h2v14.4h-2zM1094.6 364.7h1v14.4h-1zM859.5 384.6h0.8v14.4h-0.8zM872.8 384.6h1.7v14.4h-1.7zM876.8 384.6h1.4v14.4h-1.4zM880.4 384.6h2.2v14.4h-2.2zM886.1 384.6h2.5v14.4h-2.5zM889.8 384.6h1v14.4h-1zM895.6 384.6h1.5v14.4h-1.5zM897.1 384.6h1.1v14.4h-1.1zM900.6 384.6h1.1v14.4h-1.1zM920.5 384.6h2.3v14.4h-2.3zM922.8 384.6h1.3v14.4h-1.3zM925.4 384.6h1.4v14.4h-1.4zM938.9 384.6h1.1v14.4h-1.1zM946.7 384.6h1.3v14.4h-1.3zM949.6 384.6h1.3v14.4h-1.3zM959.7 384.6h1.4v14.4h-1.4zM962.9 384.6h1v14.4h-1zM967.7 384.6h1.2v14.4h-1.2zM976.7 384.6h1.8v14.4h-1.8zM981.6 384.6h1.6v14.4h-1.6zM983.2 384.6h1.1v14.4h-1.1zM984.3 384.6h1.5v14.4h-1.5zM989.6 384.6h0.4v14.4h-0.4zM1025.3 384.6h0.9v14.4h-0.9zM1035.9 384.6h1.7v14.4h-1.7zM1048.1 384.6h2v14.4h-2zM1050.1 384.6h1.4v14.4h-1.4zM1057.3 384.6h1.8v14.4h-1.8zM1059.1 384.6h2.3v14.4h-2.3zM1061.4 384.6h1.9v14.4h-1.9zM1071.8 384.6h1.9v14.4h-1.9zM1074.6 384.6h0.9v14.4h-0.9zM1080.9 384.6h2.1v14.4h-2.1zM1086.3 384.6h1.5v14.4h-1.5zM1095.5 384.6h1.8v14.4h-1.8zM1100.9 384.6h1.8v14.4h-1.8zM1109.5 384.6h2.3v14.4h-2.3zM1117.7 384.6h1.1v14.4h-1.1zM1124.5 384.6h2.1v14.4h-2.1zM1131.3 384.6h2v14.4h-2zM1135.3 384.6h1.6v14.4h-1.6zM857 404.4h2v14.4h-2zM866.4 404.4h2v14.4h-2zM873 404.4h1v14.4h-1zM887.6 404.4h2.3v14.4h-2.3zM891.1 404.4h0.9v14.4h-0.9zM894.3 404.4h1.5v14.4h-1.5zM903.6 404.4h1.5v14.4h-1.5zM911.7 404.4h1.8v14.4h-1.8zM928.9 404.4h1.9v14.4h-1.9zM933.5 404.4h1.5v14.4h-1.5zM1096.7 404.4h1.3v14.4h-1.3zM1101.6 404.4h1.3v14.4h-1.3zM1102.9 404.4h1.7v14.4h-1.7zM1104.7 404.4h2.4v14.4h-2.4zM1109.5 404.4h2.3v14.4h-2.3z"/><path fill="#88b0a8" d="M905 27.1h2.1v14.4h-2.1zM909.3 27.1h1.7v14.4h-1.7zM913.3 27.1h1.1v14.4h-1.1zM927 27.1h2.1v14.4h-2.1zM937.6 27.1h0.9v14.4h-0.9zM944.2 27.1h2.4v14.4h-2.4zM961.8 27.1h1.5v14.4h-1.5zM991 27.1h0.9v14.4h-0.9zM1004.3 27.1h1v14.4h-1zM1005.3 27.1h1.4v14.4h-1.4zM935 47h2.1v14.4h-2.1zM944.9 47h2.2v14.4h-2.2zM951.4 47h1.6v14.4h-1.6zM962 47h1.9v14.4h-1.9zM968.3 47h2.2v14.4h-2.2zM970.5 47h1.2v14.4h-1.2zM973 47h2.3v14.4h-2.3zM982.3 47h2.1v14.4h-2.1zM990.9 47h0.9v14.4h-0.9zM992.9 47h1.4v14.4h-1.4zM994.4 47h1.6v14.4h-1.6zM999.6 47h2.4v14.4h-2.4zM1006.8 47h2.3v14.4h-2.3zM1010 47h1.8v14.4h-1.8zM954.3 66.8h2.1v14.4h-2.1zM976 66.8h1.5v14.4h-1.5zM996.9 66.8h1.2v14.4h-1.2zM1023.3 66.8h1v14.4h-1zM1038.1 66.8h1.9v14.4h-1.9zM969.4 86.7h1.9v14.4h-1.9zM986 86.7h1.5v14.4h-1.5zM987.5 86.7h1.8v14.4h-1.8zM998.5 86.7h1.7v14.4h-1.7zM885 106.5h1.7v14.4h-1.7zM890 106.5h1.6v14.4h-1.6zM895.1 106.5h1.1v14.4h-1.1zM901.5 106.5h1.4v14.4h-1.4zM904.5 106.5h0.9v14.4h-0.9zM913 106.5h2.3v14.4h-2.3zM923.1 106.5h2.2v14.4h-2.2zM925.4 106.5h1.1v14.4h-1.1zM933 106.5h1.9v14.4h-1.9zM941.7 106.5h0.9v14.4h-0.9zM951.6 106.5h2.1v14.4h-2.1zM961.3 106.5h1.4v14.4h-1.4zM965.3 106.5h1.3v14.4h-1.3zM967.7 106.5h1.4v14.4h-1.4zM974.5 106.5h0.8v14.4h-0.8zM980.2 106.5h1.6v14.4h-1.6zM1003.8 106.5h2.5v14.4h-2.5zM915 126.4h1.1v14.4h-1.1zM927.2 126.4h1.6v14.4h-1.6zM956.5 126.4h2.1v14.4h-2.1zM958.5 126.4h1.6v14.4h-1.6zM971.2 126.4h1.4v14.4h-1.4zM978.5 126.4h1.4v14.4h-1.4zM981.5 126.4h1.8v14.4h-1.8zM910 146.3h1.1v14.4h-1.1zM930.2 146.3h1.9v14.4h-1.9zM896.2 166.1h2v14.4h-2zM900.3 166.1h2.3v14.4h-2.3zM941 186h2.5v14.4h-2.5zM951.4 186h2.2v14.4h-2.2zM955.3 186h2.4v14.4h-2.4zM998.9 186h2.3v14.4h-2.3zM1017.9 186h1.1v14.4h-1.1zM1020.5 186h1.2v14.4h-1.2zM940 205.8h1.9v14.4h-1.9zM946.1 205.8h1.5v14.4h-1.5zM947.6 205.8h1.3v14.4h-1.3zM964.1 205.8h1.2v14.4h-1.2zM990 205.8h2.2v14.4h-2.2zM1000.2 205.8h1.7v14.4h-1.7zM1014.7 205.8h1.6v14.4h-1.6zM1023.5 205.8h1.2v14.4h-1.2zM1024.7 205.8h1.1v14.4h-1.1zM1028.7 205.8h1.9v14.4h-1.9zM1030.7 205.8h2.2v14.4h-2.2zM950 225.7h2.2v14.4h-2.2zM952.2 225.7h1.3v14.4h-1.3zM965.7 225.7h2.5v14.4h-2.5zM969.4 225.7h1.5v14.4h-1.5zM973.8 225.7h1.7v14.4h-1.7zM975.6 225.7h0.8v14.4h-0.8zM978.5 225.7h1.2v14.4h-1.2zM1010.3 225.7h1.8v14.4h-1.8zM948 245.6h2.3v14.4h-2.3zM963 245.6h0.8v14.4h-0.8zM967.5 245.6h2.1v14.4h-2.1zM969.6 245.6h2.1v14.4h-2.1zM975 245.6h2.2v14.4h-2.2zM988.2 265.4h1.3v14.4h-1.3zM1017.3 265.4h1.4v14.4h-1.4zM1018.7 265.4h1.4v14.4h-1.4zM1022.5 265.4h1.6v14.4h-1.6zM1048.2 265.4h1.8v14.4h-1.8zM939.9 285.3h2v14.4h-2zM945.9 285.3h1.4v14.4h-1.4zM965.8 285.3h2.3v14.4h-2.3zM976.6 285.3h1.6v14.4h-1.6zM998 285.3h1.9v14.4h-1.9zM944.8 305.1h2.2v14.4h-2.2zM950.4 305.1h0.9v14.4h-0.9zM975.2 305.1h2.3v14.4h-2.3zM980.6 305.1h0.9v14.4h-0.9zM981.5 305.1h1.8v14.4h-1.8zM989.7 305.1h1.7v14.4h-1.7zM991.4 305.1h2.1v14.4h-2.1zM993.5 305.1h2.3v14.4h-2.3zM1006.3 305.1h1.5v14.4h-1.5zM1013.8 305.1h1.8v14.4h-1.8zM1019.1 305.1h2v14.4h-2zM1039.5 305.1h0.9v14.4h-0.9zM1041.7 305.1h0.8v14.4h-0.8zM1053.4 305.1h1.4v14.4h-1.4zM1059.5 305.1h2v14.4h-2zM1062.9 305.1h2.4v14.4h-2.4zM1075.5 305.1h1.9v14.4h-1.9zM1080.9 305.1h1.8v14.4h-1.8zM1082.7 305.1h1.1v14.4h-1.1zM1083.8 305.1h1.2v14.4h-1.2zM936.6 325h2.3v14.4h-2.3zM944.7 325h1.2v14.4h-1.2zM949.4 325h1.5v14.4h-1.5zM951 325h2.3v14.4h-2.3zM958.3 325h1.5v14.4h-1.5zM974.2 325h1v14.4h-1zM999.7 325h1.1v14.4h-1.1zM1006.2 325h2.4v14.4h-2.4zM1017.3 325h1.5v14.4h-1.5zM1020.4 325h1.9v14.4h-1.9zM1028.5 325h1.5v14.4h-1.5zM941.2 344.9h0.8v14.4h-0.8zM991.6 344.9h0.9v14.4h-0.9zM1002.5 344.9h1.2v14.4h-1.2zM1019.7 344.9h1.1v14.4h-1.1zM1022.6 344.9h2.3v14.4h-2.3zM1031.7 344.9h2.5v14.4h-2.5zM1039.5 344.9h1.1v14.4h-1.1zM1040.5 344.9h1v14.4h-1zM1042.5 344.9h0.8v14.4h-0.8zM951.9 364.7h0.9v14.4h-0.9zM985.2 364.7h1.5v14.4h-1.5zM986.8 364.7h0.9v14.4h-0.9zM1004.5 364.7h2.2v14.4h-2.2zM1037.5 364.7h1.8v14.4h-1.8zM993.9 384.6h2.2v14.4h-2.2zM936.1 404.4h2.2v14.4h-2.2zM965.7 404.4h1.2v14.4h-1.2zM976.1 404.4h1.6v14.4h-1.6zM1004.8 404.4h1.3v14.4h-1.3zM1011.6 404.4h1v14.4h-1zM1040.4 404.4h2.5v14.4h-2.5z"/><path fill="#e0e8ee" d="M911 27.1h1.3v14.4h-1.3zM929.1 27.1h2.4v14.4h-2.4zM933.3 27.1h2.4v14.4h-2.4zM941.9 27.1h2.3v14.4h-2.3zM954.6 27.1h2.1v14.4h-2.1zM965.6 27.1h1.5v14.4h-1.5zM989.8 27.1h1.2v14.4h-1.2zM996.1 27.1h1v14.4h-1zM1009.1 27.1h2.4v14.4h-2.4zM1030.9 27.1h2.4v14.4h-2.4zM937.1 47h1.1v14.4h-1.1zM940.8 47h1.7v14.4h-1.7zM953 47h1.7v14.4h-1.7zM960.8 47h1.1v14.4h-1.1zM964.9 47h2v14.4h-2zM978.1 47h1.8v14.4h-1.8zM979.9 47h1.3v14.4h-1.3zM987.4 47h2.1v14.4h-2.1zM998.4 47h1.2v14.4h-1.2zM968 66.8h2.5v14.4h-2.5zM992.1 66.8h1.2v14.4h-1.2zM993.3 66.8h2.4v14.4h-2.4zM1000.3 66.8h1.8v14.4h-1.8zM1006.8 66.8h1.4v14.4h-1.4zM1019.4 66.8h1.4v14.4h-1.4zM1024.3 66.8h1.6v14.4h-1.6zM1025.9 66.8h1.5v14.4h-1.5zM1030.3 66.8h2.1v14.4h-2.1zM1036 66.8h2.1v14.4h-2.1zM941.4 86.7h1.8v14.4h-1.8zM943.2 86.7h1.5v14.4h-1.5zM947.1 86.7h1.6v14.4h-1.6zM951 86.7h2.1v14.4h-2.1zM967.1 86.7h1.3v14.4h-1.3zM971.3 86.7h1.1v14.4h-1.1zM974.3 86.7h1.2v14.4h-1.2zM980.2 86.7h1.8v14.4h-1.8zM982 86.7h0.9v14.4h-0.9zM994.7 86.7h2.1v14.4h-2.1zM1005.5 86.7h2.2v14.4h-2.2zM947.4 106.5h2.5v14.4h-2.5zM954.6 106.5h2v14.4h-2zM995.2 106.5h2.3v14.4h-2.3zM922.6 126.4h1.3v14.4h-1.3zM924 126.4h0.9v14.4h-0.9zM962.4 126.4h2.3v14.4h-2.3zM964.7 126.4h1.4v14.4h-1.4zM969.8 126.4h1.4v14.4h-1.4zM974.3 126.4h1.8v14.4h-1.8zM979.9 126.4h1.6v14.4h-1.6zM983.3 126.4h2.2v14.4h-2.2zM987.7 126.4h1.4v14.4h-1.4zM989.1 126.4h2.3v14.4h-2.3zM998.6 126.4h1.2v14.4h-1.2zM920.8 146.3h1.5v14.4h-1.5zM925.2 146.3h1.7v14.4h-1.7zM926.9 146.3h2.5v14.4h-2.5zM949.7 186h1.7v14.4h-1.7zM953.6 186h1.6v14.4h-1.6zM959.5 186h1.2v14.4h-1.2zM974.7 186h2.1v14.4h-2.1zM979.2 186h2.1v14.4h-2.1zM932.8 205.8h1.7v14.4h-1.7zM942.7 205.8h1v14.4h-1zM958.1 205.8h2.2v14.4h-2.2zM974.9 205.8h1.9v14.4h-1.9zM979.1 205.8h0.9v14.4h-0.9zM992.2 205.8h1.9v14.4h-1.9zM1002 205.8h1.1v14.4h-1.1zM1009.5 205.8h1.2v14.4h-1.2zM1025.9 205.8h1.1v14.4h-1.1zM1037.2 205.8h1.2v14.4h-1.2zM953.5 225.7h1.1v14.4h-1.1zM954.7 225.7h0.9v14.4h-0.9zM957.7 225.7h1.6v14.4h-1.6zM963.5 225.7h2.2v14.4h-2.2zM1000 225.7h2.2v14.4h-2.2zM1004.4 225.7h0.8v14.4h-0.8zM1007.8 225.7h0.8v14.4h-0.8zM1012.1 225.7h2.4v14.4h-2.4zM1019.4 225.7h1.4v14.4h-1.4zM1025.3 225.7h2v14.4h-2zM1029.4 225.7h1.7v14.4h-1.7zM1031 225.7h1.8v14.4h-1.8zM1033.9 225.7h2.4v14.4h-2.4zM1036.3 225.7h1.2v14.4h-1.2zM1037.5 225.7h1.4v14.4h-1.4zM1038.9 225.7h1.5v14.4h-1.5zM945.9 245.6h1v14.4h-1zM950.3 245.6h1.2v14.4h-1.2zM957.1 245.6h1.7v14.4h-1.7zM958.8 245.6h2.4v14.4h-2.4zM965.5 245.6h2v14.4h-2zM979.5 245.6h2.3v14.4h-2.3zM987.3 265.4h0.9v14.4h-0.9zM994.3 265.4h2.4v14.4h-2.4zM1000.9 265.4h2.1v14.4h-2.1zM1004.1 265.4h1.2v14.4h-1.2zM1042.8 265.4h1.8v14.4h-1.8zM938.5 285.3h1.4v14.4h-1.4zM941.8 285.3h1.5v14.4h-1.5zM943.3 285.3h1.5v14.4h-1.5zM993.9 285.3h1.8v14.4h-1.8zM1002.2 285.3h0.8v14.4h-0.8zM1025 285.3h1.5v14.4h-1.5zM936.6 305.1h2.1v14.4h-2.1zM941.1 305.1h2.2v14.4h-2.2zM957.7 305.1h1.1v14.4h-1.1zM958.7 305.1h1.8v14.4h-1.8zM960.5 305.1h2.4v14.4h-2.4zM962.9 305.1h1.4v14.4h-1.4zM967.9 305.1h1v14.4h-1zM970.4 305.1h1.6v14.4h-1.6zM972.1 305.1h2.2v14.4h-2.2zM985.3 305.1h2.3v14.4h-2.3zM995.9 305.1h1v14.4h-1zM998.2 305.1h1.5v14.4h-1.5zM1009.9 305.1h1.9v14.4h-1.9zM1023.9 305.1h1.1v14.4h-1.1zM1065.3 305.1h2.1v14.4h-2.1zM1079.7 305.1h1.2v14.4h-1.2zM935 325h1.6v14.4h-1.6zM938.8 325h1.7v14.4h-1.7zM942.3 325h2.3v14.4h-2.3zM953.3 325h1.9v14.4h-1.9zM956.6 325h1.7v14.4h-1.7zM981.1 325h1.3v14.4h-1.3zM982.4 325h1.4v14.4h-1.4zM984.7 325h2.3v14.4h-2.3zM990.7 325h1.2v14.4h-1.2zM997.4 325h1v14.4h-1zM1001.9 325h2.4v14.4h-2.4zM1024.7 325h1.1v14.4h-1.1zM1025.8 325h1.4v14.4h-1.4zM936 344.9h1.8v14.4h-1.8zM951.8 344.9h1.6v14.4h-1.6zM958.3 344.9h1.4v14.4h-1.4zM980.2 344.9h2.2v14.4h-2.2zM984.9 344.9h2.4v14.4h-2.4zM1003.6 344.9h1.6v14.4h-1.6zM1015.1 344.9h1.2v14.4h-1.2zM1028.7 344.9h1v14.4h-1zM1029.7 344.9h2v14.4h-2zM1034.2 344.9h2.4v14.4h-2.4zM1037.8 344.9h1.7v14.4h-1.7zM1044.8 344.9h0.2v14.4h-0.2zM956.5 364.7h1.5v14.4h-1.5zM961.2 364.7h1.6v14.4h-1.6zM972.4 364.7h2.2v14.4h-2.2zM979.5 364.7h1v14.4h-1zM987.6 364.7h2.3v14.4h-2.3zM992.4 364.7h1.6v14.4h-1.6zM997.2 364.7h0.8v14.4h-0.8zM1000.5 364.7h2.2v14.4h-2.2zM1016.9 364.7h1.7v14.4h-1.7zM1022.1 364.7h2.3v14.4h-2.3zM1027.4 364.7h1.5v14.4h-1.5zM996.1 384.6h2.3v14.4h-2.3zM1003.9 384.6h0.6v14.4h-0.6zM939.7 404.4h2.2v14.4h-2.2zM950.2 404.4h1.8v14.4h-1.8zM958.3 404.4h1.9v14.4h-1.9zM968.3 404.4h1v14.4h-1zM986.6 404.4h1.9v14.4h-1.9zM990.9 404.4h1.6v14.4h-1.6zM1014.8 404.4h1.1v14.4h-1.1zM1016.7 404.4h1.6v14.4h-1.6zM1018.3 404.4h2.5v14.4h-2.5zM1022.9 404.4h1.8v14.4h-1.8zM1024.7 404.4h2v14.4h-2zM1026.7 404.4h0.8v14.4h-0.8zM1030 404.4h1v14.4h-1zM1042.9 404.4h1.1v14.4h-1.1zM1060.4 404.4h1.8v14.4h-1.8zM1064.7 404.4h1.4v14.4h-1.4z"/><path fill="#c8d8e0" d="M912.3 27.1h1v14.4h-1zM916.5 27.1h2.3v14.4h-2.3zM918.8 27.1h2.3v14.4h-2.3zM923.2 27.1h1.5v14.4h-1.5zM935.7 27.1h1.9v14.4h-1.9zM946.6 27.1h1.8v14.4h-1.8zM948.4 27.1h1.7v14.4h-1.7zM952.4 27.1h2.2v14.4h-2.2zM970.8 27.1h2.3v14.4h-2.3zM974.8 27.1h2.4v14.4h-2.4zM977.2 27.1h1.7v14.4h-1.7zM983.5 27.1h1.5v14.4h-1.5zM989 27.1h0.8v14.4h-0.8zM994.2 27.1h1.9v14.4h-1.9zM997.1 27.1h2.1v14.4h-2.1zM999.1 27.1h0.9v14.4h-0.9zM1001.7 27.1h1.1v14.4h-1.1zM1006.8 27.1h1.2v14.4h-1.2zM1024.3 27.1h1v14.4h-1zM1025.3 27.1h2.1v14.4h-2.1zM950.2 47h1.3v14.4h-1.3zM954.7 47h0.9v14.4h-0.9zM958.1 47h1v14.4h-1zM959 47h1.8v14.4h-1.8zM981.2 47h1.1v14.4h-1.1zM984.4 47h1.1v14.4h-1.1zM997.3 47h1.1v14.4h-1.1zM1005.8 47h1.1v14.4h-1.1zM1009.1 47h0.9v14.4h-0.9zM944.2 66.8h2.1v14.4h-2.1zM946.3 66.8h0.9v14.4h-0.9zM947.2 66.8h2.2v14.4h-2.2zM949.4 66.8h1.1v14.4h-1.1zM958.6 66.8h1.4v14.4h-1.4zM961.9 66.8h1.9v14.4h-1.9zM963.8 66.8h1.1v14.4h-1.1zM972.3 66.8h1.3v14.4h-1.3zM973.6 66.8h2.4v14.4h-2.4zM983.1 66.8h2.5v14.4h-2.5zM985.6 66.8h2.2v14.4h-2.2zM995.7 66.8h1.2v14.4h-1.2zM998.1 66.8h1.3v14.4h-1.3zM1008.2 66.8h1.3v14.4h-1.3zM1009.5 66.8h2.2v14.4h-2.2zM1011.6 66.8h0.8v14.4h-0.8zM1012.4 66.8h1.3v14.4h-1.3zM1013.7 66.8h1.8v14.4h-1.8zM1017 66.8h2.4v14.4h-2.4zM944.7 86.7h2.4v14.4h-2.4zM953.1 86.7h1.3v14.4h-1.3zM954.4 86.7h2.4v14.4h-2.4zM956.9 86.7h2.2v14.4h-2.2zM959.1 86.7h1.2v14.4h-1.2zM968.4 86.7h1v14.4h-1zM978.1 86.7h2.1v14.4h-2.1zM983.9 86.7h2.1v14.4h-2.1zM990.2 86.7h2.4v14.4h-2.4zM992.6 86.7h2.1v14.4h-2.1zM1000.2 86.7h1.6v14.4h-1.6zM1004.7 86.7h0.8v14.4h-0.8zM1008.9 86.7h0.8v14.4h-0.8zM1009.7 86.7h0.3v14.4h-0.3zM886.7 106.5h1.4v14.4h-1.4zM888.1 106.5h0.9v14.4h-0.9zM891.6 106.5h1.6v14.4h-1.6zM896.2 106.5h1.8v14.4h-1.8zM905.4 106.5h1.8v14.4h-1.8zM911.7 106.5h1.3v14.4h-1.3zM915.3 106.5h2.2v14.4h-2.2zM930.8 106.5h2.3v14.4h-2.3zM936.1 106.5h2.2v14.4h-2.2zM938.2 106.5h1.3v14.4h-1.3zM939.5 106.5h2.2v14.4h-2.2zM946.4 106.5h1v14.4h-1zM963.7 106.5h1.6v14.4h-1.6zM970.6 106.5h2.5v14.4h-2.5zM973.1 106.5h1.4v14.4h-1.4zM976.2 106.5h1.9v14.4h-1.9zM981.8 106.5h1.1v14.4h-1.1zM989.1 106.5h1.6v14.4h-1.6zM990.7 106.5h1.4v14.4h-1.4zM993.4 106.5h1.8v14.4h-1.8zM1007.5 106.5h1.6v14.4h-1.6zM918.5 126.4h2v14.4h-2zM928.8 126.4h1.8v14.4h-1.8zM932.1 126.4h1.8v14.4h-1.8zM935.1 126.4h1.7v14.4h-1.7zM936.8 126.4h1.2v14.4h-1.2zM942.4 126.4h0.9v14.4h-0.9zM949.1 126.4h2.4v14.4h-2.4zM955 126.4h1.5v14.4h-1.5zM966.1 126.4h1.6v14.4h-1.6zM972.6 126.4h0.9v14.4h-0.9zM973.5 126.4h0.8v14.4h-0.8zM976.1 126.4h2.4v14.4h-2.4zM991.5 126.4h0.9v14.4h-0.9zM992.4 126.4h2v14.4h-2zM994.4 126.4h1.8v14.4h-1.8zM999.8 126.4h0.2v14.4h-0.2zM911.1 146.3h1.2v14.4h-1.2zM912.2 146.3h1.8v14.4h-1.8zM915.2 146.3h1.2v14.4h-1.2zM918.5 146.3h2.3v14.4h-2.3zM922.2 146.3h1.3v14.4h-1.3zM923.5 146.3h1.6v14.4h-1.6zM932 146.3h1.9v14.4h-1.9zM933.9 146.3h1.1v14.4h-1.1zM893 166.1h2.4v14.4h-2.4zM930 186h1.9v14.4h-1.9zM931.9 186h1.8v14.4h-1.8zM933.7 186h0.9v14.4h-0.9zM934.6 186h1.7v14.4h-1.7zM938.4 186h1.1v14.4h-1.1zM948.5 186h1.2v14.4h-1.2zM960.7 186h2v14.4h-2zM964.7 186h0.9v14.4h-0.9zM965.6 186h2.3v14.4h-2.3zM984 186h0.8v14.4h-0.8zM990.7 186h0.8v14.4h-0.8zM991.5 186h2.1v14.4h-2.1zM1002.8 186h1.1v14.4h-1.1zM1005.5 186h1.7v14.4h-1.7zM1011.1 186h2.4v14.4h-2.4zM1013.5 186h1.6v14.4h-1.6zM1021.7 186h0.8v14.4h-0.8zM1022.5 186h1.6v14.4h-1.6zM930 205.8h1.5v14.4h-1.5zM934.4 205.8h1.1v14.4h-1.1zM935.6 205.8h1.4v14.4h-1.4zM938.3 205.8h1.7v14.4h-1.7zM941.8 205.8h0.9v14.4h-0.9zM948.9 205.8h1.8v14.4h-1.8zM950.7 205.8h2.3v14.4h-2.3zM953.1 205.8h2v14.4h-2zM955 205.8h2v14.4h-2zM957 205.8h1.1v14.4h-1.1zM962 205.8h2.1v14.4h-2.1zM965.3 205.8h1.4v14.4h-1.4zM968.4 205.8h1v14.4h-1zM969.4 205.8h1.9v14.4h-1.9zM971.4 205.8h0.9v14.4h-0.9zM972.2 205.8h1v14.4h-1zM973.2 205.8h1.7v14.4h-1.7zM976.9 205.8h2.2v14.4h-2.2zM982.3 205.8h2.5v14.4h-2.5zM984.8 205.8h2.5v14.4h-2.5zM989.3 205.8h0.7v14.4h-0.7zM1010.7 205.8h2v14.4h-2zM1016.3 205.8h1v14.4h-1zM1039.3 205.8h2.2v14.4h-2.2zM1041.5 205.8h1.7v14.4h-1.7zM1047.9 205.8h1v14.4h-1zM955.5 225.7h1.2v14.4h-1.2zM956.7 225.7h1v14.4h-1zM962.7 225.7h0.8v14.4h-0.8zM970.9 225.7h1v14.4h-1zM984.2 225.7h1.9v14.4h-1.9zM988.4 225.7h1.3v14.4h-1.3zM991.8 225.7h1.4v14.4h-1.4zM993.2 225.7h1.6v14.4h-1.6zM994.8 225.7h1.7v14.4h-1.7zM996.5 225.7h2.2v14.4h-2.2zM998.8 225.7h1.2v14.4h-1.2zM1005.2 225.7h0.9v14.4h-0.9zM1006.1 225.7h1.7v14.4h-1.7zM1014.5 225.7h0.9v14.4h-0.9zM1015.4 225.7h1.5v14.4h-1.5zM1020.8 225.7h1.4v14.4h-1.4zM1022.3 225.7h1.9v14.4h-1.9zM1024.1 225.7h1.2v14.4h-1.2zM1027.3 225.7h2.1v14.4h-2.1zM1040.4 225.7h2.5v14.4h-2.5zM1042.9 225.7h1.6v14.4h-1.6zM946.9 245.6h1.1v14.4h-1.1zM951.5 245.6h1.3v14.4h-1.3zM952.8 245.6h2.2v14.4h-2.2zM955 245.6h2.1v14.4h-2.1zM971.7 245.6h1.2v14.4h-1.2zM977.2 245.6h2.3v14.4h-2.3zM981.8 245.6h2.2v14.4h-2.2zM980 265.4h2.1v14.4h-2.1zM983.3 265.4h1.7v14.4h-1.7zM985 265.4h2.3v14.4h-2.3zM990.9 265.4h2.4v14.4h-2.4zM999 265.4h1.9v14.4h-1.9zM1003 265.4h1.1v14.4h-1.1zM1005.3 265.4h1v14.4h-1zM1010.6 265.4h1.8v14.4h-1.8zM1016.4 265.4h0.9v14.4h-0.9zM1020.1 265.4h2.4v14.4h-2.4zM1026 265.4h1.2v14.4h-1.2zM1028.9 265.4h2v14.4h-2zM1031 265.4h1.6v14.4h-1.6zM1034.5 265.4h1.3v14.4h-1.3zM1035.8 265.4h0.9v14.4h-0.9zM944.8 285.3h1.1v14.4h-1.1zM958.3 285.3h1.3v14.4h-1.3zM959.6 285.3h2.4v14.4h-2.4zM968.1 285.3h1.7v14.4h-1.7zM973.2 285.3h1v14.4h-1zM974.2 285.3h1.1v14.4h-1.1zM978.2 285.3h1.3v14.4h-1.3zM979.4 285.3h1.3v14.4h-1.3zM981.9 285.3h1.4v14.4h-1.4zM983.3 285.3h2.1v14.4h-2.1zM987.6 285.3h1.8v14.4h-1.8zM989.4 285.3h1v14.4h-1zM990.5 285.3h1.3v14.4h-1.3zM943.4 305.1h1.4v14.4h-1.4zM951.4 305.1h2.1v14.4h-2.1zM955.5 305.1h2.2v14.4h-2.2zM965.7 305.1h2.1v14.4h-2.1zM968.9 305.1h1.5v14.4h-1.5zM974.3 305.1h0.9v14.4h-0.9zM988.7 305.1h1.1v14.4h-1.1zM999.7 305.1h1.9v14.4h-1.9zM1003.3 305.1h1v14.4h-1zM1007.8 305.1h2.2v14.4h-2.2zM1011.8 305.1h2v14.4h-2zM1015.6 305.1h2.1v14.4h-2.1zM1017.8 305.1h1.3v14.4h-1.3zM1021.1 305.1h1.8v14.4h-1.8zM1025 305.1h1.1v14.4h-1.1zM1035 305.1h1.9v14.4h-1.9zM1038.5 305.1h1.1v14.4h-1.1zM1042.6 305.1h1.5v14.4h-1.5zM1045.6 305.1h1.7v14.4h-1.7zM1049.6 305.1h2.1v14.4h-2.1zM1071.5 305.1h1.7v14.4h-1.7zM948.6 325h0.8v14.4h-0.8zM955.2 325h1.4v14.4h-1.4zM966.4 325h1.4v14.4h-1.4zM971.2 325h1.8v14.4h-1.8zM972.9 325h1.3v14.4h-1.3zM976.4 325h2.4v14.4h-2.4zM989.4 325h1.3v14.4h-1.3zM995 325h2.4v14.4h-2.4zM1000.7 325h1.2v14.4h-1.2zM1015.8 325h1.5v14.4h-1.5zM1018.9 325h1.5v14.4h-1.5zM1022.3 325h1v14.4h-1zM937.8 344.9h2v14.4h-2zM942 344.9h1.4v14.4h-1.4zM946.1 344.9h1.8v14.4h-1.8zM947.9 344.9h2.4v14.4h-2.4zM950.3 344.9h1.5v14.4h-1.5zM955.4 344.9h1.5v14.4h-1.5zM961.7 344.9h1.1v14.4h-1.1zM962.8 344.9h2v14.4h-2zM964.8 344.9h1.2v14.4h-1.2zM966 344.9h1v14.4h-1zM969.4 344.9h1.5v14.4h-1.5zM970.9 344.9h0.9v14.4h-0.9zM971.8 344.9h2v14.4h-2zM983.8 344.9h1.1v14.4h-1.1zM989.5 344.9h2v14.4h-2zM994 344.9h1.5v14.4h-1.5zM1000 344.9h1.1v14.4h-1.1zM1001.1 344.9h1.4v14.4h-1.4zM1006.3 344.9h2.5v14.4h-2.5zM1010.2 344.9h2.2v14.4h-2.2zM1012.4 344.9h1.9v14.4h-1.9zM1024.9 344.9h0.8v14.4h-0.8zM1025.7 344.9h0.9v14.4h-0.9zM1036.5 344.9h1.2v14.4h-1.2zM1041.5 344.9h1v14.4h-1zM1043.4 344.9h1.4v14.4h-1.4zM940 364.7h1.2v14.4h-1.2zM941.2 364.7h1.2v14.4h-1.2zM949.8 364.7h2.2v14.4h-2.2zM952.9 364.7h1.6v14.4h-1.6zM960 364.7h1.2v14.4h-1.2zM967.7 364.7h1.4v14.4h-1.4zM975.5 364.7h1.7v14.4h-1.7zM980.5 364.7h0.8v14.4h-0.8zM984.2 364.7h1v14.4h-1zM995 364.7h2.2v14.4h-2.2zM1002.7 364.7h1.9v14.4h-1.9zM1006.7 364.7h2v14.4h-2zM1013.2 364.7h2.3v14.4h-2.3zM1015.5 364.7h1.4v14.4h-1.4zM1028.9 364.7h2.3v14.4h-2.3zM1031.2 364.7h1v14.4h-1zM1033.9 364.7h2.3v14.4h-2.3zM1036.1 364.7h1.4v14.4h-1.4zM990.9 384.6h1.5v14.4h-1.5zM998.4 384.6h1.5v14.4h-1.5zM999.9 384.6h2v14.4h-2zM1001.9 384.6h2v14.4h-2zM935 404.4h1.1v14.4h-1.1zM947.3 404.4h1.2v14.4h-1.2zM948.5 404.4h1.7v14.4h-1.7zM953.7 404.4h1v14.4h-1zM954.7 404.4h1.2v14.4h-1.2zM955.9 404.4h2.3v14.4h-2.3zM966.9 404.4h1.4v14.4h-1.4zM970.5 404.4h1.3v14.4h-1.3zM979.5 404.4h1.8v14.4h-1.8zM981.3 404.4h1v14.4h-1zM984.5 404.4h2.1v14.4h-2.1zM988.4 404.4h1.3v14.4h-1.3zM989.7 404.4h1.2v14.4h-1.2zM995.6 404.4h2v14.4h-2zM997.7 404.4h2.2v14.4h-2.2zM999.9 404.4h2.3v14.4h-2.3zM1002.2 404.4h0.9v14.4h-0.9zM1032 404.4h1.9v14.4h-1.9zM1037.1 404.4h1.1v14.4h-1.1zM1038.2 404.4h1v14.4h-1zM1039.3 404.4h1.2v14.4h-1.2zM1046.3 404.4h1.6v14.4h-1.6zM1047.9 404.4h1.9v14.4h-1.9zM1054.3 404.4h2v14.4h-2zM1056.3 404.4h2.4v14.4h-2.4zM1058.7 404.4h1.7v14.4h-1.7zM1066.1 404.4h2.5v14.4h-2.5zM1070.7 404.4h1.9v14.4h-1.9zM1076.1 404.4h1.5v14.4h-1.5z"/><path fill="#b0b8a0" d="M1000 27.1h1.7v14.4h-1.7zM1012.8 27.1h2.5v14.4h-2.5zM1016.7 27.1h1.9v14.4h-1.9zM1033.3 27.1h1.6v14.4h-1.6zM1034.9 27.1h0.1v14.4h-0.1zM956.4 66.8h2.2v14.4h-2.2zM917.5 106.5h2v14.4h-2zM959.7 106.5h1.6v14.4h-1.6zM943.5 186h2.4v14.4h-2.4zM971.5 186h1.5v14.4h-1.5zM983.1 186h0.9v14.4h-0.9zM1001.1 186h1.7v14.4h-1.7zM1003.9 186h1.6v14.4h-1.6zM1009.3 186h1.8v14.4h-1.8zM1018.3 205.8h1.9v14.4h-1.9zM959.3 225.7h1.1v14.4h-1.1zM953.8 285.3h1.2v14.4h-1.2zM962 285.3h1.3v14.4h-1.3zM1026.1 305.1h1.8v14.4h-1.8zM1031.4 305.1h1.3v14.4h-1.3zM1074.2 305.1h1.2v14.4h-1.2zM1077.3 305.1h2.3v14.4h-2.3zM956.9 344.9h1.4v14.4h-1.4zM992.5 344.9h1.5v14.4h-1.5zM996.9 344.9h1.6v14.4h-1.6zM944.3 364.7h1.2v14.4h-1.2zM977.2 364.7h2.3v14.4h-2.3zM1068.5 404.4h1.2v14.4h-1.2z"/><path fill="#e85848" d="M1066 27.1h1.6v14.4h-1.6zM1067.6 27.1h1.1v14.4h-1.1zM1068.7 27.1h0.9v14.4h-0.9zM1069.6 27.1h1.1v14.4h-1.1zM1125 66.8h2.3v14.4h-2.3zM1127.3 66.8h1.7v14.4h-1.7zM1129 66.8h1v14.4h-1z"/><path fill="#d0a078" d="M1048.5 66.8h2.2v14.4h-2.2zM1066.2 66.8h0.9v14.4h-0.9zM1072.8 66.8h1v14.4h-1zM1073.8 66.8h2.2v14.4h-2.2zM1077.9 66.8h1.8v14.4h-1.8zM866.4 86.7h0.8v14.4h-0.8zM870.6 86.7h1.3v14.4h-1.3zM895 86.7h1.3v14.4h-1.3zM905.5 86.7h2.1v14.4h-2.1zM919.4 86.7h1.5v14.4h-1.5zM925.2 86.7h2.4v14.4h-2.4zM933.5 86.7h2.3v14.4h-2.3zM1012.9 86.7h2v14.4h-2zM1032.2 86.7h2v14.4h-2zM1044.8 86.7h2.5v14.4h-2.5zM1058.9 86.7h2.4v14.4h-2.4zM1064.3 86.7h1.5v14.4h-1.5zM1066.6 86.7h0.8v14.4h-0.8zM1083.8 86.7h1.2v14.4h-1.2zM946.1 146.3h1.7v14.4h-1.7zM1000.7 146.3h0.8v14.4h-0.8zM1052.7 225.7h2.1v14.4h-2.1zM1098.3 225.7h1.9v14.4h-1.9zM1127.5 225.7h1.1v14.4h-1.1zM880.8 245.6h1.9v14.4h-1.9zM911.3 245.6h0.9v14.4h-0.9zM912.2 245.6h2v14.4h-2zM964 265.4h2.2v14.4h-2.2zM968.3 265.4h2.3v14.4h-2.3zM970.6 265.4h1.9v14.4h-1.9zM978.9 265.4h1.1v14.4h-1.1zM1063.6 265.4h1.2v14.4h-1.2zM884.3 364.7h1.6v14.4h-1.6zM887 364.7h1.1v14.4h-1.1zM904 364.7h1.1v14.4h-1.1zM928.2 364.7h1.4v14.4h-1.4z"/><path fill="#d89870" d="M1121.9 66.8h2v14.4h-2zM1123.9 66.8h1.1v14.4h-1.1zM869 106.5h1.2v14.4h-1.2zM872.5 106.5h1.7v14.4h-1.7zM864.4 166.1h2.5v14.4h-2.5zM866.9 166.1h1v14.4h-1zM869.9 166.1h0.8v14.4h-0.8zM870.7 166.1h2v14.4h-2zM874.6 166.1h2.5v14.4h-2.5zM877.1 166.1h2.2v14.4h-2.2zM879.4 166.1h1.8v14.4h-1.8zM885.1 166.1h1.9v14.4h-1.9zM1056.6 205.8h2.5v14.4h-2.5zM1066.7 205.8h1.8v14.4h-1.8zM1076.7 205.8h2.3v14.4h-2.3zM1079 205.8h0.4v14.4h-0.4zM1136.5 225.7h2v14.4h-2zM857 265.4h2.3v14.4h-2.3zM870.2 265.4h1.8v14.4h-1.8zM872.8 265.4h1.6v14.4h-1.6zM1115.3 265.4h1.7v14.4h-1.7zM1119.3 265.4h1.2v14.4h-1.2zM1125.7 265.4h1.5v14.4h-1.5zM1130.1 265.4h0.8v14.4h-0.8zM1130.9 265.4h0.9v14.4h-0.9zM1131.8 265.4h1.6v14.4h-1.6zM1134.2 265.4h0.6v14.4h-0.6zM1155 305.1h1.3v14.4h-1.3zM1156.3 305.1h2.5v14.4h-2.5zM1151.5 384.6h2v14.4h-2zM1155.7 384.6h1v14.4h-1zM1126.5 404.4h2.4v14.4h-2.4z"/></g><g filter="url(#bl3)"><path fill="#d4e0ea" d="M71 478.4h1.8v14.9h-1.8zM77.6 478.4h1.5v14.9h-1.5zM94.3 478.4h0.7v14.9h-0.7zM108.7 478.4h1.6v14.9h-1.6zM116.9 478.4h1v14.9h-1zM117.9 478.4h1.3v14.9h-1.3zM120.9 478.4h1.9v14.9h-1.9zM127.1 478.4h1.7v14.9h-1.7zM132.5 478.4h1v14.9h-1zM136.1 478.4h1.7v14.9h-1.7zM168.1 478.4h1.8v14.9h-1.8zM176.1 478.4h0.8v14.9h-0.8zM176.9 478.4h0.9v14.9h-0.9zM178.7 478.4h1.9v14.9h-1.9zM180.6 478.4h0.8v14.9h-0.8zM185 478.4h1.4v14.9h-1.4zM204.8 478.4h1.6v14.9h-1.6zM206.4 478.4h1.5v14.9h-1.5zM217.8 478.4h1.5v14.9h-1.5zM227.8 478.4h0.8v14.9h-0.8zM230.3 478.4h2.2v14.9h-2.2zM233.5 478.4h1v14.9h-1zM243.7 478.4h1v14.9h-1zM246.6 478.4h1v14.9h-1zM251.5 478.4h2.1v14.9h-2.1zM255.9 478.4h0.9v14.9h-0.9zM258.3 478.4h1.9v14.9h-1.9zM261.2 478.4h2v14.9h-2zM70.5 498.8h1.5v14.9h-1.5zM80 498.8h2.1v14.9h-2.1zM96.7 498.8h1.4v14.9h-1.4zM106.7 498.8h1.4v14.9h-1.4zM114.4 498.8h0.7v14.9h-0.7zM115.1 498.8h1.8v14.9h-1.8zM120.2 498.8h1.8v14.9h-1.8zM123 498.8h0.8v14.9h-0.8zM129.6 498.8h1.8v14.9h-1.8zM139.3 498.8h0.7v14.9h-0.7zM143.8 498.8h1.1v14.9h-1.1zM144.8 498.8h1.9v14.9h-1.9zM148.1 498.8h1.9v14.9h-1.9zM163.7 498.8h0.9v14.9h-0.9zM166.5 498.8h1.5v14.9h-1.5zM171 498.8h1v14.9h-1zM192.6 498.8h1.3v14.9h-1.3zM195.9 498.8h2v14.9h-2zM214.5 498.8h1.1v14.9h-1.1zM227.2 498.8h1.9v14.9h-1.9zM245.1 498.8h1.4v14.9h-1.4zM247.4 498.8h1.2v14.9h-1.2zM259.4 498.8h0.9v14.9h-0.9zM262.1 498.8h1.6v14.9h-1.6zM277.7 498.8h0.7v14.9h-0.7zM278.4 498.8h0.8v14.9h-0.8zM73.1 519.2h1.8v14.9h-1.8zM82 519.2h1.3v14.9h-1.3zM87 519.2h1.7v14.9h-1.7zM98.3 519.2h1.6v14.9h-1.6zM99.9 519.2h1.9v14.9h-1.9zM104.8 519.2h1.9v14.9h-1.9zM119.9 519.2h0.9v14.9h-0.9zM120.8 519.2h2v14.9h-2zM122.8 519.2h0.2v14.9h-0.2zM123 519.2h1.6v14.9h-1.6zM126.4 519.2h1.1v14.9h-1.1zM127.6 519.2h2.1v14.9h-2.1zM131.8 519.2h1v14.9h-1zM134.1 519.2h2v14.9h-2zM136.1 519.2h1.4v14.9h-1.4zM137.5 519.2h1.7v14.9h-1.7zM139.2 519.2h1.8v14.9h-1.8zM140.9 519.2h1.5v14.9h-1.5zM153.8 519.2h2.2v14.9h-2.2zM178 519.2h1.4v14.9h-1.4zM198.5 519.2h0.7v14.9h-0.7zM204.1 519.2h1.3v14.9h-1.3zM221.1 519.2h1.1v14.9h-1.1zM239 519.2h2v14.9h-2zM252.3 519.2h1.7v14.9h-1.7zM260.1 519.2h1.1v14.9h-1.1zM270.8 519.2h2.1v14.9h-2.1zM281.7 519.2h1.7v14.9h-1.7zM283.4 519.2h0.8v14.9h-0.8zM297.7 519.2h1.8v14.9h-1.8zM301.4 519.2h1v14.9h-1zM302.4 519.2h2.1v14.9h-2.1zM304.5 519.2h2.1v14.9h-2.1zM318.5 519.2h1.9v14.9h-1.9zM323.6 519.2h2.1v14.9h-2.1zM325.7 519.2h2v14.9h-2zM335.1 519.2h1v14.9h-1zM336 519.2h0.8v14.9h-0.8zM68.7 539.6h1.1v14.9h-1.1zM75.4 539.6h1.3v14.9h-1.3zM86.7 539.6h1.1v14.9h-1.1zM92.9 539.6h0.8v14.9h-0.8zM93.7 539.6h1.3v14.9h-1.3zM110.6 539.6h1.1v14.9h-1.1zM113 539.6h1.6v14.9h-1.6zM127.6 539.6h1v14.9h-1zM136.2 539.6h1.7v14.9h-1.7zM140.2 539.6h1.7v14.9h-1.7zM144.8 539.6h0.9v14.9h-0.9zM165.3 539.6h1.3v14.9h-1.3zM177.8 539.6h1.7v14.9h-1.7zM198.2 539.6h1.4v14.9h-1.4zM199.6 539.6h0.4v14.9h-0.4zM214.8 539.6h1v14.9h-1zM219.3 539.6h1.7v14.9h-1.7zM233.1 539.6h1.7v14.9h-1.7zM238.6 539.6h2.1v14.9h-2.1zM251.9 539.6h0.7v14.9h-0.7zM259 539.6h1.5v14.9h-1.5zM266.5 539.6h1.8v14.9h-1.8zM84 560h2.2v14.9h-2.2zM90.8 560h1.8v14.9h-1.8zM92.6 560h1.8v14.9h-1.8zM94.4 560h0.7v14.9h-0.7zM107.4 560h1.5v14.9h-1.5zM130.1 560h1.9v14.9h-1.9zM134 560h0.8v14.9h-0.8zM170.6 560h1.3v14.9h-1.3zM197.2 560h1.4v14.9h-1.4zM201.3 560h2v14.9h-2zM210 560h0.9v14.9h-0.9zM213.6 560h1.1v14.9h-1.1zM231.5 560h0.8v14.9h-0.8zM234.5 560h1.2v14.9h-1.2zM239.9 560h1.5v14.9h-1.5zM252.7 560h1.6v14.9h-1.6zM86.6 580.4h1.5v14.9h-1.5zM94.1 580.4h1.1v14.9h-1.1zM103.5 580.4h1.9v14.9h-1.9zM129.7 580.4h1.8v14.9h-1.8zM132.7 580.4h1.1v14.9h-1.1zM139.4 580.4h1.8v14.9h-1.8zM141.9 580.4h0.7v14.9h-0.7zM146 580.4h1.1v14.9h-1.1zM154.3 580.4h2.1v14.9h-2.1zM160.3 580.4h2v14.9h-2zM175 580.4h1.4v14.9h-1.4zM185.9 580.4h1.6v14.9h-1.6zM190 580.4h1.7v14.9h-1.7zM193.9 580.4h1.7v14.9h-1.7zM197 580.4h2.2v14.9h-2.2zM201.6 580.4h1.6v14.9h-1.6zM207.5 580.4h0.9v14.9h-0.9zM220.1 580.4h1.2v14.9h-1.2zM221.3 580.4h2.1v14.9h-2.1zM236.6 580.4h2.1v14.9h-2.1zM239.7 580.4h2v14.9h-2zM254.9 580.4h1v14.9h-1zM255.9 580.4h1.8v14.9h-1.8zM257.7 580.4h1.6v14.9h-1.6zM273 580.4h1.7v14.9h-1.7zM279 580.4h1.2v14.9h-1.2zM281.8 580.4h0.9v14.9h-0.9zM74.2 600.7h0.9v14.9h-0.9zM85.9 600.7h2v14.9h-2zM90.2 600.7h1.2v14.9h-1.2zM100 600.7h1.2v14.9h-1.2zM111.8 600.7h0.7v14.9h-0.7zM142.4 600.7h1.7v14.9h-1.7zM145.4 600.7h0.8v14.9h-0.8zM150.4 600.7h2v14.9h-2zM163.3 600.7h1.5v14.9h-1.5zM164.8 600.7h1.1v14.9h-1.1zM165.8 600.7h1.2v14.9h-1.2zM188.9 600.7h2v14.9h-2zM205.9 600.7h1.2v14.9h-1.2zM213.8 600.7h2v14.9h-2zM222.8 600.7h1.8v14.9h-1.8zM234.6 600.7h0.8v14.9h-0.8zM249 600.7h1.3v14.9h-1.3zM252 600.7h1.6v14.9h-1.6zM255.5 600.7h1.3v14.9h-1.3zM264.6 600.7h0.9v14.9h-0.9zM293.5 600.7h1.3v14.9h-1.3zM340.9 600.7h1.9v14.9h-1.9zM357.1 600.7h0.9v14.9h-0.9zM373 600.7h1.2v14.9h-1.2zM68.7 621.1h1.1v14.9h-1.1zM73.5 621.1h0.7v14.9h-0.7zM79.1 621.1h1.7v14.9h-1.7zM84.2 621.1h0.8v14.9h-0.8zM91.3 621.1h1.5v14.9h-1.5zM94.8 621.1h2v14.9h-2zM98.8 621.1h1.3v14.9h-1.3zM107.1 621.1h0.9v14.9h-0.9zM118.7 621.1h0.7v14.9h-0.7zM132 621.1h1.9v14.9h-1.9zM133.9 621.1h1.9v14.9h-1.9zM135.9 621.1h1.1v14.9h-1.1zM136.9 621.1h2v14.9h-2zM153 621.1h2.1v14.9h-2.1zM155 621.1h2.1v14.9h-2.1zM73.4 641.5h0.9v14.9h-0.9zM75.7 641.5h1.1v14.9h-1.1zM87.2 641.5h1.9v14.9h-1.9zM89.1 641.5h0.8v14.9h-0.8zM104.1 641.5h1.5v14.9h-1.5zM113 641.5h1v14.9h-1zM114 641.5h1.4v14.9h-1.4zM116.5 641.5h1.8v14.9h-1.8zM125.9 641.5h0.8v14.9h-0.8zM128.4 641.5h1.6v14.9h-1.6zM138.3 641.5h1.6v14.9h-1.6zM139.9 641.5h1.3v14.9h-1.3zM142.7 641.5h2v14.9h-2zM144.7 641.5h1.5v14.9h-1.5zM150.7 641.5h1.8v14.9h-1.8zM153.5 641.5h0.8v14.9h-0.8zM159.2 641.5h1.7v14.9h-1.7zM166.5 641.5h1.7v14.9h-1.7zM168.2 641.5h1.8v14.9h-1.8zM180 641.5h1v14.9h-1zM181.8 641.5h2.1v14.9h-2.1zM185.5 641.5h1.1v14.9h-1.1zM186.6 641.5h1.3v14.9h-1.3zM189 641.5h1.4v14.9h-1.4zM198.2 641.5h1.5v14.9h-1.5zM219.3 641.5h1.1v14.9h-1.1zM233.7 641.5h1.8v14.9h-1.8zM237.3 641.5h1.9v14.9h-1.9zM243.3 641.5h2v14.9h-2zM248.1 641.5h1.7v14.9h-1.7zM250.8 641.5h1.3v14.9h-1.3zM252.8 641.5h1.6v14.9h-1.6zM254.5 641.5h1.6v14.9h-1.6zM259.1 641.5h1.7v14.9h-1.7zM267.7 641.5h1v14.9h-1zM268.7 641.5h1.3v14.9h-1.3zM271.6 641.5h2v14.9h-2zM275.8 641.5h1.6v14.9h-1.6zM283.2 641.5h1.2v14.9h-1.2zM82.1 661.9h2v14.9h-2zM91.1 661.9h1.6v14.9h-1.6zM100 661.9h1.3v14.9h-1.3zM105.6 661.9h0.7v14.9h-0.7zM109.4 661.9h1.2v14.9h-1.2zM110.6 661.9h1.2v14.9h-1.2zM149 661.9h2.1v14.9h-2.1zM151.1 661.9h1.9v14.9h-1.9zM153 661.9h1.9v14.9h-1.9zM160.5 661.9h1.1v14.9h-1.1zM178.6 661.9h1v14.9h-1zM181.8 661.9h1v14.9h-1zM186.5 661.9h1.4v14.9h-1.4zM189.8 661.9h1.3v14.9h-1.3zM200.2 661.9h1.6v14.9h-1.6zM225.6 661.9h1.2v14.9h-1.2zM232.1 661.9h1.6v14.9h-1.6zM233.8 661.9h1.4v14.9h-1.4zM235.2 661.9h1.2v14.9h-1.2zM243.7 661.9h1.7v14.9h-1.7zM245.4 661.9h1.8v14.9h-1.8zM265.3 661.9h1.4v14.9h-1.4zM280.5 661.9h1v14.9h-1zM85.1 682.3h0.8v14.9h-0.8zM92.6 682.3h1.9v14.9h-1.9zM94.5 682.3h0.7v14.9h-0.7zM99.1 682.3h1.3v14.9h-1.3zM105.5 682.3h2v14.9h-2zM112.7 682.3h2v14.9h-2zM114.8 682.3h0.7v14.9h-0.7zM123.5 682.3h1.1v14.9h-1.1zM125.6 682.3h1v14.9h-1zM139.7 682.3h0.8v14.9h-0.8zM140.5 682.3h1v14.9h-1zM185.7 682.3h2.2v14.9h-2.2zM197.6 682.3h1.7v14.9h-1.7zM203.9 682.3h1.8v14.9h-1.8zM212.3 682.3h1.9v14.9h-1.9zM214.2 682.3h1.5v14.9h-1.5zM215.6 682.3h1.3v14.9h-1.3zM225 682.3h1.2v14.9h-1.2zM228.8 682.3h1.2v14.9h-1.2zM233.3 682.3h1.4v14.9h-1.4zM235.6 682.3h1.4v14.9h-1.4zM239.4 682.3h1.8v14.9h-1.8zM241.2 682.3h1.4v14.9h-1.4zM261.3 682.3h1.3v14.9h-1.3zM262.6 682.3h2v14.9h-2zM268 682.3h0.8v14.9h-0.8zM268.9 682.3h2.1v14.9h-2.1zM272.2 682.3h1.1v14.9h-1.1zM275 682.3h2.1v14.9h-2.1zM277.1 682.3h1.8v14.9h-1.8zM283.1 682.3h0.8v14.9h-0.8zM297 682.3h1.8v14.9h-1.8zM302.2 682.3h0.9v14.9h-0.9zM312.3 682.3h1.4v14.9h-1.4zM317.1 682.3h1v14.9h-1zM324.8 682.3h1.6v14.9h-1.6zM327.7 682.3h1.2v14.9h-1.2zM328.9 682.3h1.1v14.9h-1.1zM330 682.3h1.8v14.9h-1.8zM331.8 682.3h0.9v14.9h-0.9zM332.7 682.3h1.5v14.9h-1.5zM334.2 682.3h1v14.9h-1zM337.3 682.3h0.9v14.9h-0.9zM344.4 682.3h1.6v14.9h-1.6zM75.8 702.7h1.3v14.9h-1.3zM83.1 702.7h1.6v14.9h-1.6zM103.8 702.7h1.7v14.9h-1.7zM114.7 702.7h1.1v14.9h-1.1zM121.7 702.7h1.7v14.9h-1.7zM123.3 702.7h1.2v14.9h-1.2zM127.1 702.7h1.2v14.9h-1.2zM137.4 702.7h1.1v14.9h-1.1zM138.4 702.7h1v14.9h-1zM142.5 702.7h0.8v14.9h-0.8zM149 702.7h1.4v14.9h-1.4zM175 702.7h1.3v14.9h-1.3zM188.6 702.7h1.2v14.9h-1.2zM195.6 702.7h1.6v14.9h-1.6zM198.5 702.7h2v14.9h-2zM202.6 702.7h1.9v14.9h-1.9zM204.5 702.7h1.5v14.9h-1.5zM206 702.7h1.1v14.9h-1.1zM209.7 702.7h1.6v14.9h-1.6zM211.3 702.7h1.7v14.9h-1.7zM214.3 702.7h1.7v14.9h-1.7zM216 702.7h2.2v14.9h-2.2zM226.8 702.7h1.3v14.9h-1.3zM233.1 702.7h1.4v14.9h-1.4zM236.7 702.7h2v14.9h-2zM264 702.7h1v14.9h-1zM75.1 723.1h1.7v14.9h-1.7zM85.5 723.1h1v14.9h-1zM88.6 723.1h1.3v14.9h-1.3zM96.9 723.1h1.3v14.9h-1.3zM112.1 723.1h1.5v14.9h-1.5zM128.8 723.1h1.8v14.9h-1.8zM135.6 723.1h1.8v14.9h-1.8zM137.4 723.1h1.6v14.9h-1.6zM139 723.1h1.5v14.9h-1.5zM168.1 723.1h1.7v14.9h-1.7zM200 723.1h1.5v14.9h-1.5zM209.5 723.1h0.9v14.9h-0.9zM215.4 723.1h1.5v14.9h-1.5zM216.8 723.1h1.9v14.9h-1.9zM220.6 723.1h1v14.9h-1zM223 723.1h1.3v14.9h-1.3zM224.4 723.1h1.4v14.9h-1.4zM227.7 723.1h1.7v14.9h-1.7zM233.5 723.1h1.4v14.9h-1.4zM239.7 723.1h0.3v14.9h-0.3zM244.2 723.1h1.7v14.9h-1.7zM250.2 723.1h0.8v14.9h-0.8zM263.4 723.1h0.7v14.9h-0.7zM282.9 723.1h1.9v14.9h-1.9zM284.8 723.1h1.1v14.9h-1.1zM292.8 723.1h1.3v14.9h-1.3zM295.2 723.1h2v14.9h-2zM297.1 723.1h1.7v14.9h-1.7zM313.8 723.1h1.1v14.9h-1.1zM328.1 723.1h0.9v14.9h-0.9zM337.5 723.1h1.2v14.9h-1.2zM69.7 743.5h2.1v14.9h-2.1zM80.9 743.5h2v14.9h-2zM92.3 743.5h0.9v14.9h-0.9zM98.8 743.5h1.2v14.9h-1.2zM126.4 743.5h0.7v14.9h-0.7zM152.6 743.5h0.8v14.9h-0.8zM154.7 743.5h0.9v14.9h-0.9zM212 743.5h0.9v14.9h-0.9zM215.7 743.5h1.7v14.9h-1.7zM219.8 743.5h1.7v14.9h-1.7zM231.2 743.5h1.9v14.9h-1.9zM254.2 743.5h1.8v14.9h-1.8zM257.3 743.5h0.9v14.9h-0.9zM294.8 743.5h1.4v14.9h-1.4zM299 743.5h1.2v14.9h-1.2zM300.2 743.5h1.9v14.9h-1.9zM77.3 763.9h1.4v14.9h-1.4zM108 763.9h1.9v14.9h-1.9zM116.8 763.9h2.1v14.9h-2.1zM118.8 763.9h1.7v14.9h-1.7zM128.6 763.9h0.8v14.9h-0.8zM143 763.9h1.5v14.9h-1.5zM173.6 763.9h1.7v14.9h-1.7zM212.6 763.9h1.5v14.9h-1.5zM215.6 763.9h1.3v14.9h-1.3zM219 763.9h2v14.9h-2zM222.2 763.9h1.3v14.9h-1.3zM225.6 763.9h2.1v14.9h-2.1zM227.7 763.9h1.9v14.9h-1.9zM239.9 763.9h0.1v14.9h-0.1zM260.1 763.9h1.8v14.9h-1.8zM264.7 763.9h1.5v14.9h-1.5zM267.1 763.9h0.8v14.9h-0.8zM267.8 763.9h1.9v14.9h-1.9zM280.9 763.9h1.9v14.9h-1.9zM288 763.9h0.9v14.9h-0.9zM299 763.9h0.9v14.9h-0.9zM300 763.9h0.8v14.9h-0.8zM300.8 763.9h1.1v14.9h-1.1zM301.9 763.9h2.1v14.9h-2.1zM306.7 763.9h1.8v14.9h-1.8zM310.9 763.9h2v14.9h-2zM325.2 763.9h0.9v14.9h-0.9zM326.2 763.9h1.2v14.9h-1.2zM70.4 784.2h1.9v14.9h-1.9zM72.4 784.2h0.8v14.9h-0.8zM74 784.2h0.8v14.9h-0.8zM99.3 784.2h1.1v14.9h-1.1zM102.5 784.2h2.1v14.9h-2.1zM104.6 784.2h1.6v14.9h-1.6zM106.1 784.2h0.9v14.9h-0.9zM108.9 784.2h1.3v14.9h-1.3zM118.3 784.2h1.2v14.9h-1.2zM127.2 784.2h0.7v14.9h-0.7zM146 784.2h1v14.9h-1zM156.4 784.2h1.1v14.9h-1.1zM164.3 784.2h0.9v14.9h-0.9zM177.7 784.2h1.8v14.9h-1.8zM179.5 784.2h1.6v14.9h-1.6zM186.7 784.2h0.9v14.9h-0.9zM201.3 784.2h1.8v14.9h-1.8zM210.3 784.2h0.9v14.9h-0.9zM212 784.2h1.4v14.9h-1.4zM222.5 784.2h1.1v14.9h-1.1zM227.1 784.2h2.1v14.9h-2.1zM231.6 784.2h1.8v14.9h-1.8zM233.3 784.2h1.8v14.9h-1.8zM241.5 784.2h2.2v14.9h-2.2zM267.5 784.2h0.8v14.9h-0.8zM268.3 784.2h0.7v14.9h-0.7zM269.1 784.2h1.2v14.9h-1.2zM270.2 784.2h1.3v14.9h-1.3zM286.1 784.2h1.7v14.9h-1.7zM299.6 784.2h0.4v14.9h-0.4zM300 784.2h0.9v14.9h-0.9zM305.3 784.2h1.5v14.9h-1.5zM310.6 784.2h1.9v14.9h-1.9zM313.9 784.2h2v14.9h-2zM315.9 784.2h1v14.9h-1zM318.1 784.2h1.9v14.9h-1.9zM336.6 784.2h1.3v14.9h-1.3zM84 804.6h2.1v14.9h-2.1zM94.5 804.6h0.7v14.9h-0.7zM109.5 804.6h2.1v14.9h-2.1zM115.4 804.6h0.9v14.9h-0.9zM127.1 804.6h1.5v14.9h-1.5zM131.4 804.6h1.4v14.9h-1.4zM136.2 804.6h1.8v14.9h-1.8zM141 804.6h1.8v14.9h-1.8zM166.6 804.6h1.1v14.9h-1.1zM73.3 825h1.6v14.9h-1.6zM80.6 825h1.8v14.9h-1.8zM84 825h1.3v14.9h-1.3zM102.1 825h2.2v14.9h-2.2zM110.1 825h2.1v14.9h-2.1zM112.9 825h1.2v14.9h-1.2zM117.1 825h1.4v14.9h-1.4zM118.5 825h2.2v14.9h-2.2zM120.7 825h1.5v14.9h-1.5zM122.2 825h2v14.9h-2zM141.1 825h0.9v14.9h-0.9zM149.2 825h1.8v14.9h-1.8zM175 825h1.4v14.9h-1.4zM182.7 825h1.2v14.9h-1.2zM183.9 825h2.1v14.9h-2.1zM188.8 825h1.1v14.9h-1.1zM202 825h1v14.9h-1zM205 825h1.2v14.9h-1.2zM211.4 825h1.8v14.9h-1.8zM217.5 825h1.9v14.9h-1.9zM226.3 825h1.6v14.9h-1.6zM230.4 825h1.4v14.9h-1.4zM239 825h1.3v14.9h-1.3zM248.8 825h2v14.9h-2zM254.2 825h1.5v14.9h-1.5zM261.3 825h0.7v14.9h-0.7zM270.3 825h1.9v14.9h-1.9zM280 825h1.5v14.9h-1.5zM306.8 825h1.2v14.9h-1.2zM314.9 825h1.8v14.9h-1.8zM316.6 825h1.2v14.9h-1.2zM317.8 825h0.7v14.9h-0.7zM71.8 845.4h1.7v14.9h-1.7zM73.5 845.4h1v14.9h-1zM77.3 845.4h2.1v14.9h-2.1zM79.4 845.4h1.5v14.9h-1.5zM80.9 845.4h1.2v14.9h-1.2zM86.6 845.4h2.1v14.9h-2.1zM90.3 845.4h0.9v14.9h-0.9zM102 845.4h0.7v14.9h-0.7zM119.6 845.4h1.5v14.9h-1.5zM121.2 845.4h2.2v14.9h-2.2zM131.4 845.4h1.9v14.9h-1.9zM138 845.4h0.9v14.9h-0.9zM141.3 845.4h1.8v14.9h-1.8zM153.2 845.4h1.2v14.9h-1.2zM154.4 845.4h0.9v14.9h-0.9zM171.6 845.4h1.2v14.9h-1.2zM208.5 845.4h1.9v14.9h-1.9zM210.4 845.4h1.1v14.9h-1.1zM241.5 845.4h1.9v14.9h-1.9zM252.4 845.4h1.1v14.9h-1.1zM260.2 845.4h0.7v14.9h-0.7zM276.7 845.4h1.8v14.9h-1.8zM278.5 845.4h0.7v14.9h-0.7zM288.9 845.4h1.6v14.9h-1.6zM292.5 845.4h1.9v14.9h-1.9zM301.4 845.4h1v14.9h-1zM304 845.4h1.6v14.9h-1.6zM338.9 845.4h2v14.9h-2zM347.4 845.4h2v14.9h-2zM356.3 845.4h2.1v14.9h-2.1zM365.3 845.4h2v14.9h-2zM367.3 845.4h0.9v14.9h-0.9zM369.7 845.4h1.7v14.9h-1.7zM74.4 865.8h0.7v14.9h-0.7zM81.9 865.8h1v14.9h-1zM91.1 865.8h1.8v14.9h-1.8zM96.7 865.8h0.8v14.9h-0.8zM99.4 865.8h2v14.9h-2zM129.8 865.8h0.9v14.9h-0.9zM135.4 865.8h1.3v14.9h-1.3zM151.6 865.8h1.4v14.9h-1.4zM154 865.8h1.8v14.9h-1.8zM160.9 865.8h0.7v14.9h-0.7zM166.5 865.8h1.4v14.9h-1.4zM175 865.8h1.8v14.9h-1.8zM178.1 865.8h0.9v14.9h-0.9zM183.5 865.8h1.4v14.9h-1.4zM190.1 865.8h0.9v14.9h-0.9zM195.9 865.8h1.7v14.9h-1.7zM207.7 865.8h0.7v14.9h-0.7zM208.4 865.8h1v14.9h-1zM243.6 865.8h1.6v14.9h-1.6zM248 865.8h1v14.9h-1zM250.9 865.8h0.8v14.9h-0.8zM279.8 865.8h0.8v14.9h-0.8zM280.6 865.8h1.1v14.9h-1.1zM288.1 865.8h1.1v14.9h-1.1zM290 865.8h2.1v14.9h-2.1zM293.8 865.8h1.4v14.9h-1.4zM295.2 865.8h1.7v14.9h-1.7zM298.7 865.8h2.2v14.9h-2.2zM331.4 865.8h2v14.9h-2z"/><path fill="#a8c0c0" d="M72.8 478.4h1.2v14.9h-1.2zM76.4 478.4h1.2v14.9h-1.2zM81.2 478.4h1.1v14.9h-1.1zM85.9 478.4h1.1v14.9h-1.1zM96.6 478.4h0.7v14.9h-0.7zM209.8 478.4h1.7v14.9h-1.7zM222.8 478.4h1.7v14.9h-1.7zM244.7 478.4h1.9v14.9h-1.9zM274.2 478.4h1.5v14.9h-1.5zM68.7 498.8h1.8v14.9h-1.8zM89.1 498.8h1v14.9h-1zM98.1 498.8h1.9v14.9h-1.9zM161.6 498.8h1.1v14.9h-1.1zM197.9 498.8h0.8v14.9h-0.8zM207 498.8h2.1v14.9h-2.1zM249.5 498.8h2v14.9h-2zM272.3 498.8h0.8v14.9h-0.8zM115.1 519.2h2.1v14.9h-2.1zM117.2 519.2h1.9v14.9h-1.9zM159.2 519.2h1.4v14.9h-1.4zM160.7 519.2h2v14.9h-2zM194.7 519.2h1.9v14.9h-1.9zM229.1 519.2h2v14.9h-2zM248.2 519.2h2v14.9h-2zM254.1 519.2h1.6v14.9h-1.6zM258.8 519.2h1.3v14.9h-1.3zM263.8 519.2h0.8v14.9h-0.8zM292.3 519.2h1.2v14.9h-1.2zM296.7 519.2h1v14.9h-1zM332.9 519.2h2.1v14.9h-2.1zM118 539.6h1.2v14.9h-1.2zM164.1 539.6h1.3v14.9h-1.3zM169.3 539.6h1.2v14.9h-1.2zM179.5 539.6h1.3v14.9h-1.3zM186.2 539.6h1.9v14.9h-1.9zM196.3 539.6h1.9v14.9h-1.9zM242 539.6h0.9v14.9h-0.9zM246.8 539.6h0.7v14.9h-0.7zM95.1 560h1.8v14.9h-1.8zM100.1 560h1.1v14.9h-1.1zM115.6 560h1.4v14.9h-1.4zM214.7 560h1.8v14.9h-1.8zM223.9 560h1.9v14.9h-1.9zM225.8 560h1.3v14.9h-1.3zM95.2 580.4h2.1v14.9h-2.1zM100.7 580.4h1.1v14.9h-1.1zM105.5 580.4h2.1v14.9h-2.1zM219.3 580.4h0.9v14.9h-0.9zM228.5 580.4h2.1v14.9h-2.1zM238.7 580.4h0.9v14.9h-0.9zM93.5 600.7h1.9v14.9h-1.9zM114.3 600.7h2.2v14.9h-2.2zM130.6 600.7h1.3v14.9h-1.3zM135 600.7h2.1v14.9h-2.1zM141.1 600.7h1.3v14.9h-1.3zM155 600.7h1.7v14.9h-1.7zM175.6 600.7h2v14.9h-2zM195.6 600.7h2.2v14.9h-2.2zM200.8 600.7h1.7v14.9h-1.7zM202.5 600.7h1.5v14.9h-1.5zM204.1 600.7h1.8v14.9h-1.8zM207 600.7h1.7v14.9h-1.7zM300.1 600.7h1.8v14.9h-1.8zM307.5 600.7h1.3v14.9h-1.3zM314.1 600.7h1.8v14.9h-1.8zM317.4 600.7h1.7v14.9h-1.7zM323.1 600.7h1.9v14.9h-1.9zM329.3 600.7h0.7v14.9h-0.7zM355 600.7h2.1v14.9h-2.1zM363.4 600.7h1v14.9h-1zM367.7 600.7h1.9v14.9h-1.9zM69.8 621.1h1.1v14.9h-1.1zM72.1 621.1h1.4v14.9h-1.4zM96.8 621.1h2v14.9h-2zM103.5 621.1h1.8v14.9h-1.8zM106.2 621.1h0.9v14.9h-0.9zM109.5 621.1h1.5v14.9h-1.5zM111 621.1h1.6v14.9h-1.6zM127.5 621.1h2v14.9h-2zM143.2 621.1h0.7v14.9h-0.7zM78.9 641.5h2.2v14.9h-2.2zM81.9 641.5h1.1v14.9h-1.1zM82.9 641.5h2v14.9h-2zM86.4 641.5h0.8v14.9h-0.8zM112.1 641.5h0.9v14.9h-0.9zM123.9 641.5h2v14.9h-2zM130 641.5h1.1v14.9h-1.1zM131.1 641.5h1.1v14.9h-1.1zM134.8 641.5h1.8v14.9h-1.8zM164.7 641.5h1.8v14.9h-1.8zM176 641.5h2.1v14.9h-2.1zM181 641.5h0.8v14.9h-0.8zM187.9 641.5h1.1v14.9h-1.1zM190.4 641.5h1.8v14.9h-1.8zM192.2 641.5h1.1v14.9h-1.1zM216.4 641.5h1.6v14.9h-1.6zM252.1 641.5h0.7v14.9h-0.7zM284.4 641.5h1.5v14.9h-1.5zM270.3 661.9h1.5v14.9h-1.5zM100.4 682.3h1.9v14.9h-1.9zM119.9 682.3h1v14.9h-1zM121.9 682.3h1.6v14.9h-1.6zM131.9 682.3h2.2v14.9h-2.2zM161.7 682.3h1.2v14.9h-1.2zM167 682.3h0.7v14.9h-0.7zM177.1 682.3h1.7v14.9h-1.7zM194.6 682.3h1.1v14.9h-1.1zM199.3 682.3h0.7v14.9h-0.7zM231.5 682.3h0.7v14.9h-0.7zM250.5 682.3h2v14.9h-2zM264.5 682.3h0.8v14.9h-0.8zM266.5 682.3h1.5v14.9h-1.5zM281.7 682.3h1.4v14.9h-1.4zM285.3 682.3h1.6v14.9h-1.6zM320.9 682.3h1.8v14.9h-1.8zM97.7 702.7h1v14.9h-1zM143.3 702.7h1v14.9h-1zM249.9 702.7h1.7v14.9h-1.7zM256.3 702.7h0.8v14.9h-0.8zM268.9 702.7h2.1v14.9h-2.1zM82 723.1h1.9v14.9h-1.9zM93.8 723.1h1.2v14.9h-1.2zM96.1 723.1h0.7v14.9h-0.7zM119.2 723.1h0.8v14.9h-0.8zM229.4 723.1h2.2v14.9h-2.2zM236.7 723.1h2.1v14.9h-2.1zM254.9 723.1h1.9v14.9h-1.9zM267.4 723.1h1.6v14.9h-1.6zM277.5 723.1h1.5v14.9h-1.5zM336.6 723.1h0.9v14.9h-0.9zM338.7 723.1h0.6v14.9h-0.6zM127.1 743.5h1v14.9h-1zM161.3 743.5h1.4v14.9h-1.4zM165.1 743.5h0.8v14.9h-0.8zM168.9 743.5h1.8v14.9h-1.8zM179.5 743.5h2.2v14.9h-2.2zM185.7 743.5h0.8v14.9h-0.8zM186.5 743.5h0.9v14.9h-0.9zM190 743.5h1.8v14.9h-1.8zM206.9 743.5h2v14.9h-2zM252.4 743.5h1.8v14.9h-1.8zM275.8 743.5h1v14.9h-1zM240 763.9h1.8v14.9h-1.8zM246.3 763.9h2.1v14.9h-2.1zM248.4 763.9h0.8v14.9h-0.8zM249.2 763.9h1.6v14.9h-1.6zM252.8 763.9h0.9v14.9h-0.9zM256.2 763.9h1.9v14.9h-1.9zM263 763.9h1.7v14.9h-1.7zM295.9 763.9h2.1v14.9h-2.1zM331.9 763.9h1.5v14.9h-1.5zM335.6 784.2h1.1v14.9h-1.1zM340.5 784.2h1.5v14.9h-1.5zM170.7 804.6h1.5v14.9h-1.5zM125.4 825h1.4v14.9h-1.4zM137.6 825h1.5v14.9h-1.5zM164.4 825h1.7v14.9h-1.7zM166.9 825h1.6v14.9h-1.6zM274.1 825h1.5v14.9h-1.5zM294.1 825h1.2v14.9h-1.2zM68.7 845.4h1v14.9h-1zM76.5 845.4h0.8v14.9h-0.8zM123.3 845.4h1.2v14.9h-1.2zM130.4 845.4h1v14.9h-1zM270.5 845.4h1v14.9h-1zM297.1 845.4h0.8v14.9h-0.8zM311.9 845.4h0.1v14.9h-0.1zM362.6 845.4h1.1v14.9h-1.1zM79.9 865.8h2v14.9h-2zM123.1 865.8h1.3v14.9h-1.3zM130.7 865.8h1.3v14.9h-1.3zM179 865.8h1v14.9h-1zM249 865.8h1.9v14.9h-1.9zM265.8 865.8h1.7v14.9h-1.7zM286.3 865.8h1.7v14.9h-1.7zM307.9 865.8h1.6v14.9h-1.6zM309.5 865.8h1.3v14.9h-1.3zM325.3 865.8h1.8v14.9h-1.8z"/><path fill="#88a8bc" d="M74 478.4h1.6v14.9h-1.6zM84.7 478.4h1.2v14.9h-1.2zM88.8 478.4h1.1v14.9h-1.1zM91.2 478.4h0.8v14.9h-0.8zM95 478.4h1.6v14.9h-1.6zM101 478.4h1.2v14.9h-1.2zM173 478.4h0.9v14.9h-0.9zM193.5 478.4h1.8v14.9h-1.8zM200.9 478.4h1.8v14.9h-1.8zM202.6 478.4h0.8v14.9h-0.8zM221.1 478.4h1.6v14.9h-1.6zM162.7 498.8h1v14.9h-1zM238 498.8h1.4v14.9h-1.4zM275.2 498.8h1.8v14.9h-1.8zM90.7 519.2h1.1v14.9h-1.1zM93.6 519.2h1v14.9h-1zM94.6 519.2h0.9v14.9h-0.9zM226.4 519.2h1.4v14.9h-1.4zM244.9 519.2h0.8v14.9h-0.8zM245.7 519.2h0.8v14.9h-0.8zM250.2 519.2h2.1v14.9h-2.1zM257 519.2h1.8v14.9h-1.8zM330 519.2h1.9v14.9h-1.9zM130.1 539.6h0.8v14.9h-0.8zM148.6 539.6h1v14.9h-1zM171.2 539.6h2.1v14.9h-2.1zM180.8 539.6h1.3v14.9h-1.3zM224.6 539.6h2.1v14.9h-2.1zM240.7 539.6h1.3v14.9h-1.3zM268.3 539.6h0.7v14.9h-0.7zM101.2 560h1.3v14.9h-1.3zM106.1 560h1.3v14.9h-1.3zM109.9 560h1.6v14.9h-1.6zM211.4 580.4h1.6v14.9h-1.6zM274.7 580.4h1.4v14.9h-1.4zM79 600.7h1.3v14.9h-1.3zM87.9 600.7h0.8v14.9h-0.8zM119.9 600.7h0.9v14.9h-0.9zM128.4 600.7h2.1v14.9h-2.1zM131.8 600.7h2.2v14.9h-2.2zM156.6 600.7h0.9v14.9h-0.9zM289.8 600.7h0.7v14.9h-0.7zM294.8 600.7h1.6v14.9h-1.6zM305.5 600.7h2v14.9h-2zM308.8 600.7h1.7v14.9h-1.7zM320.7 600.7h1.6v14.9h-1.6zM376.4 600.7h1.4v14.9h-1.4zM74.2 621.1h1.3v14.9h-1.3zM112.6 621.1h2.2v14.9h-2.2zM123.4 621.1h2v14.9h-2zM125.4 621.1h2.1v14.9h-2.1zM138.9 621.1h1.2v14.9h-1.2zM140.1 621.1h1.9v14.9h-1.9zM105.7 641.5h1.5v14.9h-1.5zM111.1 641.5h1v14.9h-1zM149.4 641.5h1.3v14.9h-1.3zM211.6 641.5h1.4v14.9h-1.4zM223.3 641.5h1.6v14.9h-1.6zM242.1 641.5h1.2v14.9h-1.2zM262.9 641.5h1.6v14.9h-1.6zM264.5 641.5h1.7v14.9h-1.7zM290.3 641.5h0.7v14.9h-0.7zM257.3 661.9h1v14.9h-1zM258.3 661.9h0.8v14.9h-0.8zM271.8 661.9h0.8v14.9h-0.8zM274.3 661.9h1.5v14.9h-1.5zM277.9 661.9h0.9v14.9h-0.9zM74.4 682.3h0.9v14.9h-0.9zM95.2 682.3h1.4v14.9h-1.4zM96.6 682.3h0.8v14.9h-0.8zM115.5 682.3h2v14.9h-2zM137.6 682.3h2.2v14.9h-2.2zM265.3 682.3h1.2v14.9h-1.2zM290 682.3h1.9v14.9h-1.9zM303.1 682.3h1.8v14.9h-1.8zM304.9 682.3h1.1v14.9h-1.1zM78.7 702.7h1.7v14.9h-1.7zM71.3 723.1h1.4v14.9h-1.4zM78.9 723.1h1.4v14.9h-1.4zM84 723.1h1.6v14.9h-1.6zM242 723.1h2.1v14.9h-2.1zM272.2 723.1h1.3v14.9h-1.3zM274.6 723.1h1.3v14.9h-1.3zM74 743.5h1.2v14.9h-1.2zM90.4 743.5h1.9v14.9h-1.9zM175.8 743.5h1.3v14.9h-1.3zM177.1 743.5h1.2v14.9h-1.2zM265.6 743.5h1.1v14.9h-1.1zM272.1 743.5h1v14.9h-1zM291.6 743.5h1.3v14.9h-1.3zM296.2 743.5h1.8v14.9h-1.8zM73.2 784.2h0.8v14.9h-0.8zM83 784.2h1.5v14.9h-1.5zM306.8 784.2h1.7v14.9h-1.7zM312.5 784.2h1.3v14.9h-1.3zM339.7 784.2h0.8v14.9h-0.8zM74.9 825h2.2v14.9h-2.2zM78 825h1v14.9h-1zM82.4 825h1.6v14.9h-1.6zM104.2 825h1.4v14.9h-1.4zM105.7 825h1.3v14.9h-1.3zM162.7 825h1.7v14.9h-1.7zM281.5 825h1.1v14.9h-1.1zM282.6 825h1.3v14.9h-1.3zM292.1 825h2v14.9h-2zM302.7 825h1.4v14.9h-1.4zM313.2 825h1.6v14.9h-1.6zM134.9 845.4h1.6v14.9h-1.6zM275.6 845.4h1.1v14.9h-1.1zM350 845.4h1.9v14.9h-1.9zM363.7 845.4h1.6v14.9h-1.6zM70.9 865.8h1.9v14.9h-1.9zM86.1 865.8h1.1v14.9h-1.1zM87.2 865.8h1.9v14.9h-1.9zM92.9 865.8h1.5v14.9h-1.5zM98.4 865.8h1v14.9h-1zM111.5 865.8h1.4v14.9h-1.4zM119.7 865.8h2v14.9h-2zM128 865.8h1.8v14.9h-1.8zM314.5 865.8h2.1v14.9h-2.1z"/><path fill="#92b0b6" d="M75.6 478.4h0.9v14.9h-0.9zM174.9 478.4h1.1v14.9h-1.1zM211.5 478.4h1.5v14.9h-1.5zM214 478.4h1.7v14.9h-1.7zM228.6 478.4h1.7v14.9h-1.7zM232.5 478.4h1v14.9h-1zM86 498.8h1.7v14.9h-1.7zM146.8 498.8h1.3v14.9h-1.3zM150 498.8h1.1v14.9h-1.1zM151 498.8h1.4v14.9h-1.4zM152.4 498.8h2.2v14.9h-2.2zM164.6 498.8h1.9v14.9h-1.9zM190 498.8h1.6v14.9h-1.6zM203.8 498.8h1.3v14.9h-1.3zM244.1 498.8h1v14.9h-1zM260.3 498.8h1.8v14.9h-1.8zM264.4 498.8h1.3v14.9h-1.3zM74.9 519.2h1.4v14.9h-1.4zM76.3 519.2h1.9v14.9h-1.9zM85.4 519.2h1.7v14.9h-1.7zM101.8 519.2h2.1v14.9h-2.1zM237 519.2h2.1v14.9h-2.1zM241.1 519.2h1.3v14.9h-1.3zM243.4 519.2h1.4v14.9h-1.4zM246.5 519.2h1.7v14.9h-1.7zM255.7 519.2h1.4v14.9h-1.4zM267.2 519.2h1.5v14.9h-1.5zM272.9 519.2h1.4v14.9h-1.4zM275.5 519.2h1.2v14.9h-1.2zM286.8 519.2h1.6v14.9h-1.6zM289.2 519.2h2.1v14.9h-2.1zM294.7 519.2h1.9v14.9h-1.9zM122.8 539.6h1.4v14.9h-1.4zM166.7 539.6h1.4v14.9h-1.4zM168 539.6h1.3v14.9h-1.3zM173.4 539.6h1.6v14.9h-1.6zM175.8 539.6h0.7v14.9h-0.7zM188 539.6h2.1v14.9h-2.1zM236.7 539.6h1v14.9h-1zM86.2 560h1.3v14.9h-1.3zM87.5 560h1.6v14.9h-1.6zM221.9 560h2v14.9h-2zM231.9 580.4h0.9v14.9h-0.9zM266.1 580.4h1.1v14.9h-1.1zM269.4 580.4h1.6v14.9h-1.6zM271 580.4h0.9v14.9h-0.9zM281 580.4h0.8v14.9h-0.8zM284.3 580.4h1.7v14.9h-1.7zM73.3 600.7h0.9v14.9h-0.9zM98.5 600.7h1.5v14.9h-1.5zM107 600.7h2v14.9h-2zM109.1 600.7h0.7v14.9h-0.7zM109.8 600.7h2v14.9h-2zM117.9 600.7h1.9v14.9h-1.9zM123.8 600.7h1.4v14.9h-1.4zM125.3 600.7h1.1v14.9h-1.1zM281.3 600.7h1.3v14.9h-1.3zM282.6 600.7h0.9v14.9h-0.9zM298.8 600.7h1.3v14.9h-1.3zM310.5 600.7h1.5v14.9h-1.5zM328.4 600.7h0.8v14.9h-0.8zM364.5 600.7h2.2v14.9h-2.2zM366.6 600.7h1.1v14.9h-1.1zM115.9 621.1h1.3v14.9h-1.3zM117.2 621.1h1.5v14.9h-1.5zM120.8 621.1h0.9v14.9h-0.9zM72.3 641.5h1.1v14.9h-1.1zM89.9 641.5h1.1v14.9h-1.1zM100.6 641.5h1.5v14.9h-1.5zM109.3 641.5h1.8v14.9h-1.8zM118.3 641.5h2.1v14.9h-2.1zM163.4 641.5h1.3v14.9h-1.3zM172.1 641.5h0.9v14.9h-0.9zM218 641.5h1.3v14.9h-1.3zM260.8 641.5h2.1v14.9h-2.1zM270 641.5h1.7v14.9h-1.7zM273.6 641.5h1.3v14.9h-1.3zM259.1 661.9h1.5v14.9h-1.5zM266.8 661.9h1.6v14.9h-1.6zM88.8 682.3h1.9v14.9h-1.9zM108.9 682.3h1.3v14.9h-1.3zM111.5 682.3h1.2v14.9h-1.2zM117.4 682.3h0.8v14.9h-0.8zM129.2 682.3h0.8v14.9h-0.8zM167.7 682.3h1.6v14.9h-1.6zM172.6 682.3h1.9v14.9h-1.9zM189.1 682.3h1.2v14.9h-1.2zM195.7 682.3h1.9v14.9h-1.9zM230 682.3h1.5v14.9h-1.5zM287.6 682.3h1.4v14.9h-1.4zM295.4 682.3h1.6v14.9h-1.6zM309.8 682.3h1.1v14.9h-1.1zM315.6 682.3h1.5v14.9h-1.5zM318.1 682.3h0.7v14.9h-0.7zM96.4 702.7h1.3v14.9h-1.3zM229.8 702.7h1.7v14.9h-1.7zM232.3 702.7h0.8v14.9h-0.8zM234.5 702.7h1v14.9h-1zM235.5 702.7h1.2v14.9h-1.2zM251.6 702.7h1.6v14.9h-1.6zM70.2 723.1h1.2v14.9h-1.2zM251 723.1h1.8v14.9h-1.8zM258.2 723.1h2.1v14.9h-2.1zM269 723.1h1.6v14.9h-1.6zM273.5 723.1h1.1v14.9h-1.1zM288.9 723.1h1.7v14.9h-1.7zM298.9 723.1h1.1v14.9h-1.1zM76.2 743.5h1.8v14.9h-1.8zM82.8 743.5h0.7v14.9h-0.7zM83.5 743.5h0.8v14.9h-0.8zM84.4 743.5h1.4v14.9h-1.4zM85.8 743.5h1v14.9h-1zM94.3 743.5h1.6v14.9h-1.6zM106.5 743.5h1.2v14.9h-1.2zM113.7 743.5h1.7v14.9h-1.7zM116.9 743.5h1.4v14.9h-1.4zM122.2 743.5h2v14.9h-2zM134.3 743.5h1.4v14.9h-1.4zM136.9 743.5h1.3v14.9h-1.3zM157.4 743.5h2.1v14.9h-2.1zM167.1 743.5h1.8v14.9h-1.8zM187.4 743.5h1.4v14.9h-1.4zM199.4 743.5h2.1v14.9h-2.1zM226.6 743.5h1.8v14.9h-1.8zM228.5 743.5h1.5v14.9h-1.5zM245 743.5h1.6v14.9h-1.6zM250.7 743.5h1.7v14.9h-1.7zM273.1 743.5h1.3v14.9h-1.3zM288.6 743.5h2v14.9h-2zM68.7 763.9h2.2v14.9h-2.2zM72.9 763.9h1.1v14.9h-1.1zM254.9 763.9h1.2v14.9h-1.2zM261.9 763.9h1v14.9h-1zM314.4 763.9h1.3v14.9h-1.3zM352 763.9h2.2v14.9h-2.2zM68.7 784.2h1.7v14.9h-1.7zM71.8 825h1.6v14.9h-1.6zM85.3 825h1.9v14.9h-1.9zM99.5 825h1.3v14.9h-1.3zM124.1 825h1.3v14.9h-1.3zM133.8 825h1.1v14.9h-1.1zM161.5 825h1.3v14.9h-1.3zM275.6 825h1.5v14.9h-1.5zM278.7 825h1.3v14.9h-1.3zM283.8 825h1.4v14.9h-1.4zM290.9 825h1.2v14.9h-1.2zM295.3 825h1.7v14.9h-1.7zM107.5 845.4h2.1v14.9h-2.1zM126 845.4h1.6v14.9h-1.6zM302.4 845.4h1.6v14.9h-1.6zM351.9 845.4h0.9v14.9h-0.9zM354.9 845.4h1.4v14.9h-1.4zM78.3 865.8h1.6v14.9h-1.6zM89.1 865.8h1.2v14.9h-1.2zM107.5 865.8h1.5v14.9h-1.5zM240 865.8h1.2v14.9h-1.2zM267.5 865.8h1.2v14.9h-1.2zM284.6 865.8h1.7v14.9h-1.7z"/><path fill="#b0c4d0" d="M79.1 478.4h2.1v14.9h-2.1zM83.7 478.4h1v14.9h-1zM89.9 478.4h1.3v14.9h-1.3zM97.3 478.4h1.8v14.9h-1.8zM104.7 478.4h1.5v14.9h-1.5zM125.2 478.4h1.9v14.9h-1.9zM150.8 478.4h1.2v14.9h-1.2zM163.1 478.4h1.1v14.9h-1.1zM177.8 478.4h0.9v14.9h-0.9zM181.4 478.4h1.9v14.9h-1.9zM187.3 478.4h2v14.9h-2zM189.3 478.4h1.1v14.9h-1.1zM197.4 478.4h1v14.9h-1zM226.6 478.4h1.2v14.9h-1.2zM242 478.4h1.7v14.9h-1.7zM247.7 478.4h1.2v14.9h-1.2zM254.5 478.4h1.4v14.9h-1.4zM72.1 498.8h2.1v14.9h-2.1zM100 498.8h2v14.9h-2zM108.2 498.8h1.8v14.9h-1.8zM125 498.8h1v14.9h-1zM155.3 498.8h2.1v14.9h-2.1zM189.6 498.8h0.4v14.9h-0.4zM198.7 498.8h0.8v14.9h-0.8zM243 498.8h1.1v14.9h-1.1zM257.7 498.8h1.7v14.9h-1.7zM88.7 519.2h0.9v14.9h-0.9zM103.9 519.2h0.9v14.9h-0.9zM111.6 519.2h1.3v14.9h-1.3zM119.1 519.2h0.9v14.9h-0.9zM124.6 519.2h1.8v14.9h-1.8zM132.8 519.2h1.3v14.9h-1.3zM152 519.2h1.8v14.9h-1.8zM168.6 519.2h1.6v14.9h-1.6zM171.2 519.2h1.7v14.9h-1.7zM174.4 519.2h1.7v14.9h-1.7zM190.2 519.2h0.8v14.9h-0.8zM215.1 519.2h2v14.9h-2zM222.2 519.2h1.6v14.9h-1.6zM223.7 519.2h1.3v14.9h-1.3zM225 519.2h1.4v14.9h-1.4zM231.2 519.2h1.8v14.9h-1.8zM235 519.2h1v14.9h-1zM276.7 519.2h1.4v14.9h-1.4zM293.6 519.2h1.2v14.9h-1.2zM299.5 519.2h0.5v14.9h-0.5zM331.9 519.2h1v14.9h-1zM74.3 539.6h1.1v14.9h-1.1zM80.1 539.6h1.8v14.9h-1.8zM81.9 539.6h2v14.9h-2zM85.8 539.6h0.9v14.9h-0.9zM89.3 539.6h2v14.9h-2zM134.3 539.6h1.9v14.9h-1.9zM137.9 539.6h1.2v14.9h-1.2zM141.9 539.6h1.1v14.9h-1.1zM149.6 539.6h0.8v14.9h-0.8zM155.9 539.6h2.2v14.9h-2.2zM162.3 539.6h1.8v14.9h-1.8zM174.9 539.6h0.9v14.9h-0.9zM176.5 539.6h1.2v14.9h-1.2zM182.1 539.6h1.2v14.9h-1.2zM192.2 539.6h2.2v14.9h-2.2zM194.3 539.6h2v14.9h-2zM203.9 539.6h0.8v14.9h-0.8zM211.7 539.6h1.3v14.9h-1.3zM234.8 539.6h1.9v14.9h-1.9zM237.7 539.6h0.9v14.9h-0.9zM248.5 539.6h1.6v14.9h-1.6zM255.6 539.6h0.9v14.9h-0.9zM68.7 560h1.8v14.9h-1.8zM70.5 560h1.9v14.9h-1.9zM74.3 560h1.3v14.9h-1.3zM99.2 560h0.9v14.9h-0.9zM127 560h1.1v14.9h-1.1zM151.2 560h1.7v14.9h-1.7zM161.6 560h1.6v14.9h-1.6zM165 560h2v14.9h-2zM230 560h1.5v14.9h-1.5zM85.9 580.4h0.7v14.9h-0.7zM111.5 580.4h0.8v14.9h-0.8zM113.2 580.4h0.8v14.9h-0.8zM156.5 580.4h1.7v14.9h-1.7zM191.7 580.4h2.2v14.9h-2.2zM199.1 580.4h0.8v14.9h-0.8zM216.4 580.4h2v14.9h-2zM232.9 580.4h0.9v14.9h-0.9zM263.1 580.4h1.4v14.9h-1.4zM264.5 580.4h1.6v14.9h-1.6zM267.2 580.4h1v14.9h-1zM280.2 580.4h0.8v14.9h-0.8zM282.7 580.4h1.6v14.9h-1.6zM95.3 600.7h1.1v14.9h-1.1zM96.4 600.7h2v14.9h-2zM116.5 600.7h1.4v14.9h-1.4zM126.3 600.7h2.1v14.9h-2.1zM148.7 600.7h1.7v14.9h-1.7zM157.5 600.7h1.4v14.9h-1.4zM162.5 600.7h0.8v14.9h-0.8zM181 600.7h1.3v14.9h-1.3zM182.3 600.7h1v14.9h-1zM183.4 600.7h1.3v14.9h-1.3zM187.7 600.7h1.2v14.9h-1.2zM190.9 600.7h1.8v14.9h-1.8zM192.7 600.7h1.3v14.9h-1.3zM197.8 600.7h1.7v14.9h-1.7zM199.6 600.7h1.3v14.9h-1.3zM208.8 600.7h2v14.9h-2zM297.4 600.7h1.4v14.9h-1.4zM319.1 600.7h1.6v14.9h-1.6zM325 600.7h1.5v14.9h-1.5zM334.4 600.7h1v14.9h-1zM70.9 621.1h1.2v14.9h-1.2zM86.8 621.1h1.5v14.9h-1.5zM81.1 641.5h0.7v14.9h-0.7zM84.9 641.5h1.5v14.9h-1.5zM94.1 641.5h1.3v14.9h-1.3zM95.4 641.5h1.6v14.9h-1.6zM115.4 641.5h1.1v14.9h-1.1zM132.2 641.5h1.1v14.9h-1.1zM136.6 641.5h1.7v14.9h-1.7zM156.7 641.5h0.9v14.9h-0.9zM160.9 641.5h1.6v14.9h-1.6zM173 641.5h1.6v14.9h-1.6zM174.6 641.5h1.4v14.9h-1.4zM202.7 641.5h2.1v14.9h-2.1zM215 641.5h1.4v14.9h-1.4zM225 641.5h2.1v14.9h-2.1zM227.1 641.5h2.1v14.9h-2.1zM245.4 641.5h0.8v14.9h-0.8zM249.8 641.5h1v14.9h-1zM256.1 641.5h1.2v14.9h-1.2zM257.3 641.5h1.9v14.9h-1.9zM266.2 641.5h1.6v14.9h-1.6zM275 641.5h0.8v14.9h-0.8zM277.4 641.5h1.3v14.9h-1.3zM71.7 661.9h2v14.9h-2zM260.6 661.9h1.2v14.9h-1.2zM261.7 661.9h1.8v14.9h-1.8zM80.9 682.3h2.2v14.9h-2.2zM145.7 682.3h2.2v14.9h-2.2zM154.1 682.3h0.8v14.9h-0.8zM154.9 682.3h0.9v14.9h-0.9zM162.9 682.3h1.6v14.9h-1.6zM169.4 682.3h1.1v14.9h-1.1zM182.3 682.3h2.1v14.9h-2.1zM187.8 682.3h1.2v14.9h-1.2zM191.8 682.3h1.5v14.9h-1.5zM202.6 682.3h1.4v14.9h-1.4zM237 682.3h1.2v14.9h-1.2zM238.2 682.3h1.2v14.9h-1.2zM249.6 682.3h0.8v14.9h-0.8zM259.3 682.3h2v14.9h-2zM271 682.3h1.2v14.9h-1.2zM273.3 682.3h1.7v14.9h-1.7zM286.9 682.3h0.7v14.9h-0.7zM291.9 682.3h2.1v14.9h-2.1zM300.1 682.3h2.2v14.9h-2.2zM307.5 682.3h0.7v14.9h-0.7zM326.4 682.3h1.3v14.9h-1.3zM338.2 682.3h2v14.9h-2zM346 682.3h1v14.9h-1zM93.6 702.7h0.8v14.9h-0.8zM115.8 702.7h1.8v14.9h-1.8zM129.5 702.7h2.2v14.9h-2.2zM131.7 702.7h1.9v14.9h-1.9zM140.8 702.7h1.7v14.9h-1.7zM151.6 702.7h1.3v14.9h-1.3zM152.9 702.7h0.8v14.9h-0.8zM158.4 702.7h1.2v14.9h-1.2zM159.5 702.7h0.5v14.9h-0.5zM193.8 702.7h1.8v14.9h-1.8zM225 702.7h1.8v14.9h-1.8zM231.5 702.7h0.8v14.9h-0.8zM238.7 702.7h0.9v14.9h-0.9zM265 702.7h1.8v14.9h-1.8zM72.7 723.1h1.5v14.9h-1.5zM76.8 723.1h2v14.9h-2zM87.6 723.1h1v14.9h-1zM89.9 723.1h0.7v14.9h-0.7zM90.6 723.1h2.1v14.9h-2.1zM98.2 723.1h1.8v14.9h-1.8zM110 723.1h2.1v14.9h-2.1zM115.6 723.1h1.9v14.9h-1.9zM120 723.1h1.6v14.9h-1.6zM121.6 723.1h1.3v14.9h-1.3zM130.6 723.1h2.1v14.9h-2.1zM164.4 723.1h1.3v14.9h-1.3zM174.6 723.1h2v14.9h-2zM181.4 723.1h2.1v14.9h-2.1zM203.8 723.1h1.8v14.9h-1.8zM225.7 723.1h2v14.9h-2zM238.8 723.1h0.9v14.9h-0.9zM240 723.1h2v14.9h-2zM245.9 723.1h1.1v14.9h-1.1zM248.7 723.1h1.5v14.9h-1.5zM256.8 723.1h1.4v14.9h-1.4zM262.6 723.1h0.8v14.9h-0.8zM265.9 723.1h1.5v14.9h-1.5zM290.6 723.1h1.2v14.9h-1.2zM294.1 723.1h1.1v14.9h-1.1zM302.8 723.1h1.9v14.9h-1.9zM308.5 723.1h0.9v14.9h-0.9zM331.8 723.1h1.8v14.9h-1.8zM333.7 723.1h1.9v14.9h-1.9zM71.8 743.5h2.1v14.9h-2.1zM86.8 743.5h1.7v14.9h-1.7zM100 743.5h1.1v14.9h-1.1zM101.1 743.5h2.1v14.9h-2.1zM107.7 743.5h2v14.9h-2zM111.8 743.5h1.8v14.9h-1.8zM129 743.5h2v14.9h-2zM135.8 743.5h1.2v14.9h-1.2zM140.8 743.5h1.3v14.9h-1.3zM151.1 743.5h1.5v14.9h-1.5zM153.3 743.5h1.3v14.9h-1.3zM159.5 743.5h1.8v14.9h-1.8zM184.4 743.5h1.3v14.9h-1.3zM191.8 743.5h1.9v14.9h-1.9zM196 743.5h1.8v14.9h-1.8zM221.5 743.5h1.4v14.9h-1.4zM262.2 743.5h2.2v14.9h-2.2zM270.9 743.5h1.2v14.9h-1.2zM286.3 743.5h0.8v14.9h-0.8zM292.9 743.5h1.9v14.9h-1.9zM302.2 743.5h1.2v14.9h-1.2zM72 763.9h0.9v14.9h-0.9zM74 763.9h2.2v14.9h-2.2zM78.7 763.9h1.7v14.9h-1.7zM90.5 763.9h1.5v14.9h-1.5zM99.1 763.9h1.2v14.9h-1.2zM150.5 763.9h1.5v14.9h-1.5zM154.6 763.9h1.5v14.9h-1.5zM163.4 763.9h2v14.9h-2zM203.3 763.9h2v14.9h-2zM253.8 763.9h1.2v14.9h-1.2zM258.1 763.9h2v14.9h-2zM278 763.9h1.8v14.9h-1.8zM279.8 763.9h1.1v14.9h-1.1zM286.7 763.9h1.4v14.9h-1.4zM298 763.9h1v14.9h-1zM321.9 763.9h1.9v14.9h-1.9zM327.4 763.9h2.2v14.9h-2.2zM337.5 763.9h2.2v14.9h-2.2zM354.2 763.9h0.8v14.9h-0.8zM80.8 784.2h0.7v14.9h-0.7zM81.5 784.2h1.5v14.9h-1.5zM85.8 784.2h1.2v14.9h-1.2zM155.4 784.2h1v14.9h-1zM200.5 784.2h0.8v14.9h-0.8zM240 784.2h1.5v14.9h-1.5zM249.3 784.2h1.7v14.9h-1.7zM295.5 784.2h1.5v14.9h-1.5zM308.5 784.2h2.1v14.9h-2.1zM322.6 784.2h1.3v14.9h-1.3zM323.9 784.2h1.7v14.9h-1.7zM92.3 804.6h1.3v14.9h-1.3zM138 804.6h1.9v14.9h-1.9zM68.7 825h2.1v14.9h-2.1zM77.1 825h0.9v14.9h-0.9zM79.6 825h1v14.9h-1zM98.4 825h1.2v14.9h-1.2zM112.1 825h0.7v14.9h-0.7zM135.6 825h1.9v14.9h-1.9zM148.2 825h1v14.9h-1zM156.9 825h1.7v14.9h-1.7zM166.2 825h0.7v14.9h-0.7zM168.5 825h2.1v14.9h-2.1zM170.6 825h1v14.9h-1zM181 825h0.9v14.9h-0.9zM181.9 825h0.8v14.9h-0.8zM189.8 825h2v14.9h-2zM220.2 825h1.6v14.9h-1.6zM224.3 825h2v14.9h-2zM229.1 825h1.3v14.9h-1.3zM241.9 825h1v14.9h-1zM265.9 825h2v14.9h-2zM310.1 825h1v14.9h-1zM311.1 825h2.1v14.9h-2.1zM69.7 845.4h2.1v14.9h-2.1zM91.2 845.4h1v14.9h-1zM92.2 845.4h1.4v14.9h-1.4zM97.1 845.4h1.1v14.9h-1.1zM98.2 845.4h0.7v14.9h-0.7zM98.9 845.4h1.2v14.9h-1.2zM101 845.4h1v14.9h-1zM118.7 845.4h1v14.9h-1zM133.3 845.4h1.6v14.9h-1.6zM137.3 845.4h0.7v14.9h-0.7zM140.4 845.4h0.9v14.9h-0.9zM169.4 845.4h2.2v14.9h-2.2zM178.2 845.4h1.5v14.9h-1.5zM191.6 845.4h2.1v14.9h-2.1zM200.4 845.4h2.1v14.9h-2.1zM214.2 845.4h2v14.9h-2zM216.1 845.4h0.8v14.9h-0.8zM243.4 845.4h0.7v14.9h-0.7zM244.1 845.4h1.7v14.9h-1.7zM245.8 845.4h1.8v14.9h-1.8zM265 845.4h1.6v14.9h-1.6zM273.4 845.4h2.2v14.9h-2.2zM284.1 845.4h1.8v14.9h-1.8zM290.5 845.4h2v14.9h-2zM299.4 845.4h2v14.9h-2zM305.6 845.4h1.3v14.9h-1.3zM325.5 845.4h1.9v14.9h-1.9zM329.8 845.4h2.2v14.9h-2.2zM345.6 845.4h1.8v14.9h-1.8zM75.1 865.8h1.1v14.9h-1.1zM76.2 865.8h2.1v14.9h-2.1zM90.3 865.8h0.8v14.9h-0.8zM101.4 865.8h2v14.9h-2zM106.4 865.8h1.2v14.9h-1.2zM109 865.8h1.7v14.9h-1.7zM117.9 865.8h1.8v14.9h-1.8zM121.7 865.8h1.4v14.9h-1.4zM124.4 865.8h1.2v14.9h-1.2zM161.6 865.8h1.8v14.9h-1.8zM163.4 865.8h1.2v14.9h-1.2zM165.7 865.8h0.8v14.9h-0.8zM176.8 865.8h1.2v14.9h-1.2zM235 865.8h1v14.9h-1zM238 865.8h2v14.9h-2zM241.1 865.8h1.1v14.9h-1.1zM242.3 865.8h1.3v14.9h-1.3zM255.3 865.8h1v14.9h-1zM262.6 865.8h1.1v14.9h-1.1zM275.3 865.8h1.5v14.9h-1.5zM276.7 865.8h1.5v14.9h-1.5zM281.7 865.8h1.8v14.9h-1.8zM289.2 865.8h0.8v14.9h-0.8zM300.9 865.8h1.7v14.9h-1.7zM305.8 865.8h1.3v14.9h-1.3zM338.7 865.8h1.2v14.9h-1.2z"/><path fill="#e4ecf4" d="M113.2 478.4h1.3v14.9h-1.3zM119.2 478.4h0.8v14.9h-0.8zM120 478.4h0.9v14.9h-0.9zM143.8 478.4h0.8v14.9h-0.8zM153.5 478.4h0.8v14.9h-0.8zM160.9 478.4h2.2v14.9h-2.2zM166.4 478.4h1.7v14.9h-1.7zM169.9 478.4h0.9v14.9h-0.9zM173.9 478.4h1.1v14.9h-1.1zM203.5 478.4h1.4v14.9h-1.4zM208 478.4h1.8v14.9h-1.8zM213 478.4h1v14.9h-1zM240 478.4h2v14.9h-2zM248.9 478.4h1.5v14.9h-1.5zM256.9 478.4h1.5v14.9h-1.5zM260.2 478.4h1v14.9h-1zM263.2 478.4h1.2v14.9h-1.2zM266.4 478.4h1.5v14.9h-1.5zM77 498.8h1.9v14.9h-1.9zM87.7 498.8h1.4v14.9h-1.4zM93.3 498.8h1.7v14.9h-1.7zM95 498.8h1.7v14.9h-1.7zM118 498.8h2.2v14.9h-2.2zM131.4 498.8h1.7v14.9h-1.7zM154.6 498.8h0.8v14.9h-0.8zM182.1 498.8h2.1v14.9h-2.1zM184.2 498.8h0.7v14.9h-0.7zM191.6 498.8h0.9v14.9h-0.9zM205.1 498.8h1.9v14.9h-1.9zM215.5 498.8h1.5v14.9h-1.5zM225.1 498.8h2.1v14.9h-2.1zM232.1 498.8h1.8v14.9h-1.8zM240.8 498.8h2.2v14.9h-2.2zM248.6 498.8h0.9v14.9h-0.9zM253.8 498.8h2v14.9h-2zM255.8 498.8h1.9v14.9h-1.9zM263.7 498.8h0.7v14.9h-0.7zM273.1 498.8h2.1v14.9h-2.1zM276.9 498.8h0.8v14.9h-0.8zM80 519.2h2v14.9h-2zM91.8 519.2h1.8v14.9h-1.8zM108.2 519.2h1.3v14.9h-1.3zM112.9 519.2h2.2v14.9h-2.2zM156 519.2h1.6v14.9h-1.6zM157.6 519.2h1.6v14.9h-1.6zM164 519.2h1v14.9h-1zM166.7 519.2h1.9v14.9h-1.9zM170.2 519.2h1v14.9h-1zM172.9 519.2h1.5v14.9h-1.5zM185.5 519.2h0.9v14.9h-0.9zM189.3 519.2h0.9v14.9h-0.9zM191 519.2h1.8v14.9h-1.8zM196.6 519.2h1.8v14.9h-1.8zM208.3 519.2h1.4v14.9h-1.4zM209.7 519.2h1.9v14.9h-1.9zM211.6 519.2h1.8v14.9h-1.8zM227.8 519.2h1.4v14.9h-1.4zM236 519.2h1v14.9h-1zM262.7 519.2h1.2v14.9h-1.2zM264.6 519.2h0.8v14.9h-0.8zM265.4 519.2h1.8v14.9h-1.8zM278.1 519.2h1v14.9h-1zM288.4 519.2h0.7v14.9h-0.7zM291.3 519.2h1.1v14.9h-1.1zM306.6 519.2h0.8v14.9h-0.8zM311.8 519.2h2.1v14.9h-2.1zM316.6 519.2h1.8v14.9h-1.8zM320.4 519.2h1.4v14.9h-1.4zM327.7 519.2h0.9v14.9h-0.9zM73.6 539.6h0.7v14.9h-0.7zM76.8 539.6h0.8v14.9h-0.8zM87.8 539.6h1.5v14.9h-1.5zM95 539.6h1.4v14.9h-1.4zM105.4 539.6h1.9v14.9h-1.9zM107.3 539.6h2v14.9h-2zM109.3 539.6h1.3v14.9h-1.3zM111.7 539.6h1.3v14.9h-1.3zM119.2 539.6h1.3v14.9h-1.3zM124.2 539.6h1.5v14.9h-1.5zM125.6 539.6h1.9v14.9h-1.9zM128.5 539.6h1.5v14.9h-1.5zM132.3 539.6h2.1v14.9h-2.1zM139.1 539.6h1.2v14.9h-1.2zM152.3 539.6h0.9v14.9h-0.9zM170.5 539.6h0.7v14.9h-0.7zM191 539.6h1.2v14.9h-1.2zM202.8 539.6h1.1v14.9h-1.1zM207.2 539.6h0.8v14.9h-0.8zM210 539.6h1.7v14.9h-1.7zM215.8 539.6h1.1v14.9h-1.1zM221 539.6h0.8v14.9h-0.8zM228 539.6h2v14.9h-2zM247.5 539.6h0.9v14.9h-0.9zM250 539.6h1.9v14.9h-1.9zM254 539.6h1.6v14.9h-1.6zM256.5 539.6h0.8v14.9h-0.8zM257.3 539.6h1.7v14.9h-1.7zM261.6 539.6h1.6v14.9h-1.6zM263.2 539.6h1.1v14.9h-1.1zM264.3 539.6h2.2v14.9h-2.2zM72.4 560h1.9v14.9h-1.9zM111.5 560h1.1v14.9h-1.1zM112.7 560h0.8v14.9h-0.8zM117 560h1.5v14.9h-1.5zM142.7 560h2.2v14.9h-2.2zM144.9 560h1.5v14.9h-1.5zM203.3 560h2.1v14.9h-2.1zM210.9 560h1v14.9h-1zM211.9 560h0.7v14.9h-0.7zM212.6 560h1v14.9h-1zM228.6 560h1.4v14.9h-1.4zM242.9 560h1v14.9h-1zM249.4 560h1v14.9h-1zM254.3 560h2v14.9h-2zM68.7 580.4h1.1v14.9h-1.1zM76 580.4h0.8v14.9h-0.8zM78.2 580.4h1.8v14.9h-1.8zM91 580.4h1.3v14.9h-1.3zM97.3 580.4h0.9v14.9h-0.9zM112.3 580.4h0.9v14.9h-0.9zM118 580.4h1.6v14.9h-1.6zM122.3 580.4h1.1v14.9h-1.1zM124.7 580.4h1.9v14.9h-1.9zM126.6 580.4h1.1v14.9h-1.1zM133.8 580.4h1v14.9h-1zM152.4 580.4h2v14.9h-2zM158.2 580.4h2.1v14.9h-2.1zM162.3 580.4h1.5v14.9h-1.5zM168.4 580.4h1.8v14.9h-1.8zM176.4 580.4h1.7v14.9h-1.7zM179.8 580.4h1.3v14.9h-1.3zM181.1 580.4h2v14.9h-2zM185.2 580.4h0.7v14.9h-0.7zM187.4 580.4h1.9v14.9h-1.9zM195.5 580.4h1.4v14.9h-1.4zM200 580.4h1.7v14.9h-1.7zM213 580.4h0.9v14.9h-0.9zM213.9 580.4h0.7v14.9h-0.7zM214.6 580.4h1.7v14.9h-1.7zM218.4 580.4h0.9v14.9h-0.9zM235.7 580.4h0.9v14.9h-0.9zM241.7 580.4h1.6v14.9h-1.6zM246.5 580.4h1.1v14.9h-1.1zM249.2 580.4h0.9v14.9h-0.9zM260 580.4h1.3v14.9h-1.3zM261.3 580.4h1.7v14.9h-1.7zM268.2 580.4h1.2v14.9h-1.2zM271.9 580.4h1.1v14.9h-1.1zM81.7 600.7h1.3v14.9h-1.3zM101.1 600.7h0.9v14.9h-0.9zM103 600.7h2.2v14.9h-2.2zM112.5 600.7h1.8v14.9h-1.8zM120.7 600.7h1.8v14.9h-1.8zM139.3 600.7h1.8v14.9h-1.8zM161.7 600.7h0.8v14.9h-0.8zM178.7 600.7h0.8v14.9h-0.8zM221.5 600.7h1.3v14.9h-1.3zM224.6 600.7h0.4v14.9h-0.4zM228.1 600.7h1v14.9h-1zM230.7 600.7h1.3v14.9h-1.3zM242.3 600.7h1.4v14.9h-1.4zM256.8 600.7h1.1v14.9h-1.1zM262.7 600.7h1.9v14.9h-1.9zM265.4 600.7h1.8v14.9h-1.8zM267.2 600.7h1.5v14.9h-1.5zM280 600.7h1.3v14.9h-1.3zM290.6 600.7h0.8v14.9h-0.8zM322.3 600.7h0.8v14.9h-0.8zM342.8 600.7h1.9v14.9h-1.9zM362 600.7h1.4v14.9h-1.4zM372.3 600.7h0.7v14.9h-0.7zM77.7 621.1h1.4v14.9h-1.4zM80.8 621.1h1.4v14.9h-1.4zM100.2 621.1h1.1v14.9h-1.1zM105.3 621.1h0.9v14.9h-0.9zM114.8 621.1h1.1v14.9h-1.1zM119.4 621.1h1.3v14.9h-1.3zM150.7 621.1h1.1v14.9h-1.1zM70.2 641.5h2.1v14.9h-2.1zM97 641.5h1.1v14.9h-1.1zM107.2 641.5h2.1v14.9h-2.1zM126.6 641.5h1.8v14.9h-1.8zM133.3 641.5h1.5v14.9h-1.5zM146.1 641.5h2.2v14.9h-2.2zM162.5 641.5h0.9v14.9h-0.9zM170 641.5h2.1v14.9h-2.1zM197.4 641.5h0.8v14.9h-0.8zM206.4 641.5h1.4v14.9h-1.4zM207.7 641.5h1.5v14.9h-1.5zM214.4 641.5h0.6v14.9h-0.6zM220.5 641.5h1.2v14.9h-1.2zM232.2 641.5h1.5v14.9h-1.5zM278.6 641.5h1.8v14.9h-1.8zM288.8 641.5h1.5v14.9h-1.5zM74.9 661.9h2.2v14.9h-2.2zM92.6 661.9h2.2v14.9h-2.2zM96.2 661.9h1.1v14.9h-1.1zM108.2 661.9h1.3v14.9h-1.3zM124.7 661.9h2v14.9h-2zM132.1 661.9h1.8v14.9h-1.8zM145.9 661.9h0.8v14.9h-0.8zM163.3 661.9h1.3v14.9h-1.3zM167.6 661.9h0.8v14.9h-0.8zM170.2 661.9h1.1v14.9h-1.1zM175.6 661.9h1.6v14.9h-1.6zM185.2 661.9h1.3v14.9h-1.3zM196 661.9h1.5v14.9h-1.5zM203.1 661.9h0.9v14.9h-0.9zM212.4 661.9h1.5v14.9h-1.5zM215.5 661.9h1.5v14.9h-1.5zM219 661.9h1.8v14.9h-1.8zM239 661.9h2.2v14.9h-2.2zM249.5 661.9h0.5v14.9h-0.5zM263.5 661.9h1.8v14.9h-1.8zM275.8 661.9h2.1v14.9h-2.1zM78.3 682.3h1v14.9h-1zM79.3 682.3h1.6v14.9h-1.6zM87.7 682.3h1.1v14.9h-1.1zM90.7 682.3h1.9v14.9h-1.9zM103 682.3h1.5v14.9h-1.5zM104.5 682.3h1v14.9h-1zM107.5 682.3h1.4v14.9h-1.4zM126.6 682.3h1.5v14.9h-1.5zM128.1 682.3h1.1v14.9h-1.1zM130 682.3h1.9v14.9h-1.9zM136 682.3h1.6v14.9h-1.6zM155.8 682.3h1.6v14.9h-1.6zM174.5 682.3h1v14.9h-1zM232.2 682.3h1.1v14.9h-1.1zM234.6 682.3h1v14.9h-1zM248.1 682.3h1.5v14.9h-1.5zM252.5 682.3h2v14.9h-2zM283.9 682.3h1.4v14.9h-1.4zM289 682.3h1v14.9h-1zM294 682.3h1.4v14.9h-1.4zM310.9 682.3h1.4v14.9h-1.4zM322.7 682.3h2.1v14.9h-2.1zM340.2 682.3h1.5v14.9h-1.5zM68.7 702.7h1.3v14.9h-1.3zM70 702.7h1.2v14.9h-1.2zM74.9 702.7h0.9v14.9h-0.9zM80.5 702.7h0.7v14.9h-0.7zM84.7 702.7h0.8v14.9h-0.8zM89.9 702.7h1v14.9h-1zM90.9 702.7h1v14.9h-1zM94.3 702.7h2.1v14.9h-2.1zM98.7 702.7h1.4v14.9h-1.4zM102.4 702.7h1.3v14.9h-1.3zM112.5 702.7h1.4v14.9h-1.4zM113.9 702.7h0.8v14.9h-0.8zM119.2 702.7h1.3v14.9h-1.3zM120.5 702.7h1.2v14.9h-1.2zM128.3 702.7h1.2v14.9h-1.2zM133.5 702.7h1.9v14.9h-1.9zM139.4 702.7h1.4v14.9h-1.4zM170.4 702.7h1.3v14.9h-1.3zM182.5 702.7h1.1v14.9h-1.1zM201.7 702.7h0.9v14.9h-0.9zM207.1 702.7h1.1v14.9h-1.1zM240.7 702.7h1.8v14.9h-1.8zM242.4 702.7h1.9v14.9h-1.9zM244.4 702.7h1.4v14.9h-1.4zM253.2 702.7h0.8v14.9h-0.8zM254 702.7h1.1v14.9h-1.1zM262.5 702.7h1.5v14.9h-1.5zM271 702.7h2.1v14.9h-2.1zM275.8 702.7h0.5v14.9h-0.5zM80.3 723.1h1.8v14.9h-1.8zM113.6 723.1h2v14.9h-2zM127.4 723.1h1.4v14.9h-1.4zM134.2 723.1h1.4v14.9h-1.4zM140.5 723.1h2v14.9h-2zM157.7 723.1h2.2v14.9h-2.2zM169.8 723.1h1.7v14.9h-1.7zM171.6 723.1h0.8v14.9h-0.8zM179.3 723.1h2.1v14.9h-2.1zM192.6 723.1h1.1v14.9h-1.1zM193.6 723.1h0.9v14.9h-0.9zM208.4 723.1h1.1v14.9h-1.1zM211.6 723.1h1.7v14.9h-1.7zM218.8 723.1h1.8v14.9h-1.8zM221.6 723.1h1.4v14.9h-1.4zM247 723.1h1.8v14.9h-1.8zM264.1 723.1h1.7v14.9h-1.7zM270.5 723.1h1.6v14.9h-1.6zM275.9 723.1h1.7v14.9h-1.7zM287.9 723.1h1v14.9h-1zM312.8 723.1h1v14.9h-1zM314.9 723.1h0.8v14.9h-0.8zM319.3 723.1h1.8v14.9h-1.8zM335.6 723.1h1v14.9h-1zM68.7 743.5h1v14.9h-1zM75.2 743.5h1v14.9h-1zM93.2 743.5h1.1v14.9h-1.1zM103.2 743.5h1.1v14.9h-1.1zM109.7 743.5h2.1v14.9h-2.1zM124.2 743.5h2.1v14.9h-2.1zM128.2 743.5h0.9v14.9h-0.9zM131 743.5h1v14.9h-1zM138.3 743.5h1.4v14.9h-1.4zM155.6 743.5h0.7v14.9h-0.7zM170.7 743.5h2v14.9h-2zM178.3 743.5h1.2v14.9h-1.2zM197.8 743.5h1.6v14.9h-1.6zM248.9 743.5h0.8v14.9h-0.8zM249.7 743.5h1v14.9h-1zM258.2 743.5h1.9v14.9h-1.9zM264.4 743.5h1.3v14.9h-1.3zM276.9 743.5h2v14.9h-2zM284.5 743.5h1.8v14.9h-1.8zM298.1 743.5h0.9v14.9h-0.9zM87.9 763.9h1.3v14.9h-1.3zM109.9 763.9h0.8v14.9h-0.8zM136.5 763.9h1.4v14.9h-1.4zM137.9 763.9h0.8v14.9h-0.8zM141.8 763.9h1.2v14.9h-1.2zM144.5 763.9h2.2v14.9h-2.2zM146.7 763.9h2.1v14.9h-2.1zM158.3 763.9h2v14.9h-2zM161.8 763.9h1.6v14.9h-1.6zM170.1 763.9h1.3v14.9h-1.3zM178.1 763.9h1.9v14.9h-1.9zM184 763.9h1v14.9h-1zM192.3 763.9h1.5v14.9h-1.5zM205.3 763.9h1.1v14.9h-1.1zM209.7 763.9h1.7v14.9h-1.7zM229.6 763.9h2.1v14.9h-2.1zM236.2 763.9h1.4v14.9h-1.4zM266.2 763.9h0.9v14.9h-0.9zM269.7 763.9h1.8v14.9h-1.8zM271.5 763.9h1v14.9h-1zM282.8 763.9h1.5v14.9h-1.5zM291.1 763.9h1.4v14.9h-1.4zM299.8 763.9h0.2v14.9h-0.2zM312.9 763.9h1.5v14.9h-1.5zM315.7 763.9h1.5v14.9h-1.5zM74.8 784.2h1.5v14.9h-1.5zM76.3 784.2h2.1v14.9h-2.1zM84.5 784.2h1.3v14.9h-1.3zM94.4 784.2h1v14.9h-1zM97.7 784.2h1.6v14.9h-1.6zM100.4 784.2h2.1v14.9h-2.1zM115.4 784.2h1v14.9h-1zM126.4 784.2h0.8v14.9h-0.8zM133.1 784.2h0.9v14.9h-0.9zM135.7 784.2h1.8v14.9h-1.8zM142 784.2h0.8v14.9h-0.8zM142.9 784.2h1v14.9h-1zM143.9 784.2h2.1v14.9h-2.1zM159.1 784.2h1.6v14.9h-1.6zM160.7 784.2h1.2v14.9h-1.2zM163 784.2h1.3v14.9h-1.3zM174.2 784.2h0.8v14.9h-0.8zM187.6 784.2h1.8v14.9h-1.8zM193.5 784.2h1.4v14.9h-1.4zM196.2 784.2h1.6v14.9h-1.6zM199.6 784.2h0.9v14.9h-0.9zM204.9 784.2h1v14.9h-1zM211.2 784.2h0.7v14.9h-0.7zM213.3 784.2h2v14.9h-2zM220.7 784.2h1.9v14.9h-1.9zM226.2 784.2h0.8v14.9h-0.8zM237.9 784.2h1.8v14.9h-1.8zM239.7 784.2h0.3v14.9h-0.3zM243.7 784.2h1.6v14.9h-1.6zM246.6 784.2h0.8v14.9h-0.8zM247.4 784.2h1.9v14.9h-1.9zM271.5 784.2h0.8v14.9h-0.8zM288.9 784.2h2.1v14.9h-2.1zM298.1 784.2h1.5v14.9h-1.5zM302.5 784.2h1.3v14.9h-1.3zM325.6 784.2h1.6v14.9h-1.6zM334.4 784.2h1.2v14.9h-1.2zM345 784.2h1.8v14.9h-1.8zM75.2 804.6h1.1v14.9h-1.1zM88.5 804.6h1.7v14.9h-1.7zM90.2 804.6h2.1v14.9h-2.1zM93.7 804.6h0.9v14.9h-0.9zM103.5 804.6h2v14.9h-2zM108.3 804.6h1.2v14.9h-1.2zM120.5 804.6h1.9v14.9h-1.9zM130.6 804.6h0.8v14.9h-0.8zM132.8 804.6h1.9v14.9h-1.9zM145.8 804.6h1.9v14.9h-1.9zM157.7 804.6h0.8v14.9h-0.8zM163.5 804.6h1.1v14.9h-1.1zM165 804.6h1.6v14.9h-1.6zM94.5 825h1.9v14.9h-1.9zM100.8 825h1.3v14.9h-1.3zM116.1 825h1v14.9h-1zM132 825h1.8v14.9h-1.8zM134.9 825h0.7v14.9h-0.7zM139 825h2v14.9h-2zM144.5 825h1.1v14.9h-1.1zM153.7 825h1.7v14.9h-1.7zM171.6 825h2v14.9h-2zM173.5 825h1.5v14.9h-1.5zM195.2 825h0.9v14.9h-0.9zM219.4 825h0.9v14.9h-0.9zM223.4 825h0.9v14.9h-0.9zM227.9 825h1.2v14.9h-1.2zM242.9 825h1.7v14.9h-1.7zM244.7 825h2.1v14.9h-2.1zM250.8 825h1.2v14.9h-1.2zM259.4 825h1.9v14.9h-1.9zM277.1 825h1.6v14.9h-1.6zM285.3 825h1.6v14.9h-1.6zM286.8 825h1.8v14.9h-1.8zM289.9 825h1v14.9h-1zM296.9 825h2.1v14.9h-2.1zM299 825h2v14.9h-2zM304.1 825h0.9v14.9h-0.9zM305 825h1.8v14.9h-1.8zM321.4 825h1v14.9h-1zM74.5 845.4h2v14.9h-2zM84.6 845.4h1.9v14.9h-1.9zM88.7 845.4h1.6v14.9h-1.6zM93.6 845.4h0.9v14.9h-0.9zM94.4 845.4h1.5v14.9h-1.5zM100.1 845.4h0.9v14.9h-0.9zM109.6 845.4h1.4v14.9h-1.4zM136.5 845.4h0.8v14.9h-0.8zM148.5 845.4h1.6v14.9h-1.6zM165.3 845.4h1.1v14.9h-1.1zM175.6 845.4h0.7v14.9h-0.7zM181.2 845.4h1.1v14.9h-1.1zM189.7 845.4h0.8v14.9h-0.8zM190.5 845.4h1v14.9h-1zM219.3 845.4h1v14.9h-1zM236.5 845.4h1v14.9h-1zM240.3 845.4h1.2v14.9h-1.2zM247.6 845.4h2.1v14.9h-2.1zM253.5 845.4h0.9v14.9h-0.9zM263.6 845.4h1v14.9h-1zM282.3 845.4h1.8v14.9h-1.8zM294.4 845.4h1.2v14.9h-1.2zM314.8 845.4h1.7v14.9h-1.7zM316.5 845.4h0.9v14.9h-0.9zM358.4 845.4h1.9v14.9h-1.9zM116.9 865.8h1v14.9h-1zM138.9 865.8h2v14.9h-2zM164.6 865.8h1.1v14.9h-1.1zM168 865.8h1.2v14.9h-1.2zM169.1 865.8h1.6v14.9h-1.6zM170.7 865.8h1.9v14.9h-1.9zM184.9 865.8h1.3v14.9h-1.3zM189.2 865.8h0.9v14.9h-0.9zM192.7 865.8h1.4v14.9h-1.4zM204.8 865.8h1.1v14.9h-1.1zM205.8 865.8h0.7v14.9h-0.7zM206.6 865.8h1.1v14.9h-1.1zM212.3 865.8h0.9v14.9h-0.9zM233.2 865.8h1.4v14.9h-1.4zM236 865.8h1.9v14.9h-1.9zM260.5 865.8h2.1v14.9h-2.1zM270.2 865.8h1.3v14.9h-1.3zM273.8 865.8h1.4v14.9h-1.4zM278.3 865.8h1.6v14.9h-1.6zM307.2 865.8h0.7v14.9h-0.7zM310.8 865.8h1.9v14.9h-1.9zM312.7 865.8h1.8v14.9h-1.8zM322.6 865.8h1.3v14.9h-1.3zM329.5 865.8h1.9v14.9h-1.9zM337.8 865.8h0.9v14.9h-0.9z"/><path fill="#a0bca8" d="M183.3 478.4h1.6v14.9h-1.6zM186.4 478.4h1v14.9h-1zM190.4 478.4h2v14.9h-2zM224.5 478.4h2.1v14.9h-2.1zM234.5 478.4h1.3v14.9h-1.3zM253.6 478.4h0.9v14.9h-0.9zM264.5 478.4h2v14.9h-2zM78.9 498.8h1.1v14.9h-1.1zM157.5 498.8h0.9v14.9h-0.9zM158.4 498.8h1.8v14.9h-1.8zM239.4 498.8h1.4v14.9h-1.4zM246.5 498.8h0.9v14.9h-0.9zM251.5 498.8h1.4v14.9h-1.4zM252.8 498.8h1v14.9h-1zM79.2 519.2h0.8v14.9h-0.8zM89.6 519.2h1.1v14.9h-1.1zM106.7 519.2h1.5v14.9h-1.5zM274.3 519.2h1.2v14.9h-1.2zM130.9 539.6h1.4v14.9h-1.4zM143 539.6h1.8v14.9h-1.8zM190.1 539.6h0.9v14.9h-0.9zM97.9 560h1.2v14.9h-1.2zM108.9 560h1v14.9h-1zM113.5 560h2.2v14.9h-2.2zM80.4 600.7h1.4v14.9h-1.4zM91.4 600.7h2.1v14.9h-2.1zM102.1 600.7h0.9v14.9h-0.9zM122.5 600.7h1.3v14.9h-1.3zM304.8 600.7h0.7v14.9h-0.7zM121.7 621.1h1.7v14.9h-1.7zM142 621.1h1.2v14.9h-1.2zM91 641.5h1.9v14.9h-1.9zM120.4 641.5h1.5v14.9h-1.5zM152.5 641.5h1v14.9h-1zM239.1 641.5h1.8v14.9h-1.8zM247.3 641.5h0.8v14.9h-0.8zM250 661.9h2v14.9h-2zM252 661.9h1.7v14.9h-1.7zM272.7 661.9h1.7v14.9h-1.7zM70.2 682.3h1.7v14.9h-1.7zM85.9 682.3h1.8v14.9h-1.8zM102.3 682.3h0.8v14.9h-0.8zM110.1 682.3h1.4v14.9h-1.4zM124.6 682.3h1v14.9h-1zM181.3 682.3h1v14.9h-1zM298.8 682.3h1.3v14.9h-1.3zM228.1 702.7h1.8v14.9h-1.8zM239.6 702.7h1.1v14.9h-1.1zM74.2 723.1h0.9v14.9h-0.9zM92.7 723.1h1.1v14.9h-1.1zM210.5 723.1h1.2v14.9h-1.2zM252.9 723.1h2.1v14.9h-2.1zM279.1 723.1h1.5v14.9h-1.5zM285.9 723.1h2v14.9h-2zM330 723.1h1.8v14.9h-1.8zM88.5 743.5h2v14.9h-2zM104.3 743.5h2.1v14.9h-2.1zM118.3 743.5h1.6v14.9h-1.6zM172.6 743.5h2v14.9h-2zM174.6 743.5h1.1v14.9h-1.1zM182.8 743.5h1.5v14.9h-1.5zM210.7 743.5h1.3v14.9h-1.3zM222.9 743.5h0.9v14.9h-0.9zM260.1 743.5h2.1v14.9h-2.1zM278.9 743.5h1.8v14.9h-1.8zM280.7 743.5h0.8v14.9h-0.8zM70.9 763.9h1.2v14.9h-1.2zM80.4 763.9h1.7v14.9h-1.7zM294.5 763.9h1.4v14.9h-1.4zM300.9 784.2h1.6v14.9h-1.6zM303.9 784.2h1.4v14.9h-1.4zM342 784.2h1.5v14.9h-1.5zM70.8 825h1v14.9h-1zM78.9 825h0.7v14.9h-0.7zM89.5 825h2v14.9h-2zM96.3 825h2v14.9h-2zM216.2 825h1.3v14.9h-1.3zM288.6 825h1.3v14.9h-1.3zM301.1 825h1.6v14.9h-1.6zM352.9 845.4h2v14.9h-2zM368.1 845.4h1.6v14.9h-1.6zM68.7 865.8h2.2v14.9h-2.2zM83 865.8h1.2v14.9h-1.2zM97.5 865.8h0.9v14.9h-0.9zM110.8 865.8h0.8v14.9h-0.8zM113 865.8h1.1v14.9h-1.1zM328.7 865.8h0.8v14.9h-0.8z"/><path fill="#a8c0c8" d="M122 498.8h0.9v14.9h-0.9zM96.4 539.6h1.2v14.9h-1.2zM141.2 580.4h0.8v14.9h-0.8zM153.2 723.1h1.8v14.9h-1.8zM162.3 723.1h2.1v14.9h-2.1zM310.7 723.1h2.1v14.9h-2.1zM92 763.9h1.4v14.9h-1.4zM180 763.9h1.5v14.9h-1.5zM211.4 763.9h1.2v14.9h-1.2zM233.3 763.9h1.6v14.9h-1.6zM266.3 784.2h1.3v14.9h-1.3zM77.8 804.6h1.4v14.9h-1.4zM154.5 804.6h1v14.9h-1zM178.4 825h1.5v14.9h-1.5zM138.9 845.4h1.5v14.9h-1.5zM145.9 845.4h1.1v14.9h-1.1zM198.2 845.4h2.2v14.9h-2.2zM228.3 865.8h1.6v14.9h-1.6z"/></g>
<rect x="3" y="2" width="399" height="1.4" fill="#6a6a6a"/>
<rect x="3" y="438.6" width="399" height="1.4" fill="#111"/>
<rect x="3" y="2" width="2" height="438" fill="#000"/>
<rect x="400" y="2" width="2" height="438" fill="#000"/>
<rect x="409" y="3" width="389" height="1.4" fill="#000"/>
<rect x="409" y="439.6" width="389" height="1.4" fill="#111"/>
<rect x="409" y="3" width="2" height="438" fill="#000"/>
<rect x="796" y="3" width="2" height="438" fill="#000"/>
<rect x="806" y="4" width="390" height="1.4" fill="#000"/>
<rect x="806" y="440.6" width="390" height="1.4" fill="#111"/>
<rect x="806" y="4" width="2" height="438" fill="#000"/>
<rect x="1194" y="4" width="2" height="438" fill="#000"/>
<rect x="4" y="446" width="408" height="1.4" fill="#000"/>
<rect x="4" y="889.6" width="408" height="1.4" fill="#111"/>
<rect x="4" y="446" width="2" height="445" fill="#000"/>
<rect x="410" y="446" width="2" height="445" fill="#000"/>
<rect x="418" y="447" width="780" height="1.4" fill="#000"/>
<rect x="418" y="889.6" width="780" height="1.4" fill="#111"/>
<rect x="418" y="447" width="2" height="444" fill="#777"/>
<rect x="1196" y="447" width="2" height="444" fill="#000"/>
<text x="17" y="24" font-size="31">a</text>
<line x1="66.2" y1="35.5" x2="366.5" y2="35.5" stroke="#b8b8b8" stroke-width="1.3"/>
<line x1="66.2" y1="35.5" x2="66.2" y2="37.3" stroke="#999" stroke-width="1"/>
<line x1="96.2" y1="35.5" x2="96.2" y2="37.3" stroke="#999" stroke-width="1"/>
<line x1="126.3" y1="35.5" x2="126.3" y2="37.3" stroke="#999" stroke-width="1"/>
<line x1="156.3" y1="35.5" x2="156.3" y2="37.3" stroke="#999" stroke-width="1"/>
<line x1="186.3" y1="35.5" x2="186.3" y2="37.3" stroke="#999" stroke-width="1"/>
<line x1="216.4" y1="35.5" x2="216.4" y2="37.3" stroke="#999" stroke-width="1"/>
<line x1="246.4" y1="35.5" x2="246.4" y2="37.3" stroke="#999" stroke-width="1"/>
<line x1="276.4" y1="35.5" x2="276.4" y2="37.3" stroke="#999" stroke-width="1"/>
<line x1="306.4" y1="35.5" x2="306.4" y2="37.3" stroke="#999" stroke-width="1"/>
<line x1="336.5" y1="35.5" x2="336.5" y2="37.3" stroke="#999" stroke-width="1"/>
<line x1="366.5" y1="35.5" x2="366.5" y2="37.3" stroke="#999" stroke-width="1"/>
<text x="96.2" y="25" font-size="5.3" fill="#444" stroke="#777" stroke-width="0.2" text-anchor="middle">16.18Mb</text>
<text x="126.3" y="25" font-size="5.3" fill="#444" stroke="#777" stroke-width="0.2" text-anchor="middle">32.26Mb</text>
<text x="156.3" y="25" font-size="5.3" fill="#444" stroke="#777" stroke-width="0.2" text-anchor="middle">48.39Mb</text>
<text x="186.3" y="25" font-size="5.3" fill="#444" stroke="#777" stroke-width="0.2" text-anchor="middle">64.48Mb</text>
<text x="216.4" y="25" font-size="5.3" fill="#444" stroke="#777" stroke-width="0.2" text-anchor="middle">80.48Mb</text>
<text x="246.4" y="25" font-size="5.3" fill="#444" stroke="#777" stroke-width="0.2" text-anchor="middle">96.56Mb</text>
<text x="276.4" y="25" font-size="5.3" fill="#444" stroke="#777" stroke-width="0.2" text-anchor="middle">112.68Mb</text>
<text x="306.4" y="25" font-size="5.3" fill="#444" stroke="#777" stroke-width="0.2" text-anchor="middle">128.76Mb</text>
<text x="336.5" y="25" font-size="5.3" fill="#444" stroke="#777" stroke-width="0.2" text-anchor="middle">144.85Mb</text>
<text x="366.5" y="25" font-size="5.3" fill="#444" stroke="#777" stroke-width="0.2" text-anchor="middle">160.95Mb</text>
<text x="31" y="50.7" font-size="18.6">A01</text>
<text x="31" y="71.9" font-size="18.6">A02</text>
<text x="31" y="92.6" font-size="18.6">A03</text>
<text x="31" y="112.7" font-size="18.6">A04</text>
<text x="31" y="131.8" font-size="18.6">A05</text>
<text x="31" y="152.3" font-size="18.6">A06</text>
<text x="31" y="171.9" font-size="18.6">A07</text>
<text x="31" y="191.5" font-size="18.6">A08</text>
<text x="31" y="209.4" font-size="18.6">A09</text>
<text x="31" y="231.2" font-size="18.6">A10</text>
<text x="31" y="250.7" font-size="18.6">B01</text>
<text x="31" y="271.7" font-size="18.6">B02</text>
<text x="31" y="291.5" font-size="18.6">B03</text>
<text x="31" y="310" font-size="18.6">B04</text>
<text x="31" y="331.4" font-size="18.6">B05</text>
<text x="31" y="350.7" font-size="18.6">B06</text>
<text x="31" y="369.1" font-size="18.6">B07</text>
<text x="31" y="388.9" font-size="18.6">B08</text>
<text x="31" y="406.6" font-size="18.6">B09</text>
<text x="31" y="428.4" font-size="18.6">B10</text>
<rect x="382" y="282.6" width="8" height="7.6" fill="#8b7e7e"/>
<text x="391.2" y="287" font-size="5" fill="#555">0</text>
<rect x="382" y="289.9" width="8" height="7.6" fill="#8aaad0"/>
<text x="391.2" y="294.3" font-size="5" fill="#555">4</text>
<rect x="382" y="297.3" width="8" height="7.6" fill="#3e8a70"/>
<text x="391.2" y="301.7" font-size="5" fill="#555">8</text>
<rect x="382" y="304.6" width="8" height="7.6" fill="#a8d8a8"/>
<text x="391.2" y="309" font-size="5" fill="#555">12</text>
<rect x="382" y="312" width="8" height="7.6" fill="#8c8c30"/>
<text x="391.2" y="316.4" font-size="5" fill="#555">16</text>
<rect x="382" y="319.3" width="8" height="7.6" fill="#d0c070"/>
<text x="391.2" y="323.7" font-size="5" fill="#555">20</text>
<rect x="382" y="326.6" width="8" height="7.6" fill="#f0a050"/>
<text x="391.2" y="331" font-size="5" fill="#555">24</text>
<rect x="382" y="334" width="8" height="7.6" fill="#f07060"/>
<text x="391.2" y="338.4" font-size="5" fill="#555">28</text>
<rect x="382" y="341.3" width="8" height="7.6" fill="#f04010"/>
<text x="391.2" y="345.7" font-size="5" fill="#555">32</text>
<rect x="382" y="348.7" width="8" height="7.6" fill="#ee0000"/>
<text x="391.2" y="353.1" font-size="5" fill="#555">>32</text>
<text x="415.6" y="28.9" font-size="29.5">b</text>
<line x1="466.4" y1="23" x2="763.7" y2="23" stroke="#b8b8b8" stroke-width="1.3"/>
<line x1="466.4" y1="23" x2="466.4" y2="24.8" stroke="#999" stroke-width="1"/>
<line x1="496.1" y1="23" x2="496.1" y2="24.8" stroke="#999" stroke-width="1"/>
<line x1="525.9" y1="23" x2="525.9" y2="24.8" stroke="#999" stroke-width="1"/>
<line x1="555.6" y1="23" x2="555.6" y2="24.8" stroke="#999" stroke-width="1"/>
<line x1="585.3" y1="23" x2="585.3" y2="24.8" stroke="#999" stroke-width="1"/>
<line x1="615" y1="23" x2="615" y2="24.8" stroke="#999" stroke-width="1"/>
<line x1="644.8" y1="23" x2="644.8" y2="24.8" stroke="#999" stroke-width="1"/>
<line x1="674.5" y1="23" x2="674.5" y2="24.8" stroke="#999" stroke-width="1"/>
<line x1="704.2" y1="23" x2="704.2" y2="24.8" stroke="#999" stroke-width="1"/>
<line x1="734" y1="23" x2="734" y2="24.8" stroke="#999" stroke-width="1"/>
<line x1="763.7" y1="23" x2="763.7" y2="24.8" stroke="#999" stroke-width="1"/>
<text x="496.1" y="12.5" font-size="5.3" fill="#444" stroke="#777" stroke-width="0.2" text-anchor="middle">16.88Mb</text>
<text x="525.9" y="12.5" font-size="5.3" fill="#444" stroke="#777" stroke-width="0.2" text-anchor="middle">33.68Mb</text>
<text x="555.6" y="12.5" font-size="5.3" fill="#444" stroke="#777" stroke-width="0.2" text-anchor="middle">50.48Mb</text>
<text x="585.3" y="12.5" font-size="5.3" fill="#444" stroke="#777" stroke-width="0.2" text-anchor="middle">67.28Mb</text>
<text x="615" y="12.5" font-size="5.3" fill="#444" stroke="#777" stroke-width="0.2" text-anchor="middle">84.18Mb</text>
<text x="644.8" y="12.5" font-size="5.3" fill="#444" stroke="#777" stroke-width="0.2" text-anchor="middle">100.98Mb</text>
<text x="674.5" y="12.5" font-size="5.3" fill="#444" stroke="#777" stroke-width="0.2" text-anchor="middle">117.78Mb</text>
<text x="704.2" y="12.5" font-size="5.3" fill="#444" stroke="#777" stroke-width="0.2" text-anchor="middle">134.58Mb</text>
<text x="734" y="12.5" font-size="5.3" fill="#444" stroke="#777" stroke-width="0.2" text-anchor="middle">151.38Mb</text>
<text x="763.7" y="12.5" font-size="5.3" fill="#444" stroke="#777" stroke-width="0.2" text-anchor="middle">168.29Mb</text>
<text x="432.8" y="41.8" font-size="18.3" textLength="29.5" lengthAdjust="spacingAndGlyphs">A01</text>
<text x="432.8" y="64.7" font-size="18.3" textLength="29.5" lengthAdjust="spacingAndGlyphs">A02</text>
<text x="432.8" y="86" font-size="18.3" textLength="29.5" lengthAdjust="spacingAndGlyphs">A03</text>
<text x="432.8" y="106.1" font-size="18.3" textLength="29.5" lengthAdjust="spacingAndGlyphs">A04</text>
<text x="432.8" y="125.5" font-size="18.3" textLength="29.5" lengthAdjust="spacingAndGlyphs">A05</text>
<text x="432.8" y="145.7" font-size="18.3" textLength="29.5" lengthAdjust="spacingAndGlyphs">A06</text>
<text x="432.8" y="166.9" font-size="18.3" textLength="29.5" lengthAdjust="spacingAndGlyphs">A07</text>
<text x="432.8" y="187.1" font-size="18.3" textLength="29.5" lengthAdjust="spacingAndGlyphs">A08</text>
<text x="432.8" y="204.4" font-size="18.3" textLength="29.5" lengthAdjust="spacingAndGlyphs">A09</text>
<text x="432.8" y="225.2" font-size="18.3" textLength="29.5" lengthAdjust="spacingAndGlyphs">A10</text>
<text x="432.8" y="247.4" font-size="18.3" textLength="29.5" lengthAdjust="spacingAndGlyphs">B01</text>
<text x="432.8" y="268.6" font-size="18.3" textLength="29.5" lengthAdjust="spacingAndGlyphs">B02</text>
<text x="432.8" y="287.6" font-size="18.3" textLength="29.5" lengthAdjust="spacingAndGlyphs">B03</text>
<text x="432.8" y="306.1" font-size="18.3" textLength="29.5" lengthAdjust="spacingAndGlyphs">B04</text>
<text x="432.8" y="327.4" font-size="18.3" textLength="29.5" lengthAdjust="spacingAndGlyphs">B05</text>
<text x="432.8" y="347.8" font-size="18.3" textLength="29.5" lengthAdjust="spacingAndGlyphs">B06</text>
<text x="432.8" y="366.2" font-size="18.3" textLength="29.5" lengthAdjust="spacingAndGlyphs">B07</text>
<text x="432.8" y="385.3" font-size="18.3" textLength="29.5" lengthAdjust="spacingAndGlyphs">B08</text>
<text x="432.8" y="405.6" font-size="18.3" textLength="29.5" lengthAdjust="spacingAndGlyphs">B09</text>
<text x="432.8" y="427.1" font-size="18.3" textLength="29.5" lengthAdjust="spacingAndGlyphs">B10</text>
<rect x="778.7" y="327.6" width="7.1" height="8" fill="#8b7e7e"/>
<text x="787" y="332.2" font-size="5" fill="#555">0</text>
<rect x="778.7" y="335.2" width="7.1" height="8" fill="#8aaad0"/>
<text x="787" y="339.8" font-size="5" fill="#555">1</text>
<rect x="778.7" y="342.9" width="7.1" height="8" fill="#3e8a70"/>
<text x="787" y="347.5" font-size="5" fill="#555">2</text>
<rect x="778.7" y="350.6" width="7.1" height="8" fill="#a8d8a8"/>
<text x="787" y="355.1" font-size="5" fill="#555">3</text>
<rect x="778.7" y="358.2" width="7.1" height="8" fill="#8c8c30"/>
<text x="787" y="362.8" font-size="5" fill="#555">4</text>
<rect x="778.7" y="365.9" width="7.1" height="8" fill="#d0c070"/>
<text x="787" y="370.4" font-size="5" fill="#555">5</text>
<rect x="778.7" y="373.5" width="7.1" height="8" fill="#f0a050"/>
<text x="787" y="378.1" font-size="5" fill="#555">6</text>
<rect x="778.7" y="381.2" width="7.1" height="8" fill="#f07060"/>
<text x="787" y="385.7" font-size="5" fill="#555">7</text>
<rect x="778.7" y="388.8" width="7.1" height="8" fill="#f04010"/>
<text x="787" y="393.4" font-size="5" fill="#555">8</text>
<rect x="778.7" y="396.5" width="7.1" height="8" fill="#ee0000"/>
<text x="787" y="401" font-size="5" fill="#555">>8</text>
<text x="812.7" y="21" font-size="31">c</text>
<line x1="857.3" y1="22" x2="1162.5" y2="22" stroke="#b8b8b8" stroke-width="1.3"/>
<line x1="857.3" y1="22" x2="857.3" y2="23.8" stroke="#999" stroke-width="1"/>
<line x1="887.8" y1="22" x2="887.8" y2="23.8" stroke="#999" stroke-width="1"/>
<line x1="918.3" y1="22" x2="918.3" y2="23.8" stroke="#999" stroke-width="1"/>
<line x1="948.9" y1="22" x2="948.9" y2="23.8" stroke="#999" stroke-width="1"/>
<line x1="979.4" y1="22" x2="979.4" y2="23.8" stroke="#999" stroke-width="1"/>
<line x1="1009.9" y1="22" x2="1009.9" y2="23.8" stroke="#999" stroke-width="1"/>
<line x1="1040.4" y1="22" x2="1040.4" y2="23.8" stroke="#999" stroke-width="1"/>
<line x1="1070.9" y1="22" x2="1070.9" y2="23.8" stroke="#999" stroke-width="1"/>
<line x1="1101.5" y1="22" x2="1101.5" y2="23.8" stroke="#999" stroke-width="1"/>
<line x1="1132" y1="22" x2="1132" y2="23.8" stroke="#999" stroke-width="1"/>
<line x1="1162.5" y1="22" x2="1162.5" y2="23.8" stroke="#999" stroke-width="1"/>
<text x="887.8" y="12" font-size="5.3" fill="#444" stroke="#777" stroke-width="0.2" text-anchor="middle">16.10Mb</text>
<text x="918.3" y="12" font-size="5.3" fill="#444" stroke="#777" stroke-width="0.2" text-anchor="middle">32.20Mb</text>
<text x="948.9" y="12" font-size="5.3" fill="#444" stroke="#777" stroke-width="0.2" text-anchor="middle">48.30Mb</text>
<text x="979.4" y="12" font-size="5.3" fill="#444" stroke="#777" stroke-width="0.2" text-anchor="middle">64.40Mb</text>
<text x="1009.9" y="12" font-size="5.3" fill="#444" stroke="#777" stroke-width="0.2" text-anchor="middle">80.49Mb</text>
<text x="1040.4" y="12" font-size="5.3" fill="#444" stroke="#777" stroke-width="0.2" text-anchor="middle">96.59Mb</text>
<text x="1070.9" y="12" font-size="5.3" fill="#444" stroke="#777" stroke-width="0.2" text-anchor="middle">112.68Mb</text>
<text x="1101.5" y="12" font-size="5.3" fill="#444" stroke="#777" stroke-width="0.2" text-anchor="middle">128.78Mb</text>
<text x="1132" y="12" font-size="5.3" fill="#444" stroke="#777" stroke-width="0.2" text-anchor="middle">144.88Mb</text>
<text x="1162.5" y="12" font-size="5.3" fill="#444" stroke="#777" stroke-width="0.2" text-anchor="middle">160.95Mb</text>
<text x="822" y="36.8" font-size="18.2" textLength="29.4" lengthAdjust="spacingAndGlyphs">A01</text>
<text x="822" y="59.7" font-size="18.2" textLength="29.4" lengthAdjust="spacingAndGlyphs">A02</text>
<text x="822" y="81" font-size="18.2" textLength="29.4" lengthAdjust="spacingAndGlyphs">A03</text>
<text x="822" y="101.1" font-size="18.2" textLength="29.4" lengthAdjust="spacingAndGlyphs">A04</text>
<text x="822" y="120.5" font-size="18.2" textLength="29.4" lengthAdjust="spacingAndGlyphs">A05</text>
<text x="822" y="140.7" font-size="18.2" textLength="29.4" lengthAdjust="spacingAndGlyphs">A06</text>
<text x="822" y="161.9" font-size="18.2" textLength="29.4" lengthAdjust="spacingAndGlyphs">A07</text>
<text x="822" y="182.1" font-size="18.2" textLength="29.4" lengthAdjust="spacingAndGlyphs">A08</text>
<text x="822" y="199.4" font-size="18.2" textLength="29.4" lengthAdjust="spacingAndGlyphs">A09</text>
<text x="822" y="220.2" font-size="18.2" textLength="29.4" lengthAdjust="spacingAndGlyphs">A10</text>
<text x="822" y="242.4" font-size="18.2" textLength="29.4" lengthAdjust="spacingAndGlyphs">B01</text>
<text x="822" y="263.6" font-size="18.2" textLength="29.4" lengthAdjust="spacingAndGlyphs">B02</text>
<text x="822" y="282.6" font-size="18.2" textLength="29.4" lengthAdjust="spacingAndGlyphs">B03</text>
<text x="822" y="301.1" font-size="18.2" textLength="29.4" lengthAdjust="spacingAndGlyphs">B04</text>
<text x="822" y="322.4" font-size="18.2" textLength="29.4" lengthAdjust="spacingAndGlyphs">B05</text>
<text x="822" y="342.8" font-size="18.2" textLength="29.4" lengthAdjust="spacingAndGlyphs">B06</text>
<text x="822" y="361.2" font-size="18.2" textLength="29.4" lengthAdjust="spacingAndGlyphs">B07</text>
<text x="822" y="380.3" font-size="18.2" textLength="29.4" lengthAdjust="spacingAndGlyphs">B08</text>
<text x="822" y="400.6" font-size="18.2" textLength="29.4" lengthAdjust="spacingAndGlyphs">B09</text>
<text x="822" y="422.1" font-size="18.2" textLength="29.4" lengthAdjust="spacingAndGlyphs">B10</text>
<rect x="1178" y="269.6" width="7.3" height="7.7" fill="#8b7e7e"/>
<text x="1186.5" y="274.1" font-size="5" fill="#555">0</text>
<rect x="1178" y="277" width="7.3" height="7.7" fill="#8aaad0"/>
<text x="1186.5" y="281.5" font-size="5" fill="#555">1</text>
<rect x="1178" y="284.5" width="7.3" height="7.7" fill="#3e8a70"/>
<text x="1186.5" y="288.9" font-size="5" fill="#555">2</text>
<rect x="1178" y="291.9" width="7.3" height="7.7" fill="#a8d8a8"/>
<text x="1186.5" y="296.3" font-size="5" fill="#555">3</text>
<rect x="1178" y="299.3" width="7.3" height="7.7" fill="#8c8c30"/>
<text x="1186.5" y="303.8" font-size="5" fill="#555">4</text>
<rect x="1178" y="306.8" width="7.3" height="7.7" fill="#d0c070"/>
<text x="1186.5" y="311.2" font-size="5" fill="#555">5</text>
<rect x="1178" y="314.2" width="7.3" height="7.7" fill="#f0a050"/>
<text x="1186.5" y="318.6" font-size="5" fill="#555">6</text>
<rect x="1178" y="321.6" width="7.3" height="7.7" fill="#f07060"/>
<text x="1186.5" y="326.1" font-size="5" fill="#555">7</text>
<rect x="1178" y="329" width="7.3" height="7.7" fill="#f04010"/>
<text x="1186.5" y="333.5" font-size="5" fill="#555">8</text>
<rect x="1178" y="336.5" width="7.3" height="7.7" fill="#ee0000"/>
<text x="1186.5" y="340.9" font-size="5" fill="#555">>8</text>
<text x="12.6" y="471.2" font-size="29.5">d</text>
<line x1="68.2" y1="473.3" x2="379.8" y2="473.3" stroke="#b8b8b8" stroke-width="1.3"/>
<line x1="68.2" y1="473.3" x2="68.2" y2="475.1" stroke="#999" stroke-width="1"/>
<line x1="99.4" y1="473.3" x2="99.4" y2="475.1" stroke="#999" stroke-width="1"/>
<line x1="130.5" y1="473.3" x2="130.5" y2="475.1" stroke="#999" stroke-width="1"/>
<line x1="161.7" y1="473.3" x2="161.7" y2="475.1" stroke="#999" stroke-width="1"/>
<line x1="192.8" y1="473.3" x2="192.8" y2="475.1" stroke="#999" stroke-width="1"/>
<line x1="224" y1="473.3" x2="224" y2="475.1" stroke="#999" stroke-width="1"/>
<line x1="255.2" y1="473.3" x2="255.2" y2="475.1" stroke="#999" stroke-width="1"/>
<line x1="286.3" y1="473.3" x2="286.3" y2="475.1" stroke="#999" stroke-width="1"/>
<line x1="317.5" y1="473.3" x2="317.5" y2="475.1" stroke="#999" stroke-width="1"/>
<line x1="348.6" y1="473.3" x2="348.6" y2="475.1" stroke="#999" stroke-width="1"/>
<line x1="379.8" y1="473.3" x2="379.8" y2="475.1" stroke="#999" stroke-width="1"/>
<text x="99.4" y="462.5" font-size="5.3" fill="#444" stroke="#777" stroke-width="0.2" text-anchor="middle">16.89Mb</text>
<text x="130.5" y="462.5" font-size="5.3" fill="#444" stroke="#777" stroke-width="0.2" text-anchor="middle">33.68Mb</text>
<text x="161.7" y="462.5" font-size="5.3" fill="#444" stroke="#777" stroke-width="0.2" text-anchor="middle">50.48Mb</text>
<text x="192.8" y="462.5" font-size="5.3" fill="#444" stroke="#777" stroke-width="0.2" text-anchor="middle">67.28Mb</text>
<text x="224" y="462.5" font-size="5.3" fill="#444" stroke="#777" stroke-width="0.2" text-anchor="middle">84.18Mb</text>
<text x="255.2" y="462.5" font-size="5.3" fill="#444" stroke="#777" stroke-width="0.2" text-anchor="middle">100.98Mb</text>
<text x="286.3" y="462.5" font-size="5.3" fill="#444" stroke="#777" stroke-width="0.2" text-anchor="middle">117.78Mb</text>
<text x="317.5" y="462.5" font-size="5.3" fill="#444" stroke="#777" stroke-width="0.2" text-anchor="middle">134.58Mb</text>
<text x="348.6" y="462.5" font-size="5.3" fill="#444" stroke="#777" stroke-width="0.2" text-anchor="middle">151.38Mb</text>
<text x="379.8" y="462.5" font-size="5.3" fill="#444" stroke="#777" stroke-width="0.2" text-anchor="middle">168.29Mb</text>
<text x="31.5" y="491.8" font-size="18.3" textLength="29.5" lengthAdjust="spacingAndGlyphs">A01</text>
<text x="31.5" y="513.1" font-size="18.3" textLength="29.5" lengthAdjust="spacingAndGlyphs">A02</text>
<text x="31.5" y="534.9" font-size="18.3" textLength="29.5" lengthAdjust="spacingAndGlyphs">A03</text>
<text x="31.5" y="556.1" font-size="18.3" textLength="29.5" lengthAdjust="spacingAndGlyphs">A04</text>
<text x="31.5" y="575.5" font-size="18.3" textLength="29.5" lengthAdjust="spacingAndGlyphs">A05</text>
<text x="31.5" y="596.8" font-size="18.3" textLength="29.5" lengthAdjust="spacingAndGlyphs">A06</text>
<text x="31.5" y="617" font-size="18.3" textLength="29.5" lengthAdjust="spacingAndGlyphs">A07</text>
<text x="31.5" y="636" font-size="18.3" textLength="29.5" lengthAdjust="spacingAndGlyphs">A08</text>
<text x="31.5" y="656.7" font-size="18.3" textLength="29.5" lengthAdjust="spacingAndGlyphs">A09</text>
<text x="31.5" y="677.5" font-size="18.3" textLength="29.5" lengthAdjust="spacingAndGlyphs">A10</text>
<text x="31.5" y="699.6" font-size="18.3" textLength="29.5" lengthAdjust="spacingAndGlyphs">B01</text>
<text x="31.5" y="720.9" font-size="18.3" textLength="29.5" lengthAdjust="spacingAndGlyphs">B02</text>
<text x="31.5" y="739.9" font-size="18.3" textLength="29.5" lengthAdjust="spacingAndGlyphs">B03</text>
<text x="31.5" y="760" font-size="18.3" textLength="29.5" lengthAdjust="spacingAndGlyphs">B04</text>
<text x="31.5" y="780.9" font-size="18.3" textLength="29.5" lengthAdjust="spacingAndGlyphs">B05</text>
<text x="31.5" y="800.6" font-size="18.3" textLength="29.5" lengthAdjust="spacingAndGlyphs">B06</text>
<text x="31.5" y="820.2" font-size="18.3" textLength="29.5" lengthAdjust="spacingAndGlyphs">B07</text>
<text x="31.5" y="840.1" font-size="18.3" textLength="29.5" lengthAdjust="spacingAndGlyphs">B08</text>
<text x="31.5" y="860.1" font-size="18.3" textLength="29.5" lengthAdjust="spacingAndGlyphs">B09</text>
<text x="31.5" y="879.4" font-size="18.3" textLength="29.5" lengthAdjust="spacingAndGlyphs">B10</text>
<rect x="395.3" y="779" width="7.9" height="7.9" fill="#8b7e7e"/>
<text x="404.4" y="783.6" font-size="5" fill="#555">0</text>
<rect x="395.3" y="786.6" width="7.9" height="7.9" fill="#8aaad0"/>
<text x="404.4" y="791.2" font-size="5" fill="#555">1</text>
<rect x="395.3" y="794.3" width="7.9" height="7.9" fill="#3e8a70"/>
<text x="404.4" y="798.8" font-size="5" fill="#555">2</text>
<rect x="395.3" y="801.9" width="7.9" height="7.9" fill="#a8d8a8"/>
<text x="404.4" y="806.5" font-size="5" fill="#555">3</text>
<rect x="395.3" y="809.5" width="7.9" height="7.9" fill="#8c8c30"/>
<text x="404.4" y="814.1" font-size="5" fill="#555">4</text>
<rect x="395.3" y="817.1" width="7.9" height="7.9" fill="#d0c070"/>
<text x="404.4" y="821.7" font-size="5" fill="#555">5</text>
<rect x="395.3" y="824.8" width="7.9" height="7.9" fill="#f0a050"/>
<text x="404.4" y="829.4" font-size="5" fill="#555">6</text>
<rect x="395.3" y="832.4" width="7.9" height="7.9" fill="#f07060"/>
<text x="404.4" y="837" font-size="5" fill="#555">7</text>
<rect x="395.3" y="840" width="7.9" height="7.9" fill="#f04010"/>
<text x="404.4" y="844.6" font-size="5" fill="#555">8</text>
<rect x="395.3" y="847.7" width="7.9" height="7.9" fill="#ee0000"/>
<text x="404.4" y="852.2" font-size="5" fill="#555">>8</text>
<text x="433.8" y="488.7" font-size="31">e</text>
<text x="638" y="503.7" font-size="21" textLength="407" lengthAdjust="spacing">Percentage of SNPs with MAF threshold levels</text>
<rect x="562.6" y="530.3" width="4" height="257.4" fill="#f3f3f3"/>
<rect x="533" y="526.3" width="29" height="261.4" fill="url(#gb)" stroke="#5c80d0" stroke-width="1.2"/>
<text x="528" y="519.2" font-size="14.2" fill="#222" textLength="39.6" lengthAdjust="spacingAndGlyphs">99.53%</text>
<rect x="599.2" y="538.3" width="4" height="249.4" fill="#f3f3f3"/>
<rect x="569.6" y="534.3" width="29" height="253.4" fill="url(#go)" stroke="#e89a6a" stroke-width="1.2"/>
<text x="571.3" y="529.6" font-size="14.2" fill="#222" textLength="39.6" lengthAdjust="spacingAndGlyphs">96.48%</text>
<rect x="635.8" y="634.9" width="4" height="152.8" fill="#f3f3f3"/>
<rect x="606.2" y="630.9" width="29" height="156.8" fill="url(#gy)" stroke="#e8c040" stroke-width="1.2"/>
<text x="606.8" y="624" font-size="14.2" fill="#222" textLength="39.6" lengthAdjust="spacingAndGlyphs">59.72%</text>
<rect x="735.9" y="688.5" width="4" height="99.2" fill="#f3f3f3"/>
<rect x="706.3" y="684.5" width="29" height="103.2" fill="url(#gb)" stroke="#5c80d0" stroke-width="1.2"/>
<text x="703" y="679.6" font-size="14.2" fill="#222" textLength="39.6" lengthAdjust="spacingAndGlyphs">39.29%</text>
<rect x="772.5" y="710.2" width="4" height="77.5" fill="#f3f3f3"/>
<rect x="742.9" y="706.2" width="29" height="81.5" fill="url(#go)" stroke="#e89a6a" stroke-width="1.2"/>
<text x="743" y="702.4" font-size="14.2" fill="#222" textLength="39.6" lengthAdjust="spacingAndGlyphs">31.03%</text>
<rect x="809.1" y="749.6" width="4" height="38.1" fill="#f3f3f3"/>
<rect x="779.5" y="745.6" width="29" height="42.1" fill="url(#gy)" stroke="#e8c040" stroke-width="1.2"/>
<text x="778" y="742.5" font-size="14.2" fill="#222" textLength="39.6" lengthAdjust="spacingAndGlyphs">16.02%</text>
<rect x="908.6" y="602.3" width="4" height="185.4" fill="#f3f3f3"/>
<rect x="879" y="598.3" width="29" height="189.4" fill="url(#gb)" stroke="#5c80d0" stroke-width="1.2"/>
<text x="876.8" y="594.1" font-size="14.2" fill="#222" textLength="39.6" lengthAdjust="spacingAndGlyphs">72.13%</text>
<rect x="945.2" y="634.4" width="4" height="153.3" fill="#f3f3f3"/>
<rect x="915.6" y="630.4" width="29" height="157.3" fill="url(#go)" stroke="#e89a6a" stroke-width="1.2"/>
<text x="912.4" y="626.1" font-size="14.2" fill="#222" textLength="39.6" lengthAdjust="spacingAndGlyphs">59.91%</text>
<rect x="981.8" y="683.8" width="4" height="103.9" fill="#f3f3f3"/>
<rect x="952.2" y="679.8" width="29" height="107.9" fill="url(#gy)" stroke="#e8c040" stroke-width="1.2"/>
<text x="951.2" y="674.7" font-size="14.2" fill="#222" textLength="39.6" lengthAdjust="spacingAndGlyphs">41.10%</text>
<rect x="1081.6" y="689.7" width="4" height="98" fill="#f3f3f3"/>
<rect x="1052" y="685.7" width="29" height="102" fill="url(#gb)" stroke="#5c80d0" stroke-width="1.2"/>
<text x="1050.4" y="681.4" font-size="14.2" fill="#222" textLength="39.6" lengthAdjust="spacingAndGlyphs">38.85%</text>
<rect x="1118.2" y="706.5" width="4" height="81.2" fill="#f3f3f3"/>
<rect x="1088.6" y="702.5" width="29" height="85.2" fill="url(#go)" stroke="#e89a6a" stroke-width="1.2"/>
<text x="1086.7" y="698" font-size="14.2" fill="#222" textLength="39.6" lengthAdjust="spacingAndGlyphs">32.44%</text>
<rect x="1154.8" y="735.8" width="4" height="51.9" fill="#f3f3f3"/>
<rect x="1125.2" y="731.8" width="29" height="55.9" fill="url(#gy)" stroke="#e8c040" stroke-width="1.2"/>
<text x="1124.6" y="725.8" font-size="14.2" fill="#222" textLength="39.6" lengthAdjust="spacingAndGlyphs">21.29%</text>
<line x1="497.3" y1="526" x2="497.3" y2="787.5" stroke="#777" stroke-width="1.8"/>
<line x1="496.4" y1="786.9" x2="1173.3" y2="786.9" stroke="#666" stroke-width="1.8"/>
<text x="492" y="536.3" font-size="18" text-anchor="end">100%</text>
<text x="492" y="562.3" font-size="18" text-anchor="end">90%</text>
<text x="492" y="588" font-size="18" text-anchor="end">80%</text>
<text x="492" y="614.7" font-size="18" text-anchor="end">70%</text>
<text x="492" y="639.7" font-size="18" text-anchor="end">60%</text>
<text x="492" y="665.7" font-size="18" text-anchor="end">50%</text>
<text x="492" y="690.3" font-size="18" text-anchor="end">40%</text>
<text x="492" y="713.7" font-size="18" text-anchor="end">30%</text>
<text x="492" y="737.7" font-size="18" text-anchor="end">20%</text>
<text x="492" y="761.7" font-size="18" text-anchor="end">10%</text>
<text x="463.6" y="785" font-size="18" textLength="24.5" lengthAdjust="spacing">0%</text>
<text x="509.7" y="812.7" font-size="18.5" textLength="131.6" lengthAdjust="spacing">PHR0301_Ah10K</text>
<text x="703" y="812.7" font-size="18.5" textLength="98.3" lengthAdjust="spacing">Arachis_hy01</text>
<text x="876.7" y="811.7" font-size="18.5" textLength="99.3" lengthAdjust="spacing">Arachis_hy02</text>
<text x="1047.3" y="815" font-size="18.5" textLength="99.4" lengthAdjust="spacing">Arachis_hy03</text>
<rect x="633" y="846" width="25" height="22" fill="#0068c0"/>
<text x="664" y="865" font-size="18">MAF&gt;5%</text>
<rect x="797.6" y="846" width="25" height="22" fill="#ed7d31"/>
<text x="830" y="865" font-size="18">MAF&gt;10%</text>
<rect x="945" y="846" width="25" height="22" fill="#f2b800"/>
<text x="976.7" y="865" font-size="18">MAF&gt;20%</text>
</svg></body></html>
